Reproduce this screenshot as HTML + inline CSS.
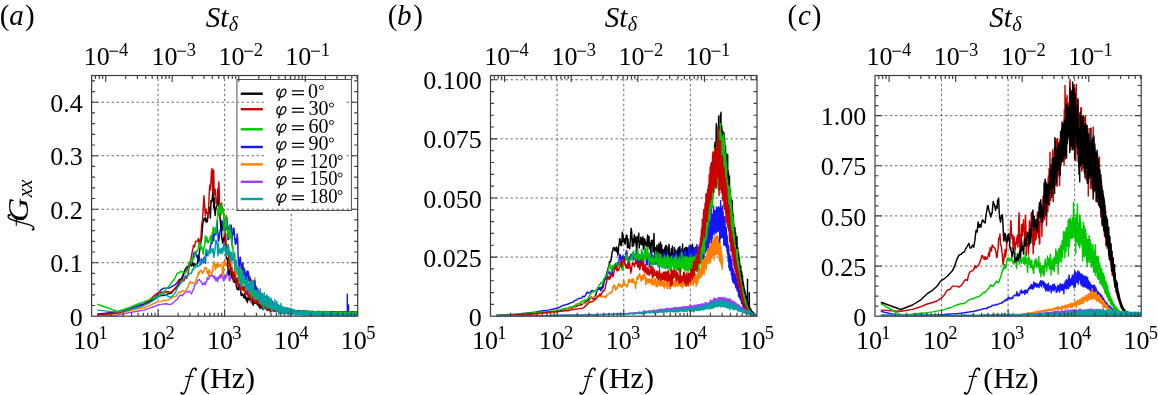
<!DOCTYPE html><html><head><meta charset="utf-8"><style>html,body{margin:0;padding:0;background:#fff;width:1158px;height:395px;overflow:hidden}text{fill:#000}</style></head><body><svg width="1158" height="395" viewBox="0 0 1158 395" style="position:absolute;left:0;top:0;will-change:transform;font-family:'Liberation Serif',serif">
<rect width="1158" height="395" fill="#fff"/>
<path d="M158.12 316.20V75.50M224.65 316.20V75.50M291.18 316.20V75.50M91.60 262.71H357.70M91.60 209.22H357.70M91.60 155.73H357.70M91.60 102.24H357.70" stroke="#5a5a5a" stroke-width="0.9" stroke-dasharray="2.45 2.55" fill="none"/>
<path d="M557.12 316.20V75.50M623.75 316.20V75.50M690.38 316.20V75.50M490.50 257.09H757.00M490.50 197.98H757.00M490.50 138.87H757.00M490.50 79.76H757.00" stroke="#5a5a5a" stroke-width="0.9" stroke-dasharray="2.45 2.55" fill="none"/>
<path d="M941.55 316.20V75.50M1008.10 316.20V75.50M1074.65 316.20V75.50M875.00 266.05H1141.20M875.00 215.91H1141.20M875.00 165.76H1141.20M875.00 115.62H1141.20" stroke="#5a5a5a" stroke-width="0.9" stroke-dasharray="2.45 2.55" fill="none"/>
<clipPath id="cpa"><rect x="91.6" y="75.5" width="266.1" height="240.7"/></clipPath><g clip-path="url(#cpa)" fill="none" stroke-width="1.45" stroke-linejoin="round"><path d="M97.4 315.6 117.4 315.0 129.1 312.6 137.4 311.3 143.9 310.1 149.1 308.4 153.6 306.8 157.4 305.3 160.8 304.4 163.9 304.0 166.6 303.8 169.2 304.5 171.5 304.1 173.6 302.5 175.6 300.5 177.5 299.2 179.2 296.2 180.9 294.9 182.4 295.8 183.9 293.8 185.3 292.7 186.7 291.5 188.0 291.9 189.2 291.0 190.4 292.6 191.5 293.9 192.6 290.5 193.6 289.4 194.6 285.2 195.6 284.1 196.6 283.7 197.5 280.5 198.4 280.1 199.2 279.4 200.1 280.9 200.9 281.6 201.7 282.4 202.5 284.7 203.2 284.6 203.9 282.9 204.7 283.0 205.3 284.9 206.0 281.4 206.7 281.5 207.3 277.6 208.0 279.3 208.6 278.5 209.2 278.3 209.8 275.2 210.4 276.0 211.0 275.9 211.5 275.2 212.1 274.8 212.6 276.2 213.1 276.9 213.7 276.8 214.2 278.5 214.7 276.0 215.2 277.9 215.7 280.6 216.1 280.1 216.6 279.7 217.1 277.3 217.5 281.7 218.0 279.0 218.4 277.5 218.8 278.6 219.3 277.6 219.7 275.1 220.1 274.9 220.5 278.0 220.9 275.5 221.3 276.2 221.7 274.0 222.1 276.8 222.5 275.8 222.9 276.9 223.2 280.7 223.6 279.0 224.0 277.7 224.3 276.6 224.7 279.0 225.0 275.5 225.4 277.7 225.7 278.2 226.1 276.6 226.4 276.8 226.7 274.7 227.0 273.7 227.4 271.8 227.7 272.3 228.0 274.6 228.3 275.4 228.6 275.1 228.9 276.4 229.2 280.8 229.5 280.3 229.8 278.3 230.1 280.0 230.4 278.2 230.7 278.3 231.0 274.3 231.3 275.3 231.5 275.0 231.8 274.4 232.1 277.3 232.4 278.7 232.6 277.8 232.9 278.8 233.2 278.6 233.4 277.2 233.7 279.5 233.9 279.1 234.2 277.4 234.4 280.7 234.7 278.6 234.9 281.1 235.2 281.9 235.4 281.2 235.7 281.3 235.9 280.6 236.2 284.3 236.4 286.4 236.6 282.7 236.9 279.9 237.1 282.1 237.3 284.2 237.5 285.6 237.8 283.1 238.0 285.1 238.2 283.2 238.4 285.8 238.7 283.7 238.9 284.9 239.1 285.2 239.3 285.7 239.5 287.1 239.7 286.5 239.9 285.9 240.1 286.8 240.3 287.1 240.5 283.3 240.7 284.6 240.9 284.1 241.1 283.5 241.3 285.1 241.5 285.6 241.7 285.8 241.9 287.3 242.1 287.0 242.3 288.6 242.5 287.8 242.7 289.5 242.9 288.7 243.1 286.6 243.3 286.4 243.4 287.8 243.6 288.5 243.8 289.0 244.0 288.9 244.2 287.3 244.3 286.3 244.5 287.9 244.7 286.6 244.9 287.2 245.1 285.5 245.2 284.9 245.4 286.9 245.6 287.9 245.7 289.4 245.9 289.4 246.1 289.4 246.2 290.4 246.4 289.8 246.6 291.7 246.7 291.1 246.9 289.8 247.1 290.2 247.2 289.6 247.4 288.6 247.6 287.5 247.7 287.7 247.9 288.7 248.0 288.3 248.2 287.0 248.3 291.9 248.5 291.3 248.7 293.3 248.8 293.9 249.0 292.7 249.1 291.8 249.3 291.5 249.4 292.0 249.6 295.7 249.7 293.7 249.9 293.4 250.0 293.1 250.1 293.0 250.3 289.6 250.4 292.0 250.6 289.5 250.7 289.5 250.9 292.6 251.0 291.9 251.2 295.3 251.3 295.7 251.4 294.9 251.6 294.2 251.7 292.3 251.8 295.0 252.0 292.6 252.1 294.6 252.3 294.3 252.4 295.2 252.5 296.8 252.7 296.6 252.8 295.8 252.9 295.4 253.1 293.5 253.2 295.7 253.3 295.8 253.5 295.7 253.6 296.3 253.7 296.1 253.8 296.5 254.0 295.6 254.1 297.3 254.2 297.9 254.3 297.0 254.5 295.0 254.6 296.7 254.7 297.2 254.9 296.8 255.0 297.1 255.1 296.9 255.2 296.6 255.3 296.3 255.5 295.8 255.6 296.2 255.7 297.0 255.8 297.3 255.9 298.0 256.1 297.8 256.2 298.2 256.3 297.6 256.4 297.4 256.5 297.2 256.7 298.7 256.8 296.3 256.9 297.4 257.0 298.9 257.1 297.2 257.2 298.3 257.3 298.4 257.5 298.0 257.6 299.2 257.7 298.4 257.8 298.1 257.9 297.2 258.0 299.2 258.1 300.1 258.2 297.8 258.3 301.1 258.5 299.8 258.6 300.7 258.7 300.4 258.8 297.6 258.9 298.1 259.0 299.1 259.1 299.5 259.2 299.3 259.3 299.9 259.4 298.7 259.5 298.6 259.6 298.5 259.7 298.6 259.8 299.4 260.0 300.8 260.1 299.8 260.2 300.2 260.3 299.4 260.4 299.5 260.5 300.3 260.6 298.3 260.7 301.0 260.8 299.1 260.9 301.4 261.0 301.7 261.1 301.1 261.2 301.5 261.3 300.4 261.4 298.1 261.5 298.4 261.6 298.0 261.7 299.1 261.8 299.6 261.9 299.5 262.0 297.9 262.1 301.3 262.2 299.6 262.2 300.5 262.3 302.8 262.4 301.6 262.5 301.8 262.6 301.7 262.7 300.1 262.8 300.4 262.9 298.4 263.0 300.4 263.1 300.5 263.2 300.2 263.3 300.5 263.4 301.0 263.5 302.2 263.6 302.8 263.7 305.0 263.7 303.7 263.8 303.3 263.9 302.0 264.0 302.8 264.1 301.9 264.2 303.1 264.3 303.9 264.4 303.6 264.5 303.9 264.6 303.8 264.6 303.8 264.7 302.5 264.8 301.5 264.9 301.9 265.0 299.9 265.1 300.4 265.2 301.5 265.3 302.4 265.3 301.0 265.4 302.1 265.5 301.6 265.6 303.0 265.7 303.3 265.8 303.2 265.9 304.3 265.9 303.5 266.0 304.6 266.2 302.1 266.4 303.2 266.4 302.8 266.5 302.9 266.6 303.5 266.7 303.5 266.8 303.6 266.9 302.5 266.9 302.1 267.0 302.2 267.1 303.2 267.2 304.1 267.3 304.7 267.3 303.3 267.4 301.4 267.5 302.6 267.6 302.5 267.7 303.4 267.7 303.2 267.9 302.8 268.0 303.8 268.1 303.0 268.1 303.9 268.2 302.2 268.3 303.1 268.4 303.5 268.4 304.3 268.5 305.7 268.6 305.9 268.7 304.4 268.8 304.2 269.1 302.3 269.1 303.1 269.2 303.7 269.3 303.8 269.4 304.5 269.4 304.5 269.7 303.2 269.7 304.3 269.8 304.5 269.9 304.0 270.0 304.3 270.0 305.3 270.1 305.9 270.2 305.2 270.3 306.3 270.4 306.0 270.5 305.1 270.6 306.8 270.8 304.9 270.8 305.1 270.9 304.4 271.1 305.2 271.2 306.1 271.3 307.3 271.5 306.5 271.5 305.8 271.6 305.9 271.7 305.5 271.7 305.1 271.8 305.9 271.9 304.5 272.1 305.9 272.1 305.8 272.3 306.2 272.4 305.3 272.5 305.0 272.6 304.7 272.6 305.9 272.8 305.4 272.8 305.5 273.2 307.8 273.2 307.8 273.5 304.2 273.5 305.4 273.6 306.4 273.8 304.7 273.9 305.6 273.9 304.4 274.1 308.7 274.2 306.9 274.2 307.3 274.4 304.6 274.5 305.0 274.6 304.5 274.8 306.7 274.9 307.2 275.0 308.2 275.2 307.4 275.2 308.8 275.3 307.5 275.5 307.9 275.6 307.3 275.7 308.3 275.9 306.2 275.9 306.5 276.0 305.0 276.2 307.2 276.3 307.6 276.4 308.2 276.5 307.0 276.6 307.7 276.6 307.7 276.9 309.4 276.9 309.1 277.0 308.1 277.1 310.2 277.2 309.7 277.3 309.5 277.4 307.5 277.5 309.2 277.6 309.7 277.9 308.1 277.9 308.1 278.2 308.6 278.2 308.1 278.3 307.2 278.6 310.4 278.6 310.5 278.9 308.6 279.0 307.8 279.0 306.8 279.2 308.3 279.3 308.3 279.3 309.7 279.6 309.5 279.7 309.2 279.8 309.7 279.9 309.0 280.0 308.6 280.0 307.8 280.2 309.2 280.3 308.7 280.3 308.4 280.4 308.3 280.5 309.5 280.6 309.2 280.6 309.5 280.8 307.8 280.9 310.1 281.0 310.8 281.1 310.9 281.2 308.1 281.3 309.6 281.3 309.5 281.6 311.7 281.6 311.6 281.7 311.6 281.9 312.6 282.0 310.7 282.0 310.2 282.1 310.7 282.3 309.2 282.4 308.5 282.6 310.5 282.7 309.6 282.7 309.9 282.8 311.2 283.0 309.8 283.0 308.6 283.3 310.7 283.4 309.9 283.4 309.8 283.5 308.8 283.7 310.3 283.7 310.8 284.0 310.1 284.0 309.8 284.4 312.7 284.4 311.8 284.4 310.4 284.7 311.5 284.8 311.4 284.9 311.1 285.0 312.3 285.0 311.8 285.1 312.0 285.3 309.3 285.4 310.5 285.4 311.5 285.5 311.7 285.6 310.1 285.7 310.5 285.8 310.9 285.8 311.4 286.0 310.1 286.0 310.7 286.1 310.5 286.2 311.3 286.4 310.8 286.4 309.9 286.8 312.9 286.8 312.8 287.1 310.6 287.1 310.2 287.2 310.0 287.3 311.4 287.4 310.5 287.4 310.5 287.5 310.2 287.6 312.1 287.8 311.5 287.8 310.4 288.0 311.3 288.1 311.3 288.1 311.2 288.2 312.0 288.4 311.2 288.5 310.4 288.7 311.9 288.8 311.0 288.8 311.8 289.0 311.3 289.1 312.0 289.2 311.9 289.3 310.8 289.3 312.2 289.5 311.8 289.5 312.6 289.5 312.0 289.7 313.1 289.8 312.1 289.8 311.4 290.0 312.1 290.0 311.1 290.1 311.3 290.2 311.5 290.2 310.9 290.4 312.1 290.5 312.0 290.5 312.0 290.6 312.8 290.7 311.5 290.8 311.6 290.8 311.5 290.9 311.5 291.1 312.2 291.2 311.8 291.2 311.9 291.2 312.4 291.5 311.2 291.5 311.4 291.6 311.8 291.7 311.2 291.8 312.3 291.9 312.0 291.9 312.3 292.0 310.8 292.2 312.1 292.2 312.8 292.5 310.6 292.5 310.6 292.8 311.8 292.8 311.6 292.9 310.8 293.0 312.9 293.2 312.2 293.2 311.8 293.3 312.1 293.5 310.7 293.5 311.0 293.6 311.6 293.9 312.6 293.9 312.7 294.0 311.8 294.2 312.3 294.2 311.8 294.4 313.0 294.6 311.9 294.6 311.9 294.8 311.5 294.9 312.4 294.9 312.5 295.2 312.1 295.2 312.7 295.3 312.0 295.4 311.2 295.5 313.0 295.6 312.2 295.6 312.0 295.7 311.6 295.8 312.6 295.9 312.4 296.0 312.5 296.0 313.1 296.2 311.4 296.3 311.5 296.3 311.6 296.5 311.5 296.5 312.7 296.6 312.2 296.6 311.5 296.7 311.5 296.8 313.2 296.9 312.1 297.0 312.2 297.1 313.1 297.3 313.0 297.3 313.3 297.4 313.5 297.5 312.0 297.6 312.2 297.7 312.6 297.8 311.6 298.0 312.1 298.0 311.8 298.1 313.7 298.3 312.9 298.3 313.0 298.4 313.4 298.6 312.2 298.6 312.8 298.7 312.6 298.8 311.5 298.9 313.0 299.0 312.5 299.0 312.5 299.2 313.0 299.3 312.0 299.3 312.3 299.4 312.0 299.6 313.2 299.7 312.5 299.7 312.4 299.9 312.5 300.0 311.4 300.0 311.8 300.1 312.6 300.3 312.2 300.4 312.3 300.5 312.9 300.6 311.8 300.7 312.6 300.7 312.6 300.8 311.8 301.0 312.8 301.0 312.7 301.0 312.8 301.2 313.4 301.4 311.9 301.4 311.6 301.5 313.2 301.7 311.7 301.7 312.1 301.8 313.4 302.1 312.1 302.1 311.9 302.2 313.3 302.4 312.8 302.4 312.6 302.5 312.9 302.7 312.1 302.7 312.3 302.8 311.9 302.9 311.5 303.0 313.1 303.1 312.7 303.1 312.7 303.1 312.2 303.4 313.3 303.4 312.9 303.4 312.7 303.6 311.3 303.7 313.0 303.8 312.7 303.8 312.0 303.8 313.1 304.1 312.4 304.1 312.7 304.2 313.4 304.4 312.1 304.4 312.7 304.5 312.1 304.5 311.8 304.6 312.8 304.8 311.8 304.8 311.8 305.0 313.3 305.1 312.3 305.1 312.9 305.3 313.9 305.4 311.9 305.5 312.5 305.5 312.4 305.6 313.1 305.8 312.0 305.8 312.0 305.8 311.9 305.9 311.8 306.0 313.0 306.1 312.8 306.2 312.5 306.2 313.5 306.4 312.3 306.5 313.2 306.5 313.7 306.6 313.9 306.7 312.2 306.8 312.8 306.8 312.5 307.1 312.2 307.1 313.4 307.1 312.8 307.2 312.5 307.2 311.9 307.4 313.8 307.5 313.4 307.5 313.0 307.7 313.3 307.8 312.1 307.9 311.8 308.2 313.4 308.2 313.7 308.4 312.1 308.5 313.1 308.5 313.0 308.6 313.8 308.7 311.2 308.8 312.2 308.9 312.3 309.1 311.9 309.2 313.5 309.2 313.4 309.4 312.2 309.5 313.0 309.5 312.9 309.7 311.9 309.8 313.2 309.9 312.4 309.9 312.8 310.0 313.5 310.2 312.5 310.2 312.4 310.4 313.2 310.5 312.2 310.6 312.7 310.6 312.8 310.8 313.8 310.8 312.3 310.9 312.7 310.9 312.9 311.1 312.3 311.2 313.6 311.2 313.6 311.2 313.4 311.4 311.5 311.5 313.8 311.6 312.4 311.6 312.7 311.7 313.6 311.8 312.0 311.9 313.0 311.9 312.8 312.0 311.7 312.2 313.8 312.3 313.6 312.3 313.7 312.3 313.7 312.4 311.6 312.6 312.6 312.6 312.5 312.6 312.1 312.9 313.2 312.9 312.7 313.0 312.8 313.1 313.5 313.2 312.6 313.3 313.0 313.3 313.2 313.6 311.8 313.6 311.9 313.8 313.4 314.0 312.7 314.0 312.9 314.2 313.2 314.3 311.8 314.3 312.3 314.3 312.3 314.6 313.4 314.6 313.1 314.6 313.3 314.9 312.1 315.0 312.8 315.0 313.1 315.2 311.6 315.3 313.4 315.3 313.0 315.3 313.2 315.4 313.4 315.4 312.1 315.6 312.8 315.7 313.2 315.7 313.7 315.8 312.6 316.0 312.6 316.0 312.7 316.1 313.4 316.3 312.1 316.3 312.4 316.6 313.1 316.7 312.3 316.7 312.6 316.7 313.3 316.8 312.5 317.0 312.7 317.0 312.9 317.1 313.5 317.2 311.7 317.4 312.9 317.4 312.8 317.5 313.4 317.7 312.2 317.7 312.3 317.7 312.6 317.7 312.5 318.0 313.6 318.0 312.9 318.0 313.1 318.2 313.3 318.3 312.1 318.4 312.2 318.4 312.1 318.6 313.7 318.7 313.2 318.7 313.7 318.9 313.8 319.0 312.7 319.1 313.0 319.1 312.9 319.2 312.2 319.3 313.6 319.4 313.4 319.4 313.0 319.6 313.7 319.7 312.1 319.7 312.7 319.7 313.1 319.9 314.1 320.0 312.1 320.1 312.3 320.1 312.4 320.1 313.6 320.4 313.3 320.4 313.4 320.6 312.1 320.7 313.7 320.7 313.0 320.8 313.0 321.0 312.1 321.1 313.7 321.1 313.0 321.1 313.0 321.2 313.3 321.3 312.4 321.4 312.6 321.4 312.8 321.6 313.7 321.6 312.5 321.8 313.3 321.8 313.6 321.8 313.8 321.8 312.5 322.1 312.8 322.1 312.5 322.2 313.7 322.5 313.1 322.5 312.9 322.5 313.8 322.6 312.2 322.8 313.5 322.8 313.3 323.0 314.2 323.0 312.5 323.1 312.6 323.1 312.9 323.2 313.5 323.4 312.2 323.5 313.1 323.5 313.4 323.5 313.5 323.7 312.1 323.8 313.0 323.8 312.4 324.1 313.4 324.1 312.2 324.2 312.3 324.2 312.5 324.5 313.8 324.5 313.5 324.6 312.2 324.8 312.8 324.8 312.6 324.9 312.3 325.0 313.8 325.2 313.0 325.2 313.2 325.3 312.4 325.4 313.6 325.5 313.0 325.5 312.8 325.7 312.7 325.8 313.7 325.9 313.6 325.9 313.1 325.9 313.7 326.0 312.5 326.2 312.9 326.2 312.9 326.3 313.7 326.5 312.7 326.5 313.3 326.5 313.0 326.6 313.8 326.7 312.6 326.9 313.0 326.9 313.2 327.0 312.2 327.1 313.7 327.2 313.0 327.2 313.5 327.2 313.8 327.4 312.8 327.6 313.0 327.6 313.4 327.6 313.7 327.9 312.2 327.9 312.9 327.9 313.1 327.9 312.4 328.1 313.7 328.2 312.9 328.2 313.1 328.3 313.8 328.4 311.9 328.6 312.8 328.6 312.7 328.7 312.3 328.9 313.8 328.9 313.5 328.9 313.8 329.0 312.5 329.3 313.1 329.3 312.9 329.4 312.2 329.5 313.9 329.6 313.0 329.6 312.9 329.7 313.7 329.8 312.3 329.9 312.9 329.9 313.1 330.0 312.5 330.2 313.4 330.3 313.2 330.3 313.7 330.3 314.3 330.5 312.7 330.6 313.1 330.6 312.6 330.6 312.4 330.8 313.6 331.0 313.0 331.0 313.2 331.1 313.8 331.3 312.1 331.3 312.2 331.3 312.8 331.4 313.7 331.6 312.4 331.6 312.8 331.6 312.7 331.7 313.7 331.9 311.8 332.0 312.1 332.0 312.4 332.1 313.9 332.3 313.2 332.3 313.3 332.4 314.2 332.5 312.5 332.7 313.6 332.7 313.3 332.9 314.1 333.0 312.6 333.0 313.1 333.0 313.2 333.1 312.7 333.3 313.8 333.3 313.3 333.3 313.5 333.6 312.5 333.7 314.1 333.7 313.6 333.8 314.2 333.9 312.5 334.0 313.1 334.0 313.1 334.2 313.8 334.3 312.5 334.4 313.0 334.4 313.2 334.4 312.3 334.6 313.6 334.7 313.2 334.7 313.3 335.0 313.9 335.0 312.7 335.0 313.1 335.0 313.2 335.3 313.7 335.3 312.4 335.4 313.4 335.4 313.9 335.7 314.1 335.7 312.7 335.7 312.7 335.7 312.8 335.8 312.4 336.0 314.0 336.1 313.2 336.1 313.1 336.1 312.3 336.2 313.9 336.4 313.4 336.4 313.3 336.5 314.3 336.5 312.6 336.7 313.0 336.7 312.9 336.8 314.2 337.0 312.4 337.1 312.5 337.1 313.1 337.2 312.6 337.3 314.0 337.4 312.7 337.4 313.1 337.6 312.6 337.6 313.8 337.8 312.9 337.8 313.0 338.0 314.0 338.1 312.8 338.1 312.6 338.2 313.8 338.3 312.3 338.4 313.3 338.4 313.3 338.5 312.4 338.7 313.7 338.8 312.6 338.8 312.8 339.1 314.0 339.1 313.7 339.1 313.5 339.3 312.2 339.4 313.8 339.5 313.4 339.5 314.0 339.5 314.2 339.6 312.6 339.8 312.9 339.8 312.9 339.9 314.0 340.1 312.6 340.1 313.6 340.1 313.7 340.1 313.7 340.3 312.4 340.5 313.4 340.5 313.2 340.6 314.4 340.7 312.4 340.8 312.6 340.8 312.5 341.0 312.3 341.0 314.2 341.2 313.0 341.2 313.1 341.3 312.5 341.3 314.1 341.5 313.4 341.5 313.4 341.5 314.0 341.6 312.5 341.8 312.9 341.8 313.1 342.0 314.1 342.0 312.5 342.2 313.8 342.2 313.5 342.3 312.7 342.5 314.2 342.5 313.4 342.5 313.3 342.6 314.4 342.8 312.6 342.9 313.8 342.9 313.9 343.0 312.6 343.0 314.0 343.2 313.8 343.2 313.6 343.4 314.2 343.4 312.6 343.5 313.4 343.5 313.1 343.6 314.0 343.6 312.8 343.9 313.2 343.9 313.2 344.0 314.4 344.1 312.6 344.2 313.6 344.2 313.8 344.5 314.0 344.5 312.3 344.6 312.8 344.6 312.5 344.7 313.9 344.9 312.3 344.9 313.3 344.9 312.9 344.9 312.5 345.0 313.9 345.2 313.0 345.2 313.2 345.3 314.0 345.5 312.6 345.6 312.9 345.6 313.2 345.7 312.5 345.8 314.3 345.9 313.2 345.9 313.1 346.0 312.7 346.1 314.0 346.3 313.0 346.3 313.2 346.3 312.6 346.4 314.1 346.6 313.2 346.6 312.9 346.8 312.5 346.8 313.9 346.9 312.9 346.9 313.2 347.0 312.6 347.2 314.1 347.3 313.3 347.3 313.7 347.4 314.5 347.5 312.5 347.6 312.8 347.6 312.8 347.6 312.2 347.7 313.7 348.0 312.8 348.0 312.6 348.0 314.4 348.3 312.8 348.3 312.7 348.4 314.4 348.5 312.2 348.6 312.5 348.6 312.8 348.7 312.3 348.9 313.9 349.0 313.0 349.0 312.9 349.1 314.2 349.3 312.1 349.3 313.8 349.3 313.7 349.4 314.1 349.6 312.4 349.7 313.1 349.7 312.8 349.8 312.5 349.9 314.3 350.0 313.8 350.0 313.6 350.0 312.6 350.3 314.2 350.3 313.3 350.3 313.4 350.5 312.4 350.6 313.9 350.7 313.4 350.7 313.1 350.8 314.1 350.8 312.6 351.0 313.2 351.0 313.1 351.1 313.9 351.2 312.3 351.4 313.5 351.4 313.7 351.5 312.6 351.7 313.9 351.7 312.9 351.7 312.7 351.8 314.0 352.0 312.5 352.0 313.2 352.0 313.0 352.2 312.6 352.3 314.1 352.4 313.2 352.4 313.4 352.5 312.7 352.6 313.9 352.7 313.9 352.7 313.6 352.8 312.7 352.9 314.1 353.1 313.5 353.1 313.3 353.3 314.0 353.4 312.6 353.4 313.0 353.4 313.3 353.4 313.9 353.5 312.7 353.7 313.6 353.7 314.0 353.7 314.3 354.0 312.4 354.1 312.9 354.1 313.2 354.1 312.4 354.3 314.0 354.4 313.5 354.4 313.4 354.4 312.6 354.7 314.0 354.8 313.2 354.8 313.5 354.8 312.7 354.9 314.1 355.1 313.3 355.1 313.7 355.1 314.2 355.3 312.6 355.4 313.2 355.4 313.1 355.6 312.8 355.8 314.1 355.8 313.7 355.8 313.6 355.8 312.5 355.9 314.1 356.1 312.9 356.1 313.4 356.1 314.3 356.4 312.6 356.5 313.3 356.5 313.1 356.6 312.7 356.8 313.8 356.8 313.3 356.8 313.3 356.8 312.5 357.0 314.3 357.1 313.1 357.1 313.0 357.2 312.6 357.3 314.1 357.5 312.7 357.5 312.9 357.7 312.6 357.7 313.8" stroke="#9940ff"/><path d="M97.4 315.1 117.4 313.9 129.1 310.8 137.4 308.9 143.9 307.7 149.1 305.9 153.6 303.6 157.4 301.9 160.8 301.6 163.9 300.2 166.6 300.6 169.2 299.3 171.5 298.2 173.6 296.6 175.6 296.6 177.5 294.0 179.2 292.0 180.9 292.2 182.4 290.5 183.9 291.1 185.3 292.0 186.7 288.9 188.0 287.1 189.2 283.3 190.4 281.4 191.5 283.5 192.6 282.7 193.6 283.5 194.6 282.7 195.6 281.4 196.6 277.6 197.5 277.2 198.4 272.3 199.2 273.9 200.1 270.4 200.9 270.3 201.7 271.5 202.5 273.6 203.2 271.5 203.9 271.7 204.7 268.1 205.3 268.6 206.0 267.4 206.7 269.3 207.3 273.3 208.0 271.2 208.6 276.1 209.2 269.4 209.8 272.1 210.4 272.1 211.0 272.3 211.5 274.3 212.1 272.0 212.6 271.6 213.1 265.8 213.7 264.8 214.2 261.7 214.7 262.7 215.2 269.7 215.7 269.3 216.1 265.6 216.6 264.0 217.1 265.0 217.5 267.4 218.0 263.6 218.4 266.2 218.8 266.1 219.3 266.6 219.7 265.2 220.1 264.9 220.5 265.1 220.9 263.8 221.3 265.8 221.7 265.3 222.1 268.4 222.5 274.2 222.9 276.1 223.2 274.0 223.6 265.8 224.0 261.6 224.3 265.3 224.7 263.2 225.0 260.7 225.4 261.5 225.7 264.8 226.1 265.5 226.4 265.3 226.7 264.8 227.0 266.1 227.4 263.3 227.7 264.7 228.0 261.0 228.3 256.7 228.6 255.2 228.9 260.7 229.2 255.7 229.5 257.8 229.8 266.7 230.1 263.9 230.4 265.7 230.7 266.3 231.0 269.7 231.3 265.4 231.5 261.6 231.8 269.2 232.1 272.4 232.4 274.0 232.6 276.2 232.9 278.1 233.2 280.7 233.4 277.2 233.7 275.7 233.9 272.8 234.2 271.4 234.4 270.9 234.7 269.1 234.9 273.1 235.2 275.6 235.4 272.7 235.7 275.5 235.9 272.9 236.2 271.0 236.4 273.5 236.6 275.0 236.9 273.9 237.1 270.7 237.3 272.0 237.5 268.2 237.8 272.4 238.0 270.4 238.2 272.7 238.4 271.2 238.7 268.1 238.9 268.1 239.1 267.5 239.3 263.9 239.5 267.2 239.7 264.2 239.9 266.6 240.1 268.4 240.3 273.4 240.5 269.7 240.7 268.9 240.9 271.0 241.1 270.6 241.3 272.5 241.5 273.3 241.7 273.3 241.9 274.0 242.1 275.7 242.3 275.4 242.5 276.3 242.7 274.4 242.9 275.5 243.1 274.7 243.3 272.8 243.4 272.6 243.6 278.7 243.8 274.2 244.0 273.7 244.2 276.4 244.3 277.4 244.5 277.5 244.7 276.5 244.9 277.8 245.1 275.6 245.2 272.5 245.4 278.7 245.6 279.3 245.7 277.9 245.9 284.1 246.1 280.7 246.2 280.7 246.4 280.5 246.6 280.2 246.7 279.7 246.9 274.2 247.1 275.1 247.2 273.8 247.4 277.4 247.6 281.8 247.7 282.4 247.9 280.9 248.0 278.0 248.2 277.2 248.3 276.9 248.5 276.4 248.7 277.5 248.8 275.8 249.0 278.8 249.1 279.0 249.3 277.4 249.4 281.2 249.6 278.2 249.7 280.1 249.9 276.7 250.0 280.0 250.1 282.4 250.3 280.3 250.4 281.7 250.6 280.2 250.7 279.2 250.9 280.2 251.0 280.7 251.2 280.3 251.3 282.3 251.4 285.2 251.6 285.5 251.7 284.1 251.8 280.9 252.0 283.2 252.1 280.5 252.3 280.1 252.4 280.4 252.5 281.5 252.7 283.1 252.8 283.5 252.9 283.4 253.1 285.8 253.2 286.6 253.3 286.4 253.5 287.4 253.6 286.0 253.7 290.3 253.8 291.3 254.0 294.5 254.1 292.7 254.2 289.3 254.3 289.5 254.5 288.6 254.6 287.4 254.7 280.4 254.9 277.8 255.0 281.0 255.1 280.0 255.2 282.5 255.3 284.5 255.5 288.3 255.6 291.4 255.7 292.0 255.8 293.1 255.9 289.4 256.1 291.2 256.2 291.1 256.3 288.2 256.4 292.9 256.5 295.5 256.7 294.9 256.8 295.8 256.9 292.6 257.0 290.4 257.1 291.7 257.2 290.4 257.3 290.8 257.5 291.2 257.6 291.7 257.7 290.4 257.8 293.5 257.9 293.0 258.0 293.4 258.1 296.0 258.2 291.9 258.3 291.4 258.5 292.7 258.6 291.7 258.7 290.3 258.8 290.5 258.9 291.6 259.0 291.7 259.1 291.2 259.2 293.6 259.3 293.9 259.4 294.7 259.5 295.4 259.6 294.0 259.7 296.7 259.8 296.5 260.0 299.3 260.1 296.8 260.2 297.1 260.3 296.7 260.4 296.1 260.5 295.6 260.6 297.5 260.7 296.7 260.8 297.6 260.9 300.0 261.0 298.7 261.1 298.8 261.2 297.3 261.3 296.5 261.4 298.2 261.5 298.0 261.6 298.3 261.7 298.4 261.8 296.5 261.9 297.5 262.0 295.4 262.1 296.0 262.2 296.5 262.2 298.7 262.3 299.6 262.4 297.8 262.5 297.0 262.6 297.1 262.7 298.2 262.8 300.1 262.9 299.0 263.0 296.0 263.1 297.2 263.2 295.4 263.3 299.5 263.4 297.2 263.5 297.5 263.6 296.6 263.7 298.5 263.7 297.8 263.8 299.5 263.9 299.7 264.0 300.1 264.1 301.2 264.2 301.9 264.3 301.5 264.4 300.8 264.5 298.9 264.6 299.0 264.6 299.2 264.7 298.3 264.8 299.5 264.9 300.0 265.0 300.7 265.1 301.3 265.2 300.1 265.3 301.8 265.3 300.3 265.4 300.5 265.5 301.0 265.6 298.6 265.7 298.6 265.8 299.8 265.9 300.5 265.9 300.4 266.0 302.6 266.2 300.4 266.4 301.0 266.4 300.9 266.5 301.1 266.6 301.4 266.7 301.2 266.8 302.1 266.9 301.5 266.9 302.7 267.0 303.4 267.1 301.5 267.2 299.0 267.3 297.7 267.3 301.4 267.4 302.4 267.5 302.4 267.6 302.5 267.7 303.6 267.7 303.0 267.8 304.6 268.1 302.7 268.1 302.2 268.2 303.0 268.3 304.8 268.4 306.8 268.4 306.4 268.5 306.0 268.6 304.6 268.7 303.3 268.8 302.0 269.0 301.4 269.1 301.6 269.1 299.8 269.2 299.9 269.3 299.2 269.4 298.9 269.4 301.1 269.7 305.7 269.8 304.8 269.9 303.5 270.0 302.2 270.0 303.3 270.1 304.3 270.3 302.2 270.4 302.8 270.5 301.2 270.7 305.2 270.8 304.5 270.8 303.5 271.0 304.5 271.1 304.3 271.2 304.5 271.3 304.0 271.5 304.7 271.5 304.1 271.6 303.4 271.7 305.0 271.7 305.3 271.8 305.4 271.9 305.0 272.0 305.5 272.1 305.2 272.1 304.7 272.3 306.2 272.4 305.7 272.5 305.3 272.6 305.8 272.8 304.3 272.8 305.2 272.9 306.1 273.2 304.6 273.2 303.7 273.5 306.0 273.5 305.6 273.8 307.3 273.9 306.9 274.1 304.4 274.1 304.6 274.2 305.8 274.4 307.0 274.5 306.0 274.6 307.6 274.7 306.8 274.8 308.5 274.8 307.1 274.9 307.8 275.0 306.1 275.2 306.7 275.2 307.6 275.4 308.0 275.4 306.7 275.5 307.6 275.6 306.3 275.6 307.3 275.8 305.5 275.9 306.4 275.9 306.5 276.2 307.7 276.3 309.3 276.3 308.2 276.5 308.9 276.6 309.8 276.7 306.1 276.9 307.4 276.9 308.1 277.0 308.3 277.1 307.2 277.2 307.4 277.3 307.4 277.3 308.2 277.5 308.2 277.6 308.1 277.8 307.6 277.9 308.3 277.9 308.3 278.2 309.9 278.2 309.0 278.3 308.8 278.3 309.1 278.4 307.2 278.6 307.3 278.6 308.6 278.8 308.8 278.9 307.4 279.0 307.6 279.1 308.0 279.2 307.1 279.2 307.2 279.3 307.9 279.5 309.4 279.6 308.4 279.7 308.3 279.8 308.0 279.9 309.7 280.0 309.8 280.2 307.4 280.3 307.5 280.3 308.0 280.5 307.8 280.6 309.6 280.6 309.0 280.7 310.1 280.9 307.2 281.0 306.7 281.3 309.1 281.3 309.4 281.4 309.0 281.6 311.4 281.7 311.1 282.0 308.6 282.0 309.1 282.3 307.9 282.3 309.0 282.4 308.9 282.6 308.8 282.7 310.2 282.7 310.7 282.9 309.5 283.0 309.8 283.0 309.7 283.3 308.4 283.4 309.9 283.4 310.6 283.5 310.7 283.6 309.6 283.7 310.1 283.7 310.1 283.8 309.4 284.0 310.9 284.0 311.2 284.2 309.3 284.4 309.9 284.4 310.4 284.5 309.3 284.7 311.2 284.8 310.7 284.9 309.5 285.0 309.6 285.1 310.3 285.2 311.0 285.4 310.4 285.4 310.3 285.5 311.0 285.7 309.3 285.8 309.3 286.0 311.3 286.0 311.2 286.1 310.9 286.2 311.4 286.3 310.5 286.4 310.7 286.4 310.9 286.7 309.1 286.8 309.9 286.8 309.9 287.0 311.3 287.1 311.2 287.1 310.5 287.4 311.3 287.4 311.3 287.5 311.5 287.6 309.5 287.8 310.3 287.8 310.6 288.0 310.3 288.1 311.6 288.1 311.2 288.4 311.8 288.4 311.4 288.5 312.0 288.5 312.5 288.7 310.6 288.8 311.9 288.8 312.3 288.9 311.4 289.1 311.8 289.2 311.4 289.3 311.6 289.4 310.1 289.5 311.2 289.5 311.0 289.5 311.9 289.8 310.6 289.8 310.3 289.9 309.8 290.1 312.2 290.1 311.4 290.2 311.3 290.3 310.7 290.4 312.0 290.5 311.6 290.5 311.1 290.7 310.5 290.8 312.0 290.8 312.3 291.0 310.7 291.2 311.4 291.2 311.2 291.2 311.7 291.4 311.1 291.5 311.1 291.6 311.2 291.7 312.5 291.8 311.1 291.9 311.5 292.0 311.3 292.1 312.6 292.2 311.8 292.2 311.7 292.3 312.5 292.5 311.7 292.5 312.0 292.6 311.7 292.8 312.9 292.9 313.0 293.2 310.9 293.2 311.5 293.3 312.5 293.5 312.2 293.6 312.0 293.8 312.4 293.9 311.4 293.9 311.6 294.0 311.4 294.1 312.8 294.2 312.3 294.2 312.1 294.4 310.6 294.6 311.7 294.6 311.8 294.6 311.3 294.7 312.2 294.9 311.7 294.9 310.8 295.2 312.5 295.3 312.6 295.4 312.7 295.6 311.4 295.6 312.2 295.6 312.4 295.7 311.3 295.9 312.0 296.0 311.6 296.2 312.3 296.3 311.5 296.3 311.8 296.5 313.2 296.6 312.4 296.6 312.4 296.8 313.3 296.9 311.7 297.0 312.0 297.3 313.0 297.3 312.7 297.3 312.6 297.4 311.6 297.5 312.9 297.6 312.7 297.7 312.5 297.7 313.0 297.9 311.5 298.0 312.1 298.0 311.5 298.2 312.8 298.3 312.7 298.3 313.0 298.6 312.1 298.7 312.2 298.7 311.4 299.0 313.0 299.0 312.8 299.2 311.8 299.3 313.6 299.3 312.9 299.5 311.9 299.6 313.0 299.7 312.3 299.7 312.4 299.9 311.1 300.0 311.5 300.0 311.9 300.1 311.8 300.2 312.9 300.3 312.0 300.4 311.9 300.4 311.7 300.5 312.6 300.7 312.5 300.7 312.5 300.8 313.4 301.0 311.9 301.0 312.4 301.1 312.9 301.3 311.9 301.4 312.8 301.4 312.7 301.4 311.9 301.7 313.3 301.7 313.4 302.0 312.2 302.1 313.4 302.1 313.4 302.2 312.1 302.4 312.6 302.4 312.7 302.5 311.8 302.7 313.1 302.7 313.1 302.8 313.0 302.9 312.2 302.9 313.0 303.1 312.3 303.1 312.3 303.2 312.0 303.4 313.4 303.4 312.9 303.4 312.8 303.6 311.7 303.8 313.5 303.8 313.2 304.0 311.3 304.1 312.8 304.1 312.7 304.3 313.3 304.3 312.1 304.4 312.9 304.5 312.5 304.6 313.1 304.6 312.0 304.8 312.1 304.8 312.4 304.8 313.0 305.1 311.6 305.1 312.0 305.2 311.7 305.5 312.8 305.5 313.0 305.6 311.9 305.8 312.9 305.8 313.2 305.9 313.8 306.1 311.8 306.2 312.4 306.2 313.5 306.3 311.6 306.5 312.5 306.5 312.2 306.6 312.6 306.7 311.8 306.8 312.6 306.8 312.4 307.0 313.0 307.1 312.3 307.1 312.4 307.2 312.1 307.3 311.7 307.4 312.7 307.5 311.9 307.5 311.4 307.7 313.3 307.8 312.2 307.9 312.2 308.0 311.8 308.1 313.6 308.2 313.5 308.2 312.7 308.3 313.5 308.4 312.0 308.5 312.7 308.5 312.5 308.6 313.4 308.8 311.9 308.8 312.6 308.9 312.4 309.1 312.0 309.1 313.4 309.2 312.3 309.2 311.8 309.3 311.8 309.4 313.3 309.5 312.3 309.5 312.1 309.7 312.8 309.8 311.8 309.9 312.1 309.9 312.5 310.0 311.9 310.2 313.4 310.2 313.3 310.4 311.8 310.6 313.6 310.6 313.4 310.7 313.8 310.9 312.0 310.9 312.6 310.9 312.4 310.9 312.9 311.2 311.5 311.2 311.6 311.2 311.6 311.6 313.6 311.6 313.5 311.9 312.0 311.9 312.2 311.9 312.3 312.0 313.2 312.1 311.7 312.3 312.5 312.3 312.7 312.3 313.2 312.5 312.2 312.6 312.8 312.6 313.0 312.7 312.4 312.9 313.7 312.9 313.0 313.0 312.8 313.0 311.6 313.3 313.6 313.3 313.2 313.4 313.3 313.6 312.2 313.6 312.4 313.6 311.7 313.8 313.3 314.0 312.6 314.0 313.1 314.1 311.8 314.3 313.2 314.3 313.0 314.3 312.7 314.4 311.6 314.6 313.0 314.6 312.3 314.6 312.3 314.7 313.4 315.0 312.9 315.0 313.3 315.0 313.6 315.1 312.3 315.3 313.3 315.3 313.2 315.4 313.3 315.4 312.1 315.6 312.7 315.7 312.4 315.8 313.4 315.9 312.1 316.0 312.5 316.0 313.0 316.1 312.3 316.3 313.3 316.3 313.4 316.6 313.5 316.6 312.4 316.7 312.6 316.7 313.5 317.0 312.1 317.0 313.4 317.0 313.6 317.1 312.0 317.4 312.7 317.4 313.0 317.4 313.4 317.5 312.3 317.7 312.6 317.7 312.6 317.8 312.0 317.9 313.4 318.0 312.9 318.0 312.3 318.2 312.1 318.3 313.3 318.4 313.1 318.4 312.9 318.4 312.4 318.7 313.5 318.7 313.0 318.7 313.0 318.8 312.5 319.0 313.5 319.1 312.6 319.1 313.1 319.1 312.4 319.2 314.2 319.4 313.6 319.4 313.2 319.4 313.8 319.7 312.3 319.7 312.9 319.7 313.1 319.9 313.6 320.0 312.2 320.1 312.8 320.1 312.8 320.3 312.4 320.4 313.7 320.4 312.7 320.4 313.0 320.5 313.6 320.6 312.4 320.7 313.1 320.8 313.3 321.0 312.3 321.1 313.5 321.1 313.8 321.4 312.5 321.4 312.6 321.6 312.2 321.7 313.6 321.8 312.2 321.8 312.1 322.0 313.6 322.1 312.5 322.1 312.7 322.3 312.0 322.4 313.8 322.5 312.8 322.5 312.9 322.6 313.5 322.7 312.2 322.8 312.9 322.8 312.9 322.9 312.1 322.9 313.7 323.1 313.0 323.1 312.7 323.3 313.3 323.5 312.3 323.5 312.7 323.6 313.8 323.7 312.5 323.8 312.8 323.8 313.0 324.0 311.6 324.2 314.2 324.2 313.9 324.4 314.0 324.5 312.2 324.5 312.9 324.7 312.1 324.8 313.6 324.8 313.8 324.9 312.5 325.2 313.3 325.2 313.6 325.4 313.7 325.5 312.6 325.5 312.6 325.5 312.6 325.6 313.7 325.9 312.7 325.9 313.0 325.9 312.3 326.2 313.9 326.2 313.9 326.4 312.7 326.5 312.7 326.5 313.1 326.6 312.1 326.7 313.5 326.9 312.8 326.9 313.0 327.0 313.4 327.2 312.0 327.2 313.0 327.2 313.4 327.2 313.8 327.5 312.1 327.6 313.6 327.6 313.4 327.6 312.7 327.7 314.0 327.9 313.5 327.9 313.1 328.0 312.4 328.1 313.6 328.2 313.0 328.2 312.5 328.3 313.6 328.4 312.0 328.6 313.5 328.6 313.7 328.8 312.3 328.9 313.2 328.9 313.2 329.1 313.5 329.2 312.4 329.3 312.8 329.3 312.9 329.3 313.6 329.4 312.4 329.6 313.3 329.6 313.2 329.8 311.8 329.9 313.9 329.9 313.0 329.9 313.1 330.1 312.4 330.2 313.8 330.3 312.6 330.3 312.7 330.5 313.4 330.6 311.8 330.6 313.2 330.6 313.1 330.7 313.8 330.8 312.3 331.0 312.5 331.0 312.7 331.2 312.4 331.3 313.7 331.3 313.0 331.4 312.6 331.6 313.8 331.6 313.3 331.7 314.0 331.8 312.1 332.0 313.3 332.0 313.5 332.0 313.8 332.2 312.1 332.3 313.3 332.3 313.3 332.5 312.5 332.6 313.8 332.7 313.3 332.7 313.3 332.8 312.0 332.9 313.7 333.0 312.7 333.0 312.4 333.0 312.1 333.3 313.6 333.3 312.4 333.3 312.6 333.5 312.6 333.6 314.1 333.7 313.2 333.7 312.9 334.0 313.6 334.0 312.4 334.0 313.4 334.0 313.4 334.1 312.1 334.1 313.8 334.4 313.3 334.4 313.1 334.5 312.1 334.6 313.6 334.7 312.9 334.7 312.8 334.7 312.3 335.0 313.9 335.0 313.1 335.0 313.1 335.1 314.0 335.2 312.4 335.4 313.3 335.4 313.0 335.5 312.4 335.7 313.8 335.7 313.3 335.7 313.6 335.8 312.1 336.0 313.8 336.1 313.3 336.1 313.5 336.1 313.5 336.3 312.6 336.4 313.0 336.4 313.2 336.5 312.7 336.6 314.1 336.7 313.0 336.7 313.3 336.8 312.4 336.9 313.9 337.1 313.0 337.1 312.4 337.2 313.7 337.3 312.2 337.4 312.8 337.4 313.0 337.5 312.1 337.6 313.7 337.8 312.7 337.8 313.0 337.8 314.0 338.0 312.4 338.1 313.6 338.1 313.2 338.1 312.5 338.4 313.9 338.4 312.9 338.4 312.6 338.5 313.9 338.7 312.4 338.8 313.0 338.8 313.1 339.0 314.0 339.1 312.3 339.1 312.8 339.1 313.1 339.2 312.2 339.3 314.0 339.5 313.5 339.5 313.5 339.5 314.0 339.6 311.9 339.8 312.9 339.8 312.9 340.1 312.4 340.1 314.2 340.1 314.1 340.1 313.8 340.2 312.6 340.4 314.0 340.5 313.3 340.5 313.6 340.6 312.5 340.8 314.1 340.8 313.1 340.8 312.6 340.9 312.1 341.0 313.9 341.2 312.3 341.2 312.5 341.2 312.3 341.5 313.7 341.5 313.2 341.7 313.8 341.8 312.4 341.8 313.3 341.8 312.9 342.0 314.1 342.0 312.6 342.2 313.1 342.2 312.7 342.3 312.2 342.4 313.8 342.5 312.7 342.5 312.8 342.6 312.4 342.8 313.8 342.9 313.4 342.9 313.7 343.1 314.0 343.1 312.2 343.2 313.5 343.2 313.4 343.5 314.2 343.5 312.2 343.5 312.4 343.5 313.1 343.7 312.4 343.7 314.1 343.9 313.5 343.9 313.4 344.0 311.7 344.2 313.9 344.2 313.3 344.2 313.5 344.4 312.2 344.6 313.9 344.6 313.9 344.6 313.8 344.8 312.3 344.9 313.9 344.9 313.3 344.9 313.2 344.9 313.9 345.2 312.6 345.2 313.7 345.2 313.8 345.4 312.5 345.5 314.1 345.6 312.9 345.6 313.3 345.7 312.2 345.8 314.3 345.9 313.4 345.9 313.3 346.1 312.6 346.2 313.9 346.3 313.6 346.3 313.5 346.3 312.3 346.5 313.9 346.6 313.1 346.6 312.9 346.6 312.4 346.8 313.7 346.9 313.3 346.9 313.4 347.2 313.9 347.3 312.6 347.3 313.1 347.3 313.0 347.5 314.0 347.5 312.4 347.6 312.8 347.6 313.0 347.6 313.8 347.9 312.4 348.0 312.9 348.0 312.6 348.0 312.0 348.1 314.2 348.3 312.6 348.3 312.7 348.5 312.5 348.6 313.9 348.6 313.3 348.6 313.6 348.7 313.8 348.8 312.3 349.0 313.3 349.0 313.4 349.0 312.8 349.2 314.3 349.3 313.2 349.3 312.9 349.5 313.9 349.6 312.0 349.7 312.4 349.7 312.3 349.7 312.3 349.7 314.1 350.0 313.4 350.0 313.6 350.0 312.4 350.2 313.9 350.3 312.8 350.3 312.8 350.6 313.8 350.6 312.3 350.7 313.0 350.7 312.9 350.9 312.5 351.0 313.9 351.0 313.2 351.0 313.8 351.0 313.9 351.3 312.1 351.4 313.4 351.4 313.6 351.4 314.3 351.5 312.6 351.7 313.2 351.7 313.1 351.7 312.4 351.9 313.9 352.0 312.9 352.0 312.8 352.1 314.0 352.2 312.5 352.4 313.0 352.4 312.8 352.4 312.4 352.5 313.9 352.7 313.5 352.7 313.0 352.8 314.1 352.9 312.4 353.1 313.2 353.1 313.6 353.1 314.4 353.3 312.4 353.4 313.4 353.4 313.8 353.6 312.3 353.7 314.1 353.7 313.3 353.7 313.1 353.9 314.0 354.0 312.5 354.1 313.0 354.1 312.9 354.2 312.3 354.3 313.9 354.4 313.2 354.4 313.1 354.6 312.5 354.7 313.8 354.8 313.1 354.8 312.9 354.9 311.9 355.0 313.9 355.1 313.0 355.1 313.2 355.3 314.0 355.4 312.4 355.4 312.6 355.5 312.5 355.6 314.1 355.8 313.1 355.8 313.2 356.0 312.0 356.1 313.9 356.1 313.1 356.1 313.5 356.3 314.0 356.4 312.4 356.5 313.6 356.5 314.0 356.6 312.4 356.8 313.5 356.8 313.6 357.0 312.4 357.1 313.9 357.1 312.9 357.1 312.7 357.4 312.7 357.5 313.8 357.5 313.9 357.5 312.4 357.6 314.2 357.7 312.9" stroke="#ff8000"/><path d="M97.4 314.2 117.4 311.8 129.1 308.6 137.4 306.0 143.9 303.6 149.1 301.0 153.6 298.5 157.4 294.7 160.8 290.1 163.9 288.1 166.6 288.1 169.2 288.0 171.5 286.9 173.6 285.7 175.6 284.4 177.5 282.1 179.2 279.4 180.9 279.3 182.4 277.0 183.9 273.6 185.3 272.7 186.7 270.0 188.0 266.3 189.2 265.9 190.4 263.3 191.5 261.9 192.6 260.6 193.6 254.6 194.6 252.1 195.6 252.0 196.6 257.0 197.5 255.4 198.4 260.7 199.2 256.0 200.1 262.0 200.9 264.7 201.7 259.0 202.5 262.4 203.2 262.7 203.9 257.7 204.7 257.1 205.3 263.3 206.0 252.9 206.7 253.2 207.3 255.5 208.0 252.3 208.6 252.0 209.2 252.9 209.8 251.6 210.4 245.7 211.0 245.1 211.5 236.5 212.1 243.3 212.6 237.0 213.1 234.9 213.7 240.9 214.2 230.6 214.7 230.3 215.2 235.1 215.7 233.7 216.1 234.6 216.6 226.3 217.1 220.9 217.5 230.5 218.0 233.4 218.4 241.6 218.8 240.3 219.3 237.0 219.7 234.5 220.1 230.4 220.5 230.3 220.9 219.8 221.3 222.7 221.7 228.0 222.1 221.1 222.5 225.0 222.9 230.5 223.2 222.0 223.6 227.1 224.0 227.1 224.3 224.9 224.7 226.2 225.0 230.5 225.4 225.9 225.7 230.2 226.1 228.3 226.4 225.0 226.7 217.8 227.0 217.7 227.4 228.1 227.7 228.6 228.0 239.5 228.3 236.4 228.6 239.4 228.9 228.4 229.2 225.8 229.5 225.9 229.8 230.6 230.1 225.6 230.4 230.5 230.7 229.8 231.0 227.1 231.3 225.2 231.5 239.2 231.8 244.3 232.1 238.9 232.4 233.9 232.6 232.6 232.9 233.0 233.2 228.2 233.4 234.4 233.7 230.2 233.9 228.1 234.2 230.8 234.4 234.0 234.7 240.0 234.9 239.2 235.2 242.9 235.4 244.3 235.7 239.0 235.9 238.8 236.2 242.6 236.4 243.1 236.6 239.7 236.9 239.9 237.1 234.0 237.3 238.9 237.5 237.3 237.8 243.0 238.0 252.1 238.2 258.5 238.4 261.0 238.7 261.4 238.9 265.4 239.1 264.7 239.3 266.5 239.5 263.1 239.7 260.4 239.9 258.5 240.1 257.3 240.3 257.3 240.5 258.0 240.7 263.2 240.9 264.9 241.1 264.9 241.3 268.3 241.5 268.6 241.7 268.6 241.9 271.7 242.1 272.6 242.3 272.4 242.5 264.4 242.7 263.1 242.9 262.7 243.1 268.6 243.3 268.6 243.4 267.5 243.6 269.6 243.8 268.1 244.0 272.8 244.2 276.3 244.3 270.3 244.5 269.3 244.7 270.0 244.9 273.5 245.1 276.2 245.2 274.9 245.4 273.6 245.6 274.2 245.7 275.8 245.9 278.4 246.1 280.3 246.2 277.8 246.4 277.3 246.6 274.8 246.7 273.8 246.9 271.2 247.1 274.0 247.2 278.6 247.4 277.5 247.6 280.4 247.7 278.2 247.9 277.0 248.0 271.1 248.2 271.9 248.3 274.8 248.5 273.7 248.7 274.0 248.8 277.6 249.0 280.0 249.1 280.0 249.3 280.1 249.4 279.6 249.6 279.3 249.7 278.5 249.9 279.9 250.0 277.2 250.1 278.2 250.3 281.9 250.4 281.8 250.6 279.4 250.7 283.5 250.9 281.1 251.0 283.1 251.2 284.4 251.3 284.1 251.4 286.9 251.6 287.6 251.7 287.3 251.8 287.4 252.0 287.9 252.1 290.7 252.3 285.0 252.4 282.9 252.5 284.9 252.7 286.1 252.8 283.6 252.9 284.9 253.1 284.8 253.2 281.1 253.3 283.2 253.5 283.5 253.6 286.0 253.7 285.1 253.8 285.8 254.0 289.5 254.1 289.2 254.2 291.6 254.3 288.0 254.5 284.5 254.6 280.7 254.7 281.1 254.9 281.9 255.0 284.7 255.1 286.7 255.2 289.2 255.3 289.1 255.5 287.5 255.6 288.5 255.7 286.0 255.8 287.6 255.9 286.8 256.1 288.3 256.2 288.9 256.3 287.0 256.4 288.7 256.5 288.5 256.7 287.7 256.8 287.9 256.9 288.0 257.0 290.6 257.1 292.3 257.2 290.5 257.3 290.7 257.5 290.8 257.6 292.2 257.7 293.2 257.8 290.7 257.9 289.1 258.0 290.6 258.1 292.2 258.2 295.2 258.3 295.0 258.5 295.4 258.6 295.5 258.7 293.8 258.8 295.5 258.9 295.8 259.0 295.5 259.1 295.8 259.2 293.3 259.3 294.2 259.4 292.5 259.5 294.9 259.6 296.9 259.7 296.7 259.8 295.8 260.0 296.2 260.1 299.6 260.2 295.2 260.3 295.6 260.4 296.1 260.5 296.3 260.6 295.7 260.7 294.5 260.8 295.7 260.9 294.4 261.0 294.2 261.1 295.7 261.2 296.1 261.3 295.2 261.4 295.5 261.5 295.9 261.6 296.1 261.7 295.8 261.8 294.7 261.9 293.5 262.0 294.3 262.1 296.2 262.2 297.7 262.2 299.5 262.3 300.2 262.4 298.9 262.5 296.5 262.6 297.5 262.7 295.6 262.8 294.9 262.9 294.7 263.0 296.1 263.1 295.2 263.2 296.0 263.3 295.5 263.4 295.7 263.5 294.9 263.6 295.0 263.7 297.6 263.7 297.8 263.8 300.7 263.9 300.9 264.0 302.4 264.1 300.0 264.2 299.5 264.3 300.1 264.4 299.8 264.5 295.7 264.6 296.8 264.6 296.0 264.7 297.8 264.8 297.9 264.9 297.6 265.0 300.3 265.1 301.2 265.2 301.1 265.3 300.0 265.3 297.3 265.4 298.7 265.5 297.1 265.6 299.6 265.7 301.8 265.8 301.7 265.9 302.2 265.9 301.9 266.0 302.1 266.2 302.3 266.4 300.1 266.4 300.3 266.5 299.4 266.6 299.7 266.7 299.8 266.8 302.0 266.9 300.2 266.9 300.6 267.0 300.3 267.1 300.8 267.2 303.8 267.3 303.6 267.3 305.0 267.4 302.8 267.5 301.8 267.6 299.8 267.7 298.6 267.7 298.9 268.1 302.8 268.1 301.9 268.2 301.4 268.3 300.8 268.4 299.3 268.4 299.6 268.5 301.4 268.6 300.9 268.7 299.6 268.8 300.3 268.8 299.9 269.1 301.4 269.1 300.7 269.2 300.8 269.3 300.7 269.4 300.3 269.4 300.3 269.6 302.9 269.7 301.8 269.8 301.9 269.9 299.9 270.0 300.9 270.0 299.9 270.1 301.7 270.2 302.7 270.4 301.7 270.5 302.1 270.5 302.7 270.8 302.0 270.8 303.1 271.1 307.6 271.2 306.9 271.5 302.2 271.5 302.2 271.6 303.5 271.7 303.5 271.7 303.3 271.8 304.9 271.9 303.7 272.0 305.4 272.1 304.1 272.1 303.5 272.2 304.2 272.4 301.3 272.4 301.5 272.5 302.0 272.7 303.3 272.8 302.3 272.8 303.4 273.0 304.8 273.2 303.0 273.2 303.2 273.4 304.7 273.5 303.6 273.5 303.3 273.8 304.7 273.9 304.6 273.9 303.4 274.1 305.4 274.2 305.5 274.2 306.0 274.4 305.0 274.5 305.9 274.6 306.3 274.8 307.3 274.8 305.7 274.9 305.1 275.1 305.3 275.2 303.1 275.2 305.5 275.4 306.8 275.5 305.8 275.6 305.3 275.6 304.3 275.9 307.4 275.9 307.5 276.0 305.7 276.2 306.7 276.3 305.8 276.4 305.6 276.5 307.0 276.6 307.0 276.7 307.0 276.9 305.6 276.9 306.9 277.0 306.3 277.1 308.4 277.2 308.0 277.3 307.5 277.5 305.5 277.6 306.9 277.8 307.9 277.9 307.0 277.9 308.0 278.0 308.0 278.2 304.7 278.3 305.5 278.4 307.5 278.5 305.2 278.6 305.3 278.6 305.5 278.8 309.4 278.9 308.4 279.0 307.9 279.1 308.8 279.2 307.5 279.3 307.3 279.4 307.2 279.6 308.1 279.7 307.7 279.8 309.3 279.9 308.5 280.0 308.4 280.0 307.5 280.3 309.2 280.3 309.0 280.5 309.7 280.6 308.9 280.6 307.5 280.8 310.8 280.9 309.1 281.0 308.5 281.1 307.0 281.3 309.2 281.3 309.4 281.5 307.7 281.6 308.0 281.7 307.6 281.9 308.5 281.9 307.3 282.0 307.4 282.0 308.4 282.1 308.3 282.3 310.1 282.4 309.5 282.4 310.2 282.6 309.2 282.7 309.6 282.7 310.8 282.9 309.2 283.0 309.3 283.0 309.7 283.1 310.0 283.4 307.7 283.4 309.0 283.5 310.1 283.7 309.5 283.7 309.0 283.8 308.9 284.0 310.2 284.0 309.1 284.1 309.7 284.2 308.2 284.4 309.4 284.4 309.1 284.5 308.8 284.6 311.2 284.7 310.0 284.8 309.1 284.9 310.2 285.0 310.0 285.1 309.5 285.3 310.8 285.4 310.5 285.4 311.3 285.5 311.7 285.7 309.3 285.8 309.5 285.8 309.2 285.9 310.3 286.0 309.2 286.1 309.7 286.1 309.5 286.4 311.4 286.4 310.8 286.5 311.0 286.8 308.9 286.8 310.2 286.9 310.7 287.0 309.4 287.1 310.5 287.1 310.3 287.2 309.2 287.3 310.8 287.4 310.4 287.4 310.2 287.6 309.4 287.7 311.3 287.8 310.9 287.8 310.6 287.9 311.1 288.0 309.4 288.1 310.3 288.1 310.8 288.2 311.3 288.4 309.7 288.5 309.8 288.5 309.7 288.7 312.2 288.8 311.2 288.8 310.9 288.9 311.9 289.1 308.8 289.2 308.5 289.4 311.3 289.5 310.9 289.5 311.4 289.6 311.7 289.8 310.7 289.8 311.0 289.8 311.0 290.1 310.3 290.1 311.2 290.2 311.3 290.4 311.8 290.5 310.4 290.5 310.6 290.6 309.9 290.7 312.1 290.8 311.7 290.8 311.8 291.0 310.7 291.1 312.6 291.2 311.5 291.2 311.9 291.3 309.7 291.5 310.9 291.6 311.5 291.7 312.3 291.8 310.3 291.9 309.7 292.1 312.0 292.2 311.7 292.2 312.1 292.4 311.2 292.5 312.0 292.5 311.8 292.6 311.4 292.7 312.2 292.8 312.0 292.9 312.0 293.1 312.4 293.1 311.7 293.2 312.2 293.2 311.5 293.3 312.0 293.4 310.0 293.5 311.0 293.6 310.8 293.7 312.3 293.9 310.8 293.9 311.8 294.2 311.0 294.2 311.5 294.5 310.6 294.5 311.9 294.6 311.7 294.6 311.3 294.7 310.7 294.8 312.5 294.9 311.7 294.9 311.7 295.0 310.9 295.2 312.4 295.2 312.0 295.3 311.7 295.5 312.1 295.5 311.5 295.6 311.6 295.6 312.1 295.7 312.8 295.9 310.6 295.9 310.6 296.0 311.0 296.2 312.8 296.3 312.7 296.3 312.5 296.4 312.6 296.5 311.2 296.6 312.3 296.6 312.0 296.8 310.5 296.9 312.3 297.0 311.7 297.0 312.5 297.1 311.1 297.3 311.8 297.3 311.9 297.5 313.1 297.6 311.8 297.6 312.2 297.7 312.1 297.7 312.8 297.8 311.1 298.0 311.9 298.0 312.0 298.0 311.1 298.1 312.8 298.3 311.6 298.3 311.1 298.4 310.7 298.5 313.1 298.6 311.7 298.7 311.9 298.7 310.8 299.0 312.5 299.0 311.8 299.0 312.2 299.1 311.8 299.2 312.9 299.3 312.1 299.3 311.9 299.5 311.4 299.6 312.6 299.7 312.3 299.7 312.3 299.8 311.1 299.9 312.6 300.0 311.2 300.0 311.5 300.1 312.1 300.3 311.2 300.3 312.0 300.4 312.3 300.6 312.7 300.7 311.7 300.7 311.8 300.9 312.7 301.0 311.6 301.0 312.0 301.0 312.6 301.2 311.2 301.4 311.6 301.4 312.2 301.5 311.7 301.7 313.3 301.7 312.9 301.8 311.1 302.1 312.3 302.1 312.0 302.2 311.4 302.4 312.2 302.4 312.1 302.4 312.1 302.6 312.6 302.6 311.4 302.7 311.6 302.8 311.5 302.9 312.6 303.1 311.8 303.1 312.1 303.2 312.4 303.3 311.0 303.4 311.6 303.4 311.5 303.5 311.3 303.7 312.7 303.8 312.6 303.8 312.9 304.0 311.6 304.1 312.0 304.1 312.5 304.2 312.0 304.4 313.0 304.5 312.8 304.5 313.0 304.7 312.0 304.8 312.1 304.8 311.8 304.8 311.6 305.1 313.1 305.1 312.0 305.1 311.5 305.3 312.9 305.5 312.2 305.5 312.6 305.6 310.7 305.8 312.9 305.8 312.5 305.8 312.1 305.9 311.6 306.0 312.9 306.1 312.1 306.2 312.5 306.2 313.1 306.3 311.5 306.5 312.2 306.5 312.5 306.7 311.6 306.8 313.5 306.8 313.6 307.0 311.7 307.1 313.7 307.1 313.0 307.2 313.5 307.4 311.6 307.5 312.5 307.5 312.1 307.5 311.7 307.7 312.8 307.8 312.2 307.9 311.9 308.0 312.9 308.1 310.9 308.2 311.2 308.2 312.1 308.4 311.5 308.4 313.4 308.5 312.5 308.5 312.7 308.7 312.1 308.7 312.7 308.8 312.3 308.9 312.6 308.9 313.1 309.2 311.7 309.2 311.8 309.3 311.6 309.5 312.8 309.5 312.6 309.5 312.4 309.8 311.4 309.9 313.5 309.9 312.7 310.0 313.3 310.0 312.1 310.2 313.2 310.2 312.6 310.3 311.9 310.4 312.8 310.6 312.5 310.6 312.6 310.7 313.0 310.8 311.8 310.9 312.7 310.9 312.3 311.0 313.2 311.1 311.5 311.2 312.6 311.2 312.9 311.3 313.5 311.6 312.1 311.6 312.3 311.6 312.4 311.7 313.5 311.9 311.8 311.9 312.4 311.9 312.6 312.1 313.4 312.2 312.0 312.3 312.4 312.3 312.5 312.3 312.8 312.5 311.6 312.6 312.2 312.6 312.4 312.8 311.3 312.9 314.2 312.9 313.9 313.0 313.3 313.0 311.7 313.3 312.5 313.3 312.2 313.4 311.8 313.5 313.3 313.6 312.3 313.6 312.9 313.8 313.5 314.0 311.6 314.0 312.1 314.0 311.8 314.2 313.4 314.3 311.9 314.3 311.9 314.4 313.4 314.6 313.2 314.6 313.0 314.8 312.0 315.0 312.5 315.0 312.1 315.3 313.3 315.3 313.1 315.3 312.9 315.5 313.5 315.6 312.3 315.6 312.5 315.7 312.6 315.7 313.4 316.0 312.1 316.0 312.2 316.1 313.3 316.3 312.0 316.3 312.1 316.3 312.7 316.4 311.6 316.5 313.1 316.7 312.7 316.7 312.1 316.9 313.4 317.0 311.7 317.0 312.1 317.0 312.4 317.1 311.9 317.3 313.3 317.4 313.1 317.4 313.1 317.5 313.5 317.5 312.1 317.7 313.0 317.7 312.9 317.9 313.8 318.0 312.2 318.0 312.9 318.0 312.8 318.2 313.0 318.3 312.1 318.4 312.4 318.4 312.8 318.4 313.1 318.7 311.5 318.7 312.4 318.7 312.0 319.0 313.4 319.1 312.9 319.1 312.8 319.2 311.8 319.4 313.3 319.4 313.0 319.4 312.9 319.6 313.5 319.7 312.3 319.7 312.4 319.7 312.6 319.9 311.5 319.9 313.1 320.1 312.7 320.1 312.2 320.1 312.2 320.3 313.3 320.4 313.3 320.4 312.9 320.5 311.6 320.6 313.8 320.7 312.9 320.8 312.9 320.8 313.3 321.0 312.4 321.1 312.8 321.1 313.0 321.3 313.5 321.4 312.3 321.4 312.4 321.4 312.2 321.6 311.9 321.7 313.3 321.8 313.0 321.8 312.7 321.8 312.1 321.9 313.1 322.1 312.5 322.1 313.0 322.3 312.3 322.4 313.7 322.5 312.7 322.5 312.2 322.5 312.0 322.7 313.7 322.8 313.3 322.8 313.0 322.9 313.4 323.1 311.8 323.1 312.3 323.1 311.8 323.3 311.8 323.3 313.1 323.5 312.7 323.5 312.5 323.6 312.3 323.7 313.9 323.8 312.7 323.8 313.3 323.9 311.7 324.0 313.6 324.2 312.5 324.2 312.5 324.2 311.7 324.5 313.5 324.5 313.5 324.5 313.2 324.6 312.6 324.7 313.7 324.8 313.4 324.8 313.5 325.1 312.0 325.2 313.1 325.2 313.2 325.4 311.9 325.5 313.5 325.5 313.2 325.5 313.4 325.7 311.9 325.9 312.5 325.9 312.8 326.1 312.2 326.2 313.7 326.2 313.4 326.2 313.3 326.2 313.8 326.5 312.5 326.5 312.6 326.5 312.4 326.8 313.7 326.8 312.3 326.9 312.4 326.9 312.6 327.1 314.0 327.2 312.6 327.2 313.5 327.4 312.1 327.6 313.0 327.6 312.8 327.8 311.7 327.8 313.8 327.9 312.3 327.9 312.7 328.0 312.0 328.2 314.1 328.2 313.2 328.2 313.4 328.3 312.1 328.4 314.0 328.6 312.6 328.6 312.7 328.7 311.7 328.8 313.7 328.9 313.2 328.9 313.3 329.1 312.1 329.2 313.7 329.3 313.2 329.3 313.2 329.5 312.1 329.6 313.0 329.6 313.0 329.8 312.1 329.9 313.6 329.9 313.0 329.9 313.2 330.0 313.7 330.2 312.0 330.3 313.2 330.3 313.4 330.3 313.8 330.5 312.3 330.6 312.9 330.6 313.2 330.7 312.3 330.8 313.8 331.0 312.7 331.0 313.1 331.1 313.8 331.2 312.6 331.3 313.1 331.3 312.9 331.4 313.6 331.6 311.9 331.6 312.6 331.6 312.8 331.7 311.9 331.9 313.7 332.0 313.4 332.0 313.3 332.1 312.3 332.1 313.5 332.3 312.8 332.3 312.0 332.6 313.7 332.7 313.2 332.7 312.8 332.8 314.0 332.9 312.1 333.0 313.2 333.0 312.4 333.1 313.6 333.3 313.5 333.3 313.2 333.4 313.5 333.4 312.4 333.7 312.6 333.7 313.0 333.9 313.6 334.0 312.3 334.0 312.6 334.2 313.8 334.2 312.0 334.4 312.7 334.4 312.9 334.4 313.3 334.6 311.9 334.7 313.0 334.7 313.1 334.8 312.3 335.0 313.6 335.0 313.3 335.0 313.7 335.1 313.8 335.3 312.1 335.4 312.9 335.4 312.4 335.5 313.9 335.7 312.7 335.7 312.7 335.7 313.7 336.0 312.2 336.1 313.4 336.1 313.3 336.1 313.5 336.2 311.8 336.4 313.0 336.4 313.1 336.5 312.4 336.7 313.7 336.7 313.3 336.7 313.0 336.9 312.6 337.0 313.9 337.1 312.9 337.1 312.8 337.1 312.4 337.4 314.3 337.4 313.3 337.4 313.0 337.4 313.6 337.7 312.3 337.8 313.1 337.8 313.1 337.9 312.2 338.0 314.2 338.1 313.2 338.1 313.5 338.2 313.8 338.4 312.8 338.4 313.3 338.4 313.1 338.6 313.8 338.7 312.6 338.8 313.3 338.8 313.1 338.8 312.5 339.1 314.2 339.1 312.9 339.1 312.7 339.2 313.5 339.4 312.5 339.5 313.0 339.5 312.5 339.5 313.7 339.7 312.4 339.8 313.0 339.8 313.0 339.9 313.8 340.1 312.3 340.1 312.9 340.1 312.7 340.2 312.5 340.3 313.7 340.5 312.8 340.5 313.0 340.6 313.8 340.7 312.2 340.8 312.7 340.8 313.1 341.0 312.3 341.1 314.0 341.2 313.9 341.2 313.5 341.2 314.0 341.3 312.1 341.5 313.4 341.5 313.8 341.7 312.5 341.8 314.1 341.8 313.7 341.8 313.3 342.0 314.1 342.1 312.2 342.2 313.2 342.2 312.8 342.4 313.8 342.4 312.1 342.5 313.0 342.5 313.1 342.6 314.2 342.7 312.3 342.9 313.3 342.9 313.4 343.1 313.8 343.1 312.4 343.2 313.1 343.2 312.8 343.2 313.7 343.5 312.0 343.5 312.2 343.5 312.9 343.6 312.2 343.8 313.8 343.9 313.5 343.9 312.8 344.0 312.5 344.2 313.8 344.2 313.0 344.2 312.6 344.5 312.4 344.5 313.9 344.6 313.0 344.6 312.8 344.6 313.9 344.8 312.2 344.9 313.2 344.9 313.3 345.0 314.0 345.1 312.3 345.2 313.2 345.2 313.5 345.4 312.1 345.5 313.6 345.6 312.8 345.6 312.7 345.6 312.1 345.7 313.9 345.9 313.1 345.9 313.5 346.0 314.2 346.2 312.7 346.3 312.8 346.3 313.2 346.4 313.7 346.5 312.5 346.6 313.2 346.6 313.0 346.7 312.2 346.9 313.9 346.9 313.2 346.9 313.0 347.1 312.4 347.1 314.0 347.3 313.2 347.3 313.2 347.3 294.3 347.4 314.0 347.6 313.6 347.6 313.9 347.8 309.8 347.9 314.2 348.0 313.0 348.0 312.9 348.0 312.4 348.2 313.9 348.3 313.4 348.3 312.7 348.5 305.0 348.5 314.0 348.6 313.5 348.6 313.3 348.7 312.1 348.9 314.2 349.0 313.6 349.0 313.3 349.2 313.9 349.2 312.1 349.3 313.3 349.3 313.2 349.4 313.7 349.6 312.4 349.7 312.9 349.7 313.2 349.7 312.3 349.7 314.1 350.0 312.9 350.0 313.2 350.1 312.2 350.2 314.0 350.3 312.6 350.3 312.9 350.5 312.2 350.6 313.8 350.7 313.1 350.7 313.1 350.7 313.8 350.8 312.2 351.0 313.2 351.0 313.1 351.1 314.0 351.2 311.8 351.4 313.2 351.4 313.4 351.4 312.3 351.6 314.0 351.7 312.7 351.7 312.7 352.0 313.6 352.0 312.1 352.0 312.4 352.0 312.7 352.1 313.9 352.1 312.4 352.4 313.1 352.4 313.0 352.5 311.8 352.5 314.2 352.7 313.1 352.7 312.7 352.9 312.6 353.0 314.2 353.1 313.6 353.1 313.4 353.2 314.0 353.3 312.3 353.4 312.8 353.4 313.0 353.5 312.3 353.7 314.0 353.7 313.3 353.7 313.1 353.9 314.0 354.0 312.3 354.1 313.1 354.1 312.9 354.1 312.5 354.3 314.1 354.4 313.8 354.4 313.6 354.4 314.1 354.8 312.4 354.8 312.6 355.0 312.3 355.1 313.7 355.1 313.4 355.1 313.4 355.2 314.1 355.3 312.1 355.4 312.8 355.4 312.6 355.5 312.5 355.7 314.0 355.8 313.6 355.8 313.7 355.9 312.3 355.9 314.2 356.1 313.5 356.1 313.2 356.2 312.2 356.3 314.3 356.5 313.3 356.5 313.7 356.7 311.8 356.7 313.8 356.8 313.2 356.8 313.4 356.9 312.4 357.1 314.1 357.1 312.8 357.1 312.9 357.3 312.4 357.4 314.2 357.5 312.5 357.5 312.7 357.7 312.3 357.7 313.7" stroke="#1414ff"/><path d="M97.4 314.5 117.4 312.8 129.1 309.6 137.4 307.1 143.9 304.8 149.1 302.1 153.6 299.3 157.4 297.1 160.8 295.6 163.9 295.5 166.6 294.4 169.2 293.5 171.5 293.0 173.6 289.8 175.6 288.7 177.5 286.7 179.2 283.3 180.9 279.0 182.4 277.6 183.9 272.1 185.3 269.4 186.7 267.2 188.0 266.4 189.2 264.0 190.4 265.4 191.5 265.9 192.6 262.6 193.6 266.3 194.6 263.4 195.6 264.9 196.6 264.8 197.5 263.7 198.4 256.4 199.2 254.1 200.1 247.8 200.9 242.2 201.7 238.0 202.5 226.9 203.2 221.1 203.9 218.7 204.7 220.3 205.3 217.2 206.0 222.1 206.7 219.0 207.3 221.8 208.0 214.9 208.6 212.6 209.2 207.4 209.8 208.5 210.4 218.1 211.0 200.5 211.5 202.0 212.1 199.7 212.6 194.3 213.1 190.2 213.7 207.7 214.2 197.7 214.7 210.9 215.2 215.5 215.7 210.0 216.1 208.2 216.6 206.2 217.1 205.8 217.5 198.5 218.0 189.0 218.4 194.5 218.8 202.7 219.3 211.9 219.7 212.1 220.1 218.1 220.5 224.1 220.9 226.0 221.3 223.9 221.7 237.3 222.1 239.1 222.5 242.9 222.9 243.1 223.2 239.6 223.6 237.9 224.0 240.6 224.3 235.1 224.7 238.6 225.0 237.5 225.4 247.4 225.7 249.4 226.1 253.6 226.4 258.7 226.7 258.1 227.0 258.8 227.4 258.6 227.7 265.3 228.0 267.9 228.3 273.0 228.6 272.5 228.9 272.4 229.2 275.0 229.5 271.8 229.8 271.3 230.1 268.4 230.4 268.5 230.7 269.5 231.0 271.7 231.3 275.2 231.5 274.4 231.8 277.2 232.1 273.9 232.4 272.8 232.6 272.1 232.9 279.2 233.2 277.6 233.4 279.9 233.7 281.0 233.9 281.1 234.2 282.2 234.4 280.8 234.7 282.3 234.9 281.5 235.2 280.0 235.4 279.8 235.7 280.2 235.9 282.1 236.2 282.7 236.4 285.4 236.6 287.1 236.9 288.0 237.1 289.3 237.3 288.5 237.5 288.7 237.8 288.1 238.0 287.9 238.2 288.9 238.4 289.9 238.7 288.6 238.9 286.1 239.1 287.4 239.3 284.6 239.5 284.3 239.7 287.4 239.9 287.6 240.1 288.7 240.3 289.6 240.5 290.1 240.7 290.5 240.9 293.8 241.1 294.6 241.3 295.6 241.5 293.5 241.7 294.5 241.9 294.6 242.1 293.7 242.3 294.1 242.5 295.3 242.7 294.7 242.9 295.1 243.1 295.2 243.3 295.1 243.4 296.1 243.6 296.4 243.8 297.7 244.0 297.1 244.2 296.9 244.3 294.9 244.5 293.8 244.7 293.3 244.9 294.3 245.1 297.6 245.2 298.2 245.4 298.1 245.6 297.5 245.7 296.5 245.9 298.5 246.1 299.9 246.2 300.2 246.4 298.3 246.6 298.0 246.7 298.1 246.9 299.5 247.1 301.1 247.2 301.6 247.4 302.6 247.6 300.4 247.7 301.1 247.9 299.7 248.0 298.2 248.2 297.3 248.3 297.5 248.5 296.8 248.7 297.9 248.8 298.7 249.0 297.1 249.1 299.2 249.3 298.4 249.4 298.1 249.6 297.9 249.7 298.0 249.9 298.5 250.0 300.1 250.1 300.0 250.3 299.6 250.4 300.1 250.6 300.1 250.7 299.6 250.9 300.3 251.0 300.2 251.2 299.4 251.3 300.3 251.4 299.5 251.6 298.9 251.7 297.9 251.8 298.5 252.0 299.5 252.1 300.7 252.3 301.1 252.4 304.1 252.5 303.9 252.7 303.4 252.8 302.3 252.9 301.2 253.1 300.9 253.2 302.7 253.3 305.2 253.5 304.2 253.6 303.4 253.7 301.7 253.8 301.8 254.0 302.6 254.1 301.5 254.2 301.6 254.3 300.2 254.5 300.8 254.6 302.3 254.7 302.1 254.9 302.2 255.0 303.0 255.1 302.1 255.2 302.9 255.3 302.6 255.5 302.4 255.6 301.9 255.7 302.5 255.8 302.6 255.9 303.3 256.1 303.2 256.2 302.9 256.3 302.4 256.4 302.8 256.5 303.0 256.7 303.3 256.8 303.8 256.9 303.0 257.0 302.8 257.1 303.3 257.2 302.9 257.3 303.7 257.5 302.7 257.6 304.5 257.7 304.0 257.8 304.3 257.9 305.2 258.0 305.3 258.1 305.4 258.2 304.6 258.3 305.3 258.5 305.9 258.6 306.0 258.7 305.6 258.8 305.3 258.9 304.8 259.0 304.0 259.1 305.9 259.2 303.8 259.3 303.3 259.4 304.7 259.5 305.8 259.6 306.4 259.7 307.2 259.8 308.1 260.0 308.4 260.1 308.0 260.2 306.6 260.3 305.5 260.4 306.4 260.5 306.2 260.6 304.9 260.7 305.5 260.8 305.9 260.9 305.9 261.0 305.4 261.1 304.7 261.2 305.2 261.3 305.9 261.4 306.0 261.5 306.2 261.6 305.3 261.7 305.6 261.8 306.4 261.9 307.6 262.0 308.1 262.1 306.1 262.2 307.4 262.2 305.7 262.3 307.1 262.4 307.0 262.5 308.5 262.6 309.2 262.7 308.9 262.8 309.1 262.9 307.9 263.0 307.2 263.1 307.2 263.2 306.6 263.3 305.1 263.4 305.3 263.5 305.6 263.6 306.8 263.7 307.6 263.7 308.6 263.8 307.6 263.9 307.6 264.0 307.6 264.1 307.4 264.2 307.4 264.3 307.3 264.4 308.1 264.5 308.0 264.6 308.1 264.6 307.7 264.7 307.3 264.8 307.2 264.9 307.6 265.0 306.5 265.1 307.3 265.2 307.1 265.3 307.6 265.3 306.8 265.4 307.1 265.5 306.6 265.6 307.8 265.7 307.2 265.8 306.9 265.9 307.8 265.9 307.1 266.0 307.2 266.4 309.6 266.4 308.6 266.5 309.8 266.6 308.6 266.7 308.6 266.8 308.1 266.9 307.9 266.9 307.4 267.0 308.0 267.1 308.0 267.2 307.7 267.3 308.3 267.3 308.7 267.4 309.4 267.5 309.3 267.6 309.0 267.7 310.0 267.7 309.1 267.9 310.6 268.1 309.8 268.1 309.2 268.2 308.7 268.3 308.3 268.4 308.6 268.4 308.5 268.5 308.7 268.6 309.3 268.7 309.0 268.8 308.5 268.9 307.9 269.1 309.0 269.1 308.6 269.2 307.9 269.3 308.4 269.4 307.9 269.4 308.9 269.6 309.8 269.7 309.1 269.8 307.9 269.9 308.1 270.0 308.4 270.0 308.0 270.1 308.7 270.4 312.1 270.5 311.8 270.7 310.4 270.8 311.3 270.8 310.5 271.1 309.6 271.2 309.9 271.2 309.7 271.5 310.5 271.5 310.5 271.6 310.2 271.7 309.5 271.7 308.9 271.8 308.9 272.1 309.7 272.1 309.9 272.2 309.2 272.4 309.5 272.5 309.7 272.6 310.6 272.7 309.6 272.8 309.9 272.8 309.5 273.2 310.6 273.2 310.8 273.4 309.6 273.5 309.8 273.5 309.5 273.8 311.6 273.9 311.1 273.9 311.2 274.1 310.6 274.2 310.2 274.3 310.8 274.4 310.0 274.5 310.1 274.6 309.4 274.6 308.9 274.8 310.3 274.9 310.3 275.2 309.5 275.2 310.2 275.5 309.3 275.6 309.1 275.7 309.0 275.9 311.3 275.9 310.5 276.0 311.1 276.0 310.4 276.2 310.4 276.3 311.0 276.5 311.6 276.6 311.6 276.8 309.9 276.9 310.6 276.9 310.1 277.0 310.9 277.2 310.7 277.3 310.4 277.5 311.1 277.6 310.6 277.8 310.6 277.9 311.3 277.9 311.2 278.1 310.6 278.2 311.0 278.3 310.2 278.3 310.2 278.6 311.7 278.6 312.1 278.8 310.9 278.9 311.0 279.0 311.5 279.1 312.7 279.2 311.6 279.3 311.1 279.4 311.1 279.6 311.5 279.7 311.5 279.8 312.4 279.9 312.3 280.0 311.6 280.2 311.8 280.3 310.6 280.3 310.0 280.4 310.3 280.4 309.9 280.6 310.0 280.6 310.6 280.9 311.4 280.9 311.3 281.0 311.7 281.1 312.0 281.2 309.9 281.3 310.7 281.3 310.8 281.5 310.7 281.6 311.7 281.7 311.8 281.8 310.3 282.0 311.3 282.0 311.8 282.3 310.4 282.3 310.5 282.4 310.6 282.5 312.3 282.7 311.1 282.7 311.1 282.8 310.0 283.0 311.2 283.0 311.6 283.3 310.7 283.4 311.5 283.4 311.1 283.4 310.9 283.7 312.5 283.7 312.9 284.0 311.2 284.0 311.4 284.0 311.7 284.3 312.2 284.4 311.4 284.4 311.8 284.4 311.0 284.6 312.4 284.7 312.0 284.8 311.8 284.9 310.7 285.0 311.4 285.1 311.1 285.2 310.8 285.4 311.5 285.4 311.4 285.5 310.9 285.7 312.3 285.8 312.7 286.0 311.1 286.0 311.4 286.1 310.8 286.3 312.4 286.4 311.9 286.4 311.9 286.5 310.7 286.8 310.9 286.8 310.7 287.0 312.2 287.1 311.7 287.1 311.3 287.2 311.9 287.3 310.9 287.4 311.3 287.4 310.9 287.5 310.3 287.7 312.6 287.8 312.4 287.8 311.9 287.9 312.6 288.1 311.7 288.1 311.8 288.2 312.4 288.4 311.3 288.4 311.6 288.5 312.3 288.6 311.1 288.8 311.6 288.8 311.6 289.0 313.0 289.1 312.1 289.2 311.7 289.3 313.0 289.5 312.0 289.5 312.2 289.5 312.3 289.7 310.8 289.8 311.6 289.8 312.0 290.0 311.0 290.1 312.1 290.1 312.0 290.2 311.7 290.3 312.5 290.5 311.5 290.5 311.5 290.5 311.7 290.7 312.8 290.8 312.6 290.8 312.5 291.1 311.5 291.2 311.7 291.2 312.3 291.2 311.7 291.4 312.6 291.5 311.9 291.6 311.7 291.6 311.3 291.8 312.6 291.8 312.4 291.9 312.2 291.9 311.8 292.1 313.1 292.2 312.4 292.2 311.9 292.3 312.1 292.5 311.4 292.5 311.8 292.5 311.7 292.6 311.3 292.8 312.6 292.9 312.5 292.9 312.0 293.2 313.1 293.2 312.3 293.3 311.8 293.4 313.3 293.5 311.9 293.6 311.6 293.6 311.4 293.9 312.6 293.9 313.2 294.0 313.6 294.1 311.5 294.2 311.8 294.2 312.1 294.3 311.9 294.4 312.8 294.6 312.2 294.6 312.2 294.8 311.1 294.9 312.2 294.9 312.5 295.0 312.7 295.2 312.0 295.3 311.1 295.5 313.1 295.6 312.8 295.6 312.8 295.8 311.9 295.9 313.2 295.9 313.2 296.0 313.0 296.1 311.3 296.3 312.0 296.3 311.4 296.5 312.5 296.6 312.0 296.6 312.0 296.8 313.0 296.9 312.5 297.0 312.3 297.1 311.6 297.3 312.9 297.3 312.8 297.3 312.9 297.4 312.9 297.6 311.5 297.7 311.8 297.9 312.6 298.0 311.3 298.0 311.9 298.1 311.3 298.3 313.8 298.3 313.6 298.6 311.5 298.6 312.0 298.7 311.7 298.7 311.0 299.0 312.2 299.0 312.6 299.1 312.7 299.2 311.7 299.3 312.6 299.3 313.1 299.4 313.2 299.6 312.1 299.7 312.5 299.7 312.3 299.8 313.3 300.0 312.0 300.0 312.1 300.0 312.0 300.1 311.1 300.3 312.9 300.3 312.6 300.4 312.6 300.4 311.6 300.7 313.4 300.7 312.6 300.9 311.8 301.0 313.0 301.0 312.9 301.0 313.1 301.1 313.1 301.3 311.6 301.4 312.4 301.4 312.9 301.6 311.8 301.7 313.1 301.7 312.6 301.7 312.2 301.8 312.6 301.9 312.0 302.1 312.3 302.1 312.9 302.2 313.3 302.4 311.9 302.4 312.6 302.6 313.6 302.7 312.4 302.8 312.0 302.8 313.1 303.1 312.7 303.1 312.8 303.2 313.4 303.3 312.1 303.4 312.7 303.4 312.9 303.5 313.6 303.7 311.6 303.8 312.9 303.8 313.0 303.9 313.0 304.0 311.9 304.1 312.6 304.1 312.2 304.2 312.4 304.2 311.1 304.4 311.6 304.5 311.8 304.6 311.8 304.7 312.6 304.8 312.3 304.8 312.3 305.0 313.6 305.1 313.1 305.1 312.9 305.2 313.3 305.3 311.8 305.5 312.5 305.5 312.6 305.5 313.0 305.8 312.2 305.8 311.8 306.0 312.7 306.1 311.6 306.1 312.0 306.2 312.1 306.4 313.9 306.5 313.2 306.5 313.6 306.6 311.9 306.8 312.4 306.8 312.0 306.9 311.5 307.1 313.1 307.1 312.7 307.2 312.8 307.2 311.6 307.5 312.3 307.5 312.3 307.6 312.0 307.8 313.2 307.8 312.3 307.9 313.1 307.9 313.6 308.0 311.6 308.2 312.6 308.2 312.5 308.4 313.2 308.4 311.9 308.5 312.9 308.5 312.8 308.6 313.1 308.8 312.0 308.9 311.8 309.0 313.0 309.1 311.7 309.2 312.0 309.2 311.8 309.4 313.4 309.5 312.7 309.5 312.0 309.7 311.8 309.8 313.4 309.9 312.2 309.9 312.3 310.1 311.6 310.2 312.9 310.2 312.8 310.2 313.1 310.4 313.9 310.6 311.8 310.6 312.1 310.6 312.0 310.7 313.3 310.9 313.1 310.9 312.5 311.0 313.4 311.1 312.2 311.2 313.0 311.2 312.7 311.5 313.3 311.6 311.9 311.6 311.7 311.8 312.9 311.9 311.6 311.9 311.7 311.9 311.5 312.1 313.9 312.3 312.0 312.3 312.2 312.5 313.1 312.6 311.8 312.6 312.3 312.6 312.1 312.7 313.3 312.8 312.0 312.9 312.4 313.0 312.3 313.0 313.2 313.3 311.9 313.3 312.2 313.3 311.9 313.4 313.3 313.6 312.6 313.6 312.9 313.8 312.9 313.9 311.7 314.0 311.9 314.0 312.1 314.0 311.9 314.3 313.3 314.3 312.8 314.3 312.9 314.4 312.0 314.6 312.6 314.6 312.2 314.7 312.2 314.8 313.4 315.0 312.6 315.0 312.4 315.2 312.3 315.3 313.3 315.3 313.1 315.3 312.9 315.4 312.0 315.6 313.5 315.6 313.5 315.7 313.0 315.7 313.3 315.9 311.9 316.0 312.8 316.0 312.6 316.2 312.0 316.3 314.0 316.3 312.9 316.3 313.2 316.4 313.7 316.7 312.2 316.7 312.5 316.7 311.9 316.7 311.9 316.8 313.7 317.0 313.2 317.0 312.9 317.1 312.1 317.1 313.8 317.4 313.0 317.4 312.2 317.4 313.4 317.6 312.0 317.7 312.3 317.7 312.3 317.9 313.6 318.0 312.4 318.0 312.5 318.1 313.6 318.2 312.0 318.4 312.8 318.4 312.8 318.6 313.8 318.7 311.9 318.7 311.9 318.7 311.5 318.9 313.3 319.1 312.9 319.1 313.2 319.1 313.3 319.3 311.7 319.4 312.6 319.4 312.9 319.6 311.6 319.6 313.3 319.7 312.3 319.7 312.2 319.8 311.8 319.9 313.2 320.1 312.6 320.1 312.4 320.1 312.9 320.3 311.9 320.4 312.4 320.4 312.2 320.7 313.4 320.8 313.1 320.8 313.5 320.9 312.1 321.1 313.4 321.1 313.5 321.1 313.8 321.2 312.4 321.4 313.0 321.4 312.9 321.6 313.5 321.7 311.6 321.8 313.2 321.8 313.0 321.8 313.2 321.9 312.2 322.1 312.4 322.1 312.1 322.4 313.5 322.5 313.1 322.5 313.0 322.6 313.8 322.7 312.3 322.8 313.2 322.8 313.1 322.9 311.6 323.0 313.2 323.1 312.1 323.1 311.9 323.5 313.8 323.5 313.6 323.5 313.0 323.7 313.3 323.8 311.8 323.8 312.7 323.8 312.7 324.0 311.5 324.0 313.2 324.2 312.4 324.2 312.7 324.2 313.6 324.4 311.6 324.5 312.9 324.5 312.9 324.6 313.7 324.7 312.1 324.8 313.2 324.8 312.5 324.9 312.2 324.9 313.5 325.2 313.2 325.2 312.6 325.3 312.3 325.5 313.4 325.5 313.2 325.5 313.1 325.6 313.9 325.7 311.9 325.9 312.4 325.9 312.2 326.0 312.2 326.2 313.5 326.2 312.3 326.2 312.9 326.3 311.8 326.4 313.4 326.5 312.9 326.5 313.2 326.6 312.3 326.9 313.7 326.9 313.5 326.9 313.2 327.0 312.0 327.2 313.7 327.2 313.2 327.2 313.2 327.4 313.6 327.5 311.5 327.6 311.8 327.6 312.1 327.6 311.6 327.7 314.0 327.9 312.5 327.9 312.8 328.1 312.0 328.2 313.3 328.2 312.9 328.2 313.2 328.4 313.8 328.5 312.4 328.6 312.5 328.6 312.5 328.8 313.5 328.9 312.1 328.9 312.4 328.9 312.2 329.1 313.6 329.2 311.9 329.3 312.7 329.3 312.6 329.5 313.4 329.6 312.2 329.6 312.6 329.6 312.8 329.7 313.8 329.7 311.4 329.9 313.3 329.9 313.5 330.2 312.0 330.3 312.7 330.3 312.6 330.4 313.6 330.6 311.9 330.6 313.1 330.6 312.9 330.7 313.2 330.9 312.2 331.0 313.1 331.0 312.9 331.1 312.0 331.1 314.0 331.3 312.8 331.3 313.1 331.4 313.7 331.5 312.4 331.6 313.2 331.6 313.1 331.7 312.0 332.0 313.8 332.0 313.6 332.0 313.7 332.2 312.2 332.3 312.5 332.3 312.7 332.4 311.8 332.5 313.8 332.7 312.6 332.7 312.6 332.7 313.6 333.0 312.0 333.0 312.6 333.0 312.9 333.1 313.6 333.2 312.0 333.3 313.0 333.3 312.9 333.6 313.8 333.6 312.1 333.7 313.0 333.7 313.1 333.7 312.3 333.8 313.8 334.0 313.1 334.0 313.2 334.3 312.5 334.3 313.9 334.4 313.5 334.4 313.4 334.5 313.9 334.6 312.2 334.7 312.7 334.7 312.6 334.7 312.4 335.0 313.7 335.0 313.2 335.0 312.6 335.2 313.7 335.3 312.1 335.4 312.4 335.4 312.3 335.5 313.4 335.6 312.0 335.7 312.7 335.7 313.1 335.9 313.5 336.0 312.4 336.1 312.6 336.1 312.6 336.1 312.2 336.2 313.7 336.4 312.8 336.4 312.5 336.6 312.0 336.7 313.5 336.7 313.0 336.7 313.5 336.8 311.9 337.1 312.9 337.1 312.9 337.3 312.4 337.4 313.8 337.4 312.8 337.4 312.9 337.6 313.7 337.8 312.2 337.8 312.4 337.8 312.2 337.9 312.2 338.1 314.1 338.1 313.3 338.1 312.9 338.3 312.0 338.4 313.8 338.4 312.6 338.4 312.6 338.6 313.6 338.6 312.1 338.8 313.0 338.8 312.7 338.9 313.8 339.0 312.0 339.1 313.2 339.1 313.1 339.2 313.6 339.3 312.2 339.5 312.4 339.5 312.8 339.6 313.8 339.7 312.5 339.8 313.3 339.8 313.4 339.9 312.0 340.0 313.8 340.1 313.0 340.1 313.2 340.3 314.1 340.4 312.1 340.5 313.5 340.5 313.3 340.5 312.4 340.7 313.6 340.8 312.9 340.8 313.2 341.0 312.3 341.1 313.8 341.2 312.7 341.2 312.7 341.2 312.6 341.5 314.2 341.5 313.0 341.5 312.9 341.6 312.0 341.7 313.7 341.8 313.4 341.8 313.5 342.0 312.4 342.2 313.0 342.2 313.0 342.2 312.1 342.5 313.8 342.5 313.1 342.5 312.7 342.6 312.0 342.8 313.8 342.9 313.1 342.9 312.8 342.9 312.2 343.1 313.7 343.2 313.1 343.2 312.8 343.3 314.1 343.4 312.1 343.5 313.3 343.5 313.5 343.7 314.0 343.8 312.3 343.9 313.2 343.9 313.2 344.0 312.2 344.1 313.7 344.2 313.2 344.2 313.2 344.4 312.3 344.6 313.7 344.6 313.5 344.6 313.1 344.7 313.9 344.8 312.4 344.9 313.4 344.9 313.1 345.0 314.3 345.2 311.9 345.2 312.9 345.2 313.1 345.5 314.3 345.5 312.1 345.6 313.2 345.6 312.9 345.7 313.6 345.8 312.3 345.9 313.4 345.9 312.9 346.0 312.3 346.2 313.9 346.3 312.8 346.3 313.3 346.4 313.6 346.4 312.0 346.6 313.4 346.6 313.3 346.8 313.8 346.8 312.4 346.9 313.1 346.9 312.4 347.1 312.3 347.2 314.0 347.3 312.8 347.3 313.2 347.3 312.0 347.4 313.9 347.6 313.4 347.6 313.2 347.7 312.3 347.9 313.9 348.0 312.8 348.0 312.6 348.0 312.1 348.2 314.0 348.3 313.4 348.3 313.5 348.4 312.4 348.4 313.8 348.6 313.5 348.6 313.6 348.7 312.5 348.9 314.1 349.0 313.6 349.0 313.3 349.1 313.9 349.2 312.5 349.3 313.7 349.3 313.5 349.4 314.0 349.6 312.6 349.7 313.3 349.7 313.2 349.8 314.3 349.8 312.3 350.0 312.6 350.0 312.6 350.2 314.1 350.3 312.5 350.3 313.0 350.3 313.4 350.4 312.5 350.4 313.9 350.7 313.0 350.7 313.1 350.9 312.4 350.9 314.0 351.0 312.6 351.0 313.0 351.0 314.0 351.4 312.3 351.4 312.4 351.4 312.8 351.5 312.4 351.6 314.1 351.7 312.9 351.7 313.3 351.7 314.0 352.0 312.4 352.0 313.0 352.0 312.9 352.0 312.4 352.2 313.9 352.4 313.5 352.4 313.1 352.5 312.4 352.6 314.1 352.7 313.5 352.7 313.8 352.7 314.3 352.8 312.5 353.1 313.1 353.1 312.9 353.1 312.5 353.2 313.9 353.4 313.5 353.4 313.1 353.5 312.5 353.5 314.0 353.7 312.9 353.7 313.2 353.9 312.5 354.0 313.9 354.1 313.4 354.1 313.5 354.1 312.6 354.2 314.0 354.4 313.7 354.4 314.0 354.4 314.1 354.6 312.2 354.8 312.9 354.8 313.2 355.0 312.4 355.0 313.9 355.1 312.6 355.1 312.9 355.2 313.9 355.2 312.4 355.4 313.0 355.4 313.2 355.5 312.2 355.5 314.2 355.8 313.0 355.8 312.7 355.8 312.3 355.8 314.1 356.1 313.8 356.1 314.1 356.1 314.1 356.2 312.4 356.5 313.5 356.5 313.4 356.5 314.4 356.8 312.4 356.8 313.5 356.8 313.3 356.9 312.7 357.1 313.9 357.1 313.5 357.1 313.2 357.3 312.8 357.4 314.1 357.5 312.8 357.5 313.0 357.5 312.3 357.6 313.8 357.7 313.2" stroke="#000000"/><path d="M97.4 314.6 117.4 312.8 129.1 309.4 137.4 307.3 143.9 305.3 149.1 301.1 153.6 296.0 157.4 293.2 160.8 292.2 163.9 292.0 166.6 291.7 169.2 292.0 171.5 291.7 173.6 289.9 175.6 287.6 177.5 285.1 179.2 281.1 180.9 280.6 182.4 279.1 183.9 281.0 185.3 277.0 186.7 278.3 188.0 274.2 189.2 267.0 190.4 261.6 191.5 256.1 192.6 249.8 193.6 245.2 194.6 247.0 195.6 241.2 196.6 241.5 197.5 240.9 198.4 238.4 199.2 244.3 200.1 239.7 200.9 238.3 201.7 224.3 202.5 220.1 203.2 209.4 203.9 195.7 204.7 205.3 205.3 215.4 206.0 209.1 206.7 212.7 207.3 212.5 208.0 217.5 208.6 210.4 209.2 194.1 209.8 185.1 210.4 189.8 211.0 180.6 211.5 171.1 212.1 168.6 212.6 191.5 213.1 176.7 213.7 170.1 214.2 195.3 214.7 188.8 215.2 189.4 215.7 192.8 216.1 203.3 216.6 199.7 217.1 198.8 217.5 199.8 218.0 192.3 218.4 191.1 218.8 182.0 219.3 191.8 219.7 216.8 220.1 206.2 220.5 205.5 220.9 203.7 221.3 214.3 221.7 205.4 222.1 206.6 222.5 209.4 222.9 211.1 223.2 209.1 223.6 212.9 224.0 220.5 224.3 227.4 224.7 224.5 225.0 235.1 225.4 242.1 225.7 233.6 226.1 242.9 226.4 247.6 226.7 249.1 227.0 245.3 227.4 250.2 227.7 249.7 228.0 247.9 228.3 254.1 228.6 256.4 228.9 259.3 229.2 265.9 229.5 261.8 229.8 265.2 230.1 263.9 230.4 268.4 230.7 270.9 231.0 271.9 231.3 269.8 231.5 272.0 231.8 267.6 232.1 270.4 232.4 271.9 232.6 271.8 232.9 273.8 233.2 277.9 233.4 281.5 233.7 275.7 233.9 274.0 234.2 272.2 234.4 271.6 234.7 277.9 234.9 276.7 235.2 275.6 235.4 276.4 235.7 278.4 235.9 278.8 236.2 280.5 236.4 285.1 236.6 284.5 236.9 279.5 237.1 278.8 237.3 278.0 237.5 277.9 237.8 280.9 238.0 280.0 238.2 282.7 238.4 281.1 238.7 286.0 238.9 285.2 239.1 284.6 239.3 284.2 239.5 285.1 239.7 285.3 239.9 287.6 240.1 286.7 240.3 288.9 240.5 290.6 240.7 289.9 240.9 289.4 241.1 289.6 241.3 287.7 241.5 288.6 241.7 287.4 241.9 288.4 242.1 288.6 242.3 288.3 242.5 287.5 242.7 287.6 242.9 288.1 243.1 290.7 243.3 289.5 243.4 288.4 243.6 288.8 243.8 287.7 244.0 286.6 244.2 288.3 244.3 288.2 244.5 290.3 244.7 290.8 244.9 290.1 245.1 290.3 245.2 292.3 245.4 295.1 245.6 295.5 245.7 294.9 245.9 294.1 246.1 293.5 246.2 292.0 246.4 292.7 246.6 293.8 246.7 293.0 246.9 293.8 247.1 292.0 247.2 293.0 247.4 291.5 247.6 292.6 247.7 294.1 247.9 295.5 248.0 294.3 248.2 296.1 248.3 296.0 248.5 297.3 248.7 296.1 248.8 297.0 249.0 296.1 249.1 296.7 249.3 297.0 249.4 295.7 249.6 295.2 249.7 295.2 249.9 294.8 250.0 295.9 250.1 297.0 250.3 297.8 250.4 298.3 250.6 299.1 250.7 299.9 250.9 302.1 251.0 301.3 251.2 300.3 251.3 299.4 251.4 297.5 251.6 298.9 251.7 298.1 251.8 296.0 252.0 297.4 252.1 296.4 252.3 296.9 252.4 297.5 252.5 299.3 252.7 299.5 252.8 300.0 252.9 298.8 253.1 300.4 253.2 299.4 253.3 299.2 253.5 299.1 253.6 299.0 253.7 298.7 253.8 298.8 254.0 300.6 254.1 301.0 254.2 301.7 254.3 303.3 254.5 302.3 254.6 302.3 254.7 301.4 254.9 302.3 255.0 300.9 255.1 302.9 255.2 301.4 255.3 301.1 255.5 300.4 255.6 301.3 255.7 301.1 255.8 300.0 255.9 299.7 256.1 299.8 256.2 301.0 256.3 302.0 256.4 303.6 256.5 302.5 256.7 302.0 256.8 300.7 256.9 300.9 257.0 301.2 257.1 301.5 257.2 300.5 257.3 301.1 257.5 301.3 257.6 301.7 257.7 300.0 257.8 300.9 257.9 301.8 258.0 301.2 258.1 302.6 258.2 302.5 258.3 303.0 258.5 301.7 258.6 301.5 258.7 301.6 258.8 301.7 258.9 303.4 259.0 304.0 259.1 304.5 259.2 303.8 259.3 303.3 259.4 302.3 259.5 302.3 259.6 302.8 259.7 302.1 259.8 303.0 260.0 302.9 260.1 303.1 260.2 304.0 260.3 302.6 260.4 303.1 260.5 303.0 260.6 303.2 260.7 303.1 260.8 304.5 260.9 303.9 261.0 304.4 261.1 305.6 261.2 303.7 261.3 303.5 261.4 305.2 261.5 305.8 261.6 306.5 261.7 307.8 261.8 306.1 261.9 305.7 262.0 305.1 262.1 304.9 262.2 305.5 262.2 304.4 262.3 304.6 262.4 305.5 262.5 305.9 262.6 306.0 262.7 307.2 262.8 305.5 262.9 305.6 263.0 305.6 263.1 305.1 263.2 305.2 263.3 305.4 263.4 305.1 263.5 303.9 263.6 303.7 263.7 304.6 263.7 305.0 263.8 305.7 263.9 306.4 264.0 306.8 264.1 306.9 264.2 306.2 264.3 305.8 264.4 306.7 264.5 305.9 264.6 306.4 264.6 306.7 264.7 307.3 264.8 306.9 264.9 305.9 265.0 304.8 265.1 305.7 265.2 305.5 265.3 304.6 265.3 305.6 265.4 306.2 265.5 308.3 265.6 307.1 265.7 307.0 265.8 306.9 265.9 307.3 265.9 306.1 266.0 305.3 266.2 304.3 266.4 306.2 266.4 305.4 266.5 307.6 266.6 307.8 266.7 309.1 266.8 309.0 266.9 309.9 266.9 308.8 267.0 308.9 267.1 308.1 267.2 307.5 267.3 308.2 267.3 307.7 267.4 308.5 267.5 307.8 267.6 307.6 267.7 307.5 267.7 308.5 267.9 308.6 268.1 307.8 268.1 307.5 268.2 307.3 268.3 306.7 268.4 308.1 268.4 306.7 268.5 307.3 268.6 307.1 268.7 307.9 268.8 308.6 268.8 310.2 269.1 309.9 269.1 309.1 269.2 308.9 269.3 309.1 269.4 307.8 269.4 308.3 269.5 308.2 269.6 309.4 269.7 308.5 269.8 308.9 269.9 308.4 270.0 310.3 270.0 309.8 270.1 310.4 270.4 308.9 270.5 308.3 270.6 309.3 270.8 307.3 270.8 307.0 271.1 309.7 271.2 310.4 271.5 309.0 271.5 308.6 271.6 308.7 271.7 308.8 271.7 308.9 271.8 308.5 271.9 308.7 272.0 307.5 272.1 307.6 272.1 309.2 272.2 309.0 272.4 310.1 272.4 309.4 272.5 308.6 272.6 308.5 272.8 310.2 272.8 309.7 273.0 309.9 273.2 308.5 273.2 309.0 273.3 308.2 273.5 308.9 273.5 309.5 273.7 311.3 273.8 311.1 273.9 309.6 274.1 308.9 274.2 308.8 274.5 310.2 274.6 311.1 274.6 309.8 274.8 310.7 274.9 310.8 275.2 309.0 275.2 309.5 275.3 309.4 275.5 310.2 275.6 309.6 275.7 309.1 275.7 309.7 275.9 309.2 275.9 308.5 276.1 309.9 276.2 309.6 276.3 310.1 276.3 310.4 276.5 309.1 276.6 309.9 276.7 310.4 276.9 310.2 276.9 310.3 277.1 311.2 277.2 310.7 277.3 310.6 277.4 310.8 277.5 310.1 277.6 309.6 277.8 309.3 277.9 310.7 277.9 310.8 278.0 311.7 278.2 311.3 278.3 311.2 278.4 310.6 278.5 311.3 278.6 310.7 278.6 310.5 278.8 310.4 278.9 311.5 279.0 311.8 279.0 312.1 279.2 309.7 279.3 309.4 279.3 308.9 279.5 311.0 279.6 310.9 279.7 310.3 279.9 310.3 279.9 310.9 280.0 310.6 280.2 311.5 280.3 310.7 280.3 310.9 280.4 309.9 280.6 311.0 280.6 312.0 280.8 313.3 280.9 310.7 281.0 310.4 281.1 310.9 281.3 309.8 281.3 310.0 281.6 311.4 281.7 311.0 281.7 310.8 281.8 311.7 282.0 311.5 282.0 312.5 282.2 311.9 282.3 312.0 282.4 311.5 282.5 310.4 282.6 311.5 282.7 311.1 282.7 310.8 282.8 310.5 283.0 312.1 283.0 312.5 283.4 311.0 283.4 310.2 283.7 311.8 283.7 312.5 283.9 311.2 284.0 312.2 284.0 311.7 284.1 310.6 284.3 312.0 284.4 312.0 284.4 312.3 284.4 312.4 284.7 310.6 284.7 310.7 284.8 311.3 284.8 312.1 285.0 312.0 285.1 312.3 285.2 311.3 285.4 311.7 285.4 311.5 285.6 312.0 285.7 311.2 285.7 311.5 285.8 311.2 285.9 312.3 286.0 310.8 286.0 311.1 286.1 312.0 286.3 310.8 286.4 311.0 286.4 310.9 286.5 311.6 286.8 311.4 286.8 311.0 287.0 312.4 287.1 311.9 287.1 311.5 287.2 312.4 287.4 312.2 287.4 312.2 287.5 312.8 287.8 311.2 287.8 311.6 287.8 311.5 287.9 312.5 288.1 311.8 288.1 311.8 288.2 312.9 288.4 311.1 288.5 311.4 288.5 310.6 288.6 312.1 288.8 312.0 288.8 311.6 289.0 312.4 289.1 311.7 289.2 311.6 289.4 310.6 289.5 311.1 289.5 311.2 289.6 311.2 289.8 312.5 289.8 312.1 290.0 311.4 290.1 311.9 290.2 311.8 290.4 310.8 290.5 312.5 290.5 312.4 290.8 313.4 290.8 313.4 291.0 311.7 291.2 312.1 291.2 312.0 291.4 311.2 291.5 312.6 291.6 312.7 291.8 311.5 291.8 311.9 291.9 312.2 292.0 312.8 292.2 311.3 292.2 310.8 292.4 312.4 292.5 311.5 292.5 311.9 292.6 312.8 292.8 311.7 292.8 311.9 292.9 312.4 293.0 311.8 293.2 313.0 293.2 312.6 293.4 312.6 293.5 311.9 293.5 312.2 293.6 311.8 293.7 311.0 293.9 312.1 293.9 312.6 294.0 311.4 294.2 311.8 294.2 311.7 294.3 311.5 294.4 312.4 294.6 311.9 294.6 312.0 294.7 311.6 294.9 312.6 294.9 312.1 295.0 311.4 295.1 313.1 295.2 312.6 295.3 312.6 295.4 312.8 295.6 311.7 295.6 311.9 295.8 312.6 295.9 312.3 296.0 312.1 296.1 312.6 296.2 311.7 296.3 311.9 296.3 311.5 296.5 313.0 296.6 312.8 296.6 312.7 296.7 311.6 296.9 312.1 297.0 312.3 297.2 311.4 297.3 313.4 297.3 313.1 297.5 311.6 297.6 313.5 297.7 312.7 297.8 311.5 298.0 312.4 298.0 312.4 298.1 311.6 298.3 313.3 298.3 312.8 298.3 312.6 298.6 313.2 298.6 312.2 298.7 311.9 298.7 312.3 298.8 311.3 299.0 311.9 299.0 312.3 299.1 312.9 299.2 311.7 299.3 312.5 299.3 313.2 299.4 313.2 299.6 311.7 299.7 312.5 299.7 312.5 299.8 313.0 299.9 312.4 300.0 312.9 300.0 312.6 300.1 312.0 300.2 313.1 300.3 312.6 300.4 313.0 300.5 312.0 300.7 313.1 300.7 312.8 300.7 312.7 300.8 311.7 301.0 312.8 301.0 311.9 301.0 311.9 301.2 313.3 301.4 312.2 301.4 312.7 301.6 313.4 301.7 312.1 301.7 311.7 301.8 311.5 301.9 312.8 302.1 312.4 302.1 312.3 302.2 311.9 302.4 313.0 302.4 312.5 302.4 312.8 302.5 312.1 302.7 313.6 302.7 313.0 302.8 312.5 302.9 312.6 303.0 311.5 303.1 312.5 303.1 312.5 303.1 312.2 303.2 313.5 303.4 312.7 303.4 312.6 303.6 311.8 303.7 313.0 303.8 312.9 303.8 312.6 303.8 313.3 303.9 311.8 304.1 312.6 304.1 312.6 304.2 311.8 304.3 312.7 304.4 312.5 304.5 312.5 304.6 313.1 304.7 312.4 304.8 313.0 304.8 313.2 304.8 313.8 305.1 311.8 305.1 312.7 305.1 313.2 305.4 311.8 305.5 312.1 305.5 312.3 305.5 312.9 305.6 311.8 305.8 312.7 305.8 312.7 306.0 312.1 306.1 313.5 306.1 313.4 306.2 313.5 306.4 312.1 306.5 312.7 306.5 312.7 306.5 313.3 306.8 312.1 306.8 312.0 306.9 311.3 307.1 313.3 307.1 312.8 307.2 312.8 307.3 311.4 307.5 312.2 307.5 312.3 307.6 311.9 307.7 313.1 307.8 312.3 307.9 311.9 307.9 311.8 308.1 313.0 308.2 312.4 308.2 312.5 308.3 312.1 308.4 313.3 308.5 312.9 308.5 313.2 308.6 313.2 308.8 312.0 308.8 312.4 308.9 312.6 308.9 312.2 309.1 313.1 309.2 312.4 309.2 312.3 309.5 311.9 309.5 313.5 309.5 312.9 309.5 312.5 309.7 312.2 309.9 313.3 309.9 313.0 310.1 312.2 310.1 313.1 310.2 312.3 310.2 312.3 310.3 311.5 310.6 312.8 310.6 312.8 310.7 313.4 310.8 312.0 310.9 312.4 310.9 312.5 310.9 313.3 311.0 312.2 311.2 313.1 311.2 312.8 311.4 312.4 311.5 313.4 311.6 313.3 311.6 312.7 311.6 312.0 311.7 313.3 311.9 312.7 311.9 312.8 312.1 313.3 312.2 311.9 312.3 312.7 312.3 312.7 312.4 312.2 312.6 313.2 312.6 312.8 312.6 311.9 312.8 311.8 312.9 313.3 312.9 313.0 313.0 312.8 313.0 314.0 313.1 312.3 313.3 312.5 313.3 312.9 313.4 312.0 313.5 313.7 313.6 312.1 313.6 312.2 313.7 313.9 313.9 312.2 314.0 313.0 314.0 313.0 314.2 312.1 314.3 313.2 314.3 312.9 314.3 312.8 314.4 312.2 314.6 313.7 314.6 313.5 314.6 313.8 314.8 311.7 315.0 312.6 315.0 313.3 315.0 314.1 315.2 311.8 315.3 312.7 315.3 312.3 315.5 312.1 315.6 313.5 315.7 312.9 315.8 312.1 315.9 313.4 316.0 312.7 316.0 312.7 316.1 313.5 316.2 312.2 316.3 312.9 316.3 312.4 316.4 313.1 316.5 312.2 316.7 312.5 316.7 312.6 316.7 312.2 317.0 313.1 317.0 313.1 317.1 312.3 317.3 313.3 317.4 312.5 317.4 312.7 317.4 313.6 317.7 313.2 317.7 313.1 317.9 313.6 318.0 312.3 318.0 312.6 318.0 312.3 318.1 312.2 318.2 313.4 318.4 313.0 318.4 312.5 318.5 311.5 318.6 313.2 318.7 312.8 318.7 312.7 318.8 313.6 318.9 312.4 319.1 312.6 319.1 312.4 319.3 313.3 319.4 312.1 319.4 312.5 319.4 312.4 319.6 313.6 319.7 312.4 319.7 313.2 319.7 312.9 319.8 313.3 320.0 312.2 320.1 312.6 320.1 313.0 320.1 313.3 320.3 312.1 320.4 313.2 320.4 312.7 320.5 313.4 320.7 312.0 320.7 312.9 320.8 312.6 320.8 313.2 321.0 312.0 321.1 312.7 321.1 312.9 321.2 311.7 321.3 313.7 321.4 312.9 321.4 313.3 321.5 313.7 321.6 312.2 321.8 313.4 321.8 313.1 321.9 313.4 322.0 312.0 322.1 312.7 322.1 312.5 322.2 311.7 322.3 313.6 322.5 312.2 322.5 312.3 322.5 311.9 322.8 313.6 322.8 313.2 322.8 313.7 323.0 311.9 323.1 312.7 323.1 312.4 323.2 312.4 323.4 313.5 323.5 312.4 323.5 312.1 323.5 313.5 323.8 312.7 323.8 313.0 323.9 312.0 324.0 313.8 324.2 312.5 324.2 312.4 324.2 312.0 324.4 313.4 324.5 312.4 324.5 312.7 324.6 313.3 324.8 312.4 324.8 312.3 324.9 311.9 324.9 313.5 325.2 313.2 325.2 313.1 325.2 312.4 325.3 313.5 325.5 312.9 325.5 312.7 325.7 312.0 325.9 314.0 325.9 313.7 326.1 311.5 326.2 313.8 326.2 313.6 326.2 312.2 326.5 313.9 326.5 313.7 326.5 313.5 326.7 314.0 326.7 312.4 326.9 312.9 326.9 312.4 327.2 313.6 327.2 312.8 327.2 312.7 327.5 313.4 327.6 312.1 327.6 312.5 327.6 311.9 327.8 313.5 327.9 312.9 327.9 312.8 328.1 313.6 328.2 312.0 328.2 312.4 328.3 313.5 328.4 312.3 328.6 313.2 328.6 313.5 328.8 313.6 328.8 312.4 328.9 312.8 328.9 313.0 329.0 312.6 329.2 314.0 329.3 312.6 329.3 312.9 329.4 313.6 329.6 312.1 329.6 312.3 329.6 312.8 329.7 312.1 329.8 313.8 329.9 313.4 329.9 313.0 330.0 312.3 330.0 313.6 330.3 313.0 330.3 313.0 330.3 313.9 330.4 312.1 330.6 312.7 330.6 312.8 330.9 313.7 331.0 312.2 331.0 312.7 331.1 314.0 331.2 312.5 331.3 312.9 331.3 313.4 331.3 312.3 331.4 313.7 331.6 313.1 331.6 313.0 331.8 312.5 332.0 314.1 332.0 313.3 332.0 313.3 332.0 313.6 332.3 312.5 332.3 313.1 332.3 313.5 332.4 313.7 332.5 312.2 332.7 312.4 332.7 312.9 332.7 312.3 333.0 313.9 333.0 313.2 333.0 313.6 333.1 312.4 333.2 314.0 333.3 313.4 333.3 312.9 333.5 313.6 333.6 312.3 333.7 312.5 333.7 312.5 333.7 312.3 333.8 313.8 334.0 313.0 334.0 313.2 334.1 313.6 334.2 311.6 334.4 312.8 334.4 312.7 334.4 314.0 334.5 312.7 334.7 313.2 334.7 312.5 334.7 312.1 334.8 314.4 335.0 313.6 335.0 313.1 335.1 312.3 335.2 313.6 335.4 312.7 335.4 313.3 335.5 312.0 335.5 313.7 335.7 312.3 335.7 312.4 335.8 312.0 336.0 313.8 336.1 313.0 336.1 313.1 336.2 312.5 336.4 313.8 336.4 312.8 336.4 313.5 336.4 313.7 336.6 312.0 336.7 313.3 336.7 313.1 336.9 313.8 337.0 312.5 337.1 313.4 337.1 313.0 337.1 312.0 337.3 313.5 337.4 313.0 337.4 312.3 337.7 313.8 337.8 313.4 337.8 313.4 338.0 312.3 338.1 314.3 338.1 312.6 338.1 312.7 338.2 312.3 338.3 314.3 338.4 313.9 338.4 313.5 338.5 313.7 338.7 312.4 338.8 313.0 338.8 313.0 338.8 313.9 339.0 312.4 339.1 313.1 339.1 313.0 339.2 312.0 339.3 313.7 339.5 313.3 339.5 312.9 339.7 313.5 339.7 312.4 339.8 312.9 339.8 312.7 340.1 312.7 340.1 313.7 340.1 312.7 340.1 312.6 340.1 312.3 340.3 313.7 340.5 313.1 340.5 312.9 340.6 312.4 340.6 313.7 340.8 313.1 340.8 312.8 340.8 312.3 340.9 313.8 341.2 313.3 341.2 313.1 341.2 313.7 341.2 312.6 341.5 313.5 341.5 312.9 341.6 314.1 341.8 312.4 341.8 313.4 341.8 313.8 342.0 314.2 342.1 312.5 342.2 313.1 342.2 313.0 342.2 313.7 342.5 312.1 342.5 313.0 342.5 313.2 342.6 314.1 342.7 312.4 342.9 313.3 342.9 313.3 342.9 314.1 343.1 311.8 343.2 312.7 343.2 312.9 343.2 312.5 343.4 313.8 343.5 313.4 343.5 313.1 343.6 312.7 343.9 314.2 343.9 313.6 343.9 313.8 344.1 312.3 344.2 313.0 344.2 312.9 344.3 312.4 344.5 314.1 344.6 313.3 344.6 313.2 344.6 312.5 344.8 313.8 344.9 312.8 344.9 313.1 344.9 314.0 345.2 312.5 345.2 313.3 345.2 312.8 345.3 312.6 345.6 313.9 345.6 313.2 345.6 312.2 345.9 313.8 345.9 313.2 345.9 313.4 346.2 312.3 346.2 314.0 346.3 312.8 346.3 312.4 346.3 313.6 346.4 312.3 346.6 312.9 346.6 313.0 346.7 313.7 346.7 312.6 346.9 313.0 346.9 313.5 347.0 314.1 347.1 312.4 347.3 313.4 347.3 313.5 347.4 313.8 347.6 312.7 347.6 313.2 347.6 313.3 347.7 312.0 347.9 313.8 348.0 313.0 348.0 312.6 348.2 313.6 348.2 311.8 348.3 313.0 348.3 313.3 348.4 314.1 348.5 312.5 348.6 313.8 348.6 313.6 348.8 314.0 348.9 312.8 349.0 313.6 349.0 313.3 349.1 312.4 349.3 314.0 349.3 313.5 349.3 313.5 349.4 312.4 349.5 314.0 349.7 313.2 349.7 313.6 349.8 313.8 349.9 312.5 350.0 313.2 350.0 313.8 350.1 312.3 350.3 313.9 350.3 312.9 350.3 312.8 350.4 312.2 350.7 314.0 350.7 313.2 350.7 313.3 350.9 313.7 351.0 312.3 351.0 312.6 351.0 312.9 351.1 312.3 351.2 314.0 351.4 313.4 351.4 313.8 351.4 313.9 351.6 312.3 351.7 312.7 351.7 313.0 351.8 312.4 351.8 314.6 352.0 313.4 352.0 313.1 352.2 312.4 352.4 314.2 352.4 313.6 352.5 312.4 352.5 314.1 352.7 313.4 352.7 313.1 352.8 313.8 353.1 312.5 353.1 312.6 353.1 313.4 353.1 313.8 353.3 312.4 353.4 313.4 353.4 313.4 353.4 312.6 353.6 314.2 353.7 312.9 353.7 312.9 353.8 314.3 354.0 312.3 354.1 313.9 354.1 313.5 354.3 312.5 354.4 313.9 354.4 313.0 354.4 313.8 354.4 314.2 354.5 312.5 354.8 313.5 354.8 312.9 354.8 312.4 355.1 313.9 355.1 313.1 355.1 312.6 355.2 312.4 355.3 314.1 355.4 312.9 355.4 313.1 355.6 312.2 355.7 314.0 355.8 313.9 355.8 313.8 356.0 312.5 356.1 313.9 356.1 313.3 356.1 313.3 356.2 313.9 356.3 312.4 356.5 313.1 356.5 313.2 356.7 312.3 356.7 314.2 356.8 313.7 356.8 313.2 356.8 312.5 357.1 314.0 357.1 313.1 357.1 313.6 357.3 312.3 357.4 313.9 357.5 312.7 357.5 313.2 357.7 312.8 357.7 314.1 357.7 313.0" stroke="#cc0000"/><path d="M97.4 304.2 117.4 311.4 129.1 307.7 137.4 304.2 143.9 301.9 149.1 299.8 153.6 298.0 157.4 296.7 160.8 293.9 163.9 291.9 166.6 288.4 169.2 286.1 171.5 282.6 173.6 280.3 175.6 276.8 177.5 272.9 179.2 273.0 180.9 271.1 182.4 272.1 183.9 272.6 185.3 272.9 186.7 270.2 188.0 270.4 189.2 262.5 190.4 260.9 191.5 262.2 192.6 257.4 193.6 259.1 194.6 255.7 195.6 252.8 196.6 250.9 197.5 251.2 198.4 247.2 199.2 243.1 200.1 242.7 200.9 248.4 201.7 246.7 202.5 249.5 203.2 254.2 203.9 247.9 204.7 246.0 205.3 236.0 206.0 242.0 206.7 236.8 207.3 239.8 208.0 242.9 208.6 242.5 209.2 240.3 209.8 239.7 210.4 236.2 211.0 235.7 211.5 242.3 212.1 232.6 212.6 233.7 213.1 227.3 213.7 227.3 214.2 230.9 214.7 232.4 215.2 231.1 215.7 228.1 216.1 234.5 216.6 223.1 217.1 220.4 217.5 219.0 218.0 208.9 218.4 210.1 218.8 215.3 219.3 205.3 219.7 205.4 220.1 210.6 220.5 212.5 220.9 213.0 221.3 214.4 221.7 202.5 222.1 206.0 222.5 212.3 222.9 209.2 223.2 211.2 223.6 215.3 224.0 229.5 224.3 234.0 224.7 226.4 225.0 224.5 225.4 227.2 225.7 216.4 226.1 220.8 226.4 215.2 226.7 220.3 227.0 228.9 227.4 230.0 227.7 233.0 228.0 230.9 228.3 229.7 228.6 236.9 228.9 232.1 229.2 232.0 229.5 238.4 229.8 224.5 230.1 232.9 230.4 237.7 230.7 230.7 231.0 236.8 231.3 236.7 231.5 233.8 231.8 243.0 232.1 246.9 232.4 245.5 232.6 248.8 232.9 246.5 233.2 253.9 233.4 253.2 233.7 255.6 233.9 255.7 234.2 256.5 234.4 253.3 234.7 253.1 234.9 256.8 235.2 260.0 235.4 264.1 235.7 265.6 235.9 266.9 236.2 266.2 236.4 269.6 236.6 268.7 236.9 270.4 237.1 272.1 237.3 271.2 237.5 273.9 237.8 270.9 238.0 269.6 238.2 267.6 238.4 275.8 238.7 277.8 238.9 280.3 239.1 280.9 239.3 281.3 239.5 277.8 239.7 278.1 239.9 273.2 240.1 272.4 240.3 272.1 240.5 271.9 240.7 274.3 240.9 274.4 241.1 275.3 241.3 270.7 241.5 269.5 241.7 271.1 241.9 275.7 242.1 277.0 242.3 282.8 242.5 285.4 242.7 280.5 242.9 279.9 243.1 279.5 243.3 281.6 243.4 283.1 243.6 280.4 243.8 282.0 244.0 281.0 244.2 279.8 244.3 283.6 244.5 281.8 244.7 282.5 244.9 283.0 245.1 283.3 245.2 282.5 245.4 284.7 245.6 281.8 245.7 282.6 245.9 281.2 246.1 286.3 246.2 288.5 246.4 290.6 246.6 289.6 246.7 287.2 246.9 285.0 247.1 282.9 247.2 285.4 247.4 283.5 247.6 284.7 247.7 286.4 247.9 286.5 248.0 285.2 248.2 287.5 248.3 286.4 248.5 286.7 248.7 287.1 248.8 287.2 249.0 288.4 249.1 289.1 249.3 291.2 249.4 290.0 249.6 288.9 249.7 285.2 249.9 287.0 250.0 287.2 250.1 290.1 250.3 287.6 250.4 287.0 250.6 289.7 250.7 287.3 250.9 289.2 251.0 288.1 251.2 292.8 251.3 293.8 251.4 295.5 251.6 297.2 251.7 294.4 251.8 293.1 252.0 295.1 252.1 293.1 252.3 291.6 252.4 290.1 252.5 292.5 252.7 292.3 252.8 294.6 252.9 293.8 253.1 291.5 253.2 291.0 253.3 293.9 253.5 295.2 253.6 294.9 253.7 295.5 253.8 295.8 254.0 295.5 254.1 294.7 254.2 292.3 254.3 292.0 254.5 292.6 254.6 292.7 254.7 292.2 254.9 295.3 255.0 294.0 255.1 295.5 255.2 295.6 255.3 297.3 255.5 298.5 255.6 295.8 255.7 296.9 255.8 296.2 255.9 297.7 256.1 297.5 256.2 297.6 256.3 298.9 256.4 298.5 256.5 297.5 256.7 299.2 256.8 299.3 256.9 297.1 257.0 295.7 257.1 295.9 257.2 295.4 257.3 298.8 257.5 298.6 257.6 298.5 257.7 296.4 257.8 295.9 257.9 296.8 258.0 296.2 258.1 296.1 258.2 296.6 258.3 296.7 258.5 297.2 258.6 299.5 258.7 298.6 258.8 299.8 258.9 300.6 259.0 300.7 259.1 300.1 259.2 300.4 259.3 300.8 259.4 301.1 259.5 299.2 259.6 297.8 259.7 295.8 259.8 295.9 260.0 296.5 260.1 298.5 260.2 300.7 260.3 300.4 260.4 300.4 260.5 298.1 260.6 298.3 260.7 298.7 260.8 300.0 260.9 299.0 261.0 299.4 261.1 302.2 261.2 301.8 261.3 302.4 261.4 303.1 261.5 302.0 261.6 302.5 261.7 302.1 261.8 303.0 261.9 303.5 262.0 304.9 262.1 304.0 262.2 302.4 262.2 302.2 262.3 301.4 262.4 302.2 262.5 303.0 262.6 302.0 262.7 300.0 262.8 298.2 262.9 298.5 263.0 300.3 263.1 300.6 263.2 303.6 263.3 304.3 263.4 303.9 263.5 303.9 263.6 301.9 263.7 300.9 263.7 300.4 263.8 302.0 263.9 302.6 264.0 302.7 264.1 303.0 264.2 302.0 264.3 301.5 264.4 301.9 264.5 302.6 264.6 302.0 264.6 301.9 264.7 303.3 264.8 303.4 264.9 302.7 265.0 302.9 265.1 303.0 265.2 305.1 265.3 304.2 265.3 305.6 265.4 304.1 265.5 305.3 265.6 304.4 265.7 303.4 265.8 303.6 265.9 303.2 265.9 302.7 266.0 303.0 266.2 304.8 266.4 303.5 266.4 302.9 266.5 303.6 266.6 303.8 266.7 303.8 266.8 303.8 266.9 304.8 266.9 304.5 267.0 304.2 267.1 304.0 267.2 305.0 267.3 305.9 267.3 304.9 267.4 305.1 267.5 305.5 267.6 304.9 267.7 304.8 267.7 304.2 267.8 303.2 268.1 304.6 268.1 305.5 268.2 307.6 268.3 307.5 268.4 306.1 268.4 304.8 268.5 304.3 268.6 303.7 268.7 302.8 268.8 303.9 269.1 305.0 269.1 306.2 269.2 304.9 269.3 305.4 269.4 305.8 269.4 304.7 269.5 305.4 269.7 303.4 269.8 303.3 269.9 304.0 270.0 303.3 270.0 302.9 270.1 303.7 270.3 307.2 270.4 306.8 270.5 306.4 270.5 306.2 270.8 307.3 270.8 306.6 271.0 305.5 271.1 307.7 271.2 308.4 271.2 308.9 271.5 306.4 271.5 305.6 271.6 305.9 271.7 307.0 271.7 307.2 271.8 307.2 271.9 307.2 272.1 305.2 272.1 305.2 272.4 307.1 272.4 306.5 272.5 307.4 272.8 305.7 272.8 306.5 273.0 309.1 273.2 307.6 273.2 307.8 273.3 307.6 273.5 308.7 273.5 308.9 273.6 308.0 273.8 308.5 273.9 309.5 274.1 306.6 274.2 307.1 274.2 306.7 274.5 308.8 274.6 308.5 274.8 308.9 274.8 307.6 274.9 307.2 275.1 306.5 275.2 308.1 275.2 308.0 275.3 307.6 275.4 308.8 275.5 308.0 275.6 306.6 275.7 309.2 275.9 308.5 275.9 308.9 276.0 308.2 276.2 309.8 276.3 309.8 276.4 309.9 276.5 308.3 276.6 309.1 276.6 309.0 276.7 309.6 276.9 309.6 276.9 309.9 277.1 308.5 277.2 308.6 277.3 308.6 277.4 308.4 277.5 309.4 277.6 308.7 277.7 307.8 277.9 308.5 277.9 308.6 278.2 310.6 278.2 310.0 278.3 310.4 278.4 311.2 278.6 308.4 278.6 308.9 278.7 308.6 278.8 309.8 278.9 309.5 279.0 309.1 279.1 309.9 279.2 309.0 279.2 309.7 279.3 309.4 279.3 309.6 279.6 308.6 279.6 309.0 279.7 309.4 279.7 309.1 279.9 310.8 280.0 310.4 280.1 310.3 280.2 311.2 280.3 310.9 280.3 310.5 280.4 309.9 280.6 311.1 280.6 309.8 280.7 309.2 280.8 310.9 280.9 310.4 281.0 310.7 281.1 311.0 281.3 309.9 281.3 310.5 281.5 310.7 281.6 309.7 281.7 309.7 281.7 309.5 281.8 310.1 282.0 310.1 282.0 310.3 282.1 309.6 282.3 310.6 282.4 310.4 282.5 311.3 282.7 310.1 282.7 310.0 282.8 309.9 283.0 311.5 283.0 311.4 283.3 311.9 283.4 310.5 283.4 310.0 283.6 311.2 283.7 310.9 283.7 311.5 284.0 309.9 284.0 310.3 284.0 310.9 284.2 311.9 284.4 311.3 284.4 310.4 284.4 310.4 284.7 311.9 284.8 311.0 284.9 310.3 285.0 310.8 285.1 310.8 285.1 310.8 285.2 311.8 285.4 311.3 285.4 311.1 285.5 312.1 285.7 310.9 285.8 310.4 286.0 312.1 286.0 311.8 286.1 311.8 286.3 310.6 286.4 310.9 286.4 310.0 286.6 311.6 286.8 310.8 286.8 310.4 286.8 310.1 287.0 311.9 287.1 311.5 287.1 311.1 287.2 310.6 287.4 311.7 287.4 311.3 287.5 310.9 287.7 311.9 287.8 311.2 287.8 311.3 287.9 312.1 288.1 310.4 288.1 311.1 288.4 312.3 288.4 312.2 288.5 311.8 288.5 312.0 288.6 311.2 288.8 312.0 288.8 311.8 289.0 312.2 289.1 311.3 289.2 311.4 289.3 311.0 289.5 311.7 289.5 311.7 289.6 311.6 289.7 312.7 289.8 311.8 289.8 311.5 289.9 310.7 290.1 312.0 290.2 311.9 290.2 311.4 290.3 312.4 290.5 312.4 290.5 311.9 290.8 311.1 290.8 311.5 290.8 311.4 291.2 310.3 291.2 310.6 291.5 312.3 291.5 312.0 291.6 312.8 291.6 311.9 291.8 311.9 291.9 311.9 292.0 311.3 292.1 312.4 292.2 312.0 292.2 311.9 292.2 312.4 292.3 311.2 292.5 311.4 292.5 311.0 292.6 310.4 292.8 311.5 292.8 311.0 292.9 310.8 293.2 312.0 293.2 312.1 293.3 312.2 293.5 311.1 293.5 311.5 293.6 311.3 293.7 310.8 293.9 311.9 293.9 311.1 293.9 311.2 294.2 311.9 294.2 311.6 294.4 312.5 294.6 311.1 294.6 311.7 294.8 311.2 294.9 312.3 294.9 312.2 295.1 313.0 295.2 311.9 295.2 311.9 295.3 312.2 295.3 312.9 295.5 310.9 295.6 311.7 295.6 312.0 295.8 311.7 295.8 312.5 295.9 312.3 296.0 311.9 296.1 311.1 296.3 312.2 296.3 312.1 296.3 312.3 296.6 311.2 296.6 311.3 296.7 312.7 296.9 312.7 297.0 312.7 297.0 313.0 297.2 311.3 297.3 312.5 297.3 312.2 297.4 312.0 297.5 313.1 297.6 312.4 297.7 312.3 297.8 311.0 298.0 312.6 298.0 312.6 298.2 312.1 298.3 313.1 298.3 312.3 298.3 312.6 298.5 311.6 298.6 312.9 298.6 312.5 298.7 312.7 298.8 313.7 298.9 311.7 299.0 312.2 299.0 312.6 299.1 312.8 299.3 311.6 299.3 312.1 299.3 312.4 299.5 311.8 299.6 313.2 299.7 312.2 299.7 312.5 299.7 312.7 299.9 311.5 300.0 312.0 300.0 312.0 300.2 313.1 300.3 311.3 300.3 312.3 300.4 312.4 300.5 311.4 300.7 312.9 300.7 312.5 300.7 312.2 300.9 311.8 301.0 312.7 301.0 312.8 301.1 313.0 301.4 311.4 301.4 311.6 301.5 311.4 301.7 313.1 301.7 312.5 301.9 311.0 302.0 313.0 302.1 311.8 302.1 311.8 302.2 313.2 302.3 311.6 302.4 312.1 302.4 312.4 302.5 312.0 302.7 312.9 302.8 312.9 302.8 312.1 302.9 313.3 303.1 312.4 303.1 312.6 303.2 312.2 303.4 313.2 303.4 313.0 303.5 313.3 303.5 311.6 303.8 312.2 303.8 312.7 303.8 313.0 304.0 311.2 304.1 311.8 304.1 312.0 304.2 313.3 304.4 312.6 304.5 312.5 304.5 312.2 304.7 313.0 304.8 312.4 304.8 313.1 304.8 313.3 305.0 311.8 305.1 312.5 305.1 312.6 305.2 311.6 305.4 313.4 305.5 311.9 305.5 312.6 305.5 311.5 305.7 312.8 305.8 312.5 305.8 312.5 306.0 311.8 306.1 313.1 306.1 312.9 306.2 312.7 306.2 313.4 306.4 311.6 306.5 312.8 306.5 312.1 306.5 311.8 306.6 313.5 306.8 313.2 306.8 313.1 307.0 311.5 307.1 312.4 307.2 312.2 307.4 313.3 307.4 311.8 307.5 312.3 307.5 312.7 307.6 311.1 307.7 312.7 307.8 312.5 307.9 312.9 308.0 313.1 308.1 311.5 308.2 312.5 308.2 312.7 308.3 312.0 308.4 313.7 308.5 312.3 308.5 312.6 308.6 312.7 308.8 311.6 308.8 312.1 308.9 312.4 309.0 313.7 309.2 311.9 309.2 312.4 309.2 312.5 309.3 313.2 309.4 311.9 309.5 312.6 309.5 311.8 309.8 312.8 309.8 311.4 309.9 312.1 309.9 312.0 309.9 311.6 310.0 312.8 310.2 312.0 310.2 312.1 310.4 313.8 310.5 312.0 310.6 312.5 310.6 312.5 310.8 313.4 310.9 311.9 310.9 312.5 310.9 312.7 311.0 313.5 311.1 312.2 311.2 312.4 311.2 312.4 311.3 312.1 311.4 313.4 311.6 313.0 311.6 313.3 311.6 311.9 311.9 312.1 311.9 312.0 311.9 311.8 312.2 313.2 312.3 312.8 312.3 312.1 312.5 313.2 312.6 312.5 312.6 312.5 312.8 313.3 312.9 312.1 312.9 313.2 313.0 313.2 313.0 312.2 313.3 312.4 313.3 312.6 313.5 313.1 313.6 312.1 313.6 312.8 313.6 312.7 313.7 313.7 313.9 312.3 314.0 312.4 314.0 313.0 314.0 312.5 314.1 313.5 314.3 312.6 314.3 312.5 314.4 311.5 314.5 313.9 314.6 312.6 314.6 312.6 314.8 313.9 314.9 311.5 315.0 312.3 315.0 312.4 315.0 311.8 315.1 313.1 315.3 312.8 315.3 312.9 315.4 313.3 315.6 311.7 315.7 312.0 315.8 313.3 316.0 312.7 316.0 313.0 316.1 313.3 316.3 312.0 316.3 312.1 316.4 311.9 316.5 313.0 316.7 312.7 316.7 312.9 316.8 313.2 317.0 312.1 317.0 312.9 317.0 313.0 317.3 313.3 317.3 312.1 317.4 312.2 317.4 312.2 317.4 312.1 317.5 313.7 317.7 313.1 317.7 313.0 317.8 312.3 318.0 313.3 318.0 313.1 318.0 313.5 318.1 313.8 318.3 312.6 318.4 313.3 318.4 313.0 318.4 311.8 318.7 313.2 318.7 312.9 318.7 312.7 318.8 313.1 318.9 311.7 319.1 313.0 319.1 312.8 319.2 311.9 319.4 313.3 319.4 312.9 319.4 312.9 319.5 311.5 319.6 313.9 319.7 312.6 319.7 312.5 320.0 313.5 320.1 312.5 320.1 312.5 320.1 312.5 320.2 311.7 320.3 313.9 320.4 312.3 320.4 312.6 320.6 311.9 320.7 313.1 320.8 313.5 321.0 313.5 321.1 312.1 321.1 311.8 321.3 313.9 321.4 313.1 321.4 312.7 321.5 313.6 321.8 311.9 321.8 312.1 321.8 311.8 321.9 313.7 322.1 312.3 322.1 312.2 322.2 311.6 322.4 313.4 322.5 312.7 322.5 312.7 322.6 313.3 322.7 312.4 322.8 312.5 322.8 312.8 322.9 312.1 323.0 313.6 323.1 313.5 323.1 313.3 323.2 313.9 323.2 312.2 323.5 312.4 323.5 312.3 323.6 312.1 323.8 313.6 323.8 312.8 323.8 312.9 323.9 313.3 324.0 312.0 324.2 312.8 324.2 313.0 324.3 313.7 324.4 312.7 324.5 313.1 324.5 312.7 324.7 313.5 324.7 312.0 324.8 312.3 324.8 312.3 324.9 311.9 325.1 313.6 325.2 312.9 325.2 313.0 325.3 313.7 325.4 312.0 325.5 313.0 325.5 312.8 325.7 311.7 325.7 313.3 325.9 312.9 325.9 313.2 326.0 313.6 326.1 312.3 326.2 312.3 326.2 312.6 326.3 313.5 326.5 311.9 326.5 312.8 326.5 312.4 326.7 313.0 326.9 312.1 326.9 312.6 327.0 312.3 327.1 313.8 327.2 312.9 327.2 312.9 327.4 312.3 327.5 313.3 327.6 313.0 327.6 312.9 327.7 313.3 327.7 312.4 327.9 312.9 327.9 312.8 328.0 313.7 328.1 311.6 328.2 313.2 328.2 312.9 328.3 312.2 328.4 313.5 328.6 312.8 328.6 312.7 328.6 312.2 328.9 313.6 328.9 313.2 328.9 313.1 329.0 314.0 329.2 312.2 329.3 313.2 329.3 313.9 329.4 311.9 329.6 312.7 329.6 312.6 329.8 313.5 329.9 311.9 329.9 312.8 329.9 312.8 330.0 313.4 330.2 312.6 330.3 313.0 330.3 313.2 330.4 313.6 330.5 312.4 330.6 312.9 330.6 312.4 330.7 313.8 330.9 312.3 331.0 312.4 331.0 312.6 331.0 313.4 331.1 312.3 331.3 313.3 331.3 313.2 331.5 312.0 331.5 313.4 331.6 312.9 331.6 312.6 331.8 313.9 331.8 312.2 332.0 313.1 332.0 312.9 332.0 312.1 332.0 313.7 332.3 313.5 332.3 313.4 332.4 312.4 332.4 314.0 332.7 313.0 332.7 313.3 332.7 313.6 332.9 312.5 333.0 313.0 333.0 312.9 333.2 312.5 333.3 313.6 333.3 313.3 333.3 312.8 333.4 312.3 333.7 313.4 333.7 313.5 333.7 314.0 334.0 312.4 334.0 313.0 334.0 312.6 334.1 312.3 334.1 313.7 334.4 313.0 334.4 313.1 334.4 313.7 334.6 312.4 334.7 313.4 334.7 313.4 334.8 313.7 334.9 312.6 335.0 313.1 335.0 313.1 335.2 312.5 335.3 314.0 335.4 312.5 335.4 312.5 335.5 313.5 335.7 312.3 335.7 313.4 335.7 313.3 335.7 313.7 335.9 312.2 336.1 313.0 336.1 313.2 336.2 313.7 336.3 312.2 336.4 312.7 336.4 313.0 336.5 313.8 336.5 312.0 336.7 312.7 336.7 313.1 336.8 311.9 337.1 314.0 337.1 313.8 337.4 312.3 337.4 313.0 337.4 313.2 337.7 313.7 337.7 312.3 337.8 312.7 337.8 312.9 338.0 314.0 338.1 312.6 338.1 313.1 338.1 313.2 338.1 313.7 338.2 312.6 338.4 313.2 338.4 313.3 338.5 313.8 338.8 312.0 338.8 312.6 338.8 312.8 338.8 312.0 338.8 313.9 339.1 312.7 339.1 312.5 339.2 312.0 339.4 313.8 339.5 313.7 339.5 313.4 339.5 313.8 339.6 312.2 339.8 313.4 339.8 313.4 339.9 312.4 340.1 313.8 340.1 312.7 340.1 312.9 340.2 313.9 340.4 312.5 340.5 313.4 340.5 313.3 340.7 313.7 340.8 312.2 340.8 312.3 340.9 313.6 341.0 312.1 341.2 313.1 341.2 313.2 341.2 312.3 341.4 314.0 341.5 313.0 341.5 313.2 341.6 312.4 341.8 314.2 341.8 313.2 341.8 313.8 341.9 313.9 342.0 312.4 342.2 313.1 342.2 312.8 342.3 312.4 342.4 313.8 342.5 313.5 342.5 313.1 342.6 314.0 342.9 311.9 342.9 312.4 342.9 313.6 343.1 312.4 343.2 313.2 343.2 313.1 343.2 312.4 343.4 314.0 343.5 313.0 343.5 312.5 343.6 313.9 343.9 312.4 343.9 312.5 343.9 312.5 344.0 314.0 344.2 312.3 344.2 312.7 344.2 312.6 344.3 314.1 344.4 312.5 344.6 313.1 344.6 313.2 344.8 312.3 344.9 314.1 344.9 312.7 344.9 313.0 345.0 312.2 345.1 313.8 345.2 313.0 345.2 313.3 345.4 312.5 345.4 313.9 345.6 313.0 345.6 313.0 345.7 312.3 345.7 313.7 345.9 312.9 345.9 313.0 346.1 312.1 346.2 313.7 346.3 313.1 346.3 313.0 346.3 312.5 346.4 313.9 346.6 312.8 346.6 312.9 346.7 312.4 346.9 313.7 346.9 313.1 346.9 313.3 347.0 313.8 347.1 312.2 347.3 313.2 347.3 313.1 347.4 313.9 347.5 312.4 347.6 312.9 347.6 312.7 347.6 313.9 347.7 312.4 348.0 312.9 348.0 313.0 348.0 313.8 348.3 312.4 348.3 312.8 348.3 312.6 348.5 314.2 348.6 312.2 348.6 313.7 348.6 313.5 348.8 313.7 348.9 312.2 349.0 312.7 349.0 313.1 349.1 313.6 349.1 312.5 349.3 312.7 349.3 312.5 349.4 311.9 349.5 314.0 349.7 312.9 349.7 312.5 349.7 312.2 349.9 313.7 350.0 313.2 350.0 313.3 350.2 313.9 350.3 312.4 350.3 313.0 350.3 312.9 350.4 314.1 350.5 311.8 350.7 313.1 350.7 313.1 350.7 312.5 350.9 313.9 351.0 313.1 351.0 312.8 351.3 314.1 351.3 312.4 351.4 313.0 351.4 313.1 351.5 314.4 351.7 312.1 351.7 312.3 351.7 312.2 351.9 313.8 352.0 313.3 352.0 313.1 352.1 312.5 352.3 314.0 352.4 314.0 352.4 313.8 352.5 314.4 352.7 312.4 352.7 312.6 352.7 312.5 352.9 312.4 353.0 314.0 353.1 313.6 353.1 313.4 353.1 314.0 353.3 312.5 353.4 313.3 353.4 312.9 353.5 312.0 353.7 314.1 353.7 313.7 353.9 312.7 354.0 313.8 354.1 313.5 354.1 313.4 354.1 312.5 354.2 313.9 354.4 313.0 354.4 312.7 354.7 312.1 354.8 314.0 354.8 313.8 354.8 313.5 355.0 312.5 355.0 314.0 355.1 312.6 355.1 313.0 355.2 314.0 355.4 312.5 355.4 312.9 355.4 313.1 355.5 313.8 355.7 311.8 355.8 313.3 355.8 313.0 355.9 313.8 356.1 312.3 356.1 312.9 356.1 313.3 356.1 313.9 356.3 312.3 356.5 313.6 356.5 313.3 356.6 314.0 356.7 311.9 356.8 313.4 356.8 313.3 356.9 314.0 357.1 312.6 357.1 313.7 357.1 313.8 357.4 314.0 357.5 312.0 357.5 312.7 357.5 313.2 357.6 314.1 357.7 312.4 357.7 312.7" stroke="#00c800"/><path d="M97.4 310.1 117.4 312.1 129.1 309.6 137.4 307.5 143.9 305.4 149.1 303.2 153.6 300.2 157.4 297.6 160.8 294.7 163.9 293.6 166.6 295.3 169.2 296.9 171.5 296.9 173.6 294.8 175.6 292.3 177.5 287.4 179.2 285.5 180.9 282.9 182.4 281.6 183.9 278.2 185.3 275.3 186.7 276.4 188.0 275.7 189.2 274.3 190.4 273.3 191.5 273.3 192.6 269.0 193.6 269.9 194.6 266.1 195.6 267.4 196.6 263.4 197.5 266.6 198.4 266.5 199.2 265.7 200.1 264.1 200.9 260.4 201.7 262.7 202.5 262.7 203.2 259.9 203.9 259.0 204.7 261.4 205.3 256.2 206.0 248.9 206.7 250.7 207.3 250.5 208.0 255.7 208.6 251.0 209.2 250.8 209.8 252.7 210.4 253.3 211.0 248.8 211.5 249.1 212.1 250.2 212.6 252.8 213.1 248.4 213.7 257.4 214.2 255.8 214.7 252.3 215.2 247.9 215.7 241.0 216.1 240.1 216.6 243.3 217.1 242.8 217.5 249.9 218.0 256.0 218.4 243.8 218.8 250.9 219.3 252.8 219.7 251.6 220.1 249.0 220.5 253.5 220.9 252.2 221.3 248.9 221.7 250.7 222.1 248.0 222.5 253.7 222.9 248.5 223.2 250.4 223.6 243.4 224.0 250.7 224.3 249.7 224.7 247.2 225.0 250.2 225.4 245.6 225.7 248.0 226.1 254.8 226.4 256.0 226.7 256.1 227.0 252.3 227.4 248.8 227.7 248.4 228.0 252.1 228.3 244.4 228.6 251.9 228.9 247.6 229.2 255.7 229.5 251.0 229.8 251.0 230.1 252.7 230.4 257.2 230.7 261.3 231.0 253.4 231.3 253.4 231.5 252.6 231.8 253.3 232.1 260.5 232.4 259.1 232.6 258.9 232.9 259.5 233.2 260.1 233.4 256.2 233.7 252.7 233.9 255.0 234.2 262.4 234.4 260.3 234.7 271.6 234.9 268.4 235.2 263.1 235.4 263.4 235.7 263.1 235.9 263.0 236.2 260.3 236.4 260.6 236.6 261.9 236.9 266.0 237.1 267.1 237.3 270.5 237.5 269.3 237.8 271.2 238.0 270.6 238.2 268.4 238.4 272.7 238.7 276.3 238.9 277.0 239.1 269.8 239.3 268.9 239.5 268.0 239.7 269.6 239.9 274.9 240.1 276.6 240.3 281.7 240.5 280.6 240.7 282.3 240.9 286.2 241.1 284.2 241.3 282.0 241.5 280.4 241.7 278.0 241.9 276.6 242.1 272.0 242.3 275.5 242.5 275.2 242.7 278.2 242.9 275.8 243.1 280.0 243.3 279.5 243.4 280.7 243.6 278.0 243.8 283.2 244.0 281.5 244.2 280.0 244.3 276.0 244.5 275.6 244.7 281.5 244.9 280.7 245.1 283.4 245.2 283.2 245.4 283.6 245.6 285.7 245.7 286.3 245.9 280.6 246.1 283.6 246.2 288.8 246.4 288.5 246.6 287.3 246.7 285.9 246.9 282.4 247.1 282.1 247.2 280.9 247.4 277.0 247.6 280.2 247.7 280.9 247.9 287.0 248.0 286.9 248.2 287.4 248.3 288.6 248.5 283.9 248.7 285.4 248.8 283.2 249.0 285.8 249.1 284.6 249.3 289.0 249.4 288.6 249.6 289.6 249.7 291.2 249.9 290.1 250.0 288.9 250.1 291.1 250.3 282.1 250.4 281.9 250.6 281.8 250.7 283.2 250.9 287.2 251.0 289.6 251.2 289.8 251.3 286.1 251.4 286.8 251.6 281.5 251.7 281.0 251.8 281.5 252.0 289.9 252.1 289.4 252.3 288.9 252.4 291.1 252.5 286.6 252.7 290.7 252.8 292.0 252.9 285.9 253.1 290.1 253.2 281.0 253.3 290.1 253.5 287.1 253.6 283.8 253.7 285.5 253.8 291.8 254.0 289.5 254.1 292.9 254.2 293.2 254.3 295.9 254.5 297.4 254.6 296.3 254.7 297.1 254.9 299.8 255.0 298.1 255.1 295.0 255.2 291.9 255.3 294.3 255.5 291.5 255.6 293.2 255.7 294.6 255.8 296.1 255.9 294.7 256.1 296.2 256.2 292.3 256.3 293.9 256.4 293.8 256.5 292.0 256.7 293.3 256.8 293.4 256.9 293.2 257.0 295.9 257.1 290.6 257.2 294.2 257.3 297.2 257.5 296.5 257.6 294.9 257.7 295.8 257.8 293.3 257.9 289.7 258.0 295.5 258.1 295.6 258.2 293.2 258.3 295.6 258.5 294.3 258.6 294.5 258.7 292.9 258.8 294.1 258.9 298.9 259.0 299.6 259.1 298.8 259.2 297.3 259.3 295.1 259.4 298.7 259.5 303.2 259.6 303.6 259.7 300.9 259.8 302.3 260.0 293.5 260.1 292.5 260.2 288.7 260.3 293.3 260.4 294.3 260.5 293.8 260.6 298.4 260.7 296.3 260.8 297.0 260.9 298.6 261.0 298.2 261.1 301.0 261.2 301.6 261.3 301.5 261.4 301.1 261.5 303.4 261.6 302.5 261.7 300.6 261.8 300.9 261.9 299.0 262.0 299.0 262.1 296.0 262.2 295.3 262.2 293.1 262.3 293.9 262.4 294.6 262.5 296.7 262.6 297.2 262.7 297.7 262.8 300.5 262.9 296.5 263.0 295.1 263.1 299.4 263.2 300.9 263.3 305.2 263.4 306.0 263.5 309.9 263.6 304.1 263.7 299.3 263.7 296.1 263.8 297.3 263.9 299.8 264.0 298.2 264.1 296.5 264.2 297.9 264.3 292.7 264.4 297.5 264.5 298.3 264.6 300.4 264.6 301.1 264.7 302.5 264.8 301.7 264.9 300.3 265.0 299.9 265.1 297.1 265.2 300.7 265.3 300.7 265.3 302.3 265.4 303.4 265.5 307.4 265.6 301.5 265.7 303.5 265.8 301.5 265.9 299.6 265.9 298.3 266.0 298.9 266.4 295.1 266.4 295.7 266.5 299.3 266.6 297.3 266.7 298.8 266.8 297.2 266.9 295.0 266.9 297.9 267.0 300.1 267.1 300.1 267.2 302.5 267.3 303.3 267.3 303.4 267.4 308.6 267.5 305.3 267.6 306.7 267.7 305.9 267.7 303.2 267.8 298.8 268.1 301.2 268.1 297.5 268.2 296.4 268.3 298.5 268.4 301.9 268.4 305.1 268.5 302.8 268.6 303.0 268.7 301.8 268.8 297.1 269.1 302.8 269.1 300.1 269.2 300.4 269.3 305.3 269.4 302.1 269.4 301.2 269.5 302.7 269.6 300.1 269.7 300.1 269.8 305.7 269.9 302.9 270.0 305.5 270.0 305.6 270.1 308.0 270.4 298.2 270.5 303.8 270.5 300.8 270.7 308.0 270.8 306.7 270.8 309.1 271.1 303.2 271.2 300.4 271.2 298.7 271.4 307.0 271.5 306.8 271.5 310.6 271.6 309.8 271.7 309.4 271.7 304.5 271.8 305.7 271.9 302.9 272.1 303.2 272.1 303.1 272.3 302.8 272.4 306.9 272.5 306.6 272.6 306.1 272.6 308.9 272.8 306.2 272.8 309.5 273.1 305.8 273.2 306.3 273.2 305.8 273.3 309.7 273.3 304.9 273.5 305.8 273.5 308.5 273.6 305.3 273.8 306.2 273.9 308.9 273.9 302.5 274.1 303.6 274.2 306.8 274.3 305.5 274.4 308.8 274.5 306.9 274.6 306.9 274.8 301.8 274.9 299.7 275.1 306.3 275.2 305.9 275.2 306.0 275.4 307.6 275.5 306.6 275.6 306.4 275.7 303.8 275.9 308.9 275.9 311.8 276.1 304.6 276.2 307.1 276.3 306.5 276.5 303.1 276.6 304.3 276.6 307.3 276.8 301.2 276.9 303.4 276.9 304.7 277.1 309.0 277.2 308.3 277.3 308.5 277.4 311.1 277.5 306.1 277.6 306.2 277.7 305.8 277.8 310.8 277.9 308.3 277.9 310.4 278.2 304.3 278.2 305.9 278.3 304.9 278.3 304.7 278.6 308.0 278.6 309.8 278.8 310.1 278.8 307.4 278.9 310.0 279.0 312.6 279.0 314.5 279.2 310.0 279.3 309.9 279.5 311.0 279.6 306.1 279.7 305.8 279.8 311.4 279.9 311.0 280.0 313.0 280.3 306.7 280.3 307.8 280.4 308.7 280.5 307.6 280.6 307.7 280.6 310.6 280.9 306.8 281.0 305.7 281.0 303.5 281.2 312.2 281.3 308.8 281.3 308.6 281.6 307.1 281.6 310.0 281.7 307.7 281.9 312.9 282.0 309.1 282.0 310.9 282.1 312.1 282.3 309.0 282.3 309.7 282.4 310.3 282.6 307.5 282.7 308.1 282.7 307.6 282.9 314.1 283.0 310.7 283.0 307.8 283.1 306.8 283.3 313.1 283.4 312.8 283.4 311.5 283.7 308.5 283.7 308.7 283.8 310.7 284.0 307.6 284.0 307.8 284.0 307.8 284.1 312.9 284.4 311.2 284.4 313.3 284.7 307.7 284.7 308.7 284.8 311.0 285.0 309.6 285.0 311.7 285.1 311.5 285.1 312.2 285.4 308.0 285.4 309.1 285.5 307.8 285.7 310.3 285.8 310.3 285.8 308.8 286.0 313.0 286.0 309.7 286.1 310.2 286.1 309.5 286.2 311.6 286.4 311.1 286.4 310.7 286.5 312.7 286.7 309.3 286.8 309.5 286.8 308.8 286.8 307.4 286.9 309.7 287.1 308.9 287.1 308.6 287.2 308.4 287.4 311.2 287.4 310.6 287.4 312.2 287.5 313.8 287.6 310.6 287.8 313.3 287.8 312.2 287.8 313.2 288.0 308.5 288.1 309.1 288.1 309.0 288.3 312.6 288.4 309.5 288.5 310.5 288.7 309.6 288.8 312.1 288.8 310.1 289.0 310.6 289.1 308.1 289.2 310.1 289.2 308.9 289.4 313.4 289.5 312.2 289.5 310.2 289.6 310.6 289.8 308.9 289.8 311.7 289.9 310.8 290.1 314.9 290.2 313.3 290.3 315.4 290.4 312.4 290.5 313.3 290.5 313.8 290.8 310.4 290.8 310.9 290.8 311.2 291.0 308.5 291.2 309.6 291.2 309.9 291.3 308.9 291.4 311.6 291.5 310.5 291.6 311.0 291.6 314.2 291.8 313.3 291.9 314.4 292.1 309.2 292.2 310.5 292.2 312.2 292.2 310.5 292.3 313.1 292.5 312.4 292.5 312.8 292.6 313.5 292.8 311.3 292.8 311.3 292.9 313.0 293.0 312.1 293.1 313.7 293.2 313.7 293.2 314.4 293.5 311.6 293.5 313.1 293.6 312.4 293.8 313.0 293.9 310.6 293.9 312.1 294.0 313.2 294.1 311.6 294.2 312.0 294.2 310.3 294.3 309.8 294.5 313.8 294.6 312.3 294.6 311.3 294.6 310.6 294.8 312.1 294.9 311.5 294.9 310.5 295.1 312.8 295.2 311.2 295.3 312.4 295.3 311.9 295.5 315.9 295.6 314.9 295.6 314.5 295.8 312.1 295.9 313.8 296.0 314.3 296.0 315.5 296.2 311.9 296.3 312.6 296.3 313.2 296.5 314.0 296.6 311.0 296.6 311.0 296.8 314.4 296.9 312.2 297.0 312.3 297.2 313.5 297.3 313.5 297.3 314.6 297.6 313.1 297.6 313.2 297.7 312.0 297.8 314.1 298.0 313.3 298.0 314.1 298.0 314.3 298.3 312.6 298.3 314.2 298.3 314.6 298.4 314.7 298.6 312.2 298.6 312.4 298.7 312.4 298.9 313.2 299.0 311.3 299.0 312.5 299.0 313.2 299.1 314.1 299.2 312.0 299.3 313.3 299.3 313.7 299.5 312.7 299.6 314.6 299.7 314.3 299.7 314.4 299.7 314.5 299.9 312.4 300.0 313.0 300.0 312.4 300.1 311.8 300.3 314.4 300.4 314.1 300.5 313.5 300.6 315.7 300.7 313.9 300.7 313.6 300.7 312.7 300.9 314.4 301.0 313.7 301.0 312.7 301.1 312.6 301.2 314.1 301.4 313.1 301.4 313.7 301.6 312.3 301.7 314.4 301.7 312.8 301.7 312.9 301.9 314.4 302.0 312.3 302.1 313.2 302.1 313.7 302.1 314.3 302.3 311.7 302.4 313.0 302.4 313.7 302.6 314.6 302.7 312.0 302.8 311.8 302.8 311.0 303.0 315.4 303.1 315.2 303.1 314.5 303.1 315.0 303.2 312.6 303.4 313.8 303.4 314.9 303.6 312.0 303.8 315.1 303.8 315.0 304.0 312.9 304.1 313.0 304.1 313.2 304.2 312.9 304.4 314.5 304.4 313.7 304.5 313.8 304.5 313.3 304.6 315.4 304.8 313.3 304.8 313.8 304.9 315.1 305.1 312.7 305.1 311.9 305.3 314.2 305.5 313.7 305.5 314.8 305.5 314.9 305.7 313.3 305.8 314.0 305.8 313.9 305.9 315.3 306.1 313.0 306.1 313.2 306.2 313.7 306.2 313.2 306.3 314.7 306.5 314.5 306.5 314.4 306.6 314.8 306.8 313.6 306.8 314.3 306.8 314.3 306.9 314.6 307.0 313.2 307.1 313.9 307.2 314.1 307.2 313.2 307.5 315.0 307.5 313.9 307.5 313.8 307.6 312.9 307.7 314.6 307.8 314.6 307.9 314.0 307.9 313.6 308.1 315.4 308.2 314.9 308.2 315.0 308.5 312.7 308.5 313.3 308.5 313.0 308.6 312.4 308.8 314.6 308.8 313.9 308.9 313.7 309.0 313.4 309.0 315.0 309.2 314.3 309.2 313.7 309.3 311.8 309.5 315.7 309.5 314.7 309.5 314.2 309.6 314.8 309.6 313.1 309.9 313.4 309.9 313.6 310.0 315.8 310.2 314.2 310.2 313.7 310.5 314.8 310.5 312.3 310.6 313.1 310.6 314.1 310.6 315.9 310.8 313.3 310.9 314.5 310.9 314.8 311.2 313.2 311.2 312.9 311.3 312.3 311.6 315.2 311.6 314.4 311.6 315.1 311.9 313.8 311.9 313.9 311.9 314.6 312.0 314.7 312.3 313.3 312.3 313.8 312.5 313.7 312.6 314.9 312.6 313.9 312.6 315.0 312.8 313.3 312.9 314.0 313.0 313.5 313.0 313.5 313.1 315.8 313.3 314.0 313.3 314.1 313.4 314.8 313.4 312.9 313.6 314.1 313.6 314.6 313.7 316.0 313.9 312.9 314.0 314.0 314.0 314.0 314.0 314.5 314.1 312.7 314.3 314.0 314.3 314.1 314.6 313.1 314.6 314.7 314.6 314.2 314.6 314.3 314.7 314.5 314.9 313.0 315.0 314.2 315.0 314.4 315.2 312.7 315.3 315.4 315.3 313.6 315.3 313.6 315.5 312.8 315.5 315.2 315.6 313.8 315.7 313.2 316.0 316.3 316.0 315.4 316.0 315.5 316.0 315.6 316.1 313.3 316.3 313.5 316.3 314.0 316.5 315.2 316.7 313.3 316.7 313.6 316.7 313.8 316.9 314.6 316.9 313.3 317.0 313.6 317.0 313.5 317.0 314.6 317.3 312.9 317.4 314.1 317.4 313.7 317.4 313.1 317.6 315.6 317.7 313.7 317.7 313.4 317.8 314.8 318.0 313.0 318.0 313.1 318.0 313.4 318.1 313.2 318.2 315.0 318.4 314.7 318.4 314.9 318.4 312.5 318.7 315.0 318.7 314.3 318.7 314.6 318.8 314.7 319.0 313.4 319.1 314.3 319.1 314.6 319.1 313.6 319.3 315.6 319.4 314.2 319.4 314.2 319.5 312.7 319.7 315.5 319.7 315.1 319.7 314.9 319.8 315.1 319.9 313.1 320.1 314.3 320.1 313.9 320.2 313.3 320.4 315.8 320.4 313.8 320.4 314.7 320.5 315.1 320.7 313.3 320.7 314.0 320.8 314.2 320.8 313.4 321.0 315.6 321.1 314.3 321.1 314.8 321.3 315.9 321.4 313.2 321.4 313.6 321.4 314.0 321.5 313.5 321.6 315.5 321.8 314.2 321.8 313.8 321.9 315.6 322.0 312.7 322.1 314.5 322.1 314.5 322.2 315.1 322.4 313.2 322.5 314.2 322.5 314.2 322.5 313.6 322.7 315.0 322.8 314.6 322.8 314.4 323.0 313.4 323.1 315.3 323.1 314.0 323.1 313.7 323.2 315.6 323.5 314.4 323.5 314.4 323.5 313.4 323.8 315.9 323.8 314.4 323.8 314.1 323.9 313.5 324.1 315.2 324.2 314.4 324.2 314.1 324.4 313.2 324.4 315.1 324.5 315.1 324.5 314.5 324.7 315.4 324.7 312.4 324.8 314.4 324.8 314.3 324.9 315.5 325.0 313.8 325.2 314.6 325.2 314.8 325.3 316.1 325.5 313.7 325.5 314.6 325.5 314.0 325.7 315.4 325.8 313.6 325.9 314.5 325.9 314.2 326.0 315.6 326.0 312.8 326.2 314.4 326.2 314.0 326.3 313.1 326.5 315.5 326.5 314.7 326.5 314.1 326.8 313.2 326.9 315.3 326.9 314.6 326.9 314.8 327.1 315.2 327.2 313.7 327.2 314.0 327.2 312.6 327.2 312.3 327.3 315.9 327.6 314.7 327.6 314.3 327.7 315.4 327.8 313.6 327.9 313.6 327.9 314.0 328.0 315.2 328.0 313.8 328.2 314.9 328.2 313.9 328.3 313.4 328.4 315.3 328.6 314.4 328.6 314.6 328.6 316.3 328.8 313.0 328.9 315.2 328.9 314.7 329.1 313.4 329.2 315.6 329.3 314.3 329.3 314.4 329.3 315.3 329.4 313.5 329.6 314.8 329.6 314.3 329.7 315.6 329.8 313.3 329.9 313.8 329.9 314.2 330.1 315.2 330.3 313.3 330.3 314.0 330.4 315.4 330.4 313.4 330.6 314.5 330.6 314.7 330.8 313.4 330.9 315.4 331.0 313.8 331.0 313.6 331.0 313.5 331.3 315.1 331.3 314.6 331.3 315.3 331.4 315.5 331.5 313.6 331.6 315.1 331.6 314.7 331.8 314.0 332.0 315.3 332.0 315.2 332.0 315.3 332.2 315.5 332.3 313.8 332.3 313.2 332.4 315.8 332.7 314.3 332.7 313.5 332.8 314.9 333.0 314.3 333.0 315.0 333.1 316.1 333.2 313.3 333.3 314.9 333.3 314.4 333.5 315.4 333.6 313.6 333.7 314.4 333.7 314.0 333.9 313.8 333.9 315.1 334.0 313.9 334.0 314.2 334.1 316.1 334.2 313.8 334.4 314.3 334.4 314.3 334.4 313.8 334.5 315.9 334.7 314.9 334.7 314.8 334.8 313.2 334.9 315.2 335.0 314.2 335.0 314.5 335.3 315.5 335.4 313.6 335.4 314.0 335.4 313.7 335.6 316.0 335.7 313.7 335.7 314.3 335.7 313.8 335.9 313.6 336.0 315.3 336.1 313.8 336.1 313.6 336.3 315.4 336.4 314.3 336.4 315.0 336.5 316.0 336.7 313.5 336.7 315.1 336.7 314.8 336.8 315.8 336.9 313.7 337.1 314.6 337.1 314.8 337.1 315.7 337.3 313.9 337.4 315.0 337.4 314.3 337.5 315.5 337.5 314.0 337.8 314.8 337.8 314.8 337.8 315.5 338.1 313.9 338.1 313.5 338.1 313.4 338.3 315.6 338.4 314.4 338.4 315.1 338.5 313.6 338.8 315.4 338.8 314.3 338.8 314.3 338.8 313.5 339.0 315.9 339.1 313.7 339.1 314.5 339.2 315.6 339.2 313.8 339.5 314.7 339.5 314.8 339.7 313.9 339.7 315.6 339.8 314.8 339.8 314.9 339.9 315.8 340.0 313.9 340.1 314.8 340.1 314.5 340.2 313.2 340.3 315.9 340.5 314.9 340.5 314.6 340.6 315.8 340.8 313.7 340.8 314.6 340.8 314.5 340.8 313.5 341.1 315.5 341.2 314.3 341.2 314.4 341.3 313.6 341.4 316.1 341.5 314.9 341.5 315.0 341.6 315.5 341.6 313.8 341.8 314.4 341.8 314.7 342.0 315.8 342.1 313.7 342.2 313.8 342.2 313.9 342.3 313.6 342.5 315.7 342.5 314.2 342.5 314.2 342.6 314.0 342.8 315.6 342.9 315.3 342.9 315.0 343.0 313.8 343.2 315.6 343.2 315.0 343.2 314.6 343.2 315.6 343.5 313.9 343.5 314.5 343.5 314.7 343.7 313.6 343.9 315.6 343.9 315.6 344.1 313.8 344.2 315.6 344.2 314.8 344.2 314.5 344.3 313.8 344.6 315.6 344.6 315.3 344.7 312.9 344.9 315.7 344.9 315.0 344.9 315.0 344.9 315.7 345.0 313.5 345.2 314.7 345.2 314.1 345.3 315.8 345.5 313.6 345.6 314.3 345.6 314.1 345.6 313.8 345.8 316.0 345.9 314.8 345.9 315.1 346.0 315.7 346.1 313.5 346.3 314.3 346.3 314.3 346.3 313.8 346.4 315.7 346.6 314.2 346.6 313.9 346.8 313.7 346.9 315.5 346.9 314.8 346.9 315.0 347.1 313.4 347.2 315.7 347.3 314.9 347.3 314.9 347.3 313.6 347.4 315.5 347.6 315.2 347.6 315.1 347.7 315.9 347.9 314.1 348.0 314.6 348.0 314.4 348.1 315.7 348.3 313.9 348.3 314.2 348.4 313.8 348.5 316.0 348.6 314.6 348.6 314.2 348.7 313.5 348.8 315.5 349.0 314.9 349.0 314.6 349.2 315.7 349.3 313.5 349.3 314.3 349.3 315.0 349.5 315.5 349.6 313.7 349.7 314.4 349.7 314.5 349.9 313.8 350.0 315.4 350.0 315.0 350.0 314.4 350.0 315.5 350.3 313.4 350.3 314.8 350.3 314.9 350.5 315.6 350.7 313.7 350.7 314.5 350.7 314.5 350.9 313.6 351.0 315.4 351.0 314.7 351.0 314.4 351.2 313.5 351.3 315.7 351.4 315.0 351.4 315.1 351.4 313.6 351.5 316.0 351.7 314.8 351.7 314.8 351.9 315.8 352.0 313.4 352.0 314.4 352.0 314.1 352.1 313.8 352.2 315.6 352.4 314.1 352.4 314.3 352.4 315.6 352.6 314.1 352.7 314.9 352.7 315.2 352.8 316.1 352.8 313.6 353.1 314.4 353.1 314.3 353.1 315.7 353.3 314.1 353.4 314.8 353.4 315.1 353.5 315.7 353.6 313.5 353.7 314.7 353.7 314.3 353.8 315.5 353.8 313.3 354.1 314.3 354.1 314.6 354.3 313.5 354.4 315.6 354.4 315.3 354.4 314.8 354.5 313.8 354.6 315.6 354.8 314.8 354.8 314.8 355.0 315.5 355.1 313.6 355.1 314.1 355.1 314.5 355.2 313.5 355.3 316.0 355.4 315.0 355.4 314.6 355.7 313.9 355.8 315.5 355.8 314.8 355.8 314.9 355.9 315.7 356.0 313.8 356.1 314.7 356.1 314.3 356.2 313.9 356.3 316.0 356.5 314.8 356.5 314.9 356.5 314.0 356.6 315.8 356.8 314.5 356.8 314.3 356.9 313.9 356.9 315.6 357.1 314.5 357.1 314.7 357.2 313.5 357.3 315.6 357.5 314.8 357.5 314.6 357.5 316.1 357.7 313.9 357.7 314.2" stroke="#00a0a0"/></g>
<clipPath id="cpb"><rect x="490.5" y="75.5" width="266.5" height="240.7"/></clipPath><g clip-path="url(#cpb)" fill="none" stroke-width="1.45" stroke-linejoin="round"><path d="M496.3 315.5 516.3 314.6 528.1 314.0 536.4 313.4 542.8 312.8 548.1 312.2 552.6 311.7 556.4 311.6 559.8 310.8 562.9 310.3 565.7 309.9 568.2 308.9 570.5 308.2 572.6 308.0 574.6 306.8 576.5 306.2 578.2 305.5 579.9 304.8 581.5 304.8 583.0 303.3 584.4 302.6 585.7 301.6 587.0 300.8 588.2 300.4 589.4 298.5 590.5 298.2 591.6 297.0 592.7 298.8 593.7 298.5 594.7 297.6 595.6 295.3 596.6 292.3 597.4 290.2 598.3 288.1 599.1 289.4 600.0 288.1 600.8 287.9 601.5 287.8 602.3 286.8 603.0 285.0 603.7 279.9 604.4 279.6 605.1 278.2 605.8 278.6 606.4 274.9 607.1 272.2 607.7 269.9 608.3 267.5 608.9 266.8 609.5 261.4 610.0 262.4 610.6 261.3 611.2 259.3 611.7 255.7 612.2 251.8 612.7 251.0 613.3 248.0 613.8 247.4 614.3 248.1 614.7 250.4 615.2 249.9 615.7 247.9 616.2 251.5 616.6 246.9 617.1 248.9 617.5 252.7 617.9 255.1 618.4 251.1 618.8 244.9 619.2 244.8 619.6 238.7 620.0 239.0 620.4 240.5 620.8 245.3 621.2 245.3 621.6 245.6 622.0 239.7 622.3 232.1 622.7 234.8 623.1 235.5 623.4 242.0 623.8 241.2 624.1 238.7 624.5 241.4 624.8 243.5 625.2 244.0 625.5 242.1 625.8 238.0 626.1 236.7 626.5 234.9 626.8 237.8 627.1 235.7 627.4 247.8 627.7 243.2 628.0 239.0 628.3 243.9 628.6 246.5 628.9 247.6 629.2 247.0 629.5 246.4 629.8 248.8 630.1 242.1 630.4 240.4 630.7 233.1 630.9 231.0 631.2 228.3 631.5 231.0 631.7 231.6 632.0 237.9 632.3 246.6 632.5 238.6 632.8 241.4 633.1 244.3 633.3 245.7 633.6 245.6 633.8 241.3 634.1 237.6 634.3 234.7 634.6 238.0 634.8 242.0 635.0 239.6 635.3 238.4 635.5 239.1 635.7 243.1 636.0 236.8 636.2 246.2 636.4 243.9 636.7 253.3 636.9 250.3 637.1 244.8 637.3 242.7 637.6 238.2 637.8 236.6 638.0 236.0 638.2 236.6 638.4 240.8 638.6 237.5 638.8 233.1 639.0 241.6 639.3 247.9 639.5 242.9 639.7 244.8 639.9 244.4 640.1 241.4 640.3 241.9 640.5 242.8 640.7 237.3 640.9 238.6 641.1 238.5 641.3 238.6 641.4 243.8 641.6 244.5 641.8 244.2 642.0 244.7 642.2 244.8 642.4 237.4 642.6 239.7 642.8 236.7 642.9 241.5 643.1 243.0 643.3 249.1 643.5 245.8 643.7 249.5 643.8 248.0 644.0 238.7 644.2 246.1 644.4 240.5 644.5 239.2 644.7 239.1 644.9 240.4 645.0 245.0 645.2 244.8 645.4 241.2 645.5 243.3 645.7 241.8 645.9 244.2 646.0 244.3 646.2 244.7 646.4 242.7 646.5 246.4 646.7 242.1 646.8 245.1 647.0 243.6 647.2 243.5 647.3 238.1 647.5 241.6 647.6 235.0 647.8 241.6 647.9 244.3 648.1 246.8 648.2 246.6 648.4 241.7 648.5 243.5 648.7 239.2 648.8 236.8 649.0 236.4 649.1 239.2 649.3 243.5 649.4 246.6 649.6 248.8 649.7 246.6 649.9 242.9 650.0 246.5 650.1 243.0 650.3 244.9 650.4 249.8 650.6 252.2 650.7 252.9 650.9 252.4 651.0 249.4 651.1 248.2 651.3 240.8 651.4 242.1 651.5 244.9 651.7 241.5 651.8 243.5 651.9 244.5 652.1 240.1 652.2 243.8 652.3 244.3 652.5 242.9 652.6 244.8 652.7 244.4 652.9 246.5 653.0 251.7 653.1 248.9 653.2 246.9 653.4 247.2 653.5 251.0 653.6 242.8 653.7 239.8 653.9 235.9 654.0 233.6 654.1 241.1 654.2 243.9 654.4 250.6 654.5 252.3 654.6 255.2 654.7 254.3 654.9 252.4 655.0 253.8 655.1 251.3 655.2 248.9 655.3 247.7 655.4 249.7 655.6 250.9 655.7 256.3 655.8 258.5 655.9 252.4 656.0 249.0 656.1 247.4 656.3 249.2 656.4 253.4 656.5 253.5 656.6 251.1 656.7 248.1 656.8 249.8 656.9 245.3 657.1 251.6 657.2 252.9 657.3 252.1 657.4 252.9 657.5 253.9 657.6 254.4 657.7 254.5 657.8 258.2 657.9 257.8 658.0 258.7 658.2 258.7 658.3 258.9 658.4 250.1 658.5 250.3 658.6 245.0 658.7 245.0 658.8 243.8 658.9 245.9 659.0 247.1 659.1 246.6 659.2 248.0 659.3 246.8 659.4 247.0 659.5 252.9 659.6 255.5 659.7 260.0 659.8 258.0 659.9 257.7 660.0 258.8 660.1 260.2 660.2 254.8 660.3 248.7 660.4 243.8 660.5 242.0 660.6 246.9 660.7 250.0 660.8 250.3 660.9 256.4 661.0 252.8 661.1 259.1 661.2 251.3 661.3 247.8 661.4 246.5 661.5 246.3 661.6 245.6 661.7 245.0 661.8 248.4 661.9 248.2 662.0 252.4 662.1 250.4 662.2 252.7 662.3 249.7 662.4 250.0 662.4 251.3 662.5 250.2 662.6 252.6 662.7 252.5 662.8 258.5 662.9 263.0 663.0 255.0 663.1 253.6 663.2 250.3 663.3 249.7 663.4 256.4 663.4 256.4 663.5 257.3 663.6 253.4 663.7 254.4 663.8 251.0 663.9 250.4 664.0 253.4 664.1 253.8 664.2 253.6 664.2 253.5 664.3 252.5 664.4 253.3 664.5 251.2 664.6 251.3 664.7 251.3 664.8 252.3 664.8 248.0 664.9 248.9 665.0 250.9 665.1 247.3 665.2 257.4 665.3 256.7 665.4 252.8 665.4 250.4 665.5 246.0 665.6 246.1 665.8 245.7 665.9 250.0 666.0 251.5 666.1 251.7 666.2 245.6 666.3 245.5 666.3 248.5 666.4 250.6 666.5 255.9 666.6 257.3 666.7 255.8 666.7 253.6 666.8 255.7 666.9 254.1 667.0 255.2 667.1 252.3 667.3 263.8 667.4 261.5 667.5 255.9 667.5 255.0 667.6 258.7 667.7 252.8 667.8 255.5 667.8 251.3 667.9 250.1 668.0 246.7 668.3 256.3 668.4 254.5 668.5 257.6 668.5 249.9 668.6 249.2 668.7 251.5 668.8 248.3 668.8 251.7 669.0 249.0 669.0 244.2 669.1 245.2 669.2 253.5 669.3 255.5 669.3 260.3 669.6 248.5 669.7 251.6 669.8 250.4 669.8 256.3 670.0 255.3 670.1 256.3 670.2 255.1 670.3 261.3 670.3 259.9 670.4 259.1 670.6 253.3 670.7 257.3 670.8 254.0 670.8 255.4 670.9 256.8 671.0 259.9 671.0 253.6 671.2 260.7 671.3 257.1 671.4 263.4 671.7 251.8 671.7 250.3 671.8 248.2 671.9 253.7 672.1 253.1 672.1 249.6 672.3 254.7 672.4 250.0 672.5 246.1 672.7 261.9 672.8 263.9 672.8 264.4 673.0 259.1 673.1 255.5 673.2 253.9 673.4 263.5 673.4 264.0 673.7 253.5 673.7 255.5 673.8 256.3 674.0 257.5 674.1 253.2 674.1 253.6 674.2 256.0 674.4 249.3 674.5 247.6 674.7 252.7 674.8 254.4 675.0 257.1 675.1 250.0 675.1 251.2 675.2 251.1 675.4 258.5 675.4 257.5 675.5 255.7 675.7 258.5 675.8 256.9 675.9 257.8 676.1 262.7 676.1 261.0 676.2 261.1 676.4 251.7 676.5 254.1 676.5 250.9 676.7 257.6 676.8 256.1 676.8 262.0 677.1 251.3 677.2 254.1 677.4 261.0 677.4 256.4 677.5 255.2 677.6 252.6 677.8 258.5 677.9 257.7 678.0 248.7 678.2 249.7 678.2 253.0 678.4 247.8 678.5 257.3 678.5 255.1 678.7 264.1 678.8 261.0 678.9 256.9 679.0 250.2 679.1 258.4 679.2 257.0 679.2 257.1 679.3 256.6 679.5 261.8 679.6 257.2 679.8 251.3 679.9 246.4 680.2 255.1 680.2 256.2 680.3 260.7 680.5 257.1 680.6 253.5 680.7 256.9 680.9 251.0 680.9 250.7 681.0 263.3 681.2 256.2 681.3 256.3 681.4 257.6 681.5 252.8 681.6 253.4 681.6 254.9 681.8 263.0 681.9 253.7 681.9 253.9 682.2 259.5 682.3 255.7 682.3 256.3 682.6 244.1 682.6 248.0 682.8 258.2 682.9 255.2 683.0 256.0 683.1 262.6 683.2 255.2 683.3 256.3 683.3 252.5 683.5 251.4 683.6 254.7 683.6 254.4 683.9 253.8 683.9 260.1 684.0 256.3 684.2 258.2 684.3 249.3 684.3 251.4 684.3 254.1 684.5 248.8 684.6 256.1 684.6 256.3 684.7 259.3 684.9 249.6 684.9 251.2 685.0 251.8 685.1 256.2 685.2 251.5 685.3 253.6 685.3 250.9 685.4 247.7 685.7 260.9 685.7 257.2 685.9 253.7 686.0 258.7 686.0 263.1 686.2 263.3 686.3 253.9 686.4 252.6 686.4 247.2 686.6 259.3 686.6 257.0 686.7 251.3 686.7 248.9 687.0 261.7 687.0 262.7 687.1 256.3 687.3 263.7 687.4 257.9 687.4 257.0 687.5 262.3 687.7 255.3 687.7 250.2 687.9 256.6 687.9 248.0 688.0 252.7 688.1 256.5 688.1 257.8 688.3 248.3 688.4 256.3 688.4 261.1 688.4 263.7 688.7 250.6 688.7 257.7 688.8 258.0 689.0 249.4 689.1 253.7 689.2 264.5 689.4 257.3 689.4 259.1 689.5 266.4 689.7 259.0 689.7 261.0 689.8 258.2 689.8 248.1 690.0 255.5 690.1 259.3 690.1 261.0 690.2 252.4 690.4 255.2 690.4 257.2 690.6 262.4 690.8 245.4 690.8 246.1 691.0 259.0 691.1 256.2 691.1 258.3 691.1 259.6 691.2 250.6 691.4 258.3 691.4 257.0 691.6 258.4 691.7 252.5 691.7 253.7 691.8 256.0 691.9 251.7 692.1 261.1 692.1 261.4 692.2 263.0 692.4 246.0 692.5 244.3 692.7 264.8 692.8 259.2 692.8 258.7 692.9 252.1 693.1 263.6 693.1 260.1 693.2 262.1 693.4 250.1 693.4 253.0 693.5 250.1 693.5 247.6 693.7 260.8 693.8 253.0 693.8 257.8 694.0 263.0 694.1 253.2 694.2 255.8 694.2 249.6 694.3 263.2 694.5 256.8 694.5 255.4 694.7 253.0 694.8 260.0 694.8 258.1 695.0 253.2 695.1 259.6 695.2 258.6 695.2 264.2 695.4 247.2 695.5 255.2 695.5 253.3 695.7 264.0 695.9 256.6 695.9 254.7 696.0 251.9 696.1 265.6 696.2 262.3 696.2 263.2 696.4 252.7 696.5 258.4 696.5 258.8 696.7 268.3 696.8 255.0 696.9 255.4 696.9 257.0 696.9 266.1 697.1 250.6 697.2 260.7 697.2 262.4 697.4 250.1 697.6 256.6 697.6 257.2 697.7 251.4 697.8 268.8 697.9 261.8 697.9 259.8 697.9 264.9 698.1 251.8 698.2 254.7 698.3 254.4 698.4 261.5 698.5 248.6 698.6 252.3 698.6 256.8 698.8 250.0 698.9 257.6 698.9 257.5 698.9 254.5 699.1 261.4 699.2 249.6 699.3 253.7 699.5 253.1 699.5 261.2 699.6 253.7 699.6 259.7 699.7 251.2 699.8 260.2 699.9 254.9 700.0 253.6 700.0 257.4 700.1 244.5 700.3 253.1 700.3 251.6 700.3 259.4 700.5 250.1 700.6 250.7 700.6 246.8 700.9 263.5 701.0 255.9 701.0 258.6 701.1 248.2 701.3 248.7 701.3 255.5 701.5 256.4 701.6 240.7 701.6 243.8 701.7 242.2 701.7 239.7 701.9 253.5 702.0 250.7 702.0 251.0 702.2 242.6 702.3 254.5 702.3 251.9 702.3 253.3 702.5 255.8 702.6 243.7 702.6 245.7 702.7 246.3 702.7 247.7 703.0 236.4 703.0 236.4 703.0 231.4 703.2 250.5 703.3 247.8 703.4 244.5 703.6 251.4 703.6 229.7 703.7 231.0 703.7 236.0 703.8 245.5 704.0 234.3 704.0 235.5 704.1 247.7 704.2 234.2 704.4 236.9 704.4 224.5 704.5 240.2 704.7 239.4 704.7 238.9 704.9 239.2 705.0 228.0 705.0 230.1 705.0 230.4 705.1 234.4 705.3 222.6 705.4 233.3 705.4 240.1 705.7 223.6 705.7 237.1 705.7 228.3 705.9 234.9 705.9 223.7 706.0 223.8 706.1 233.4 706.1 239.9 706.3 217.7 706.4 226.3 706.4 227.3 706.5 214.7 706.7 231.1 706.8 222.5 706.8 206.4 707.0 227.6 707.1 218.0 707.1 215.3 707.2 210.6 707.4 226.5 707.4 220.6 707.4 221.0 707.6 214.6 707.6 225.5 707.7 219.5 707.8 221.9 707.8 226.7 708.0 204.5 708.1 209.9 708.1 213.2 708.3 218.2 708.4 192.8 708.4 210.5 708.5 209.3 708.6 194.4 708.8 210.3 708.8 208.5 709.0 220.7 709.1 197.1 709.1 201.4 709.3 184.7 709.4 213.2 709.5 203.3 709.5 199.0 709.7 214.6 709.7 195.0 709.8 206.0 709.8 204.8 709.8 207.3 710.1 192.6 710.1 202.0 710.1 185.5 710.2 203.0 710.3 175.2 710.5 190.9 710.5 199.5 710.6 185.8 710.8 191.3 710.8 194.4 710.9 180.3 711.0 211.1 711.2 195.6 711.2 191.8 711.2 207.2 711.4 162.6 711.5 182.1 711.5 175.2 711.7 199.0 711.7 169.2 711.8 175.5 711.9 177.9 712.1 167.4 712.2 201.1 712.2 193.7 712.3 196.6 712.4 167.5 712.5 193.5 712.5 193.9 712.6 163.9 712.8 178.7 712.9 172.3 713.0 154.1 713.1 198.3 713.2 171.9 713.2 180.3 713.3 157.4 713.4 181.4 713.5 158.1 713.6 155.1 713.8 192.3 713.9 161.3 713.9 162.6 714.0 154.3 714.2 173.9 714.2 165.8 714.2 174.5 714.3 154.4 714.4 178.3 714.5 169.1 714.6 158.7 714.6 172.7 714.6 145.5 714.9 166.6 714.9 180.4 715.0 142.3 715.2 162.0 715.2 162.5 715.3 181.6 715.5 150.0 715.6 165.7 715.6 157.4 715.8 148.3 715.9 171.2 715.9 159.3 715.9 145.1 716.0 168.2 716.2 127.7 716.3 141.5 716.3 143.0 716.3 123.8 716.4 163.2 716.6 145.9 716.6 138.8 716.7 157.9 716.7 135.8 716.9 145.2 716.9 137.1 717.1 163.7 717.3 130.8 717.3 128.8 717.6 166.8 717.6 162.7 717.6 165.1 717.8 133.1 718.0 153.4 718.0 151.2 718.0 137.9 718.2 172.3 718.3 146.6 718.3 156.1 718.4 165.5 718.6 116.1 718.6 134.7 718.6 141.4 718.9 189.7 719.0 134.4 719.0 139.9 719.1 160.9 719.2 126.4 719.3 149.3 719.3 152.6 719.6 129.6 719.6 161.9 719.7 154.7 719.8 174.7 719.9 137.6 720.0 152.0 720.0 140.6 720.2 160.9 720.3 120.9 720.3 148.4 720.3 130.3 720.4 114.4 720.5 164.2 720.7 150.3 720.7 138.3 720.9 148.4 721.0 112.2 721.0 129.7 721.0 146.8 721.1 167.7 721.2 137.3 721.4 155.2 721.4 140.1 721.6 125.8 721.7 163.7 721.7 159.5 721.7 160.3 721.8 169.2 721.9 126.9 722.0 143.8 722.0 141.8 722.2 132.7 722.2 154.0 722.4 151.3 722.4 142.2 722.4 130.6 722.7 172.6 722.7 145.5 722.7 145.9 723.0 131.8 723.0 170.4 723.0 147.6 723.1 147.3 723.1 137.2 723.3 177.1 723.4 160.1 723.4 158.2 723.4 138.7 723.7 173.9 723.7 176.8 723.8 179.4 724.0 132.6 724.1 158.0 724.1 161.2 724.1 147.1 724.4 172.8 724.4 167.2 724.4 174.6 724.6 138.2 724.8 157.0 724.8 162.1 724.9 148.8 725.1 175.5 725.1 163.3 725.1 154.3 725.3 147.2 725.4 184.6 725.4 161.4 725.4 158.4 725.5 145.9 725.7 179.9 725.8 171.0 725.8 170.9 725.9 186.5 726.0 159.1 726.1 164.0 726.1 153.4 726.3 190.5 726.5 168.0 726.5 166.4 726.8 192.0 726.8 188.4 727.1 161.7 727.1 192.0 727.1 195.5 727.3 198.4 727.5 169.6 727.5 175.1 727.7 154.6 727.7 194.8 727.8 189.3 727.8 193.4 727.9 208.2 728.0 169.7 728.2 188.2 728.2 189.9 728.3 173.3 728.5 205.3 728.5 174.0 728.5 173.8 728.5 173.0 728.7 207.4 728.8 188.5 728.8 193.3 729.0 188.8 729.1 210.1 729.2 204.1 729.2 210.3 729.2 215.3 729.5 176.0 729.5 197.7 729.5 203.2 729.7 210.2 729.8 188.4 729.9 202.1 729.9 199.7 730.1 219.1 730.1 192.6 730.2 201.6 730.2 204.8 730.2 209.9 730.5 189.9 730.5 200.9 730.5 198.8 730.6 197.0 730.9 217.4 730.9 201.5 730.9 225.1 731.0 199.5 731.2 204.0 731.2 206.7 731.2 205.0 731.4 244.9 731.6 210.0 731.6 220.0 731.8 228.6 731.8 200.2 731.9 223.7 731.9 221.6 732.1 210.6 732.2 227.6 732.2 224.9 732.2 220.7 732.3 201.3 732.6 230.0 732.6 223.7 732.6 219.9 732.6 211.0 732.8 238.0 732.9 225.6 732.9 216.4 733.1 214.1 733.2 234.9 733.3 224.3 733.3 220.7 733.4 216.4 733.5 236.0 733.6 232.2 733.6 231.9 733.8 223.2 733.9 240.0 733.9 236.6 733.9 231.1 734.1 226.7 734.1 249.7 734.3 235.4 734.3 234.8 734.4 229.3 734.5 244.9 734.6 239.5 734.6 242.0 734.7 228.1 734.9 249.0 735.0 232.8 735.0 232.5 735.0 227.7 735.3 248.2 735.3 237.4 735.5 254.1 735.6 233.9 735.6 239.2 735.6 240.9 735.7 233.3 735.8 254.9 736.0 247.2 736.0 248.7 736.2 255.1 736.3 238.3 736.3 245.3 736.3 242.6 736.6 240.5 736.7 255.1 736.7 256.2 736.9 256.7 737.0 240.8 737.0 248.2 737.0 249.5 737.0 236.8 737.2 261.0 737.3 253.2 737.3 253.6 737.6 249.1 737.6 260.1 737.7 254.1 737.7 254.0 737.8 247.6 737.9 261.0 738.0 255.5 738.0 255.3 738.1 254.2 738.2 267.9 738.4 261.4 738.4 263.7 738.4 252.1 738.4 266.7 738.7 261.2 738.7 256.7 738.7 254.6 738.9 268.9 739.0 266.5 739.0 265.8 739.1 273.5 739.2 257.8 739.4 263.8 739.4 267.8 739.5 259.3 739.5 272.9 739.7 271.0 739.7 269.4 739.8 263.8 740.0 274.1 740.1 267.8 740.1 265.1 740.3 275.2 740.4 272.6 740.4 271.5 740.5 276.4 740.5 268.2 740.7 273.1 740.7 272.0 740.8 265.9 740.9 281.8 741.1 274.8 741.1 275.2 741.2 270.9 741.3 282.8 741.4 273.7 741.4 279.4 741.6 272.4 741.7 284.1 741.8 276.8 741.8 277.2 741.8 271.9 742.1 284.2 742.1 282.5 742.1 283.3 742.2 278.1 742.3 287.9 742.4 281.3 742.4 280.5 742.5 275.5 742.7 285.9 742.8 284.5 742.8 283.8 742.8 289.4 743.0 281.3 743.1 283.3 743.1 284.5 743.1 281.4 743.3 291.3 743.5 286.3 743.5 285.9 743.5 292.6 743.6 284.3 743.8 286.7 743.8 287.9 743.8 286.2 744.0 293.9 744.1 287.9 744.1 290.1 744.2 288.0 744.5 296.2 744.5 294.5 744.5 295.0 744.7 289.8 744.8 296.6 744.8 293.9 744.8 293.9 744.9 290.8 745.0 298.4 745.2 297.7 745.2 297.9 745.3 292.7 745.5 298.3 745.5 296.1 745.5 293.2 745.5 293.2 745.7 298.8 745.8 298.3 745.8 299.9 745.9 300.8 746.1 295.9 746.2 299.3 746.2 299.4 746.2 296.8 746.4 302.6 746.5 300.4 746.5 299.2 746.6 297.8 746.7 302.9 746.9 300.6 746.9 300.9 747.0 299.3 747.1 303.2 747.2 301.9 747.2 302.6 747.5 304.9 747.5 279.1 747.5 302.3 747.5 302.0 747.6 301.7 747.7 305.3 747.9 303.2 747.9 303.4 748.0 311.5 748.0 303.2 748.2 306.9 748.2 305.7 748.3 303.5 748.4 307.8 748.6 304.9 748.6 304.6 748.6 304.4 748.9 307.8 748.9 306.6 748.9 306.7 749.0 305.3 749.1 308.6 749.2 307.2 749.2 307.9 749.3 292.6 749.4 309.0 749.6 307.8 749.6 308.1 749.6 307.1 749.7 309.7 749.9 309.1 749.9 309.6 750.0 308.0 750.0 310.0 750.3 309.2 750.3 309.6 750.4 308.9 750.4 310.7 750.6 310.0 750.6 309.9 750.8 309.2 750.9 311.0 750.9 310.4 750.9 310.5 751.0 309.6 751.1 311.9 751.3 311.1 751.3 311.0 751.3 310.3 751.5 311.9 751.6 311.7 751.6 312.0 751.7 312.6 751.9 311.0 752.0 312.3 752.0 312.2 752.0 311.5 752.1 312.9 752.3 311.8 752.3 312.0 752.4 312.9 752.5 311.8 752.6 312.7 752.6 312.7 752.7 312.1 753.0 313.1 753.0 313.1 753.0 312.8 753.0 313.5 753.1 312.5 753.3 313.2 753.3 313.3 753.3 312.9 753.6 314.1 753.7 313.8 753.7 313.6 753.8 313.2 753.9 314.0 754.0 313.6 754.0 313.7 754.1 313.4 754.3 314.2 754.3 314.0 754.3 314.1 754.4 313.8 754.6 314.5 754.7 314.2 754.7 314.3 754.7 314.1 755.0 314.7 755.0 314.4 755.0 314.4 755.1 314.2 755.3 314.8 755.4 314.6 755.4 314.7 755.4 314.9 755.5 314.5 755.7 314.8 755.7 314.9 756.0 314.7 756.0 315.1 756.0 314.9 756.0 314.8 756.1 314.7 756.4 315.1 756.4 315.0 756.4 315.0 756.4 315.2 756.7 314.8 756.7 315.0 756.7 315.0 756.8 315.2 756.8 314.9 757.0 314.9" stroke="#000000"/><path d="M496.3 315.7 516.3 315.0 528.1 314.6 536.4 314.1 542.8 313.6 548.1 313.1 552.6 312.6 556.4 312.4 559.8 311.6 562.9 310.6 565.7 310.2 568.2 308.9 570.5 308.0 572.6 307.2 574.6 306.6 576.5 304.6 578.2 304.9 579.9 303.8 581.5 303.6 583.0 303.6 584.4 303.2 585.7 303.6 587.0 302.8 588.2 302.5 589.4 301.4 590.5 298.5 591.6 297.6 592.7 297.3 593.7 297.6 594.7 297.8 595.6 296.6 596.6 297.0 597.4 296.0 598.3 295.2 599.1 296.8 600.0 294.4 600.8 296.8 601.5 297.1 602.3 296.2 603.0 296.7 603.7 296.4 604.4 296.3 605.1 297.7 605.8 295.9 606.4 296.8 607.1 294.7 607.7 294.3 608.3 294.4 608.9 294.0 609.5 293.0 610.0 292.9 610.6 292.1 611.2 293.2 611.7 292.4 612.2 291.4 612.7 287.7 613.3 287.3 613.8 285.1 614.3 285.2 614.7 285.2 615.2 288.2 615.7 290.3 616.2 288.0 616.6 287.8 617.1 288.8 617.5 287.4 617.9 285.4 618.4 284.6 618.8 283.6 619.2 284.6 619.6 286.5 620.0 285.6 620.4 284.7 620.8 284.7 621.2 285.3 621.6 287.4 622.0 286.8 622.3 286.8 622.7 286.5 623.1 284.1 623.4 283.2 623.8 280.4 624.1 281.7 624.5 282.8 624.8 284.3 625.2 285.2 625.5 285.3 625.8 284.5 626.1 285.7 626.5 286.4 626.8 285.4 627.1 287.1 627.4 286.1 627.7 284.9 628.0 285.0 628.3 281.6 628.6 279.5 628.9 280.1 629.2 279.5 629.5 282.2 629.8 280.0 630.1 280.8 630.4 280.3 630.7 281.0 630.9 281.5 631.2 282.1 631.5 282.1 631.7 279.4 632.0 279.2 632.3 282.4 632.5 282.4 632.8 281.7 633.1 282.3 633.3 278.7 633.6 279.9 633.8 280.7 634.1 281.6 634.3 282.8 634.6 281.7 634.8 282.1 635.0 283.6 635.3 285.4 635.5 288.3 635.7 286.6 636.0 284.8 636.2 283.0 636.4 283.2 636.7 280.4 636.9 277.9 637.1 279.0 637.3 276.6 637.6 277.3 637.8 279.2 638.0 276.6 638.2 276.7 638.4 278.2 638.6 276.2 638.8 275.5 639.0 275.9 639.3 274.6 639.5 273.6 639.7 273.5 639.9 275.8 640.1 276.4 640.3 275.7 640.5 277.8 640.7 277.8 640.9 280.9 641.1 281.1 641.3 279.4 641.4 278.4 641.6 276.7 641.8 277.5 642.0 278.7 642.2 278.4 642.4 279.8 642.6 274.9 642.8 275.9 642.9 277.3 643.1 276.9 643.3 274.9 643.5 279.0 643.7 278.5 643.8 277.9 644.0 277.5 644.2 275.5 644.4 275.3 644.5 273.9 644.7 276.3 644.9 277.2 645.0 275.9 645.2 276.4 645.4 278.4 645.5 281.3 645.7 282.7 645.9 284.9 646.0 280.5 646.2 278.7 646.4 279.4 646.5 277.9 646.7 280.0 646.8 280.7 647.0 279.8 647.2 279.5 647.3 280.5 647.5 280.7 647.6 279.3 647.8 283.1 647.9 282.5 648.1 280.6 648.2 283.2 648.4 281.6 648.5 281.9 648.7 280.7 648.8 279.5 649.0 279.2 649.1 280.9 649.3 282.1 649.4 280.4 649.6 280.0 649.7 282.0 649.9 279.3 650.0 280.1 650.1 280.9 650.3 280.4 650.4 279.6 650.6 282.8 650.7 279.8 650.9 281.9 651.0 281.8 651.1 283.2 651.3 283.4 651.4 284.3 651.5 279.1 651.7 281.3 651.8 279.6 651.9 282.0 652.1 283.5 652.2 284.2 652.3 281.0 652.5 280.1 652.6 283.3 652.7 283.8 652.9 283.4 653.0 282.6 653.1 280.3 653.2 281.6 653.4 280.1 653.5 282.1 653.6 285.4 653.7 285.1 653.9 284.7 654.0 284.1 654.1 285.0 654.2 280.2 654.4 281.4 654.5 281.6 654.6 278.6 654.7 283.2 654.9 282.4 655.0 280.8 655.1 281.0 655.2 280.0 655.3 280.4 655.4 279.0 655.6 280.4 655.7 282.5 655.8 283.2 655.9 284.0 656.0 285.5 656.1 286.4 656.3 286.1 656.4 285.4 656.5 283.7 656.6 284.3 656.7 285.5 656.8 281.9 656.9 282.3 657.1 282.9 657.2 286.0 657.3 286.7 657.4 286.1 657.5 285.7 657.6 280.1 657.7 279.7 657.8 277.8 657.9 279.8 658.0 280.9 658.2 284.5 658.3 284.9 658.4 284.4 658.5 284.7 658.6 281.8 658.7 282.2 658.8 283.0 658.9 284.4 659.0 284.4 659.1 282.4 659.2 281.2 659.3 285.6 659.4 282.8 659.5 284.8 659.6 284.3 659.7 285.2 659.8 281.9 659.9 283.1 660.0 282.3 660.1 282.1 660.2 283.3 660.3 282.8 660.4 284.0 660.5 285.8 660.6 284.5 660.7 285.9 660.8 282.0 660.9 283.0 661.0 282.9 661.1 282.4 661.2 282.2 661.3 281.7 661.4 282.8 661.5 281.5 661.6 282.6 661.7 284.7 661.8 282.3 661.9 285.2 662.0 284.6 662.1 285.7 662.2 283.0 662.3 282.0 662.4 283.6 662.4 283.5 662.5 281.9 662.6 284.1 662.7 282.3 662.8 283.1 662.9 284.1 663.0 281.9 663.1 283.0 663.2 282.0 663.3 283.2 663.4 284.0 663.4 284.5 663.5 286.4 663.6 284.7 663.7 282.0 663.8 282.8 663.9 281.6 664.0 283.1 664.1 283.2 664.2 286.4 664.2 287.3 664.3 288.3 664.4 285.6 664.5 287.4 664.6 286.9 664.7 284.9 664.8 286.8 664.8 284.4 664.9 284.7 665.0 281.6 665.1 281.4 665.2 281.4 665.3 283.0 665.4 280.4 665.4 281.4 665.5 283.4 665.6 283.6 665.8 284.4 665.9 283.5 666.0 284.2 666.1 283.5 666.2 284.2 666.3 285.1 666.3 285.5 666.4 286.0 666.5 286.1 666.6 283.1 666.7 280.0 666.7 283.5 666.8 282.9 666.9 284.0 667.0 286.9 667.2 288.5 667.3 287.4 667.4 286.9 667.5 288.2 667.5 285.2 667.6 282.2 667.7 282.6 667.8 280.9 667.8 281.3 667.9 284.3 668.0 282.4 668.1 283.9 668.3 281.5 668.4 283.9 668.5 282.3 668.5 279.8 668.6 280.6 668.7 283.8 668.8 286.1 669.0 281.1 669.0 281.9 669.1 281.8 669.2 283.5 669.3 287.2 669.3 287.0 669.6 288.8 669.6 286.7 669.7 284.2 669.8 284.0 669.9 285.9 670.0 284.8 670.1 285.0 670.1 284.1 670.3 286.6 670.3 286.1 670.4 288.5 670.6 284.5 670.7 286.6 670.8 286.7 670.8 286.9 670.9 284.9 671.0 281.0 671.0 283.2 671.1 283.3 671.3 279.8 671.3 280.6 671.4 282.3 671.5 284.1 671.6 278.5 671.7 279.3 671.7 280.4 671.9 285.7 672.1 281.1 672.1 282.4 672.3 283.5 672.3 282.2 672.4 282.5 672.5 282.2 672.7 283.6 672.7 281.2 672.8 284.1 672.8 284.6 672.9 283.7 673.0 283.8 673.1 284.3 673.2 282.5 673.4 285.1 673.4 285.4 673.5 286.5 673.7 281.4 673.8 283.7 673.9 284.8 674.1 281.0 674.1 281.9 674.2 281.5 674.4 283.8 674.5 283.3 674.7 280.6 674.7 281.1 674.8 283.4 674.9 283.2 675.1 285.2 675.1 285.4 675.2 285.6 675.4 282.8 675.4 284.8 675.5 282.6 675.6 286.9 675.8 283.2 675.9 283.6 676.1 276.6 676.1 277.4 676.4 285.1 676.4 283.9 676.5 282.0 676.6 282.8 676.7 280.4 676.8 281.0 676.8 281.0 676.9 282.7 677.0 279.6 677.1 281.7 677.2 281.2 677.3 279.5 677.3 282.8 677.4 282.7 677.5 284.4 677.6 282.4 677.8 286.5 677.8 283.8 677.9 282.2 678.2 278.8 678.2 278.3 678.4 282.6 678.5 281.7 678.5 283.3 678.6 279.8 678.8 281.7 678.9 284.2 679.1 284.9 679.1 281.9 679.2 283.0 679.2 281.6 679.5 279.6 679.5 282.1 679.6 281.0 679.7 280.2 679.8 283.9 679.9 283.1 680.1 285.1 680.2 280.8 680.2 281.2 680.3 283.5 680.5 281.0 680.5 281.6 680.6 282.1 680.8 286.6 680.9 284.7 680.9 285.1 681.0 285.4 681.2 277.6 681.3 277.0 681.5 283.3 681.6 280.1 681.6 281.6 681.8 282.4 681.8 279.3 681.9 280.5 681.9 282.7 682.0 280.3 682.2 285.5 682.2 282.5 682.3 282.0 682.5 288.1 682.6 287.5 682.6 284.3 682.9 279.1 683.0 280.1 683.2 274.1 683.3 278.0 683.3 281.1 683.5 284.3 683.6 283.0 683.6 283.7 683.7 285.6 683.9 280.0 684.0 279.0 684.2 284.7 684.3 279.7 684.3 280.3 684.5 279.6 684.6 282.9 684.6 282.3 684.6 282.0 684.7 283.9 684.9 279.4 685.0 280.4 685.0 279.2 685.2 285.3 685.3 283.9 685.3 283.7 685.5 285.9 685.5 281.1 685.7 282.0 685.7 281.8 685.8 282.2 685.9 278.4 686.0 281.2 686.0 280.8 686.2 279.5 686.2 283.3 686.3 282.9 686.4 280.8 686.4 278.4 686.6 285.6 686.7 286.4 686.8 278.4 687.0 279.4 687.0 280.7 687.1 279.2 687.3 283.0 687.4 279.2 687.4 278.0 687.5 277.2 687.6 285.1 687.7 282.8 687.7 279.9 688.0 283.8 688.1 283.7 688.1 279.2 688.2 285.3 688.4 280.7 688.4 280.5 688.4 279.6 688.6 286.5 688.7 282.6 688.7 283.4 688.9 276.1 689.0 283.6 689.1 283.1 689.4 278.4 689.4 280.0 689.5 281.0 689.6 277.8 689.7 280.2 689.8 278.7 689.8 281.4 690.0 277.5 690.1 275.0 690.1 274.8 690.3 283.0 690.4 278.9 690.4 280.7 690.5 282.0 690.8 276.3 690.8 276.0 691.0 284.3 691.1 280.6 691.1 278.5 691.1 275.8 691.3 282.5 691.4 278.6 691.4 277.4 691.5 276.2 691.7 283.0 691.8 280.5 692.0 283.9 692.1 278.9 692.1 280.8 692.2 276.8 692.3 282.7 692.4 279.7 692.5 279.0 692.6 281.1 692.8 278.3 692.8 277.2 692.8 276.1 693.1 282.8 693.2 285.6 693.4 278.4 693.4 281.2 693.5 281.8 693.6 282.7 693.8 277.1 693.8 279.0 694.0 276.8 694.1 280.4 694.2 278.2 694.4 282.0 694.5 279.9 694.5 278.4 694.5 277.9 694.7 282.3 694.8 280.0 694.8 275.7 695.0 281.4 695.1 275.6 695.2 279.8 695.2 278.6 695.3 274.5 695.5 278.5 695.5 281.3 695.7 277.7 695.8 283.1 695.9 281.6 695.9 279.8 696.0 279.2 696.1 286.6 696.2 286.3 696.2 283.0 696.2 283.3 696.3 277.6 696.5 280.5 696.5 280.1 696.7 281.0 696.8 278.3 696.9 280.8 696.9 282.9 696.9 283.6 697.1 275.8 697.2 280.0 697.2 281.3 697.3 283.5 697.4 274.2 697.6 278.6 697.6 280.0 697.7 283.3 697.9 277.3 697.9 276.9 698.0 280.1 698.2 272.6 698.3 271.5 698.6 279.8 698.6 278.8 698.7 271.1 698.9 275.1 698.9 273.9 699.0 278.5 699.2 271.8 699.2 277.7 699.3 276.9 699.3 269.6 699.6 273.6 699.6 275.3 699.6 277.6 699.9 269.6 700.0 272.3 700.1 269.1 700.3 275.9 700.3 274.5 700.5 269.5 700.6 270.9 700.6 272.3 700.8 268.0 700.9 277.5 701.0 273.3 701.0 272.7 701.1 268.1 701.3 275.6 701.3 271.2 701.3 272.0 701.4 262.7 701.6 267.7 701.7 274.5 701.9 264.0 702.0 265.0 702.0 261.8 702.2 274.7 702.3 268.0 702.3 271.6 702.5 264.1 702.6 268.1 702.7 268.2 702.9 273.2 703.0 265.5 703.0 264.4 703.2 258.4 703.3 267.7 703.3 266.0 703.4 268.9 703.5 258.7 703.7 267.8 703.7 265.2 703.8 262.4 703.9 268.4 704.0 264.3 704.0 266.8 704.2 274.8 704.3 262.1 704.4 265.5 704.4 265.6 704.5 271.4 704.6 262.2 704.7 264.5 704.7 263.4 704.9 265.4 705.0 256.5 705.0 262.0 705.0 267.1 705.2 259.7 705.4 263.4 705.4 266.3 705.5 266.5 705.7 258.1 705.7 260.5 705.9 258.5 705.9 267.0 706.0 261.2 706.1 259.6 706.1 259.1 706.3 269.4 706.4 261.6 706.4 260.1 706.5 255.7 706.7 262.3 706.7 259.1 706.8 257.5 706.8 253.5 707.0 264.1 707.1 262.2 707.1 259.7 707.3 250.2 707.4 260.1 707.4 252.8 707.5 258.6 707.7 256.4 707.8 255.1 707.9 250.5 708.0 261.8 708.1 251.6 708.1 254.0 708.1 263.8 708.3 249.9 708.4 258.6 708.5 255.8 708.6 258.5 708.8 250.1 708.8 250.1 708.8 247.7 709.1 260.8 709.1 259.2 709.4 248.4 709.5 256.8 709.5 256.7 709.7 246.1 709.8 258.0 709.8 257.6 709.8 256.0 709.9 263.2 710.1 243.8 710.1 246.2 710.1 249.1 710.2 258.8 710.3 244.4 710.5 251.2 710.5 252.4 710.6 246.8 710.8 261.7 710.8 252.6 710.8 248.8 710.8 243.0 711.0 256.9 711.2 251.2 711.2 242.5 711.2 254.2 711.4 241.7 711.5 249.8 711.5 252.0 711.7 258.3 711.8 248.0 711.8 254.5 711.9 252.8 711.9 255.1 712.1 243.4 712.2 252.1 712.2 252.4 712.2 252.6 712.4 243.8 712.5 246.4 712.5 244.6 712.6 253.0 712.8 241.0 712.9 238.4 713.0 255.7 713.2 243.5 713.2 245.5 713.5 254.9 713.5 242.4 713.5 244.0 713.6 246.2 713.6 252.8 713.8 243.5 713.9 244.7 713.9 245.7 714.0 240.2 714.1 260.1 714.2 250.2 714.2 251.3 714.3 251.8 714.4 240.3 714.5 246.2 714.6 247.6 714.7 237.0 714.8 248.7 714.9 247.1 714.9 247.8 715.1 254.8 715.2 240.1 715.2 245.3 715.4 248.6 715.5 237.9 715.6 239.3 715.6 244.8 715.6 240.6 715.7 254.8 715.9 250.7 715.9 247.7 716.0 236.1 716.1 254.8 716.3 245.1 716.3 245.2 716.5 237.9 716.6 251.4 716.6 251.3 716.6 251.5 716.7 241.5 716.7 252.4 716.9 249.5 716.9 251.1 717.1 252.9 717.3 239.6 717.3 240.0 717.3 235.4 717.4 253.9 717.6 237.9 717.6 240.0 717.8 239.9 717.9 252.4 718.0 242.0 718.0 244.7 718.2 239.9 718.2 250.5 718.3 249.5 718.3 246.7 718.4 254.4 718.4 237.7 718.6 238.1 718.6 236.9 718.7 252.8 718.8 236.9 719.0 248.5 719.0 248.8 719.1 258.8 719.3 243.7 719.3 243.9 719.3 244.3 719.4 241.4 719.4 261.1 719.6 253.3 719.7 253.3 719.8 256.0 719.9 246.2 720.0 251.2 720.0 255.4 720.1 241.9 720.2 260.3 720.3 253.4 720.3 251.0 720.4 247.5 720.7 263.3 720.7 262.0 720.7 260.0 720.7 250.9 721.0 253.4 721.0 251.2 721.1 247.1 721.3 264.3 721.4 258.6 721.4 252.8 721.4 251.4 721.5 265.9 721.7 262.3 721.7 262.1 721.8 266.1 722.0 254.4 722.0 256.6 722.0 260.3 722.2 269.6 722.3 257.6 722.4 258.7 722.4 258.4 722.5 264.2 722.5 259.0" stroke="#ff8000"/><path d="M496.3 315.5 516.3 314.1 528.1 312.9 536.4 311.9 542.8 310.8 548.1 310.1 552.6 309.2 556.4 308.2 559.8 307.2 562.9 305.4 565.7 304.7 568.2 304.0 570.5 302.8 572.6 302.4 574.6 300.6 576.5 299.8 578.2 298.5 579.9 298.4 581.5 298.2 583.0 296.1 584.4 296.9 585.7 295.0 587.0 292.1 588.2 293.1 589.4 292.6 590.5 291.9 591.6 290.9 592.7 290.5 593.7 291.2 594.7 291.1 595.6 290.7 596.6 290.7 597.4 289.3 598.3 287.8 599.1 287.8 600.0 287.8 600.8 290.7 601.5 288.7 602.3 288.7 603.0 287.7 603.7 284.3 604.4 281.0 605.1 279.6 605.8 279.6 606.4 277.2 607.1 276.7 607.7 274.1 608.3 272.8 608.9 272.7 609.5 271.6 610.0 273.9 610.6 274.9 611.2 272.9 611.7 273.6 612.2 274.3 612.7 269.2 613.3 268.4 613.8 265.9 614.3 266.2 614.7 264.4 615.2 267.1 615.7 263.5 616.2 265.2 616.6 265.0 617.1 264.5 617.5 262.6 617.9 266.8 618.4 264.2 618.8 263.8 619.2 257.3 619.6 255.7 620.0 254.3 620.4 256.2 620.8 260.5 621.2 260.2 621.6 257.8 622.0 257.9 622.3 256.6 622.7 255.7 623.1 261.5 623.4 258.0 623.8 259.4 624.1 256.7 624.5 259.3 624.8 260.3 625.2 256.5 625.5 260.1 625.8 252.7 626.1 254.2 626.5 250.6 626.8 250.9 627.1 255.8 627.4 259.1 627.7 261.5 628.0 263.7 628.3 261.1 628.6 259.9 628.9 258.1 629.2 256.9 629.5 257.1 629.8 259.0 630.1 258.2 630.4 256.3 630.7 255.1 630.9 254.4 631.2 258.4 631.5 259.2 631.7 254.6 632.0 256.2 632.3 255.6 632.5 253.3 632.8 256.7 633.1 254.9 633.3 260.1 633.6 258.2 633.8 258.2 634.1 255.8 634.3 257.2 634.6 256.8 634.8 258.9 635.0 257.4 635.3 256.3 635.5 256.7 635.7 257.9 636.0 253.8 636.2 249.9 636.4 251.7 636.7 256.8 636.9 255.7 637.1 258.9 637.3 260.5 637.6 264.2 637.8 267.0 638.0 264.2 638.2 265.2 638.4 264.2 638.6 258.7 638.8 255.7 639.0 257.6 639.3 254.8 639.5 257.7 639.7 260.6 639.9 262.3 640.1 263.8 640.3 265.8 640.5 264.1 640.7 259.8 640.9 262.1 641.1 260.2 641.3 260.3 641.4 256.1 641.6 253.7 641.8 254.5 642.0 252.5 642.2 253.8 642.4 252.2 642.6 254.6 642.8 257.2 642.9 259.7 643.1 257.6 643.3 262.7 643.5 261.4 643.7 259.4 643.8 258.5 644.0 258.9 644.2 258.1 644.4 255.4 644.5 253.7 644.7 253.2 644.9 252.9 645.0 252.9 645.2 248.0 645.4 252.2 645.5 249.9 645.7 251.8 645.9 251.8 646.0 254.9 646.2 258.6 646.4 264.6 646.5 261.6 646.7 260.5 646.8 262.9 647.0 262.9 647.2 265.0 647.3 259.4 647.5 252.7 647.6 253.7 647.8 253.3 647.9 256.0 648.1 254.0 648.2 255.4 648.4 256.9 648.5 256.9 648.7 260.1 648.8 259.5 649.0 259.9 649.1 261.4 649.3 266.7 649.4 264.7 649.6 262.1 649.7 257.1 649.9 257.8 650.0 258.0 650.1 256.2 650.3 261.6 650.4 263.9 650.6 260.1 650.7 259.4 650.9 257.3 651.0 257.0 651.1 256.0 651.3 254.5 651.4 255.8 651.5 254.1 651.7 250.3 651.8 255.5 651.9 254.7 652.1 258.8 652.2 264.3 652.3 263.0 652.5 261.4 652.6 255.6 652.7 257.1 652.9 255.8 653.0 256.2 653.1 256.4 653.2 256.4 653.4 262.0 653.5 259.9 653.6 264.1 653.7 257.6 653.9 258.8 654.0 262.9 654.1 259.1 654.2 259.8 654.4 259.2 654.5 256.1 654.6 254.4 654.7 258.1 654.9 256.4 655.0 259.1 655.1 261.2 655.2 264.2 655.3 260.4 655.4 256.1 655.6 254.6 655.7 255.7 655.8 258.2 655.9 256.7 656.0 259.2 656.1 259.2 656.3 256.5 656.4 257.2 656.5 257.0 656.6 258.5 656.7 264.0 656.8 262.4 656.9 260.8 657.1 259.4 657.2 259.6 657.3 262.6 657.4 262.7 657.5 263.0 657.6 263.5 657.7 263.4 657.8 262.2 657.9 260.7 658.0 261.9 658.2 266.0 658.3 262.8 658.4 260.0 658.5 261.8 658.6 263.3 658.7 260.6 658.8 262.7 658.9 261.7 659.0 259.3 659.1 260.6 659.2 266.3 659.3 263.0 659.4 264.3 659.5 268.1 659.6 266.6 659.7 267.1 659.8 259.9 659.9 257.8 660.0 259.2 660.1 252.6 660.2 255.5 660.3 254.2 660.4 258.6 660.5 256.1 660.6 258.2 660.7 262.8 660.8 263.9 660.9 261.4 661.0 264.8 661.1 261.0 661.2 261.4 661.3 260.2 661.4 260.5 661.5 256.4 661.6 256.8 661.7 263.4 661.8 265.3 661.9 262.6 662.0 263.9 662.1 265.8 662.2 261.2 662.3 260.4 662.4 259.2 662.4 257.0 662.5 258.1 662.6 264.4 662.7 263.2 662.8 261.0 662.9 257.5 663.0 258.4 663.1 258.6 663.2 259.1 663.3 258.3 663.4 261.1 663.4 263.6 663.5 262.4 663.6 264.5 663.7 262.6 663.8 254.6 663.9 253.2 664.0 255.6 664.1 253.2 664.2 258.1 664.2 261.2 664.3 261.6 664.4 265.7 664.5 266.7 664.6 265.0 664.7 265.3 664.8 267.6 664.8 263.9 664.9 263.4 665.0 260.8 665.1 263.6 665.2 265.1 665.3 259.1 665.4 258.2 665.4 259.1 665.5 258.4 665.6 264.6 665.7 263.1 665.9 266.3 665.9 264.8 666.0 262.3 666.1 254.9 666.2 257.1 666.3 262.9 666.3 262.6 666.4 264.1 666.5 262.6 666.6 260.7 666.7 259.9 666.7 259.2 666.8 258.1 666.9 257.9 667.0 258.1 667.3 251.1 667.4 254.9 667.5 258.0 667.5 260.6 667.6 265.7 667.7 259.6 667.8 260.2 667.8 268.0 667.9 266.0 668.0 264.5 668.2 264.2 668.3 266.4 668.4 262.5 668.5 259.2 668.5 259.8 668.6 259.9 668.7 263.7 668.8 264.1 668.9 260.7 669.0 261.6 669.0 263.4 669.1 263.3 669.2 258.5 669.3 261.6 669.3 258.4 669.4 262.6 669.6 259.6 669.7 262.6 669.8 260.1 669.9 264.2 670.0 261.9 670.1 261.9 670.1 259.1 670.3 262.2 670.4 261.5 670.5 262.7 670.6 258.0 670.7 262.1 670.8 261.5 670.8 264.3 670.9 266.6 671.0 267.5 671.0 266.9 671.1 269.1 671.3 259.2 671.3 260.3 671.4 261.0 671.6 260.2 671.7 262.7 671.7 260.4 671.8 262.8 671.9 256.2 672.1 257.4 672.1 259.1 672.3 255.7 672.4 258.5 672.5 259.6 672.7 262.2 672.8 261.5 673.0 264.1 673.0 260.5 673.1 258.1 673.2 254.2 673.4 258.4 673.4 264.4 673.5 264.9 673.7 260.0 673.7 263.6 673.8 261.7 674.1 255.2 674.1 257.6 674.2 256.8 674.4 265.2 674.5 268.0 674.7 260.2 674.8 259.1 674.9 259.9 675.0 257.5 675.1 258.3 675.1 261.4 675.3 266.3 675.4 262.5 675.5 258.6 675.8 252.8 675.9 250.5 675.9 255.9 676.1 253.4 676.1 257.4 676.4 260.5 676.4 260.0 676.5 257.9 676.5 254.3 676.7 261.5 676.8 258.3 676.8 258.7 676.9 258.7 677.1 266.4 677.1 260.0 677.2 258.9 677.3 262.0 677.4 256.2 677.5 261.9 677.7 269.5 677.8 259.1 677.9 260.6 678.1 267.8 678.2 266.6 678.2 265.9 678.3 259.2 678.5 264.1 678.5 263.2 678.6 263.3 678.8 258.6 678.9 258.3 679.1 265.0 679.2 262.2 679.2 262.2 679.3 263.7 679.5 254.9 679.5 262.2 679.6 264.2 679.6 266.8 679.8 257.4 679.8 262.1 679.9 262.3 679.9 262.8 680.2 253.3 680.2 252.5 680.5 263.3 680.6 265.8 680.8 260.3 680.9 261.8 680.9 261.0 681.0 252.2 681.2 254.2 681.3 255.3 681.5 261.3 681.6 259.6 681.6 254.7 681.7 248.7 681.9 257.3 681.9 261.2 682.1 257.1 682.2 261.1 682.3 261.4 682.6 253.0 682.6 255.2 682.7 255.0 682.8 263.0 682.9 257.5 683.0 255.2 683.1 263.8 683.3 253.9 683.3 258.8 683.4 265.3 683.6 263.0 683.6 258.7 683.8 258.4 683.9 265.1 683.9 264.9 684.0 258.7 684.2 261.2 684.3 255.4 684.3 257.1 684.3 259.9 684.4 264.5 684.6 258.1 684.6 254.7 684.7 252.7 684.8 263.2 684.9 259.0 685.0 257.8 685.1 261.3 685.2 250.6 685.3 253.3 685.3 255.0 685.6 263.6 685.7 259.5 685.7 259.5 685.9 253.8 686.0 259.1 686.0 260.8 686.1 251.0 686.3 262.8 686.3 259.5 686.4 260.0 686.5 256.2 686.6 260.8 686.6 258.2 686.7 259.0 686.9 261.8 687.0 256.5 687.0 259.9 687.2 268.0 687.4 263.2 687.4 263.8 687.4 265.1 687.6 256.9 687.7 260.7 687.7 261.8 687.8 264.1 688.0 257.3 688.0 259.1 688.1 257.5 688.1 254.9 688.2 261.8 688.4 255.8 688.4 252.2 688.4 248.0 688.7 257.6 688.7 256.0 688.7 255.3 688.8 259.5 688.9 252.4 689.0 255.5 689.1 256.1 689.2 245.5 689.4 260.9 689.4 255.6 689.4 254.8 689.5 254.2 689.7 260.3 689.7 258.1 689.8 259.9 690.0 252.7 690.0 258.3 690.1 256.2 690.2 262.4 690.4 255.7 690.4 261.0 690.5 261.4 690.6 257.5 690.8 261.1 690.8 259.2 691.1 246.9 691.1 250.2 691.1 248.5 691.3 263.5 691.4 260.7 691.4 261.2 691.5 265.8 691.6 257.0 691.7 260.0 691.8 254.9 692.1 261.0 692.1 260.8 692.2 262.7 692.4 252.6 692.5 252.7 692.5 252.0 692.6 263.4 692.8 256.1 692.8 259.1 692.9 267.4 693.1 249.9 693.1 258.8 693.2 259.2 693.3 266.6 693.4 253.7 693.4 258.7 693.5 258.2 693.5 260.6 693.8 249.3 693.8 250.6 693.8 253.2 693.9 252.0 694.0 264.3 694.1 260.1 694.2 258.3 694.2 248.9 694.5 257.6 694.5 257.5 694.6 263.6 694.8 250.5 694.8 253.1 694.8 255.0 695.0 249.6 695.1 261.5 695.2 260.6 695.2 263.1 695.3 265.1 695.4 255.6 695.5 259.7 695.5 257.7 695.7 250.7 695.8 261.4 695.9 256.7 695.9 252.8 696.1 246.8 696.2 259.2 696.2 261.9 696.3 252.0 696.5 258.4 696.5 254.1 696.6 255.8 696.7 244.8 696.9 245.6 696.9 244.9 697.0 257.8 697.2 251.1 697.2 250.4 697.4 246.7 697.5 257.3 697.6 255.4 697.6 255.2 697.8 262.4 697.9 254.3 697.9 256.5 697.9 252.1 697.9 256.0 698.0 250.1 698.2 255.1 698.3 251.1 698.4 247.8 698.5 255.4 698.6 251.6 698.6 249.3 698.6 248.2 698.7 261.3 698.9 250.8 698.9 248.4 699.2 258.9 699.2 250.8 699.3 251.2 699.5 257.7 699.6 250.4 699.6 250.9 699.6 247.2 699.9 257.9 700.0 258.2 700.0 258.2 700.2 249.5 700.3 251.9 700.3 251.2 700.5 254.7 700.6 243.9 700.6 244.8 700.9 253.8 701.0 249.9 701.0 250.4 701.1 244.5 701.2 253.7 701.3 248.8 701.3 248.8 701.5 255.0 701.6 251.9 701.7 252.2 701.8 242.4 702.0 256.5 702.0 257.0 702.1 258.4 702.1 244.9 702.3 253.6 702.3 250.6 702.5 255.3 702.6 238.7 702.7 244.2 702.8 253.7 703.0 240.2 703.0 242.5 703.0 250.1 703.0 258.9 703.1 243.1 703.3 251.5 703.4 246.9 703.4 253.4 703.7 241.9 703.7 246.1 703.8 234.3 704.0 250.0 704.0 252.5 704.1 256.9 704.3 240.4 704.4 241.6 704.4 240.4 704.7 238.0 704.7 247.7 704.7 243.5 704.8 234.6 705.0 247.1 705.0 245.7 705.0 251.3 705.1 252.9 705.3 235.8 705.4 241.1 705.4 242.3 705.6 245.3 705.7 233.7 705.7 239.0 705.7 248.0 705.8 250.3 705.8 237.1 706.0 243.6 706.1 244.8 706.1 237.5 706.2 249.5 706.4 244.4 706.4 237.8 706.7 250.6 706.7 247.0 706.8 243.5 706.9 229.7 707.1 236.0 707.1 236.4 707.1 228.9 707.3 245.8 707.4 240.2 707.4 240.6 707.5 234.2 707.6 245.1 707.7 234.9 707.8 233.8 707.8 226.5 707.9 241.8 708.1 231.5 708.1 236.5 708.3 247.9 708.4 233.4 708.4 237.5 708.5 228.2 708.5 222.6 708.6 239.7 708.8 236.9 708.8 234.1 708.9 225.0 709.1 241.5 709.1 236.0 709.1 239.9 709.4 242.9 709.4 228.5 709.5 231.2 709.5 230.1 709.6 226.8 709.7 239.4 709.8 227.2 709.8 224.3 709.8 220.7 709.9 234.9 710.1 222.3 710.1 223.5 710.2 219.7 710.3 235.2 710.5 230.9 710.5 230.5 710.6 225.5 710.7 238.1 710.8 229.6 710.8 232.5 711.1 212.0 711.2 234.9 711.2 241.7 711.2 242.3 711.4 223.2 711.5 232.9 711.5 228.0 711.6 236.3 711.8 213.8 711.9 218.4 711.9 235.3 712.2 224.8 712.2 227.6 712.2 238.2 712.5 214.8 712.5 226.7 712.5 224.0 712.6 232.2 712.7 223.2 712.8 227.4 712.9 220.1 712.9 217.8 713.2 232.8 713.2 230.8 713.2 226.2 713.3 230.8 713.5 206.3 713.6 212.0 713.6 230.7 713.9 228.2 713.9 220.2 713.9 216.7 714.0 235.0 714.2 217.8 714.2 220.3 714.3 210.9 714.4 231.5 714.5 222.5 714.6 220.2 714.6 214.3 714.9 230.8 714.9 226.7 714.9 220.6 715.0 210.7 715.1 231.8 715.2 218.0 715.2 223.8 715.4 228.4 715.5 215.8 715.6 219.9 715.6 229.0 715.7 215.7 715.8 232.4 715.9 222.8 715.9 226.2 716.0 233.5 716.2 216.4 716.3 225.3 716.3 219.6 716.4 206.9 716.5 230.3 716.6 214.7 716.6 218.8 716.7 231.3 716.9 208.7 716.9 214.2 716.9 215.3 717.0 210.6 717.3 231.8 717.3 231.3 717.5 210.7 717.6 218.0 717.6 210.1 717.7 208.2 717.8 227.6 718.0 220.5 718.0 222.2 718.1 207.8 718.3 229.9 718.3 226.6 718.3 224.3 718.4 206.8 718.6 224.6 718.6 213.8 718.6 216.6 718.7 208.3 718.8 231.0 719.0 216.9 719.0 216.5 719.2 227.1 719.3 212.2 719.3 212.2 719.3 212.8 719.5 208.0 719.6 232.0 719.6 227.2 719.7 234.7 719.7 242.2 719.8 213.5 720.0 219.7 720.0 219.6 720.2 213.1 720.3 238.3 720.3 234.7 720.3 237.4 720.5 238.5 720.6 200.6 720.7 215.4 720.7 225.7 720.8 208.1 720.9 233.4 721.0 225.6 721.0 228.7 721.1 237.5 721.1 214.2 721.4 215.7 721.4 220.7 721.5 230.4 721.5 212.4 721.7 220.3 721.7 213.3 721.9 208.0 722.0 228.3 722.0 225.4 722.0 223.9 722.1 219.1 722.3 237.1 722.4 227.2 722.4 226.1 722.4 237.5 722.5 206.0 722.7 224.1 722.7 219.8 722.8 219.3 722.9 237.1 723.0 219.6 723.1 216.5 723.1 211.4 723.3 233.2 723.4 222.3 723.4 221.8 723.5 217.2 723.7 238.9 723.7 244.1 723.9 221.9 724.1 223.6 724.1 227.5 724.1 245.2 724.3 219.0 724.4 221.4 724.4 222.6 724.5 216.8 724.5 242.1 724.8 232.5 724.8 233.2 724.8 236.0 725.0 221.2 725.1 226.9 725.1 228.5 725.2 225.7 725.4 245.7 725.4 233.1 725.4 237.5 725.6 242.6 725.8 227.4 725.8 231.1 725.9 245.1 726.1 227.7 726.1 239.4 726.1 236.7 726.3 228.3 726.4 247.6 726.5 242.0 726.5 243.9 726.5 233.0 726.7 247.5 726.8 241.3 726.8 243.4 726.9 235.2 727.0 251.2 727.1 247.3 727.1 243.1 727.2 251.7 727.3 237.1 727.5 247.0 727.5 249.7 727.5 242.4 727.7 254.6 727.8 245.3 727.8 249.4 727.9 254.6 728.0 244.1 728.2 251.2 728.2 261.6 728.2 245.3 728.5 259.8 728.5 257.4 728.7 246.4 728.8 260.1 728.8 256.1 728.8 250.3 728.9 267.5 729.2 260.5 729.2 259.5 729.3 264.4 729.5 253.7 729.5 260.3 729.5 256.3 729.5 255.7 729.7 270.2 729.9 257.9 729.9 255.8 729.9 255.2 730.0 267.7 730.2 267.0 730.2 266.0 730.3 256.7 730.5 268.4 730.5 266.0 730.6 257.1 730.8 270.4 730.9 265.2 730.9 264.4 730.9 258.6 731.2 272.0 731.2 268.6 731.2 270.6 731.4 274.7 731.4 263.4 731.6 269.4 731.6 271.3 731.9 259.2 731.9 276.3 731.9 275.1 732.0 267.4 732.2 279.6 732.2 275.8 732.2 274.0 732.4 268.4 732.5 280.7 732.6 271.0 732.6 276.2 732.8 279.9 732.9 268.3 732.9 274.3 732.9 273.9 733.0 268.6 733.2 282.6 733.3 274.1 733.3 271.6 733.3 270.6 733.4 278.9 733.6 274.9 733.6 277.2 733.7 270.8 733.9 280.6 733.9 277.8 733.9 275.1 734.0 272.6 734.2 282.1 734.3 281.8 734.3 280.6 734.4 283.4 734.5 273.9 734.6 281.2 734.6 279.5 734.7 275.4 735.0 283.3 735.0 280.5 735.1 284.4 735.2 277.6 735.3 279.0 735.3 279.8 735.3 274.4 735.6 286.3 735.6 278.9 735.6 278.1 735.8 287.8 736.0 277.2 736.0 279.4 736.1 286.8 736.3 278.7 736.3 284.4 736.3 282.1 736.5 280.1 736.6 287.6 736.7 284.7 736.7 282.3 736.8 288.7 736.9 279.6 737.0 284.6 737.0 286.3 737.1 283.3 737.1 290.8 737.3 288.5 737.3 287.9 737.4 283.1 737.5 290.2 737.7 287.1 737.7 286.7 737.7 285.2 737.9 291.6 738.0 287.8 738.0 290.3 738.2 285.2 738.4 292.1 738.4 290.7 738.5 287.2 738.5 295.7 738.7 293.9 738.7 294.3 738.8 289.5 738.8 296.8 739.0 295.5 739.0 292.6 739.1 290.5 739.3 296.6 739.4 296.2 739.4 294.8 739.4 290.9 739.7 297.5 739.7 297.2 739.7 295.6 739.8 292.9 740.0 299.1 740.1 296.6 740.1 297.9 740.2 293.9 740.3 299.0 740.4 297.6 740.4 296.6 740.4 296.0 740.7 299.1 740.7 299.0 740.7 298.6 740.8 296.7 741.0 300.7 741.1 299.2 741.1 299.4 741.2 296.9 741.4 302.2 741.4 300.8 741.4 299.9 741.7 298.9 741.7 303.6 741.8 301.8 741.8 302.6 742.0 299.6 742.0 303.8 742.1 302.2 742.1 302.5 742.1 300.9 742.4 304.1 742.4 302.7 742.4 303.3 742.5 302.2 742.8 305.3 742.8 304.4 742.9 303.0 743.1 306.6 743.1 304.7 743.1 304.6 743.3 307.2 743.4 303.2 743.5 306.1 743.5 305.6 743.6 304.7 743.6 308.1 743.8 306.7 743.8 306.8 743.8 305.0 744.0 308.1 744.1 307.4 744.1 307.2 744.2 308.2 744.4 305.9 744.5 307.2 744.5 307.5 744.5 307.0 744.6 309.3 744.8 308.7 744.8 308.1 744.9 307.7 745.1 309.4 745.2 308.6 745.2 308.7 745.2 308.2 745.4 310.3 745.5 309.6 745.5 310.1 745.5 311.3 745.7 308.8 745.8 310.0 745.8 310.1 745.9 309.2 746.1 311.1 746.2 310.5 746.2 310.7 746.2 311.1 746.4 309.9 746.5 310.9 746.5 311.1 746.6 310.2 746.9 311.9 746.9 311.4 747.0 310.9 747.2 312.1 747.2 311.2 747.2 311.1 747.3 311.1 747.5 312.2 747.5 311.9 747.5 311.7 747.6 311.6 747.8 313.0 747.9 312.3 747.9 311.9 747.9 312.9 748.0 311.8 748.2 312.1 748.2 312.3 748.2 312.2 748.4 313.3 748.6 313.0 748.6 312.8 748.6 312.4 748.9 313.6 748.9 313.3 748.9 313.4 748.9 312.7 749.0 313.6 749.2 313.6 749.2 313.5 749.3 313.4 749.5 313.9 749.6 313.6 749.6 313.4 749.7 313.3 749.9 314.1 749.9 314.2 750.1 313.6 750.2 314.3 750.3 314.0 750.3 314.1 750.4 314.3 750.4 313.7 750.6 314.1 750.6 314.0 750.6 313.7 750.9 314.5 750.9 314.5 751.0 313.9 751.1 314.7 751.3 313.9 751.3 313.9 751.3 313.9 751.6 314.7 751.6 314.5 751.6 314.6 751.6 314.3 751.8 314.8 752.0 314.5 752.0 314.5 752.0 314.4 752.1 314.9 752.3 314.7 752.3 314.7 752.4 314.5 752.6 315.1 752.6 314.8 752.6 314.8 752.7 314.6 753.0 315.2 753.0 315.0 753.0 314.9 753.0 314.7 753.3 315.3 753.3 315.0 753.3 315.0 753.4 314.9 753.5 315.2 753.7 315.1 753.7 315.0 753.7 315.0 753.8 315.3 754.0 315.1 754.0 315.1 754.0 315.0 754.3 315.3 754.3 315.2 754.3 315.2 754.5 315.4 754.5 315.1 754.7 315.3 754.7 315.2 754.8 315.4 755.0 315.3 755.0 315.4 755.1 315.2 755.4 315.5 755.4 315.5 755.4 315.4 755.4 315.6 755.4 315.3 755.7 315.4 755.7 315.4 755.9 315.3 756.0 315.5 756.0 315.4 756.0 315.4 756.1 315.4 756.2 315.6 756.4 315.5 756.4 315.5 756.6 315.6 756.6 315.4 756.7 315.5 756.7 315.5 756.8 315.6 757.0 315.4 757.0 315.4" stroke="#1414ff"/><path d="M496.3 315.4 516.3 314.1 528.1 313.1 536.4 312.4 542.8 312.0 548.1 311.6 552.6 311.2 556.4 310.7 559.8 309.9 562.9 308.9 565.7 308.3 568.2 308.0 570.5 306.8 572.6 306.6 574.6 305.7 576.5 304.2 578.2 303.6 579.9 303.2 581.5 301.5 583.0 300.9 584.4 299.8 585.7 300.9 587.0 299.3 588.2 297.9 589.4 296.0 590.5 293.2 591.6 293.0 592.7 292.3 593.7 291.4 594.7 290.6 595.6 290.2 596.6 291.4 597.4 287.8 598.3 287.2 599.1 285.0 600.0 284.5 600.8 282.8 601.5 283.3 602.3 282.1 603.0 282.9 603.7 278.7 604.4 278.8 605.1 277.2 605.8 276.4 606.4 274.8 607.1 274.8 607.7 272.1 608.3 269.6 608.9 266.8 609.5 266.0 610.0 263.7 610.6 268.6 611.2 267.2 611.7 271.5 612.2 266.0 612.7 265.5 613.3 267.4 613.8 265.2 614.3 264.8 614.7 266.3 615.2 269.0 615.7 266.6 616.2 265.1 616.6 263.2 617.1 266.7 617.5 267.0 617.9 267.3 618.4 265.0 618.8 265.0 619.2 262.7 619.6 264.4 620.0 264.8 620.4 264.8 620.8 261.5 621.2 263.4 621.6 267.5 622.0 269.4 622.3 269.4 622.7 270.3 623.1 269.2 623.4 265.2 623.8 263.7 624.1 263.2 624.5 260.6 624.8 261.0 625.2 258.4 625.5 256.4 625.8 255.2 626.1 255.9 626.5 256.8 626.8 254.8 627.1 258.7 627.4 259.4 627.7 258.1 628.0 261.9 628.3 263.7 628.6 263.5 628.9 265.1 629.2 265.8 629.5 262.4 629.8 261.2 630.1 259.8 630.4 258.1 630.7 257.7 630.9 260.0 631.2 259.8 631.5 255.9 631.7 258.7 632.0 258.1 632.3 257.4 632.5 255.2 632.8 252.5 633.1 254.9 633.3 252.8 633.6 251.0 633.8 254.7 634.1 254.4 634.3 253.6 634.6 256.6 634.8 255.0 635.0 259.3 635.3 259.5 635.5 261.7 635.7 261.6 636.0 256.7 636.2 255.0 636.4 257.9 636.7 256.7 636.9 256.6 637.1 255.5 637.3 251.3 637.6 250.7 637.8 249.2 638.0 253.1 638.2 256.9 638.4 259.9 638.6 260.3 638.8 259.4 639.0 258.8 639.3 255.4 639.5 259.4 639.7 259.3 639.9 258.6 640.1 258.5 640.3 255.1 640.5 256.5 640.7 257.4 640.9 258.4 641.1 259.9 641.3 258.0 641.4 249.7 641.6 254.3 641.8 253.7 642.0 250.7 642.2 254.5 642.4 259.0 642.6 255.9 642.8 258.5 642.9 261.3 643.1 259.1 643.3 258.2 643.5 259.0 643.7 258.9 643.8 259.4 644.0 259.6 644.2 258.5 644.4 259.7 644.5 253.6 644.7 250.3 644.9 252.2 645.0 248.5 645.2 253.0 645.4 256.5 645.5 258.5 645.7 257.4 645.9 253.4 646.0 253.3 646.2 251.8 646.4 255.8 646.5 258.8 646.7 259.1 646.8 255.1 647.0 251.7 647.2 247.5 647.3 248.0 647.5 249.8 647.6 247.4 647.8 250.9 647.9 255.1 648.1 253.0 648.2 255.4 648.4 256.9 648.5 256.6 648.7 258.3 648.8 262.2 649.0 261.9 649.1 257.9 649.3 258.3 649.4 255.6 649.6 256.8 649.7 253.4 649.9 255.4 650.0 256.3 650.1 257.9 650.3 261.6 650.4 262.7 650.6 260.2 650.7 262.4 650.9 258.9 651.0 259.7 651.1 260.7 651.3 262.2 651.4 264.9 651.5 266.5 651.7 266.8 651.8 265.4 651.9 262.4 652.1 257.3 652.2 256.0 652.3 256.6 652.5 259.0 652.6 257.4 652.7 257.1 652.9 260.8 653.0 262.2 653.1 258.6 653.2 259.0 653.4 260.4 653.5 259.3 653.6 263.4 653.7 263.8 653.9 262.1 654.0 264.5 654.1 261.8 654.2 258.9 654.4 261.5 654.5 259.9 654.6 261.4 654.7 261.6 654.9 258.5 655.0 259.6 655.1 260.2 655.2 261.6 655.3 256.0 655.4 255.7 655.6 255.4 655.7 254.3 655.8 251.3 655.9 255.8 656.0 257.0 656.1 260.1 656.3 259.7 656.4 261.3 656.5 262.7 656.6 261.9 656.7 261.3 656.8 261.1 656.9 260.4 657.1 262.9 657.2 261.0 657.3 261.4 657.4 259.2 657.5 259.2 657.6 254.3 657.7 253.7 657.8 252.8 657.9 260.1 658.0 266.6 658.2 264.5 658.3 265.0 658.4 261.0 658.5 264.8 658.6 262.7 658.7 261.2 658.8 264.6 658.9 265.7 659.0 265.2 659.1 262.7 659.2 263.3 659.3 264.9 659.4 265.7 659.5 259.0 659.6 257.7 659.7 254.2 659.8 257.1 659.9 258.6 660.0 258.4 660.1 265.0 660.2 260.8 660.3 260.5 660.4 261.3 660.5 257.0 660.6 257.7 660.7 261.1 660.8 254.7 660.9 261.3 661.0 260.7 661.1 263.7 661.2 262.6 661.3 262.0 661.4 258.8 661.5 263.0 661.6 266.3 661.7 263.6 661.8 264.8 661.9 267.7 662.0 264.6 662.1 267.3 662.2 264.5 662.3 263.9 662.4 262.0 662.4 259.2 662.5 260.9 662.6 263.4 662.7 261.1 662.8 262.6 662.9 258.7 663.0 257.9 663.1 258.6 663.2 258.2 663.3 260.8 663.4 265.3 663.4 266.6 663.5 265.7 663.6 264.7 663.7 266.0 663.8 265.1 663.9 268.3 664.0 265.1 664.1 262.2 664.2 265.3 664.2 268.0 664.3 267.3 664.4 259.8 664.5 256.0 664.6 255.6 664.7 259.7 664.8 262.5 664.8 260.1 664.9 261.7 665.0 263.6 665.1 265.4 665.2 265.1 665.3 266.2 665.4 263.2 665.4 258.6 665.5 259.0 665.6 259.6 665.7 258.6 665.9 269.0 666.0 268.7 666.1 267.5 666.2 265.7 666.3 265.5 666.3 266.7 666.4 262.5 666.5 260.6 666.6 260.5 666.7 260.1 666.7 256.9 666.8 259.5 666.9 258.2 667.0 262.5 667.1 261.1 667.1 264.9 667.3 261.9 667.4 261.9 667.5 260.8 667.5 262.0 667.6 259.5 667.7 259.8 667.8 257.6 667.8 258.0 667.9 256.5 668.0 257.8 668.1 255.1 668.2 262.2 668.3 258.5 668.4 261.1 668.5 264.4 668.5 263.1 668.6 266.7 668.7 264.4 668.9 265.6 669.0 261.8 669.0 264.0 669.1 262.0 669.2 264.4 669.3 269.2 669.3 268.8 669.6 258.9 669.7 260.2 669.8 257.6 670.0 269.3 670.1 271.5 670.2 271.6 670.3 267.5 670.4 263.4 670.5 267.0 670.7 263.9 670.8 265.7 670.8 263.5 670.9 263.9 671.0 262.9 671.0 268.8 671.2 269.9 671.3 264.8 671.4 262.2 671.5 263.0 671.6 256.2 671.7 257.8 671.7 257.2 671.9 265.0 672.1 260.1 672.1 260.2 672.2 263.5 672.4 262.5 672.5 263.3 672.5 261.4 672.6 265.3 672.7 264.0 672.8 265.3 672.9 266.1 673.0 264.6 673.1 262.8 673.2 261.6 673.4 265.6 673.4 267.9 673.7 258.5 673.7 262.1 673.8 261.8 673.9 260.2 674.1 270.6 674.1 269.3 674.4 264.8 674.4 267.4 674.5 266.9 674.5 267.9 674.7 260.5 674.8 262.4 674.8 257.3 675.1 261.6 675.1 262.0 675.2 259.6 675.4 265.1 675.4 264.2 675.5 263.8 675.6 266.1 675.8 259.0 675.9 257.1 676.1 267.2 676.1 269.8 676.4 255.5 676.4 255.9 676.5 256.3 676.7 263.7 676.8 262.0 676.8 259.5 677.1 268.6 677.1 262.7 677.2 261.8 677.2 261.7 677.4 267.6 677.4 265.5 677.5 263.7 677.7 268.0 677.8 261.2 677.9 261.4 677.9 263.6 678.0 260.4 678.2 261.3 678.2 267.4 678.4 268.0 678.4 263.1 678.5 263.1 678.5 261.8 678.7 271.0 678.8 265.1 678.9 261.2 679.0 262.1 679.1 257.7 679.2 261.6 679.2 258.6 679.4 257.1 679.5 261.2 679.6 262.3 679.8 269.6 679.9 269.4 680.0 261.6 680.2 265.7 680.2 271.6 680.3 272.5 680.5 261.9 680.6 264.0 680.8 271.3 680.9 268.9 680.9 265.0 681.0 271.2 681.2 261.0 681.3 257.8 681.4 255.0 681.5 266.0 681.6 261.8 681.6 260.6 681.8 252.3 681.9 259.6 681.9 263.7 682.0 264.1 682.2 259.0 682.2 261.8 682.3 264.6 682.4 259.9 682.6 267.5 682.6 267.7 682.9 263.3 683.0 261.9 683.1 260.8 683.2 266.1 683.3 264.9 683.3 268.1 683.5 259.3 683.6 262.0 683.6 261.1 683.9 267.8 683.9 263.8 684.0 256.2 684.2 270.0 684.3 267.7 684.3 265.3 684.6 257.5 684.6 260.2 684.6 260.7 684.7 259.2 684.9 269.1 684.9 265.4 685.0 266.9 685.3 259.5 685.3 257.6 685.5 256.6 685.7 268.0 685.7 268.3 685.7 270.8 685.9 263.5 686.0 268.7 686.0 267.9 686.2 257.1 686.3 261.9 686.4 269.1 686.5 266.3 686.6 270.5 686.6 270.1 686.7 264.5 686.8 260.3 686.9 265.4 687.0 261.7 687.0 258.7 687.1 258.0 687.4 269.4 687.4 266.9 687.6 261.7 687.7 265.7 687.7 263.8 687.9 257.6 688.0 274.0 688.1 273.2 688.3 259.2 688.4 260.5 688.4 260.4 688.7 268.6 688.7 266.4 688.9 269.6 689.0 266.2 689.1 267.1 689.2 257.6 689.4 262.3 689.4 259.2 689.6 267.2 689.7 267.1 689.8 266.9 689.9 264.0 689.9 269.7 690.0 266.8 690.1 264.3 690.1 258.3 690.3 264.7 690.4 261.7 690.4 266.0 690.7 254.9 690.8 260.7 690.8 258.9 690.9 266.3 691.1 263.9 691.1 264.3 691.3 258.5 691.4 267.7 691.4 269.8 691.5 271.1 691.6 264.1 691.7 265.5 691.8 268.2 691.9 259.0 692.1 269.2 692.1 271.2 692.3 258.0 692.4 260.6 692.5 260.5 692.6 257.8 692.8 268.4 692.8 269.7 693.0 258.3 693.1 261.8 693.2 260.2 693.2 260.0 693.3 267.2 693.4 264.6 693.5 263.7 693.6 256.3 693.8 267.4 693.8 268.0 693.9 271.6 694.1 262.6 694.1 264.8 694.2 258.5 694.3 257.8 694.4 261.5 694.5 260.2 694.5 259.5 694.8 257.1 694.8 263.0 694.8 262.7 694.8 263.3 694.9 267.5 695.0 258.2 695.2 263.5 695.2 262.5 695.5 270.4 695.5 268.7 695.5 266.9 695.7 262.4 695.9 268.8 695.9 268.5 695.9 269.2 696.2 254.7 696.2 255.3 696.5 270.4 696.5 265.4 696.7 258.0 696.9 260.0 696.9 258.8 697.1 269.1 697.2 265.8 697.2 264.0 697.3 259.7 697.4 271.5 697.6 265.1 697.6 264.2 697.8 267.3 697.9 259.5 697.9 264.9 698.2 257.8 698.3 255.8 698.5 269.6 698.6 254.2 698.6 257.4 698.6 256.4 698.9 268.8 698.9 269.5 699.2 256.1 699.2 258.8 699.3 261.3 699.3 265.0 699.5 248.7 699.6 256.0 699.6 258.6 699.6 263.7 699.9 248.8 699.9 249.8 700.0 254.4 700.0 252.2 700.2 263.4 700.3 259.7 700.3 259.9 700.4 252.6 700.6 254.5 700.6 258.4 700.9 249.2 701.0 258.1 701.0 257.5 701.1 260.5 701.1 253.7 701.3 253.7 701.3 256.6 701.5 255.2 701.6 262.3 701.6 258.0 701.7 259.9 701.7 260.9 701.8 242.1 702.0 248.7 702.0 254.0 702.0 257.1 702.1 243.8 702.3 246.0 702.3 243.7 702.5 252.3 702.6 243.0 702.6 243.9 702.7 243.2 702.9 250.7 703.0 229.5 703.0 234.0 703.2 253.1 703.3 236.9 703.4 242.7 703.4 250.6 703.7 245.9 703.7 246.2 703.8 235.3 704.0 251.6 704.0 248.4 704.0 252.3 704.2 254.0 704.4 239.2 704.4 237.9 704.7 249.8 704.7 240.7 704.7 237.4 704.8 242.7 705.0 228.9 705.0 230.1 705.0 230.7 705.1 226.7 705.2 240.6 705.4 234.2 705.4 232.2 705.5 229.8 705.5 240.6 705.7 235.3 705.7 239.2 706.0 216.7 706.0 217.0 706.1 220.2 706.2 237.9 706.4 225.1 706.4 229.1 706.5 238.6 706.7 218.4 706.7 226.6 706.8 226.3 707.0 214.2 707.1 234.4 707.1 219.8 707.1 223.8 707.3 212.9 707.4 223.1 707.4 216.1 707.5 227.1 707.6 212.5 707.7 213.4 707.8 211.7 707.8 210.7 707.9 227.7 708.1 218.0 708.1 213.7 708.2 225.4 708.4 199.8 708.5 197.9 708.5 197.1 708.5 216.6 708.8 202.5 708.8 212.5 708.8 212.6 709.0 185.0 709.1 207.2 709.1 204.6 709.4 221.0 709.4 200.9 709.5 203.7 709.5 211.6 709.6 220.9 709.7 193.6 709.8 201.6 709.8 197.6 709.9 215.9 710.1 189.9 710.1 199.4 710.1 208.4 710.3 183.9 710.5 195.3 710.5 190.5 710.6 200.1 710.7 182.4 710.8 198.9 710.8 207.2 710.8 208.1 711.1 184.9 711.2 198.4 711.2 198.9 711.2 208.5 711.3 176.6 711.5 196.8 711.5 198.9 711.8 201.2 711.8 182.4 711.9 184.7 712.0 198.1 712.1 171.4 712.2 192.5 712.2 184.1 712.4 191.5 712.5 171.8 712.5 181.0 712.5 180.1 712.7 207.6 712.8 168.2 712.8 170.2 712.9 180.4 712.9 185.6 712.9 165.5 713.2 179.1 713.2 180.3 713.3 165.5 713.3 198.5 713.5 187.0 713.6 188.6 713.6 189.8 713.6 173.2 713.9 175.5 713.9 186.1 714.0 188.6 714.2 152.9 714.2 161.9 714.2 176.2 714.3 157.5 714.5 183.4 714.5 179.6 714.6 164.7 714.7 183.8 714.8 148.1 714.9 168.9 714.9 163.4 715.1 155.0 715.2 180.6 715.2 155.7 715.2 158.1 715.3 150.4 715.5 173.9 715.6 160.5 715.6 155.7 715.6 154.5 715.7 184.1 715.9 163.4 715.9 163.6 716.1 148.9 716.2 188.5 716.3 169.4 716.3 165.6 716.3 161.5 716.5 184.5 716.6 168.8 716.6 176.5 716.9 145.0 716.9 174.4 716.9 167.3 717.1 141.8 717.2 175.7 717.3 164.9 717.3 162.7 717.4 141.3 717.5 178.9 717.6 158.6 717.6 167.4 717.7 126.2 717.9 178.0 718.0 145.6 718.0 147.1 718.1 188.4 718.3 155.8 718.3 158.3 718.4 188.4 718.5 155.4 718.6 169.6 718.6 161.7 718.7 171.5 718.8 136.5 719.0 149.4 719.0 144.6 719.1 162.9 719.2 133.2 719.3 150.8 719.3 145.6 719.4 184.6 719.6 139.8 719.6 150.2 719.7 147.9 719.7 130.5 719.9 167.9 720.0 155.1 720.0 155.8 720.3 168.4 720.3 126.9 720.3 131.0 720.4 123.4 720.6 172.5 720.7 166.7 720.7 160.2 720.8 173.9 721.0 132.5 721.0 133.9 721.0 154.7 721.1 143.0 721.3 180.4 721.4 153.1 721.4 154.3 721.4 164.2 721.6 139.3 721.7 155.7 721.7 152.8 721.8 136.8 722.0 177.1 722.0 168.2 722.0 157.6 722.1 178.1 722.2 139.6 722.4 153.0 722.4 150.5 722.4 187.4 722.6 141.6 722.7 153.3 722.7 153.5 722.7 140.8 723.0 174.2 723.0 165.3 723.1 160.3 723.1 181.8 723.3 133.9 723.4 172.3 723.4 170.7 723.5 146.7 723.7 175.5 723.7 174.2 723.7 165.9 723.8 187.1 724.1 147.4 724.1 142.1 724.2 138.7 724.4 183.6 724.4 166.5 724.4 160.3 724.5 145.1 724.6 177.7 724.8 152.3 724.8 161.5 724.9 155.2 724.9 181.6 725.1 173.9 725.1 162.7 725.4 154.5 725.4 187.5 725.4 181.5 725.4 181.7 725.6 191.7 725.8 158.2 725.8 166.7 725.8 182.5 725.9 164.5 726.1 203.8 726.1 194.7 726.3 163.3 726.4 199.7 726.5 192.9 726.5 190.7 726.7 196.8 726.7 167.5 726.8 188.4 726.8 193.0 726.9 180.9 727.0 207.1 727.1 194.6 727.1 198.7 727.3 181.7 727.4 201.7 727.5 185.5 727.5 182.7 727.6 179.9 727.8 201.7 727.8 199.8 727.8 202.5 727.8 202.9 727.9 184.1 728.2 198.3 728.2 211.8 728.2 213.1 728.2 186.0 728.5 204.0 728.5 200.6 728.6 209.7 728.8 187.6 728.8 200.5 728.8 203.7 728.9 207.8 729.2 194.7 729.2 199.7 729.2 195.6 729.2 186.6 729.3 209.4 729.5 199.3 729.5 200.8 729.6 188.4 729.8 220.7 729.9 215.6 729.9 212.0 729.9 216.1 730.0 187.1 730.2 209.4 730.2 211.6 730.3 192.5 730.5 221.5 730.5 213.6 730.5 211.2 730.6 231.9 730.8 199.4 730.9 219.9 730.9 215.7 731.1 203.3 731.2 226.5 731.2 211.6 731.2 207.7 731.2 202.9 731.3 223.8 731.6 207.1 731.6 214.2 731.8 232.1 731.8 208.7 731.9 224.4 731.9 213.6 732.0 212.3 732.2 235.4 732.2 227.4 732.2 224.4 732.3 219.7 732.3 244.9 732.6 231.6 732.6 230.3 732.7 239.9 732.8 221.3 732.9 233.7 732.9 229.3 733.0 217.0 733.2 244.2 733.3 231.2 733.3 228.4 733.4 221.7 733.6 243.1 733.6 242.6 733.6 241.3 733.6 226.4 733.9 244.8 733.9 240.1 734.0 238.6 734.0 255.8 734.3 242.1 734.3 239.8 734.3 234.2 734.4 256.1 734.6 253.3 734.6 252.4 734.7 240.8 734.8 260.4 735.0 257.1 735.0 254.8 735.0 260.3 735.2 244.7 735.3 253.1 735.3 252.4 735.4 260.1 735.5 247.2 735.6 253.9 735.6 255.2 735.8 264.3 735.8 250.0 736.0 252.3 736.0 256.0 736.1 251.6 736.2 265.1 736.3 255.4 736.3 258.5 736.4 249.8 736.6 265.6 736.7 261.1 736.7 266.3 736.7 250.8 736.9 268.6 737.0 261.7 737.0 259.3 737.1 252.8 737.1 265.4 737.3 262.2 737.3 261.8 737.4 249.4 737.6 269.4 737.7 264.9 737.7 265.4 737.9 257.6 737.9 271.7 738.0 265.1 738.0 266.7 738.1 260.4 738.2 272.8 738.4 263.8 738.4 265.0 738.6 261.4 738.7 272.2 738.7 267.8 738.7 265.7 738.9 265.4 738.9 275.1 739.0 273.6 739.0 274.3 739.2 270.1 739.3 280.0 739.4 275.6 739.4 274.7 739.5 268.4 739.6 281.0 739.7 278.0 739.7 277.1 739.8 272.5 740.0 282.4 740.1 277.9 740.1 279.6 740.1 274.6 740.3 285.7 740.4 279.8 740.4 281.6 740.6 278.3 740.7 287.8 740.7 279.3 740.7 278.6 740.9 278.1 741.0 288.9 741.1 284.9 741.1 284.5 741.1 281.6 741.3 288.2 741.4 285.7 741.4 285.5 741.4 282.9 741.7 291.6 741.8 287.6 741.8 288.6 741.8 285.5 742.1 292.4 742.1 290.3 742.1 289.4 742.2 294.8 742.3 288.0 742.4 291.1 742.4 292.6 742.6 286.9 742.7 294.8 742.8 292.8 742.8 291.2 742.9 290.0 743.0 296.6 743.1 293.1 743.1 293.6 743.3 297.7 743.3 292.0 743.5 294.5 743.5 296.4 743.6 294.4 743.7 299.1 743.8 297.6 743.8 296.3 744.1 300.7 744.1 294.7 744.1 297.7 744.1 299.8 744.2 294.3 744.3 301.6 744.5 301.3 744.5 300.6 744.5 297.4 744.5 302.0 744.8 300.6 744.8 302.1 744.9 298.4 745.1 303.8 745.2 299.7 745.2 298.9 745.3 303.4 745.5 301.4 745.5 302.8 745.8 300.6 745.8 304.9 745.8 302.4 745.8 302.1 746.2 305.9 746.2 306.0 746.4 303.1 746.5 304.9 746.5 305.4 746.6 307.1 746.7 304.5 746.9 305.1 746.9 306.6 746.9 305.3 747.0 308.5 747.2 307.7 747.2 308.1 747.2 306.1 747.3 308.2 747.5 307.8 747.5 307.4 747.6 306.9 747.7 309.2 747.9 308.6 747.9 309.1 748.0 308.1 748.1 310.0 748.2 308.4 748.2 308.6 748.5 310.9 748.6 310.0 748.6 309.9 748.6 308.6 748.8 311.1 748.9 310.6 748.9 310.6 749.0 310.2 749.1 311.5 749.2 311.3 749.2 311.8 749.3 312.0 749.4 310.7 749.6 311.4 749.6 311.3 749.8 310.5 749.8 312.4 749.9 312.2 749.9 312.4 750.1 311.5 750.1 312.8 750.3 312.3 750.3 311.8 750.4 311.5 750.5 312.8 750.6 312.5 750.6 312.6 750.6 313.1 750.9 312.1 750.9 312.4 750.9 312.4 751.0 312.2 751.2 313.7 751.3 312.5 751.3 312.6 751.4 312.6 751.5 313.6 751.6 313.2 751.6 313.2 751.8 312.8 751.9 313.8 752.0 313.4 752.0 313.6 752.0 313.8 752.1 313.3 752.3 313.7 752.3 313.8 752.3 313.4 752.6 314.2 752.6 313.8 752.6 313.8 752.7 313.6 752.9 314.3 753.0 314.2 753.0 314.2 753.1 314.4 753.1 314.0 753.3 314.3 753.3 314.2 753.4 314.1 753.6 314.6 753.7 314.4 753.7 314.4 753.7 314.2 753.9 314.9 754.0 314.8 754.0 314.8 754.1 314.5 754.3 314.9 754.3 314.7 754.3 314.7 754.4 314.6 754.5 315.0 754.7 315.0 754.7 314.8 754.8 314.7 754.9 315.2 755.0 315.1 755.0 315.1 755.2 315.3 755.2 314.8 755.4 314.9 755.4 314.9 755.5 315.3 755.7 315.2 755.7 315.2 755.8 315.3 755.9 315.1 756.0 315.1 756.0 315.1 756.3 315.4 756.4 315.2 756.4 315.3 756.4 315.1 756.6 315.4 756.7 315.3 756.7 315.3 756.7 315.3 756.8 315.1 757.0 315.3" stroke="#00c800"/><path d="M496.3 315.7 516.3 314.9 528.1 314.2 536.4 313.6 542.8 312.9 548.1 312.2 552.6 311.8 556.4 311.6 559.8 311.4 562.9 311.0 565.7 310.6 568.2 310.7 570.5 309.9 572.6 309.8 574.6 309.4 576.5 309.0 578.2 308.9 579.9 308.4 581.5 308.5 583.0 307.9 584.4 307.1 585.7 305.9 587.0 304.7 588.2 303.6 589.4 302.0 590.5 302.3 591.6 301.8 592.7 301.5 593.7 300.8 594.7 299.0 595.6 299.5 596.6 298.1 597.4 296.9 598.3 296.1 599.1 295.2 600.0 293.8 600.8 295.5 601.5 293.5 602.3 292.5 603.0 290.8 603.7 291.0 604.4 290.0 605.1 288.7 605.8 284.4 606.4 282.8 607.1 279.6 607.7 277.7 608.3 276.9 608.9 279.4 609.5 276.3 610.0 278.9 610.6 277.1 611.2 273.9 611.7 275.6 612.2 273.7 612.7 276.8 613.3 275.5 613.8 273.0 614.3 270.4 614.7 268.9 615.2 266.1 615.7 267.9 616.2 265.7 616.6 269.7 617.1 271.0 617.5 268.8 617.9 270.5 618.4 270.2 618.8 270.2 619.2 268.6 619.6 267.7 620.0 266.3 620.4 265.8 620.8 262.1 621.2 264.5 621.6 261.4 622.0 266.7 622.3 264.5 622.7 262.4 623.1 262.4 623.4 260.7 623.8 260.6 624.1 257.1 624.5 259.7 624.8 264.4 625.2 263.4 625.5 266.0 625.8 267.2 626.1 264.7 626.5 265.5 626.8 268.3 627.1 267.3 627.4 266.7 627.7 264.0 628.0 267.0 628.3 268.2 628.6 266.8 628.9 264.8 629.2 262.6 629.5 263.2 629.8 264.3 630.1 268.7 630.4 268.8 630.7 273.3 630.9 267.7 631.2 267.7 631.5 271.0 631.7 267.5 632.0 265.9 632.3 264.6 632.5 262.1 632.8 264.3 633.1 263.2 633.3 264.1 633.6 265.1 633.8 263.4 634.1 264.0 634.3 263.9 634.6 266.8 634.8 263.9 635.0 262.8 635.3 262.4 635.5 263.0 635.7 260.7 636.0 260.3 636.2 261.9 636.4 263.8 636.7 261.6 636.9 262.1 637.1 261.6 637.3 263.1 637.6 265.1 637.8 263.5 638.0 266.9 638.2 266.6 638.4 265.9 638.6 266.1 638.8 265.1 639.0 263.8 639.3 264.5 639.5 269.2 639.7 269.5 639.9 267.9 640.1 269.0 640.3 264.6 640.5 264.1 640.7 264.0 640.9 265.7 641.1 264.8 641.3 263.7 641.4 259.7 641.6 264.0 641.8 260.1 642.0 265.6 642.2 265.7 642.4 263.0 642.6 269.3 642.8 267.3 642.9 270.1 643.1 267.6 643.3 263.9 643.5 264.4 643.7 261.9 643.8 265.8 644.0 265.8 644.2 271.7 644.4 269.3 644.5 268.3 644.7 269.8 644.9 272.4 645.0 267.5 645.2 268.0 645.4 264.7 645.5 265.3 645.7 268.9 645.9 271.8 646.0 267.0 646.2 269.7 646.4 267.6 646.5 269.2 646.7 270.2 646.8 273.6 647.0 272.8 647.2 274.3 647.3 273.2 647.5 270.0 647.6 269.6 647.8 270.5 647.9 267.8 648.1 268.7 648.2 268.2 648.4 271.5 648.5 271.2 648.7 273.3 648.8 274.6 649.0 272.8 649.1 272.4 649.3 270.8 649.4 275.5 649.6 271.0 649.7 271.9 649.9 272.3 650.0 272.8 650.1 273.0 650.3 270.2 650.4 266.3 650.6 268.9 650.7 267.3 650.9 269.0 651.0 269.2 651.1 272.7 651.3 273.8 651.4 270.1 651.5 267.9 651.7 267.9 651.8 271.1 651.9 271.0 652.1 270.9 652.2 274.1 652.3 277.3 652.5 278.0 652.6 273.1 652.7 272.4 652.9 267.0 653.0 268.6 653.1 268.4 653.2 270.7 653.4 271.8 653.5 276.6 653.6 275.0 653.7 274.4 653.9 272.2 654.0 274.1 654.1 270.4 654.2 269.7 654.4 275.0 654.5 273.1 654.6 275.3 654.7 270.6 654.9 274.5 655.0 272.5 655.1 273.1 655.2 272.9 655.3 273.3 655.4 274.5 655.6 275.2 655.7 275.0 655.8 274.5 655.9 273.6 656.0 274.3 656.1 274.8 656.3 273.9 656.4 274.3 656.5 277.3 656.6 271.6 656.7 273.0 656.8 274.7 656.9 278.1 657.1 276.4 657.2 275.5 657.3 276.0 657.4 275.8 657.5 274.2 657.6 271.3 657.7 275.4 657.8 275.9 657.9 275.7 658.0 276.4 658.2 274.9 658.3 275.3 658.4 278.5 658.5 275.2 658.6 279.7 658.7 278.0 658.8 274.6 658.9 273.0 659.0 275.3 659.1 277.0 659.2 273.5 659.3 273.5 659.4 272.9 659.5 269.8 659.6 273.0 659.7 272.6 659.8 273.0 659.9 275.3 660.0 275.4 660.1 275.5 660.2 275.3 660.3 277.2 660.4 279.3 660.5 280.8 660.6 277.6 660.7 279.7 660.8 277.3 660.9 280.8 661.0 278.0 661.1 276.5 661.2 273.8 661.3 273.6 661.4 273.9 661.5 276.0 661.6 275.4 661.7 276.8 661.8 279.5 661.9 278.3 662.0 277.8 662.1 274.4 662.2 275.7 662.3 277.9 662.4 278.0 662.4 278.1 662.5 279.7 662.6 279.8 662.7 278.1 662.8 276.9 662.9 275.6 663.0 274.4 663.1 274.2 663.2 272.2 663.3 273.4 663.4 274.2 663.4 275.3 663.5 275.9 663.6 276.9 663.7 275.9 663.8 274.9 663.9 276.9 664.0 278.0 664.1 279.2 664.2 280.2 664.2 278.7 664.3 277.5 664.4 278.5 664.5 273.3 664.6 273.9 664.7 272.3 664.8 272.5 664.8 273.7 664.9 277.3 665.0 278.4 665.1 279.6 665.2 276.2 665.3 272.1 665.4 272.2 665.4 273.8 665.5 275.4 665.6 274.4 665.7 276.1 665.9 271.7 666.0 272.3 666.1 273.6 666.2 274.2 666.3 274.5 666.3 275.4 666.4 274.2 666.5 280.4 666.6 278.1 666.7 277.2 666.7 275.6 666.8 274.8 666.9 274.4 667.0 273.7 667.2 280.6 667.3 278.1 667.4 273.7 667.5 272.3 667.5 275.6 667.6 279.1 667.7 279.4 667.8 279.7 667.8 281.8 667.9 278.8 668.0 277.7 668.1 270.2 668.3 271.4 668.4 273.1 668.5 272.8 668.5 274.8 668.6 274.3 668.7 274.3 668.8 272.9 669.0 277.7 669.0 280.2 669.1 276.4 669.2 278.2 669.3 278.0 669.3 276.7 669.4 274.6 669.6 278.4 669.7 279.9 669.8 276.0 670.0 279.2 670.1 281.4 670.1 281.9 670.3 276.6 670.3 277.9 670.4 276.8 670.6 285.9 670.7 282.5 670.8 281.8 670.8 275.4 670.9 273.5 671.0 275.2 671.0 276.0 671.3 271.3 671.4 271.8 671.6 269.8 671.7 273.3 671.7 273.7 672.1 284.6 672.1 283.4 672.4 278.5 672.5 275.6 672.6 274.8 672.7 276.3 672.7 276.1 672.8 276.0 672.8 276.8 673.0 270.8 673.1 271.3 673.3 278.4 673.4 275.9 673.4 274.3 673.7 270.1 673.7 274.6 673.8 277.0 674.1 275.3 674.1 275.4 674.4 270.3 674.4 275.2 674.5 275.5 674.6 276.9 674.7 273.2 674.8 273.4 675.1 277.0 675.1 274.6 675.3 277.1 675.4 277.1 675.5 274.8 675.6 274.7 675.8 277.5 675.9 273.8 675.9 274.8 676.1 270.6 676.1 273.4 676.3 280.4 676.4 277.8 676.5 277.2 676.7 279.8 676.8 279.6 676.8 280.1 677.1 273.2 677.1 273.9 677.2 273.3 677.3 278.8 677.4 277.9 677.5 276.6 677.6 272.8 677.8 275.7 677.9 276.8 677.9 278.3 678.0 274.1 678.2 275.9 678.2 276.3 678.4 279.6 678.5 278.8 678.5 278.0 678.7 280.7 678.8 277.0 678.9 277.2 679.0 276.8 679.1 277.7 679.2 277.4 679.2 280.0 679.3 283.3 679.5 277.5 679.6 279.2 679.6 278.7 679.7 282.4 679.8 281.5 679.9 281.2 680.1 268.4 680.2 271.4 680.2 273.0 680.5 282.7 680.6 280.1 680.6 281.7 680.8 276.3 680.9 277.6 680.9 278.7 681.1 279.9 681.2 276.6 681.2 277.1 681.3 279.6 681.3 278.9 681.5 282.5 681.6 280.6 681.6 278.7 681.7 277.4 681.8 281.8 681.9 280.7 681.9 278.3 682.1 277.4 682.1 280.2 682.2 278.9 682.3 276.2 682.4 280.0 682.6 279.7 682.6 278.1 682.7 280.4 682.8 276.9 682.9 279.5 683.0 277.5 683.1 280.2 683.3 276.4 683.3 278.6 683.5 280.1 683.6 275.2 683.6 275.0 683.7 272.5 683.9 279.4 683.9 278.9 684.0 276.6 684.1 280.7 684.3 273.4 684.3 273.5 684.4 271.9 684.6 283.1 684.6 280.6 684.8 274.2 684.9 276.7 685.0 277.0 685.0 275.1 685.2 278.6 685.3 277.2 685.3 278.2 685.4 279.4 685.6 276.3 685.7 277.5 685.7 278.9 686.0 282.1 686.0 282.9 686.1 285.5 686.2 276.2 686.3 280.8 686.4 278.5 686.6 273.3 686.6 275.5 686.7 273.2 686.9 281.4 687.0 277.7 687.0 278.2 687.1 281.8 687.4 277.2 687.4 278.7 687.5 279.6 687.6 278.0 687.7 278.9 687.7 278.8 687.7 276.7 687.9 284.8 688.0 281.6 688.1 279.4 688.2 274.9 688.4 281.5 688.4 284.3 688.7 275.2 688.7 274.5 688.8 273.4 689.0 281.0 689.1 277.2 689.3 281.3 689.4 277.3 689.4 279.0 689.7 273.5 689.7 274.0 689.8 276.1 690.0 280.7 690.0 280.5 690.1 280.8 690.3 282.0 690.4 276.3 690.4 278.0 690.8 269.5 690.8 271.2 691.1 278.0 691.1 275.9 691.2 269.5 691.4 278.3 691.4 274.0 691.6 272.0 691.7 275.7 691.7 274.4 691.8 277.7 692.0 269.4 692.1 273.4 692.1 275.4 692.4 269.7 692.4 271.3 692.5 268.8 692.6 279.1 692.7 267.7 692.8 270.9 692.8 267.5 692.9 273.5 693.1 266.3 693.2 266.4 693.4 276.1 693.4 269.2 693.5 266.5 693.5 271.6 693.7 261.8 693.8 264.2 693.8 262.1 694.1 268.3 694.2 269.8 694.4 266.1 694.5 271.4 694.5 271.5 694.5 274.9 694.8 267.3 694.8 266.2 695.0 270.3 695.1 264.8 695.2 267.8 695.2 264.7 695.2 265.9 695.4 259.5 695.5 265.2 695.5 265.3 695.6 265.6 695.7 259.8 695.9 265.4 695.9 262.8 696.0 268.0 696.2 264.5 696.2 262.3 696.3 257.3 696.4 264.5 696.5 259.7 696.5 262.7 696.8 260.0 696.9 268.2 696.9 271.0 697.2 256.3 697.2 260.7 697.3 267.6 697.5 255.5 697.6 256.9 697.6 260.8 697.7 251.7 697.9 259.3 697.9 262.7 698.2 248.7 698.2 249.0 698.3 247.9 698.5 262.5 698.6 262.2 698.6 259.5 698.6 261.5 698.9 247.4 698.9 247.3 699.0 258.4 699.2 245.4 699.2 248.0 699.3 252.9 699.4 247.3 699.6 263.3 699.6 258.0 699.7 245.5 699.9 253.1 700.0 253.9 700.1 243.3 700.3 248.1 700.3 241.7 700.5 245.4 700.6 238.0 700.6 242.8 700.6 241.9 700.9 247.0 700.9 237.3 701.0 241.6 701.0 246.3 701.3 231.9 701.3 231.2 701.3 230.1 701.5 245.5 701.6 235.4 701.7 235.3 701.9 239.2 701.9 227.7 702.0 235.3 702.0 231.8 702.0 236.8 702.2 225.4 702.3 225.9 702.3 219.2 702.6 240.1 702.6 229.2 702.7 225.6 702.7 219.9 703.0 236.3 703.0 230.7 703.2 219.7 703.3 223.3 703.4 224.8 703.4 229.3 703.5 211.7 703.7 220.9 703.7 226.6 703.8 209.5 704.0 228.8 704.0 227.4 704.0 225.2 704.0 228.1 704.3 211.2 704.4 222.0 704.4 224.0 704.5 216.7 704.7 237.3 704.7 231.2 704.8 232.5 705.0 204.5 705.0 207.5 705.0 214.9 705.1 203.2 705.3 229.8 705.4 214.2 705.4 213.0 705.4 208.5 705.6 221.6 705.7 221.4 705.7 215.6 705.9 194.3 706.0 216.8 706.1 221.0 706.1 195.0 706.4 210.8 706.4 216.7 706.5 193.5 706.7 200.7 706.8 200.2 706.9 220.6 707.1 207.5 707.1 207.9 707.2 196.5 707.4 221.5 707.4 219.0 707.4 216.5 707.6 190.1 707.7 205.0 707.8 196.0 707.8 189.0 707.9 213.8 708.1 193.8 708.1 197.1 708.2 210.6 708.4 185.4 708.5 187.9 708.5 185.8 708.6 203.7 708.8 199.7 708.8 199.4 708.8 206.8 709.0 183.8 709.1 184.8 709.1 184.3 709.3 174.4 709.4 196.1 709.5 187.0 709.5 196.6 709.8 176.1 709.8 178.2 709.8 186.4 709.9 183.3 710.1 202.1 710.1 186.8 710.1 188.2 710.2 167.3 710.3 197.5 710.5 173.5 710.5 182.2 710.6 189.8 710.7 166.2 710.8 173.7 710.8 174.5 710.9 193.4 711.1 164.5 711.2 181.8 711.2 182.7 711.2 199.0 711.3 173.7 711.5 183.3 711.5 182.9 711.6 189.8 711.8 167.4 711.8 175.4 711.9 182.4 711.9 187.9 712.1 162.8 712.2 181.9 712.2 184.7 712.3 188.1 712.5 156.2 712.5 169.2 712.5 168.6 712.7 181.4 712.8 161.4 712.8 165.4 712.9 171.6 713.0 151.9 713.2 192.8 713.2 186.0 713.2 190.3 713.5 161.8 713.5 169.4 713.6 167.4 713.6 152.1 713.7 182.8 713.9 169.8 713.9 157.7 714.0 185.6 714.2 165.6 714.2 167.5 714.4 153.3 714.5 180.6 714.5 161.8 714.6 161.1 714.7 153.8 714.9 175.3 714.9 172.4 714.9 165.5 715.0 186.4 715.1 154.9 715.2 168.6 715.2 161.9 715.3 148.3 715.6 183.5 715.6 181.5 715.6 187.8 715.9 149.7 715.9 165.6 715.9 164.6 716.2 149.7 716.3 169.4 716.3 168.6 716.4 154.6 716.5 186.5 716.6 158.6 716.6 166.2 716.8 148.4 716.9 175.2 716.9 163.3 716.9 159.9 717.1 172.0 717.2 142.6 717.3 146.7 717.3 156.6 717.5 174.9 717.6 147.5 717.6 154.6 717.6 165.6 717.9 176.0 717.9 127.0 718.0 145.1 718.0 144.7 718.0 141.3 718.2 177.4 718.3 173.9 718.3 162.7 718.5 129.4 718.6 173.3 718.6 165.1 718.6 161.7 718.7 137.2 718.9 176.3 719.0 156.0 719.0 156.8 719.1 195.6 719.2 154.7 719.3 157.5 719.3 148.3 719.4 145.0 719.5 186.6 719.6 167.6 719.7 163.7 719.7 186.7 719.9 141.1 720.0 175.0 720.0 187.6 720.0 189.2 720.2 141.4 720.3 167.8 720.3 177.4 720.4 185.7 720.6 140.7 720.7 171.3 720.7 177.5 720.8 189.2 720.9 157.9 721.0 168.2 721.0 180.3 721.1 187.1 721.3 155.7 721.4 184.2 721.4 192.4 721.6 159.6 721.7 178.5 721.7 171.2 721.8 157.1 722.0 187.8 722.0 160.1 722.0 166.5 722.1 155.7 722.4 194.3 722.4 184.9 722.4 188.2 722.6 158.0 722.7 200.2 722.7 187.8 722.7 194.0 722.8 195.7 723.0 167.5 723.0 179.9 723.1 178.0 723.2 194.6 723.4 176.7 723.4 179.5 723.4 186.5 723.6 167.0 723.7 200.7 723.7 199.0 723.7 198.2 723.9 172.9 724.0 206.8 724.1 185.9 724.1 183.8 724.3 169.2 724.4 196.7 724.4 195.3 724.5 209.5 724.5 178.5 724.8 190.0 724.8 191.9 724.9 177.2 725.0 204.1 725.1 192.7 725.1 194.3 725.2 204.3 725.3 177.6 725.4 196.9 725.4 196.6 725.5 180.0 725.7 212.9 725.8 191.1 725.8 191.2 725.9 186.0 726.0 222.0 726.1 196.7 726.1 199.7 726.3 183.1 726.4 218.5 726.5 211.5 726.5 214.5 726.5 219.2 726.6 194.2 726.8 197.0 726.8 196.0 726.9 188.6 727.1 220.2 727.1 211.7 727.3 224.8 727.4 197.9 727.5 203.8 727.5 205.6 727.7 204.2 727.8 227.4 727.8 227.0 727.8 220.2 727.8 225.6 728.1 209.6 728.2 221.7 728.2 216.7 728.3 221.0 728.5 204.9 728.5 215.9 728.6 230.8 728.7 205.1 728.8 222.3 728.8 226.2 728.9 209.0 729.0 230.6 729.2 214.4 729.2 219.5 729.2 212.4 729.4 236.5 729.5 213.9 729.5 209.4 729.6 241.7 729.9 227.2 729.9 226.8 729.9 217.4 730.1 242.4 730.2 224.9 730.2 228.0 730.3 224.5 730.5 241.4 730.5 226.8 730.5 228.6 730.8 246.6 730.9 231.5 730.9 237.9 730.9 250.9 731.0 230.6 731.2 242.6 731.2 239.3 731.3 232.2 731.4 248.4 731.6 238.7 731.6 238.6 731.9 232.5 731.9 252.1 731.9 248.2 732.1 251.0 732.2 237.1 732.2 243.2 732.2 244.5 732.3 256.6 732.6 237.8 732.6 240.0 732.6 247.6 732.7 240.4 732.9 255.9 732.9 251.0 732.9 248.8 733.1 244.9 733.2 257.5 733.3 249.7 733.3 252.4 733.4 260.5 733.4 242.1 733.6 251.7 733.6 249.9 733.6 246.9 733.9 265.8 733.9 255.4 733.9 253.7 734.0 247.5 734.2 264.0 734.3 255.6 734.3 258.9 734.4 266.9 734.4 252.0 734.6 263.8 734.6 260.4 734.7 268.8 734.9 249.3 735.0 259.4 735.0 257.1 735.1 252.4 735.2 269.2 735.3 260.8 735.3 260.3 735.4 258.0 735.5 271.4 735.6 264.1 735.6 265.7 735.9 258.8 736.0 275.8 736.0 271.4 736.1 273.9 736.2 261.3 736.3 267.0 736.3 267.0 736.4 261.6 736.5 273.6 736.7 267.8 736.7 267.2 736.7 265.8 737.0 274.4 737.0 276.7 737.1 266.6 737.1 276.9 737.3 269.1 737.3 270.0 737.4 279.2 737.4 268.3 737.7 271.3 737.7 273.8 737.9 282.2 738.0 269.9 738.0 273.0 738.0 272.7 738.2 282.5 738.4 276.6 738.4 275.8 738.5 286.4 738.6 273.4 738.7 275.7 738.7 278.0 738.8 276.5 738.9 283.6 739.0 280.9 739.0 279.2 739.1 278.1 739.3 286.8 739.4 283.2 739.4 281.5 739.5 279.4 739.6 287.3 739.7 284.0 739.7 281.6 740.0 291.1 740.1 287.1 740.1 284.4 740.2 291.6 740.3 282.9 740.4 286.4 740.4 287.3 740.7 283.4 740.7 294.2 740.7 290.3 740.7 291.4 740.8 295.4 741.1 287.8 741.1 287.4 741.4 294.9 741.4 292.6 741.4 292.5 741.5 290.8 741.6 296.7 741.8 294.8 741.8 293.4 741.9 299.8 742.0 293.1 742.1 296.8 742.1 296.0 742.3 299.5 742.4 295.0 742.4 296.7 742.4 295.9 742.4 295.4 742.7 301.1 742.8 299.7 742.8 297.5 743.0 301.9 743.1 299.2 743.1 301.0 743.2 298.9 743.4 302.6 743.5 302.3 743.5 303.2 743.6 300.6 743.8 304.3 743.8 302.0 743.8 302.8 743.8 301.7 744.0 305.3 744.1 303.3 744.1 303.4 744.2 303.2 744.3 305.6 744.5 304.8 744.5 305.0 744.5 307.0 744.6 304.1 744.8 304.7 744.8 305.4 745.0 304.5 745.1 307.8 745.2 306.7 745.2 306.2 745.3 305.8 745.4 308.3 745.5 306.9 745.5 307.0 745.6 309.1 745.6 306.7 745.8 307.0 745.8 306.7 745.9 306.5 746.2 309.5 746.2 309.2 746.3 308.2 746.5 309.8 746.5 309.4 746.5 309.6 746.6 308.2 746.8 310.2 746.9 309.9 746.9 310.7 747.0 309.3 747.1 311.2 747.2 310.0 747.2 310.4 747.4 309.9 747.4 311.6 747.5 310.5 747.5 311.1 747.6 311.9 747.6 310.6 747.9 311.4 747.9 311.2 747.9 310.9 748.1 312.3 748.2 311.5 748.2 311.6 748.2 311.3 748.3 312.4 748.6 312.0 748.6 311.8 748.6 311.8 748.8 312.7 748.9 312.2 748.9 312.3 748.9 312.1 749.2 313.2 749.2 312.7 749.2 312.7 749.3 312.3 749.6 313.6 749.6 313.0 749.6 313.0 749.7 313.0 749.9 313.6 749.9 313.6 749.9 313.5 750.0 312.9 750.1 313.9 750.3 313.5 750.3 313.5 750.3 313.2 750.4 313.8 750.6 313.4 750.6 313.7 750.8 313.5 750.9 314.2 750.9 313.9 750.9 314.0 751.0 313.6 751.1 314.3 751.3 313.9 751.3 313.8 751.3 313.7 751.6 314.4 751.6 314.2 751.6 314.3 751.7 314.0 751.9 314.5 752.0 314.2 752.0 314.4 752.1 314.6 752.1 314.1 752.3 314.4 752.3 314.5 752.3 314.7 752.4 314.4 752.6 314.6 752.6 314.6 752.7 314.4 752.9 315.0 753.0 314.7 753.0 314.7 753.1 314.5 753.3 315.0 753.3 314.9 753.3 314.9 753.3 314.8 753.5 315.0 753.7 315.0 753.7 315.1 753.8 315.2 753.8 314.9 754.0 315.0 754.0 315.0 754.0 314.9 754.2 315.3 754.3 315.1 754.3 315.2 754.4 315.1 754.5 315.3 754.7 315.2 754.7 315.2 754.7 315.2 755.0 315.5 755.0 315.4 755.0 315.3 755.1 315.5 755.2 315.3 755.4 315.4 755.4 315.4 755.4 315.3 755.7 315.5 755.7 315.3 755.7 315.3 756.0 315.6 756.0 315.4 756.0 315.4 756.1 315.5 756.2 315.4 756.4 315.5 756.4 315.5 756.5 315.6 756.6 315.3 756.7 315.5 756.7 315.5 756.8 315.4 756.9 315.6 757.0 315.4" stroke="#cc0000"/><path d="M496.3 316.0 516.3 315.8 528.1 315.7 536.4 315.6 542.8 315.6 548.1 315.6 552.6 315.5 556.4 315.3 559.8 315.2 562.9 315.0 565.7 315.0 568.2 314.9 570.5 314.9 572.6 315.0 574.6 314.9 576.5 314.9 578.2 315.0 579.9 315.1 581.5 315.0 583.0 314.9 584.4 314.7 585.7 314.5 587.0 314.5 588.2 314.6 589.4 314.5 590.5 314.5 591.6 314.7 592.7 314.7 593.7 314.8 594.7 314.9 595.6 315.0 596.6 314.8 597.4 314.7 598.3 314.6 599.1 314.4 600.0 314.4 600.8 314.2 601.5 314.4 602.3 314.4 603.0 314.4 603.7 314.3 604.4 314.2 605.1 314.1 605.8 314.3 606.4 314.2 607.1 314.3 607.7 314.2 608.3 314.2 608.9 314.2 609.5 314.2 610.0 314.1 610.6 314.2 611.2 314.4 611.7 314.5 612.2 314.5 612.7 314.4 613.3 314.2 613.8 313.7 614.3 313.9 614.7 313.8 615.2 313.6 615.7 314.0 616.2 314.2 616.6 313.8 617.1 314.1 617.5 314.0 617.9 314.0 618.4 313.7 618.8 313.8 619.2 313.5 619.6 313.6 620.0 313.4 620.4 313.4 620.8 313.3 621.2 313.4 621.6 313.8 622.0 313.8 622.3 313.8 622.7 313.6 623.1 313.8 623.4 313.9 623.8 314.0 624.1 314.1 624.5 313.9 624.8 313.8 625.2 314.0 625.5 313.8 625.8 313.7 626.1 313.6 626.5 313.8 626.8 313.8 627.1 313.7 627.4 313.4 627.7 313.7 628.0 313.4 628.3 313.4 628.6 313.2 628.9 313.4 629.2 313.7 629.5 313.2 629.8 313.3 630.1 313.3 630.4 313.3 630.7 313.1 630.9 313.5 631.2 313.5 631.5 313.4 631.7 313.4 632.0 313.2 632.3 313.2 632.5 312.9 632.8 313.2 633.1 313.1 633.3 313.0 633.6 313.1 633.8 313.1 634.1 312.9 634.3 313.1 634.6 313.2 634.8 312.8 635.0 313.0 635.3 312.8 635.5 312.8 635.7 312.7 636.0 312.9 636.2 313.0 636.4 312.9 636.7 312.9 636.9 312.8 637.1 312.7 637.3 312.7 637.6 312.8 637.8 312.8 638.0 313.0 638.2 312.8 638.4 312.7 638.6 312.1 638.8 312.5 639.0 312.9 639.3 312.8 639.5 312.6 639.7 312.5 639.9 312.1 640.1 312.3 640.3 312.4 640.5 312.4 640.7 312.7 640.9 312.5 641.1 312.9 641.3 313.1 641.4 313.1 641.6 313.4 641.8 313.4 642.0 313.2 642.2 313.4 642.4 313.1 642.6 312.2 642.8 312.1 642.9 311.9 643.1 312.2 643.3 312.1 643.5 312.1 643.7 311.6 643.8 311.2 644.0 311.0 644.2 310.8 644.4 311.4 644.5 311.9 644.7 312.0 644.9 311.8 645.0 312.1 645.2 311.9 645.4 312.7 645.5 312.5 645.7 312.4 645.9 311.5 646.0 311.2 646.2 311.4 646.4 311.4 646.5 312.3 646.7 311.4 646.8 311.7 647.0 312.0 647.2 311.9 647.3 311.8 647.5 312.0 647.6 311.9 647.8 311.7 647.9 311.7 648.1 311.8 648.2 312.0 648.4 311.3 648.5 311.3 648.7 311.4 648.8 311.4 649.0 311.4 649.1 311.0 649.3 310.8 649.4 310.7 649.6 311.2 649.7 311.6 649.9 311.8 650.0 311.9 650.1 312.0 650.3 312.0 650.4 311.8 650.6 311.5 650.7 311.1 650.9 311.8 651.0 311.4 651.1 311.5 651.3 311.8 651.4 311.6 651.5 311.7 651.7 311.3 651.8 311.4 651.9 310.7 652.1 310.9 652.2 311.3 652.3 311.4 652.5 310.9 652.6 311.7 652.7 311.0 652.9 310.9 653.0 310.4 653.1 310.7 653.2 310.8 653.4 310.6 653.5 310.0 653.6 310.6 653.7 311.2 653.9 311.6 654.0 311.9 654.1 311.6 654.2 311.5 654.4 311.2 654.5 311.6 654.6 311.9 654.7 311.9 654.9 311.7 655.0 311.2 655.1 311.7 655.2 311.2 655.3 310.9 655.4 310.9 655.6 310.5 655.7 310.9 655.8 311.2 655.9 311.2 656.0 310.5 656.1 310.5 656.3 310.9 656.4 311.3 656.5 310.8 656.6 311.5 656.7 311.5 656.8 311.8 656.9 311.1 657.1 310.6 657.2 311.0 657.3 310.4 657.4 309.9 657.5 309.7 657.6 309.9 657.7 310.2 657.8 310.2 657.9 310.6 658.0 311.0 658.2 311.1 658.3 311.0 658.4 310.8 658.5 311.1 658.6 310.6 658.7 310.3 658.8 310.6 658.9 309.8 659.0 310.8 659.1 309.9 659.2 310.2 659.3 309.5 659.4 309.7 659.5 309.3 659.6 310.2 659.7 310.4 659.8 310.9 659.9 310.4 660.0 310.2 660.1 310.2 660.2 310.3 660.3 310.1 660.4 310.9 660.5 311.3 660.6 311.3 660.7 311.4 660.8 311.2 660.9 310.5 661.0 310.3 661.1 310.0 661.2 309.3 661.3 309.6 661.4 309.6 661.5 309.1 661.6 310.0 661.7 310.5 661.8 309.9 661.9 309.5 662.0 309.3 662.1 310.4 662.2 310.7 662.3 310.1 662.4 310.2 662.4 309.9 662.5 310.1 662.6 310.3 662.7 310.4 662.8 310.8 662.9 310.5 663.0 310.4 663.1 310.0 663.2 309.2 663.3 309.9 663.4 311.0 663.4 311.3 663.5 311.3 663.6 310.6 663.7 310.1 663.8 309.8 663.9 310.7 664.0 311.0 664.1 311.2 664.2 311.1 664.2 311.6 664.3 311.4 664.4 310.0 664.5 310.1 664.6 309.4 664.7 310.1 664.8 310.1 664.8 309.7 664.9 309.1 665.0 309.2 665.1 309.2 665.2 309.2 665.3 308.9 665.4 309.3 665.4 309.9 665.5 310.3 665.6 310.9 665.8 311.0 665.9 310.2 666.0 310.2 666.1 310.2 666.2 310.1 666.3 310.3 666.3 309.7 666.4 308.5 666.5 308.5 666.6 308.4 666.7 309.0 666.7 309.5 666.8 309.6 666.9 309.1 667.0 308.6 667.1 308.4 667.3 309.7 667.4 310.0 667.5 309.6 667.5 309.8 667.6 309.3 667.7 309.6 667.8 310.4 667.8 310.5 667.9 310.1 668.0 310.2 668.2 308.5 668.3 310.2 668.4 310.0 668.5 308.8 668.5 308.4 668.6 308.6 668.7 308.8 668.8 308.6 669.0 310.4 669.0 310.0 669.1 310.1 669.2 309.8 669.3 309.2 669.3 309.7 669.5 310.9 669.6 309.4 669.7 310.4 669.8 310.4 669.8 311.0 670.0 310.7 670.1 309.9 670.2 309.2 670.3 309.5 670.4 310.0 670.6 308.6 670.7 309.3 670.8 309.1 670.8 308.9 670.9 308.5 671.0 308.7 671.0 308.5 671.1 308.3 671.3 309.9 671.4 309.9 671.5 310.6 671.7 309.2 671.7 309.3 671.8 308.4 672.1 310.6 672.1 310.4 672.2 310.4 672.4 309.4 672.5 308.6 672.7 309.4 672.7 309.0 672.8 309.0 672.8 308.5 673.0 309.2 673.0 309.0 673.1 309.3 673.2 309.1 673.4 309.6 673.4 309.7 673.6 308.3 673.7 309.1 673.8 309.4 673.9 309.6 674.1 308.7 674.1 308.7 674.2 310.0 674.4 308.8 674.5 307.9 674.6 307.7 674.7 308.7 674.8 308.8 675.0 310.1 675.1 309.6 675.1 308.8 675.3 307.9 675.4 310.1 675.5 309.3 675.6 309.3 675.7 307.5 675.8 308.0 675.9 308.8 676.0 309.4 676.1 308.7 676.1 309.2 676.4 307.7 676.4 308.7 676.5 308.6 676.6 308.6 676.8 310.3 676.8 310.0 676.9 310.7 677.1 309.8 677.2 309.8 677.4 308.4 677.5 308.6 677.7 309.0 677.7 308.1 677.8 308.1 677.9 308.2 678.0 307.9 678.1 308.8 678.2 308.8 678.2 310.4 678.4 307.2 678.5 308.6 678.5 308.8 678.7 308.3 678.8 309.4 678.9 309.0 679.1 307.8 679.1 309.4 679.2 309.3 679.2 309.0 679.3 309.9 679.5 308.4 679.6 308.4 679.7 307.9 679.8 309.1 679.9 308.7 680.0 308.2 680.1 309.8 680.2 309.5 680.2 308.2 680.3 308.8 680.4 307.5 680.5 308.2 680.6 308.2 680.7 308.6 680.8 307.9 680.9 308.1 680.9 308.3 681.0 309.1 681.2 307.5 681.2 307.7 681.3 307.7 681.6 310.2 681.6 309.6 681.9 308.0 681.9 307.6 682.0 307.5 682.2 309.3 682.3 309.0 682.6 306.4 682.6 307.5 682.9 309.4 682.9 308.8 683.0 308.8 683.1 307.3 683.3 308.6 683.3 309.1 683.4 309.2 683.6 308.2 683.6 308.2 683.8 309.0 683.9 308.9 684.0 308.4 684.0 308.7 684.2 307.4 684.3 308.6 684.3 308.8 684.5 310.0 684.6 307.6 684.6 307.5 684.7 306.4 684.9 308.5 685.0 308.8 685.0 309.5 685.2 307.2 685.3 307.7 685.3 307.9 685.5 307.5 685.7 308.8 685.7 308.6 685.8 308.7 686.0 307.4 686.0 307.6 686.1 306.8 686.3 308.4 686.3 307.4 686.4 307.8 686.5 308.8 686.6 308.2 686.7 308.1 686.8 308.5 687.0 307.3 687.0 307.5 687.0 307.5 687.2 308.8 687.4 306.8 687.4 307.6 687.6 308.1 687.7 307.0 687.7 306.8 687.9 308.1 688.0 307.5 688.1 308.0 688.1 307.1 688.3 308.8 688.4 308.8 688.4 309.1 688.5 309.1 688.5 307.3 688.7 307.7 688.7 307.7 689.0 306.9 689.0 307.8 689.1 308.5 689.1 309.1 689.3 305.8 689.4 308.5 689.4 308.8 689.5 309.1 689.7 306.4 689.7 307.3 689.8 307.3 689.8 307.9 690.0 306.6 690.0 307.3 690.1 307.2 690.2 309.6 690.3 306.7 690.4 307.1 690.4 307.8 690.5 305.6 690.8 309.2 690.8 307.7 690.8 308.1 691.1 306.4 691.1 305.9 691.2 309.3 691.4 307.6 691.4 306.8 691.6 309.5 691.7 308.4 691.8 307.6 691.9 306.1 692.0 308.1 692.1 307.6 692.1 307.6 692.2 308.1 692.4 306.0 692.4 306.0 692.5 306.5 692.7 306.3 692.7 308.4 692.8 308.3 692.8 307.8 692.9 308.3 693.0 306.6 693.1 307.7 693.2 307.2 693.4 306.1 693.4 308.0 693.4 306.9 693.5 307.2 693.5 308.3 693.6 306.1 693.8 307.4 693.8 306.8 693.9 306.4 694.0 307.8 694.1 307.0 694.2 306.6 694.2 305.6 694.3 308.5 694.5 306.1 694.5 305.8 694.5 306.4 694.8 305.1 694.8 306.0 694.8 306.3 695.1 308.0 695.2 307.9 695.2 306.5 695.2 307.4 695.4 305.7 695.5 305.9 695.5 306.3 695.7 305.8 695.8 308.0 695.9 307.6 695.9 308.4 695.9 309.0 696.2 305.7 696.2 306.9 696.4 307.4 696.5 306.0 696.5 306.1 696.5 306.2 696.6 305.9 696.7 307.7 696.9 307.0 696.9 307.1 696.9 307.6 697.1 304.9 697.2 306.0 697.2 305.1 697.3 304.7 697.4 306.1 697.6 305.4 697.6 307.1 697.6 308.8 697.8 306.2 697.9 307.1 697.9 306.9 698.1 304.8 698.2 308.0 698.2 306.7 698.3 306.5 698.3 304.9 698.4 307.6 698.6 305.8 698.6 305.5 698.7 304.9 698.7 307.4 698.9 306.8 698.9 305.9 699.0 305.1 699.2 307.9 699.2 306.4 699.3 306.0 699.5 306.5 699.6 305.5 699.6 306.3 699.7 307.9 699.9 304.6 699.9 305.5 700.0 305.4 700.1 304.6 700.2 307.0 700.3 306.3 700.3 306.5 700.4 307.7 700.6 305.8 700.6 306.1 700.6 306.0 700.8 304.4 700.9 308.0 701.0 306.3 701.0 306.7 701.0 305.7 701.2 307.3 701.3 305.8 701.3 305.5 701.4 305.1 701.4 306.8 701.6 306.4 701.7 304.7 701.9 303.7 701.9 306.7 702.0 305.4 702.0 304.6 702.2 307.1 702.3 306.5 702.3 308.1 702.6 305.1 702.6 305.8 702.7 306.0 702.8 307.0 702.9 304.1 703.0 306.1 703.0 306.0 703.1 305.7 703.2 308.9 703.3 306.8 703.4 306.8 703.5 304.3 703.7 305.4 703.7 306.7 703.8 307.2 703.9 304.1 704.0 306.5 704.0 306.9 704.0 307.1 704.3 304.4 704.4 304.9 704.4 304.9 704.6 307.0 704.7 304.3 704.7 305.9 704.7 305.6 704.8 305.4 704.9 306.9 705.0 305.4 705.0 305.8 705.1 302.6 705.2 306.8 705.4 304.9 705.4 305.5 705.5 306.8 705.7 303.1 705.7 304.2 705.7 304.2 706.0 302.7 706.0 305.1 706.1 305.9 706.2 303.2 706.4 306.5 706.4 306.2 706.4 305.3 706.6 307.8 706.7 303.1 706.7 304.8 706.8 303.9 707.0 303.4 707.1 306.5 707.1 305.9 707.1 306.5 707.2 303.7 707.4 304.9 707.4 303.7 707.6 307.8 707.7 303.7 707.8 304.6 707.8 303.3 707.9 306.2 708.1 305.8 708.1 306.3 708.1 306.9 708.4 303.9 708.4 305.9 708.5 306.1 708.5 306.2 708.6 303.0 708.8 304.7 708.8 304.4 708.9 307.0 709.1 302.7 709.1 304.4 709.2 305.3 709.4 302.9 709.5 304.0 709.5 304.2 709.5 306.4 709.7 302.1 709.8 305.4 709.8 305.2 710.0 302.2 710.1 304.6 710.1 304.2 710.2 301.3 710.4 305.1 710.5 302.9 710.5 303.8 710.5 306.4 710.7 300.1 710.8 301.8 710.8 303.3 710.9 304.7 711.2 302.3 711.2 301.9 711.3 304.9 711.5 302.3 711.5 303.5 711.7 301.2 711.8 305.6 711.8 302.8 711.9 302.8 711.9 301.1 712.2 303.7 712.2 303.5 712.4 305.6 712.5 301.4 712.5 302.8 712.5 303.6 712.7 301.0 712.8 306.4 712.9 305.3 712.9 306.6 713.0 300.0 713.2 301.9 713.2 302.6 713.2 301.2 713.5 305.3 713.6 304.8 713.6 301.9 713.8 305.1 713.9 304.0 713.9 305.3 714.0 298.0 714.2 301.5 714.2 300.3 714.4 304.1 714.5 299.1 714.5 299.9 714.6 300.7 714.6 305.4 714.9 302.3 714.9 302.9 714.9 304.6 715.2 298.8 715.2 299.3 715.2 298.8 715.5 304.4 715.6 303.3 715.6 301.1 715.6 304.7 715.7 298.8 715.9 303.1 715.9 303.6 716.0 299.4 716.2 303.9 716.3 303.7 716.3 303.9 716.4 305.4 716.6 299.6 716.6 300.0 716.7 305.0 716.8 299.8 716.9 301.7 716.9 300.9 717.0 304.2 717.1 299.3 717.3 301.4 717.3 300.3 717.3 299.3 717.4 304.9 717.6 302.1 717.6 300.8 717.7 298.9 717.7 302.6 718.0 300.6 718.0 300.4 718.1 303.6 718.2 297.7 718.3 301.0 718.3 300.6 718.4 297.7 718.5 304.2 718.6 300.4 718.6 300.3 718.7 298.5 718.9 305.1 719.0 303.5 719.0 300.0 719.1 302.6 719.1 297.7 719.3 301.5 719.3 298.3 719.4 302.6 719.5 297.7 719.6 299.8 719.7 299.6 719.7 298.5 719.8 303.8 720.0 300.6 720.0 300.7 720.2 298.6 720.3 304.9 720.3 302.5 720.3 302.9 720.5 298.2 720.6 303.6 720.7 301.4 720.7 301.8 720.7 297.7 720.8 302.8 721.0 299.5 721.0 300.2 721.2 297.7 721.4 302.9 721.4 302.5 721.5 297.7 721.7 304.5 721.7 302.8 721.7 302.2 721.7 298.9 721.8 303.8 722.0 299.9 722.0 299.8 722.2 299.8 722.3 303.5 722.4 301.1 722.4 300.8 722.5 299.6 722.6 304.8 722.7 303.7 722.7 302.2 722.9 298.7 723.0 300.3 723.1 298.9 723.2 297.2 723.4 304.9 723.4 304.4 723.6 299.6 723.7 302.4 723.7 303.9 723.9 304.3 724.1 299.6 724.1 299.6 724.1 304.9 724.3 297.8 724.4 298.4 724.4 298.7 724.6 298.5 724.7 304.6 724.8 302.2 724.8 300.8 724.9 298.3 725.0 304.2 725.1 301.5 725.1 301.8 725.2 298.7 725.2 305.2 725.4 300.6 725.4 300.9 725.6 299.8 725.8 304.6 725.8 303.2 726.0 305.0 726.1 299.2 726.1 298.9 726.3 298.5 726.5 305.0 726.5 304.4 726.5 304.9 726.6 300.6 726.8 301.9 726.8 301.3 726.9 300.5 727.1 305.7 727.1 305.3 727.1 304.8 727.3 298.9 727.5 300.9 727.5 301.4 727.7 300.3 727.7 305.8 727.8 302.8 727.8 301.4 727.8 301.2 728.0 305.4 728.2 302.0 728.2 301.7 728.2 299.7 728.5 304.7 728.5 301.9 728.5 300.0 728.5 299.4 728.6 306.0 728.8 303.0 728.8 303.8 728.9 304.4 728.9 298.7 729.2 302.4 729.2 302.7 729.4 299.4 729.5 305.0 729.5 302.9 729.5 301.7 729.6 300.1 729.9 306.0 729.9 305.2 729.9 305.7 730.0 300.2 730.2 303.2 730.2 301.7 730.4 300.8 730.5 305.6 730.5 303.3 730.5 303.2 730.6 299.3 730.8 307.1 730.9 302.5 730.9 302.7 730.9 306.3 731.1 302.1 731.2 304.0 731.2 304.3 731.3 301.3 731.5 306.3 731.6 302.2 731.6 303.2 731.7 307.0 731.8 301.2 731.9 304.1 731.9 305.1 731.9 303.0 732.1 308.3 732.2 304.5 732.2 304.3 732.3 307.6 732.3 302.1 732.6 305.7 732.6 306.2 732.7 301.0 732.9 305.9 732.9 305.6 733.0 301.0 733.1 307.6 733.3 304.3 733.3 303.0 733.3 302.6 733.3 307.8 733.6 305.3 733.6 304.7 733.7 307.1 733.8 302.2 733.9 304.8 733.9 304.2 734.2 302.2 734.3 307.1 734.3 304.1 734.3 305.1 734.3 302.8 734.4 307.9 734.6 302.9 734.6 302.7 734.9 308.0 735.0 303.4 735.0 303.5 735.0 302.6 735.3 307.2 735.3 307.5 735.4 302.6 735.6 307.8 735.6 305.0 735.6 306.7 735.7 303.9 735.9 306.9 736.0 304.3 736.0 303.5 736.0 303.4 736.2 308.2 736.3 304.9 736.3 304.2 736.4 303.6 736.6 307.6 736.7 306.2 736.7 305.7 736.7 304.2 736.9 307.9 737.0 306.5 737.0 306.6 737.0 307.7 737.1 304.4 737.3 304.8 737.3 306.7 737.6 304.5 737.6 307.8 737.7 305.3 737.7 306.6 737.9 309.1 738.0 304.3 738.0 308.4 738.0 307.1 738.1 304.4 738.3 308.8 738.4 306.4 738.4 306.7 738.5 305.3 738.7 308.5 738.7 306.7 738.7 307.5 738.8 305.4 739.0 308.7 739.0 306.2 739.0 306.8 739.3 309.3 739.4 305.5 739.4 306.0 739.4 306.4 739.6 306.1 739.7 309.5 739.7 309.3 739.8 306.6 740.0 309.6 740.1 308.0 740.1 308.3 740.1 306.9 740.3 310.4 740.4 308.1 740.4 308.6 740.6 307.1 740.7 310.0 740.7 308.7 740.7 307.6 741.0 310.4 741.0 306.9 741.1 308.2 741.1 309.3 741.2 310.5 741.4 307.2 741.4 308.5 741.4 309.1 741.5 307.6 741.7 311.2 741.8 309.0 741.8 308.0 742.0 311.2 742.1 308.9 742.1 308.6 742.1 308.1 742.2 311.0 742.4 309.7 742.4 310.6 742.5 311.2 742.6 307.9 742.8 309.2 742.8 308.3 743.0 311.4 743.1 310.5 743.1 309.6 743.2 308.9 743.3 311.0 743.5 310.2 743.5 310.5 743.7 308.6 743.7 311.7 743.8 310.0 743.8 310.1 743.8 309.4 743.8 311.4 744.1 310.5 744.1 310.4 744.2 309.3 744.4 311.6 744.5 310.5 744.5 310.3 744.6 309.3 744.8 312.3 744.8 310.6 744.8 311.3 744.9 309.3 745.0 311.6 745.2 310.4 745.2 310.8 745.3 312.4 745.3 310.2 745.5 311.9 745.5 311.6 745.5 312.2 745.6 310.2 745.8 311.7 745.8 311.7 746.0 310.4 746.1 312.7 746.2 311.2 746.2 311.8 746.2 310.5 746.3 313.0 746.5 312.1 746.5 312.7 746.6 311.0 746.7 312.9 746.9 312.3 746.9 312.3 746.9 310.9 746.9 312.6 747.2 312.3 747.2 312.5 747.4 312.6 747.5 310.7 747.5 311.5 747.5 311.3 747.7 313.1 747.8 310.9 747.9 312.5 747.9 312.3 748.0 311.4 748.0 313.2 748.2 312.6 748.2 312.7 748.4 313.1 748.5 311.9 748.6 312.2 748.6 312.1 748.7 311.5 748.8 313.8 748.9 312.6 748.9 312.4 748.9 312.0 749.1 313.6 749.2 312.5 749.2 312.8 749.4 313.4 749.5 312.1 749.6 312.9 749.6 312.8 749.7 312.3 749.8 313.8 749.9 312.8 749.9 313.0 749.9 312.5 750.2 313.6 750.3 313.1 750.3 313.1 750.3 312.5 750.6 314.0 750.6 313.0 750.6 312.8 750.6 312.4 750.8 313.9 750.9 313.7 750.9 313.7 751.0 312.9 751.0 314.4 751.3 313.4 751.3 313.4 751.5 313.1 751.6 314.0 751.6 313.6 751.6 313.7 751.7 313.2 751.8 314.2 752.0 314.1 752.0 314.1 752.0 313.3 752.2 314.3 752.3 313.8 752.3 313.9 752.4 314.3 752.4 313.4 752.6 313.9 752.6 314.1 752.7 313.6 752.7 314.6 753.0 314.0 753.0 313.9 753.0 314.6 753.0 313.6 753.3 314.6 753.3 314.6 753.6 314.7 753.6 314.0 753.7 314.5 753.7 314.5 753.7 314.0 753.8 314.7 754.0 314.5 754.0 314.5 754.2 314.9 754.3 314.0 754.3 314.3 754.3 314.4 754.6 314.9 754.7 314.5 754.7 314.5 754.7 314.4 754.7 315.1 755.0 314.8 755.0 314.7 755.2 314.4 755.2 315.1 755.4 314.8 755.4 314.8 755.5 314.6 755.7 315.3 755.7 314.9 755.7 315.0 755.9 314.7 755.9 315.3 756.0 315.2 756.0 315.2 756.1 314.8 756.3 315.4 756.4 315.2 756.4 315.2 756.5 314.9 756.5 315.5 756.7 315.2 756.7 315.3 756.8 315.1 757.0 315.5 757.0 315.3" stroke="#9940ff"/><path d="M496.3 316.0 516.3 315.9 528.1 315.8 536.4 315.8 542.8 315.6 548.1 315.5 552.6 315.4 556.4 315.4 559.8 315.5 562.9 315.4 565.7 315.4 568.2 315.4 570.5 315.4 572.6 315.3 574.6 315.3 576.5 315.2 578.2 315.1 579.9 315.0 581.5 315.0 583.0 314.9 584.4 315.0 585.7 314.9 587.0 315.2 588.2 315.1 589.4 315.1 590.5 315.0 591.6 315.0 592.7 315.1 593.7 315.0 594.7 315.0 595.6 314.9 596.6 315.1 597.4 315.0 598.3 315.0 599.1 314.8 600.0 314.7 600.8 314.8 601.5 314.8 602.3 314.7 603.0 314.7 603.7 314.7 604.4 314.6 605.1 314.5 605.8 314.6 606.4 314.7 607.1 314.5 607.7 314.6 608.3 314.5 608.9 314.3 609.5 314.4 610.0 314.4 610.6 314.3 611.2 314.4 611.7 314.4 612.2 314.4 612.7 314.4 613.3 314.2 613.8 313.9 614.3 313.9 614.7 314.1 615.2 314.0 615.7 314.1 616.2 314.1 616.6 314.1 617.1 314.3 617.5 314.2 617.9 314.2 618.4 314.2 618.8 314.3 619.2 314.2 619.6 314.4 620.0 314.1 620.4 314.2 620.8 314.1 621.2 314.3 621.6 314.2 622.0 314.3 622.3 314.2 622.7 314.3 623.1 314.1 623.4 314.2 623.8 314.1 624.1 313.9 624.5 314.1 624.8 313.6 625.2 313.8 625.5 313.9 625.8 314.1 626.1 314.0 626.5 314.1 626.8 314.0 627.1 314.1 627.4 314.3 627.7 314.1 628.0 314.0 628.3 313.7 628.6 313.9 628.9 313.7 629.2 313.9 629.5 313.9 629.8 313.7 630.1 313.5 630.4 313.8 630.7 313.5 630.9 313.4 631.2 313.4 631.5 313.4 631.7 313.3 632.0 313.3 632.3 313.3 632.5 313.4 632.8 313.8 633.1 314.2 633.3 314.2 633.6 313.9 633.8 313.9 634.1 313.9 634.3 314.0 634.6 313.7 634.8 313.8 635.0 313.6 635.3 313.6 635.5 313.7 635.7 313.6 636.0 313.6 636.2 313.3 636.4 313.3 636.7 313.3 636.9 313.6 637.1 313.3 637.3 313.0 637.6 313.5 637.8 313.2 638.0 313.2 638.2 313.1 638.4 313.2 638.6 313.1 638.8 313.1 639.0 313.2 639.3 313.2 639.5 313.2 639.7 312.9 639.9 313.1 640.1 312.6 640.3 313.2 640.5 313.5 640.7 313.4 640.9 313.6 641.1 313.0 641.3 313.2 641.4 313.1 641.6 313.5 641.8 313.7 642.0 313.4 642.2 313.5 642.4 313.1 642.6 313.1 642.8 312.9 642.9 313.0 643.1 313.0 643.3 313.5 643.5 313.2 643.7 313.0 643.8 313.3 644.0 313.2 644.2 313.3 644.4 313.0 644.5 313.0 644.7 313.2 644.9 312.6 645.0 312.8 645.2 313.0 645.4 312.9 645.5 312.9 645.7 312.4 645.9 312.7 646.0 312.6 646.2 312.7 646.4 312.8 646.5 313.0 646.7 312.6 646.8 312.5 647.0 312.2 647.2 312.3 647.3 312.0 647.5 311.9 647.6 311.9 647.8 312.1 647.9 312.4 648.1 312.6 648.2 312.3 648.4 312.6 648.5 312.4 648.7 312.1 648.8 312.5 649.0 312.8 649.1 312.8 649.3 312.6 649.4 312.4 649.6 312.4 649.7 312.5 649.9 312.5 650.0 312.7 650.1 312.7 650.3 312.8 650.4 312.6 650.6 312.9 650.7 312.3 650.9 312.3 651.0 311.7 651.1 312.2 651.3 311.9 651.4 312.1 651.5 312.3 651.7 312.0 651.8 312.3 651.9 311.9 652.1 311.7 652.2 311.9 652.3 312.5 652.5 312.4 652.6 312.1 652.7 311.9 652.9 312.1 653.0 312.4 653.1 312.4 653.2 312.7 653.4 312.8 653.5 313.0 653.6 312.9 653.7 312.5 653.9 312.3 654.0 312.4 654.1 312.7 654.2 312.4 654.4 312.4 654.5 312.4 654.6 312.5 654.7 312.3 654.9 312.4 655.0 312.2 655.1 313.1 655.2 312.7 655.3 312.6 655.4 312.2 655.6 312.1 655.7 312.3 655.8 312.4 655.9 312.3 656.0 312.6 656.1 312.2 656.3 312.0 656.4 311.9 656.5 311.8 656.6 311.7 656.7 311.3 656.8 311.7 656.9 312.0 657.1 312.2 657.2 311.7 657.3 312.0 657.4 311.7 657.5 312.0 657.6 312.3 657.7 312.5 657.8 312.8 657.9 312.2 658.0 312.1 658.2 311.8 658.3 311.9 658.4 311.8 658.5 312.0 658.6 312.2 658.7 312.2 658.8 312.2 658.9 311.7 659.0 311.6 659.1 311.5 659.2 310.8 659.3 311.1 659.4 311.7 659.5 311.6 659.6 311.9 659.7 311.9 659.8 312.1 659.9 311.7 660.0 311.6 660.1 311.8 660.2 311.9 660.3 311.8 660.4 311.3 660.5 311.2 660.6 311.2 660.7 311.0 660.8 310.9 660.9 310.9 661.0 311.1 661.1 310.9 661.2 311.1 661.3 311.2 661.4 311.7 661.5 311.9 661.6 311.8 661.7 311.5 661.8 311.0 661.9 311.2 662.0 311.2 662.1 311.8 662.2 312.4 662.3 312.5 662.4 312.6 662.4 311.8 662.5 311.6 662.6 311.1 662.7 310.7 662.8 310.7 662.9 311.3 663.0 311.2 663.1 311.1 663.2 311.0 663.3 311.7 663.4 311.1 663.4 311.3 663.5 310.7 663.6 310.9 663.7 311.4 663.8 311.5 663.9 311.1 664.0 311.6 664.1 310.9 664.2 310.8 664.2 311.4 664.3 311.4 664.4 311.9 664.5 311.5 664.6 311.7 664.7 312.0 664.8 311.9 664.8 311.5 664.9 310.9 665.0 311.4 665.1 311.0 665.2 311.2 665.3 311.1 665.4 311.3 665.4 310.9 665.5 310.8 665.6 310.9 665.7 310.6 665.9 311.3 666.0 311.2 666.1 311.7 666.2 311.7 666.3 311.9 666.3 312.1 666.4 311.6 666.5 311.6 666.6 311.1 666.7 311.3 666.7 311.1 666.8 311.4 666.9 310.9 667.0 310.7 667.1 310.3 667.3 311.3 667.4 311.7 667.5 311.6 667.5 311.2 667.6 310.3 667.7 310.3 667.8 310.9 667.8 310.4 667.9 311.1 668.0 311.4 668.2 310.6 668.3 310.7 668.4 310.7 668.5 311.0 668.5 311.2 668.6 311.0 668.7 310.7 668.9 310.6 669.0 310.8 669.0 310.9 669.1 310.9 669.2 311.3 669.3 310.7 669.3 310.6 669.6 311.7 669.6 311.4 669.7 310.9 669.8 310.7 669.9 311.3 670.0 310.7 670.1 311.3 670.1 311.6 670.3 310.1 670.3 310.6 670.4 310.9 670.6 311.4 670.6 310.5 670.7 310.8 670.8 311.1 670.8 311.4 670.9 311.3 671.0 311.6 671.0 311.2 671.3 310.6 671.4 310.9 671.6 311.0 671.7 310.4 671.7 310.1 671.9 311.1 672.1 310.9 672.1 311.5 672.4 310.4 672.5 310.3 672.6 311.5 672.7 310.6 672.8 310.9 672.8 311.3 673.0 311.3 673.1 311.2 673.3 310.8 673.4 311.9 673.4 311.6 673.7 309.9 673.7 310.1 673.8 310.7 673.9 310.7 673.9 311.5 674.1 310.9 674.1 311.1 674.2 311.7 674.4 310.6 674.5 309.8 674.7 310.8 674.8 311.2 674.8 311.4 675.1 309.5 675.1 309.5 675.4 310.9 675.5 310.6 675.8 311.6 675.9 311.0 676.0 310.7 676.1 311.0 676.1 311.5 676.4 310.6 676.4 311.1 676.5 310.7 676.5 311.2 676.7 310.7 676.8 310.8 676.8 310.1 676.9 311.1 677.1 310.3 677.2 311.1 677.2 312.1 677.4 311.5 677.5 311.4 677.6 311.8 677.8 310.6 677.8 310.8 677.9 309.7 678.2 310.5 678.2 311.0 678.4 311.6 678.5 310.4 678.5 310.1 678.8 309.6 678.8 310.6 678.9 311.4 679.0 311.4 679.2 310.5 679.2 309.9 679.3 309.8 679.4 310.8 679.5 310.5 679.6 311.1 679.8 310.1 679.9 310.0 680.0 311.0 680.2 310.5 680.2 310.8 680.5 309.6 680.5 310.2 680.6 310.4 680.6 310.9 680.8 308.6 680.9 309.7 680.9 309.4 681.1 308.9 681.2 309.7 681.3 309.9 681.4 310.2 681.6 309.3 681.6 309.8 681.7 309.7 681.8 310.9 681.9 310.3 681.9 310.4 682.0 309.9 682.2 311.1 682.3 310.4 682.4 310.6 682.6 309.7 682.6 309.9 682.7 309.5 682.8 310.2 682.9 309.7 683.0 310.0 683.1 311.4 683.3 310.6 683.3 310.7 683.4 310.3 683.5 311.0 683.6 310.5 683.6 310.4 683.7 309.1 683.9 311.1 684.0 310.6 684.2 310.0 684.3 311.1 684.3 310.4 684.5 310.1 684.6 311.2 684.6 311.0 684.9 309.8 684.9 310.3 685.0 310.2 685.2 310.5 685.3 309.8 685.3 309.2 685.4 309.1 685.6 310.0 685.7 309.9 685.7 309.6 685.8 310.1 685.9 308.9 686.0 309.3 686.0 309.6 686.2 311.5 686.3 311.0 686.4 311.1 686.6 311.5 686.6 310.3 686.7 310.5 687.0 308.5 687.0 309.7 687.2 309.0 687.3 311.1 687.4 311.1 687.4 310.8 687.4 311.1 687.7 309.2 687.7 310.4 687.8 309.2 687.9 310.4 688.0 310.2 688.1 309.9 688.2 310.4 688.4 308.9 688.4 309.9 688.7 308.7 688.7 309.3 688.9 309.0 689.0 310.2 689.0 309.8 689.1 309.7 689.2 308.9 689.4 310.9 689.4 310.1 689.6 310.4 689.7 309.0 689.7 309.2 689.8 310.0 690.0 309.2 690.0 309.9 690.1 309.9 690.1 310.8 690.3 308.8 690.4 309.8 690.4 309.9 690.6 311.5 690.7 308.7 690.8 309.0 690.8 309.3 690.9 308.6 691.1 310.1 691.1 309.9 691.3 310.9 691.3 309.0 691.4 310.3 691.4 310.3 691.5 308.6 691.7 310.3 691.7 310.3 691.8 310.2 691.8 308.9 692.0 310.7 692.1 309.9 692.1 309.5 692.4 310.2 692.4 310.0 692.5 310.2 692.8 307.8 692.8 309.3 692.9 309.6 693.1 307.9 693.1 309.4 693.2 309.1 693.3 311.4 693.4 308.4 693.5 307.8 693.5 307.7 693.6 310.0 693.8 308.8 693.8 309.6 693.9 311.9 694.0 309.3 694.1 309.5 694.2 308.7 694.2 308.5 694.3 309.8 694.5 308.9 694.5 308.6 694.8 310.1 694.8 308.9 694.8 309.5 694.9 309.8 695.1 308.2 695.2 309.2 695.2 309.5 695.3 310.4 695.5 308.7 695.5 309.2 695.6 310.1 695.7 308.3 695.9 308.6 695.9 308.9 695.9 308.1 696.0 309.4 696.2 308.1 696.2 308.8 696.2 307.9 696.3 309.3 696.5 308.3 696.5 308.7 696.7 307.7 696.9 309.3 696.9 309.0 697.0 310.6 697.1 308.8 697.2 309.5 697.2 309.0 697.3 308.3 697.5 310.2 697.6 309.5 697.6 309.7 697.8 307.8 697.9 308.6 697.9 308.2 698.2 307.3 698.2 310.2 698.3 309.4 698.3 310.0 698.5 307.3 698.6 307.6 698.6 308.0 698.6 307.5 698.8 310.5 698.9 309.4 698.9 309.7 699.2 307.7 699.2 308.9 699.3 308.7 699.5 308.0 699.5 310.3 699.6 308.1 699.6 307.6 699.7 307.2 699.7 309.3 699.9 308.2 700.0 308.4 700.0 307.5 700.2 308.7 700.3 308.4 700.3 307.9 700.3 307.7 700.4 310.1 700.6 309.9 700.6 310.1 700.7 308.1 701.0 308.4 701.0 308.0 701.1 307.2 701.2 309.2 701.3 309.0 701.3 308.8 701.4 307.3 701.6 309.3 701.6 308.9 701.7 308.1 701.8 308.8 701.9 307.3 702.0 308.4 702.0 308.9 702.0 309.4 702.2 306.6 702.3 308.6 702.3 308.6 702.5 309.7 702.6 307.1 702.6 308.0 702.7 307.9 702.9 309.4 702.9 307.7 703.0 308.3 703.0 307.8 703.2 309.7 703.3 308.6 703.4 308.7 703.5 307.1 703.7 307.5 703.7 308.0 703.8 309.6 704.0 306.5 704.0 307.5 704.2 306.0 704.3 308.8 704.4 307.6 704.4 308.4 704.5 309.1 704.7 307.8 704.7 309.0 705.0 307.6 705.0 306.7 705.1 306.4 705.1 309.2 705.4 307.2 705.4 307.4 705.4 308.2 705.6 306.5 705.7 307.6 705.7 305.9 705.8 305.1 705.9 308.4 706.0 307.2 706.1 307.7 706.2 308.1 706.3 306.4 706.4 307.4 706.4 306.9 706.5 305.6 706.7 308.2 706.7 307.5 706.8 308.6 707.0 306.3 707.1 307.4 707.1 307.6 707.4 305.4 707.4 308.1 707.4 307.5 707.4 306.9 707.5 304.3 707.7 308.3 707.8 308.0 707.9 305.6 708.0 309.0 708.1 307.0 708.1 306.9 708.1 308.5 708.3 305.1 708.4 307.2 708.5 306.9 708.6 308.5 708.7 304.1 708.8 304.9 708.8 305.6 708.9 307.3 709.1 304.9 709.1 305.6 709.2 308.5 709.4 303.8 709.5 306.2 709.5 306.7 709.5 307.4 709.7 304.5 709.8 306.8 709.8 306.4 710.0 304.7 710.1 308.0 710.1 307.2 710.1 308.6 710.4 304.8 710.5 306.8 710.5 307.3 710.6 305.1 710.7 308.0 710.8 306.8 710.8 307.1 711.0 303.6 711.2 305.6 711.2 306.3 711.3 306.9 711.5 304.2 711.5 304.8 711.5 305.1 711.7 303.8 711.8 308.3 711.8 306.9 711.9 306.1 712.1 302.6 712.1 307.5 712.2 305.4 712.2 306.2 712.3 307.0 712.4 303.0 712.5 305.5 712.5 305.9 712.6 308.0 712.7 303.4 712.8 306.6 712.9 306.3 712.9 304.4 713.0 308.1 713.2 305.9 713.2 306.3 713.2 307.1 713.3 303.4 713.5 304.8 713.6 305.4 713.6 307.3 713.9 303.3 713.9 302.8 713.9 306.1 714.2 305.5 714.2 304.9 714.3 302.5 714.3 306.5 714.5 305.9 714.6 305.8 714.6 307.2 714.7 303.4 714.9 304.2 714.9 303.1 715.0 306.2 715.2 304.9 715.2 305.5 715.4 302.3 715.5 306.1 715.6 305.4 715.6 304.9 715.6 302.5 715.8 306.3 715.9 302.8 715.9 301.2 716.2 304.4 716.3 304.3 716.3 304.6 716.4 302.7 716.5 305.0 716.6 303.2 716.6 302.7 716.8 306.3 716.9 301.5 716.9 304.3 716.9 304.4 717.0 306.3 717.1 301.6 717.3 303.5 717.3 303.0 717.5 306.8 717.6 300.9 717.6 301.4 717.6 301.4 717.8 304.5 718.0 302.2 718.0 304.1 718.1 301.8 718.1 306.6 718.3 303.6 718.3 304.3 718.5 305.5 718.6 302.3 718.6 302.9 718.9 304.4 718.9 300.8 719.0 301.8 719.0 301.0 719.0 305.5 719.3 302.8 719.3 302.3 719.4 302.0 719.6 305.7 719.6 304.9 719.7 304.4 719.7 303.0 719.9 305.8 720.0 304.5 720.0 303.8 720.0 305.8 720.1 302.7 720.3 304.1 720.3 303.8 720.4 307.1 720.6 301.6 720.7 305.4 720.7 306.5 721.0 301.5 721.0 304.4 721.0 303.9 721.2 305.8 721.3 300.5 721.4 304.7 721.4 305.6 721.5 300.6 721.7 303.6 721.7 302.8 721.8 301.8 722.0 305.3 722.0 303.5 722.0 302.3 722.1 302.2 722.3 305.1 722.4 303.3 722.4 303.7 722.4 300.7 722.6 306.7 722.7 303.2 722.7 303.6 722.9 300.9 723.0 305.1 723.0 302.2 723.1 303.3 723.1 300.9 723.2 305.7 723.4 304.2 723.4 303.6 723.5 301.6 723.6 306.0 723.7 304.6 723.7 306.5 723.9 302.8 724.1 304.0 724.1 304.5 724.2 301.7 724.4 306.7 724.4 305.2 724.4 305.5 724.5 302.2 724.8 302.6 724.8 304.7 724.8 302.2 725.1 306.5 725.1 305.3 725.1 305.2 725.1 306.1 725.2 300.6 725.4 305.3 725.4 305.6 725.5 302.7 725.6 307.1 725.8 304.3 725.8 304.7 725.8 305.3 725.9 302.5 726.1 304.0 726.1 303.0 726.2 302.9 726.3 306.1 726.5 303.4 726.5 303.5 726.6 302.0 726.7 306.5 726.8 303.7 726.8 302.6 727.0 307.7 727.1 302.4 727.1 302.8 727.1 302.1 727.3 306.6 727.5 304.4 727.5 304.5 727.7 307.7 727.8 302.3 727.8 303.8 727.8 303.8 728.0 302.0 728.1 306.2 728.2 303.4 728.2 303.6 728.3 307.5 728.5 303.4 728.5 304.3 728.5 302.7 728.6 307.9 728.8 305.2 728.8 305.5 728.9 307.4 729.0 304.2 729.2 305.6 729.2 305.1 729.4 307.9 729.5 303.1 729.5 303.4 729.6 303.2 729.8 308.9 729.9 306.4 729.9 305.3 730.0 309.7 730.0 303.8 730.2 305.9 730.2 305.6 730.4 307.3 730.5 304.3 730.5 305.0 730.6 304.1 730.7 307.4 730.9 305.4 730.9 305.3 730.9 303.2 731.1 306.9 731.2 305.8 731.2 305.8 731.4 304.1 731.5 307.5 731.6 306.1 731.6 306.2 731.6 304.1 731.8 308.0 731.9 305.9 731.9 305.1 731.9 304.2 732.2 308.3 732.2 307.6 732.2 306.8 732.3 305.7 732.4 308.9 732.6 307.9 732.6 308.6 732.6 308.8 732.9 304.7 732.9 306.0 732.9 306.2 732.9 304.6 733.1 309.0 733.3 305.6 733.3 305.6 733.4 309.8 733.5 304.6 733.6 307.5 733.6 307.7 733.8 308.2 733.9 305.7 733.9 308.2 733.9 306.6 734.0 309.0 734.1 304.3 734.3 307.0 734.3 307.5 734.4 305.2 734.6 308.2 734.6 306.7 734.6 307.2 734.7 309.5 734.9 305.8 735.0 306.8 735.0 307.8 735.0 308.8 735.1 306.3 735.3 307.3 735.3 306.3 735.4 308.8 735.4 305.8 735.6 307.2 735.6 308.2 735.8 309.0 735.9 305.5 736.0 308.9 736.0 308.9 736.0 309.1 736.1 305.4 736.3 307.3 736.3 307.7 736.5 309.4 736.6 306.4 736.7 309.0 736.7 308.6 736.8 307.0 736.9 309.3 737.0 308.1 737.0 308.4 737.2 309.7 737.3 307.2 737.3 307.9 737.3 308.5 737.5 306.8 737.5 309.8 737.7 309.1 737.7 309.7 737.8 311.1 737.9 307.5 738.0 309.5 738.0 309.5 738.0 307.4 738.2 310.6 738.4 309.3 738.4 308.6 738.4 310.7 738.5 307.9 738.7 309.3 738.7 309.6 738.7 310.9 738.8 308.6 739.0 309.6 739.0 310.2 739.2 310.6 739.3 308.3 739.4 309.5 739.4 309.9 739.4 310.8 739.5 307.7 739.7 309.7 739.7 309.1 739.9 308.4 739.9 310.6 740.1 309.8 740.1 310.0 740.3 309.0 740.3 311.4 740.4 309.9 740.4 310.1 740.6 308.5 740.6 311.3 740.7 310.3 740.7 310.6 740.8 311.6 741.0 308.6 741.1 310.3 741.1 309.3 741.1 309.1 741.4 311.3 741.4 310.7 741.4 310.7 741.7 311.3 741.7 309.6 741.8 310.1 741.8 310.0 742.0 311.4 742.0 309.6 742.1 309.8 742.1 310.2 742.2 309.5 742.4 311.8 742.4 311.0 742.4 310.5 742.6 311.9 742.6 310.2 742.8 311.0 742.8 310.7 742.8 312.2 743.1 309.9 743.1 309.6 743.3 312.2 743.5 311.7 743.5 311.9 743.5 312.5 743.7 310.5 743.8 311.5 743.8 311.5 743.9 312.3 744.0 310.9 744.1 311.8 744.1 312.0 744.2 312.5 744.4 310.9 744.5 311.0 744.5 310.8 744.8 312.9 744.8 311.4 744.8 311.6 744.9 311.0 745.2 313.2 745.2 312.8 745.2 311.1 745.4 313.4 745.5 312.1 745.5 312.6 745.5 312.9 745.6 311.3 745.8 312.1 745.8 312.1 746.0 313.3 746.1 311.7 746.2 312.2 746.2 312.1 746.3 313.3 746.3 311.5 746.5 312.3 746.5 312.4 746.8 312.0 746.8 313.4 746.9 312.5 746.9 312.3 747.0 313.2 747.1 312.0 747.2 312.5 747.2 312.6 747.5 313.6 747.5 311.9 747.5 312.9 747.5 313.1 747.7 311.9 747.9 313.6 747.9 313.6 747.9 313.5 747.9 312.2 748.1 313.6 748.2 313.3 748.2 313.1 748.3 312.0 748.5 313.5 748.6 312.9 748.6 312.8 748.6 313.9 748.7 312.6 748.9 313.2 748.9 313.2 748.9 314.0 749.1 312.5 749.2 313.6 749.2 313.5 749.4 313.9 749.4 313.0 749.6 313.2 749.6 313.6 749.6 314.3 749.7 312.9 749.9 313.5 749.9 313.6 750.1 314.3 750.2 312.7 750.3 313.5 750.3 313.3 750.3 313.0 750.4 314.2 750.6 313.8 750.6 313.6 750.6 313.3 750.7 314.2 750.9 313.8 750.9 313.9 751.2 314.2 751.2 313.3 751.3 313.8 751.3 314.0 751.4 313.6 751.6 314.6 751.6 313.7 751.6 313.9 751.7 313.5 751.9 314.4 752.0 314.2 752.0 314.0 752.1 314.6 752.2 313.8 752.3 314.5 752.3 314.4 752.4 313.7 752.4 314.7 752.6 314.5 752.6 314.4 752.8 313.9 752.8 314.9 753.0 314.3 753.0 314.3 753.1 314.0 753.3 314.9 753.3 314.5 753.3 314.7 753.5 314.1 753.6 314.9 753.7 314.8 753.7 314.5 753.8 314.9 753.9 314.3 754.0 314.6 754.0 314.5 754.2 315.1 754.2 314.4 754.3 314.6 754.3 314.6 754.5 314.5 754.6 315.2 754.7 315.0 754.7 314.9 754.8 314.5 754.9 315.2 755.0 314.9 755.0 314.9 755.1 314.6 755.3 315.3 755.4 315.3 755.4 315.0 755.5 315.2 755.7 314.8 755.7 315.0 755.7 315.0 755.7 315.3 755.8 314.7 756.0 315.0 756.0 315.2 756.3 314.8 756.3 315.4 756.4 315.1 756.4 315.1 756.4 315.4 756.4 315.0 756.7 315.2 756.7 315.2 756.8 315.0 756.9 315.5 757.0 315.4" stroke="#00a0a0"/></g>
<clipPath id="cpc"><rect x="875.0" y="75.5" width="266.20000000000005" height="240.7"/></clipPath><g clip-path="url(#cpc)" fill="none" stroke-width="1.45" stroke-linejoin="round"><path d="M880.8 311.4 900.8 316.0 912.5 315.6 920.8 315.4 927.3 315.2 932.5 315.0 937.0 314.9 940.9 314.7 944.3 314.5 947.3 314.2 950.1 314.0 952.6 313.9 954.9 313.8 957.0 313.6 959.0 313.4 960.9 313.2 962.7 312.9 964.3 312.7 965.9 312.5 967.3 312.3 968.8 312.1 970.1 311.8 971.4 311.7 972.6 311.4 973.8 311.3 974.9 311.0 976.0 310.7 977.1 310.5 978.1 310.0 979.1 310.1 980.0 310.0 980.9 309.4 981.8 309.3 982.7 309.1 983.5 308.7 984.3 308.6 985.1 308.4 985.9 308.4 986.6 308.4 987.4 308.0 988.1 307.4 988.8 307.0 989.5 307.3 990.1 306.6 990.8 306.6 991.4 306.3 992.0 305.5 992.7 305.3 993.2 305.5 993.8 305.3 994.4 305.1 995.0 304.9 995.5 305.0 996.1 304.3 996.6 304.7 997.1 304.8 997.6 304.4 998.1 304.1 998.6 304.1 999.1 303.8 999.6 303.5 1000.0 303.2 1000.5 303.4 1001.0 303.3 1001.4 303.2 1001.9 303.2 1002.3 302.0 1002.7 302.1 1003.1 301.7 1003.6 302.0 1004.0 300.9 1004.4 300.8 1004.8 300.2 1005.2 300.9 1005.5 300.6 1005.9 300.2 1006.3 299.1 1006.7 299.5 1007.1 299.9 1007.4 300.1 1007.8 298.9 1008.1 297.3 1008.5 297.6 1008.8 297.3 1009.2 298.7 1009.5 298.3 1009.8 298.3 1010.2 298.3 1010.5 298.7 1010.8 298.8 1011.1 298.0 1011.5 298.3 1011.8 298.2 1012.1 297.6 1012.4 298.5 1012.7 298.3 1013.0 297.1 1013.3 296.1 1013.6 296.2 1013.9 295.7 1014.2 295.4 1014.4 295.6 1014.7 295.4 1015.0 295.3 1015.3 295.8 1015.5 295.5 1015.8 295.6 1016.1 294.8 1016.4 293.7 1016.6 293.2 1016.9 291.8 1017.1 293.2 1017.4 295.9 1017.7 295.5 1017.9 295.8 1018.2 295.3 1018.4 294.9 1018.6 294.1 1018.9 295.2 1019.1 295.5 1019.4 295.6 1019.6 294.4 1019.8 293.7 1020.1 292.6 1020.3 292.1 1020.5 291.4 1020.8 291.6 1021.0 290.7 1021.2 290.0 1021.4 290.8 1021.7 292.4 1021.9 293.4 1022.1 293.1 1022.3 292.5 1022.5 291.9 1022.8 291.6 1023.0 292.1 1023.2 291.8 1023.4 292.8 1023.6 292.0 1023.8 292.0 1024.0 291.3 1024.2 290.6 1024.4 291.6 1024.6 292.4 1024.8 294.5 1025.0 292.7 1025.2 291.1 1025.4 290.1 1025.6 291.0 1025.8 291.3 1026.0 290.3 1026.2 292.6 1026.3 292.3 1026.5 292.5 1026.7 291.9 1026.9 291.4 1027.1 291.1 1027.3 292.9 1027.4 291.2 1027.6 291.7 1027.8 290.3 1028.0 290.4 1028.2 288.9 1028.3 288.8 1028.5 288.7 1028.7 289.2 1028.9 289.7 1029.0 288.9 1029.2 287.7 1029.4 287.6 1029.5 286.9 1029.7 287.2 1029.9 287.4 1030.0 286.7 1030.2 286.6 1030.4 287.7 1030.5 288.5 1030.7 287.0 1030.9 285.1 1031.0 284.6 1031.2 285.7 1031.3 286.1 1031.5 287.0 1031.6 288.4 1031.8 288.1 1032.0 286.7 1032.1 287.4 1032.3 286.3 1032.4 284.9 1032.6 285.4 1032.7 286.3 1032.9 288.7 1033.0 289.2 1033.2 288.7 1033.3 287.9 1033.5 285.8 1033.6 284.4 1033.8 283.1 1033.9 282.1 1034.0 283.2 1034.2 284.6 1034.3 284.3 1034.5 286.1 1034.6 286.7 1034.8 287.1 1034.9 286.2 1035.0 283.1 1035.2 285.6 1035.3 283.2 1035.4 284.0 1035.6 284.3 1035.7 285.5 1035.9 285.1 1036.0 285.3 1036.1 285.1 1036.3 285.4 1036.4 284.1 1036.5 285.4 1036.7 286.6 1036.8 287.0 1036.9 287.1 1037.0 286.5 1037.2 283.8 1037.3 284.9 1037.4 285.4 1037.6 286.3 1037.7 286.0 1037.8 286.0 1037.9 284.7 1038.1 285.0 1038.2 286.7 1038.3 285.9 1038.4 285.8 1038.6 285.1 1038.7 285.3 1038.8 284.3 1038.9 286.2 1039.0 287.6 1039.2 284.1 1039.3 285.0 1039.4 284.0 1039.5 283.1 1039.6 284.0 1039.8 284.3 1039.9 285.8 1040.0 284.2 1040.1 281.5 1040.2 282.3 1040.3 283.5 1040.5 284.0 1040.6 280.7 1040.7 281.2 1040.8 282.0 1040.9 284.3 1041.0 284.1 1041.1 284.9 1041.3 285.6 1041.4 284.3 1041.5 284.7 1041.6 283.4 1041.7 287.0 1041.8 284.5 1041.9 283.7 1042.0 282.0 1042.1 281.8 1042.2 281.0 1042.4 282.4 1042.5 281.8 1042.6 282.4 1042.7 284.0 1042.8 283.3 1042.9 281.3 1043.0 281.4 1043.1 284.0 1043.2 283.0 1043.3 281.5 1043.4 282.5 1043.5 284.2 1043.6 284.0 1043.7 284.9 1043.8 286.9 1043.9 285.3 1044.0 285.1 1044.1 284.0 1044.2 282.6 1044.3 282.5 1044.4 283.3 1044.5 284.4 1044.6 287.7 1044.7 288.1 1044.8 286.0 1044.9 285.1 1045.0 283.9 1045.1 284.4 1045.2 283.8 1045.3 284.1 1045.4 287.4 1045.5 288.8 1045.6 289.6 1045.7 290.9 1045.8 289.3 1045.9 289.3 1046.0 288.9 1046.1 289.9 1046.2 288.1 1046.3 287.6 1046.4 285.5 1046.5 288.1 1046.6 285.6 1046.7 284.9 1046.7 286.5 1046.8 288.1 1046.9 288.8 1047.0 286.9 1047.1 287.0 1047.2 286.4 1047.3 284.5 1047.4 287.5 1047.5 287.2 1047.6 288.7 1047.7 289.3 1047.8 290.9 1047.8 290.6 1047.9 290.2 1048.0 290.6 1048.1 289.6 1048.2 287.8 1048.3 286.1 1048.4 283.2 1048.5 283.4 1048.5 287.5 1048.6 287.6 1048.7 287.3 1048.8 287.3 1048.9 290.1 1049.0 290.9 1049.1 290.8 1049.1 289.3 1049.2 289.5 1049.3 287.4 1049.4 289.2 1049.5 287.9 1049.6 288.9 1049.7 288.3 1049.7 286.8 1049.8 286.7 1049.9 286.5 1050.0 287.7 1050.1 288.0 1050.2 286.8 1050.2 286.0 1050.3 286.5 1050.4 285.7 1050.5 286.8 1050.6 285.7 1050.6 288.5 1050.7 288.2 1050.8 287.2 1050.9 290.3 1051.0 288.0 1051.0 289.3 1051.1 289.8 1051.3 292.7 1051.4 287.9 1051.5 290.1 1051.6 290.2 1051.7 288.8 1051.8 289.3 1051.8 290.2 1051.9 288.5 1052.0 288.9 1052.1 286.8 1052.1 288.0 1052.2 285.9 1052.4 290.1 1052.5 286.7 1052.6 288.6 1052.7 288.3 1052.8 286.9 1052.8 286.4 1053.0 284.4 1053.1 289.2 1053.2 289.4 1053.3 287.9 1053.5 288.8 1053.6 290.5 1053.6 289.1 1053.7 289.7 1053.8 287.8 1053.9 288.9 1053.9 290.9 1054.1 285.5 1054.2 285.9 1054.4 284.3 1054.5 285.2 1054.6 286.0 1054.6 285.8 1054.7 288.6 1054.9 287.3 1054.9 286.8 1055.0 287.3 1055.1 288.7 1055.1 288.2 1055.2 288.7 1055.5 286.6 1055.5 289.0 1055.7 289.6 1055.8 287.9 1055.9 287.6 1056.2 290.5 1056.2 292.4 1056.6 288.0 1056.6 290.8 1056.7 290.0 1056.9 292.0 1056.9 290.0 1057.0 290.0 1057.1 290.8 1057.2 290.4 1057.3 290.7 1057.3 287.4 1057.5 288.2 1057.6 288.8 1057.8 285.5 1057.9 286.9 1058.0 287.9 1058.1 287.0 1058.2 288.5 1058.2 288.0 1058.3 288.9 1058.5 285.8 1058.6 287.4 1058.7 288.2 1058.9 290.4 1059.0 290.9 1059.0 291.2 1059.3 286.8 1059.3 288.5 1059.4 292.1 1059.6 291.4 1059.7 290.1 1059.9 285.9 1059.9 286.8 1060.0 284.8 1060.2 283.8 1060.3 287.7 1060.3 287.5 1060.4 287.6 1060.4 286.7 1060.6 286.8 1060.7 286.7 1060.7 285.3 1061.0 290.0 1061.0 288.6 1061.1 284.7 1061.3 288.0 1061.3 288.8 1061.5 289.9 1061.6 287.5 1061.7 288.5 1061.9 285.9 1062.0 286.7 1062.0 286.9 1062.1 290.2 1062.3 288.9 1062.4 287.4 1062.5 284.1 1062.7 285.5 1062.7 287.5 1062.8 287.9 1062.9 285.2 1063.0 287.3 1063.0 286.4 1063.3 290.5 1063.3 288.3 1063.4 286.3 1063.5 286.8 1063.6 285.0 1063.7 285.8 1063.7 285.7 1063.9 293.7 1064.0 287.9 1064.1 287.0 1064.2 285.2 1064.4 286.1 1064.4 285.3 1064.6 283.2 1064.7 288.1 1064.8 288.4 1064.9 283.9 1065.0 287.4 1065.1 285.5 1065.2 286.7 1065.3 281.1 1065.4 282.8 1065.4 283.6 1065.7 285.6 1065.7 287.8 1066.0 283.4 1066.1 285.2 1066.2 288.3 1066.4 281.1 1066.4 281.7 1066.5 279.8 1066.7 288.9 1066.8 286.5 1066.8 287.2 1067.0 282.9 1067.1 284.2 1067.1 284.5 1067.2 284.7 1067.2 280.4 1067.4 282.8 1067.5 284.1 1067.7 287.6 1067.7 282.8 1067.8 282.6 1068.1 288.0 1068.1 285.6 1068.1 285.0 1068.2 286.0 1068.4 278.0 1068.4 283.5 1068.5 285.6 1068.6 288.5 1068.8 278.9 1068.8 281.8 1068.8 282.6 1068.9 282.8 1069.1 275.1 1069.1 276.7 1069.2 278.3 1069.3 275.9 1069.4 286.3 1069.5 285.8 1069.5 282.5 1069.6 283.7 1069.8 280.5 1069.8 282.4 1069.9 281.0 1069.9 279.9 1070.0 284.3 1070.1 284.2 1070.2 281.9 1070.2 279.6 1070.4 284.1 1070.5 282.9 1070.5 284.6 1070.6 285.7 1070.6 281.0 1070.8 281.1 1070.9 279.2 1070.9 278.9 1071.0 283.2 1071.2 281.0 1071.2 283.7 1071.4 278.7 1071.5 280.1 1071.6 282.3 1071.6 282.4 1071.7 277.8 1071.8 280.1 1071.9 283.5 1071.9 278.4 1072.2 284.7 1072.2 282.6 1072.3 275.1 1072.5 284.2 1072.6 282.6 1072.7 275.8 1072.8 283.0 1072.9 282.6 1072.9 282.2 1073.0 277.7 1073.1 284.1 1073.2 281.0 1073.2 278.6 1073.3 275.7 1073.3 280.7 1073.5 279.0 1073.6 278.3 1073.6 276.7 1073.9 287.7 1073.9 284.8 1073.9 284.1 1074.2 276.2 1074.2 277.3 1074.3 273.9 1074.3 273.5 1074.5 282.2 1074.6 280.7 1074.6 281.0 1074.6 281.4 1074.8 271.3 1074.9 275.2 1074.9 276.7 1075.0 283.5 1075.2 280.1 1075.3 282.4 1075.3 286.8 1075.5 273.5 1075.6 275.2 1075.6 272.2 1075.9 280.6 1075.9 279.0 1076.0 277.7 1076.0 281.6 1076.2 275.9 1076.3 278.3 1076.3 280.3 1076.3 282.6 1076.4 276.3 1076.6 277.8 1076.6 281.1 1076.8 281.6 1076.9 276.1 1076.9 278.6 1077.0 281.8 1077.2 273.1 1077.3 273.3 1077.3 273.3 1077.3 272.6 1077.6 280.5 1077.6 279.0 1077.7 275.2 1077.7 278.7 1077.9 270.8 1078.0 276.1 1078.0 276.7 1078.2 284.2 1078.2 276.1 1078.3 281.2 1078.3 281.2 1078.6 273.5 1078.7 274.5 1078.7 275.5 1078.7 273.5 1078.8 277.8 1079.0 274.1 1079.0 277.9 1079.1 279.7 1079.3 272.8 1079.4 272.3 1079.4 271.9 1079.7 275.4 1079.7 278.6 1079.9 278.7 1079.9 274.6 1080.0 275.8 1080.0 276.0 1080.2 280.1 1080.3 274.2 1080.4 276.3 1080.4 281.0 1080.4 283.3 1080.6 279.0 1080.7 280.4 1080.7 279.3 1080.8 274.5 1081.0 281.5 1081.0 277.9 1081.0 278.0 1081.1 275.6 1081.3 285.3 1081.4 280.9 1081.4 279.3 1081.5 274.1 1081.7 280.2 1081.7 284.1 1081.8 285.6 1081.9 275.5 1082.0 276.1 1082.1 277.3 1082.1 274.5 1082.3 283.4 1082.4 275.3 1082.4 278.6 1082.5 276.6 1082.5 283.0 1082.7 278.6 1082.7 275.6 1082.8 275.2 1083.0 282.8 1083.1 277.7 1083.1 277.3 1083.3 286.9 1083.4 281.6 1083.4 281.1 1083.6 277.3 1083.7 283.5 1083.7 280.1 1083.8 276.4 1084.0 286.1 1084.1 283.7 1084.1 282.2 1084.3 283.8 1084.4 276.2 1084.4 283.0 1084.5 282.5 1084.7 286.6 1084.8 278.7 1084.8 280.8 1084.9 284.2 1085.0 279.3 1085.1 281.9 1085.1 282.8 1085.2 280.3 1085.4 283.7 1085.5 285.3 1085.6 287.0 1085.7 276.3 1085.8 279.1 1085.8 281.7 1085.9 279.7 1086.0 285.3 1086.1 280.1 1086.2 282.2 1086.2 280.1 1086.4 285.3 1086.5 283.4 1086.5 287.1 1086.5 287.4 1086.8 277.2 1086.8 279.3 1087.1 286.9 1087.1 284.5 1087.2 283.3 1087.3 288.3 1087.4 281.6 1087.5 287.0 1087.5 283.4 1087.6 277.6 1087.7 288.5 1087.8 285.1 1087.8 284.4 1088.2 280.4 1088.2 286.5 1088.2 284.1 1088.2 285.3 1088.3 281.8 1088.5 282.1 1088.5 282.7 1088.5 281.1 1088.7 287.5 1088.9 282.7 1088.9 282.3 1089.2 288.7 1089.2 288.6 1089.3 289.7 1089.4 285.0 1089.5 288.7 1089.6 288.5 1089.7 289.3 1089.8 282.1 1089.9 285.3 1089.9 286.0 1090.0 283.3 1090.1 289.8 1090.2 288.5 1090.2 288.0 1090.3 290.0 1090.4 285.2 1090.5 285.9 1090.6 286.1 1090.7 289.1 1090.7 284.6 1090.9 287.8 1090.9 289.9 1091.0 293.2 1091.1 284.9 1091.2 288.1 1091.3 289.7 1091.5 290.6 1091.5 286.5 1091.6 289.1 1091.6 290.3 1091.6 292.4 1091.9 285.6 1091.9 286.8 1091.9 288.4 1091.9 285.2 1092.2 289.8 1092.3 290.3 1092.3 290.9 1092.5 286.4 1092.6 286.9 1092.6 287.7 1092.7 291.1 1092.9 285.6 1092.9 288.6 1092.9 289.7 1093.0 292.4 1093.1 285.6 1093.3 290.2 1093.3 291.8 1093.5 285.7 1093.5 292.5 1093.6 289.2 1093.6 290.1 1093.7 294.1 1093.9 287.7 1094.0 288.0 1094.1 294.2 1094.3 293.6 1094.3 292.3 1094.6 285.2 1094.6 287.1 1094.9 293.8 1095.0 292.6 1095.0 292.7 1095.1 294.3 1095.2 288.9 1095.3 294.1 1095.3 295.5 1095.6 287.5 1095.7 288.0 1096.0 297.8 1096.0 297.0 1096.0 296.5 1096.3 291.2 1096.3 292.4 1096.4 292.8 1096.4 289.0 1096.6 294.5 1096.7 293.2 1096.7 294.0 1096.9 291.1 1097.0 298.4 1097.0 294.9 1097.0 294.5 1097.2 291.9 1097.3 296.8 1097.4 296.2 1097.4 295.3 1097.6 298.5 1097.7 292.8 1097.7 292.1 1097.7 291.5 1098.0 298.1 1098.0 291.7 1098.1 292.2 1098.1 292.1 1098.2 297.5 1098.4 296.0 1098.4 295.8 1098.5 292.9 1098.7 299.0 1098.7 298.9 1098.7 297.7 1098.9 294.4 1099.1 295.0 1099.1 295.4 1099.1 293.8 1099.2 299.5 1099.4 297.7 1099.4 298.8 1099.4 300.6 1099.7 293.3 1099.7 293.8 1099.7 295.6 1100.0 294.0 1100.0 298.9 1100.1 297.1 1100.1 298.5 1100.2 296.4 1100.3 299.0 1100.4 298.1 1100.4 299.2 1100.6 295.6 1100.7 300.1 1100.7 299.6 1100.8 299.3 1101.0 295.1 1101.1 296.4 1101.1 295.3 1101.4 299.5 1101.4 298.8 1101.4 298.5 1101.6 301.6 1101.8 295.5 1101.8 297.0 1101.8 298.0 1101.8 302.0 1102.1 300.5 1102.1 297.8 1102.3 300.4 1102.4 297.7 1102.5 298.2 1102.5 298.5 1102.6 302.0 1102.6 297.3 1102.8 300.4 1102.8 301.2 1102.9 298.5 1103.0 302.9 1103.1 300.9 1103.1 300.3 1103.4 303.9 1103.5 299.4 1103.5 299.5 1103.7 302.7 1103.8 298.4 1103.8 300.8 1103.8 300.7 1103.8 300.0 1104.0 304.6 1104.2 300.9 1104.2 301.4 1104.2 300.8 1104.4 304.2 1104.5 303.0 1104.5 304.4 1104.6 301.3 1104.8 303.7 1104.8 304.2 1104.9 305.0 1105.1 301.8 1105.2 303.7 1105.2 303.1 1105.3 301.5 1105.4 305.0 1105.5 303.0 1105.5 303.4 1105.5 302.5 1105.6 305.3 1105.8 304.5 1105.9 305.3 1105.9 303.1 1106.1 306.9 1106.2 303.8 1106.2 303.6 1106.3 302.8 1106.4 305.9 1106.5 304.3 1106.5 305.0 1106.8 306.1 1106.9 302.9 1106.9 303.6 1107.0 306.9 1107.2 305.0 1107.2 305.6 1107.4 306.4 1107.5 304.2 1107.6 304.7 1107.6 305.4 1107.6 304.4 1107.8 307.6 1107.9 306.2 1107.9 306.4 1108.0 307.4 1108.1 305.3 1108.2 306.9 1108.2 307.1 1108.4 305.5 1108.5 307.7 1108.6 307.5 1108.6 307.3 1108.7 306.1 1108.9 308.0 1108.9 307.7 1108.9 308.4 1109.0 305.9 1109.1 309.2 1109.3 308.2 1109.3 307.9 1109.3 308.6 1109.4 306.3 1109.6 307.5 1109.6 307.3 1109.7 309.2 1109.7 306.3 1109.9 307.5 1109.9 307.5 1110.0 307.1 1110.2 309.3 1110.3 309.0 1110.3 309.0 1110.5 308.1 1110.6 309.8 1110.6 309.6 1110.6 309.0 1110.7 309.8 1110.8 307.0 1111.0 309.4 1111.0 309.6 1111.0 307.6 1111.1 310.1 1111.3 309.6 1111.3 309.7 1111.4 308.5 1111.5 310.0 1111.6 309.4 1111.6 310.0 1111.7 308.9 1111.7 310.5 1112.0 309.3 1112.0 309.0 1112.0 308.7 1112.3 311.1 1112.3 309.9 1112.3 309.8 1112.4 311.3 1112.7 310.0 1112.7 310.3 1112.9 309.2 1113.0 311.6 1113.0 310.2 1113.0 310.3 1113.2 309.8 1113.3 311.5 1113.3 310.5 1113.3 311.0 1113.4 310.6 1113.4 312.0 1113.7 311.1 1113.7 311.2 1113.7 312.0 1113.8 310.7 1114.0 311.6 1114.0 311.0 1114.1 312.6 1114.4 312.2 1114.4 312.2 1114.6 312.5 1114.6 311.3 1114.7 311.5 1114.7 311.8 1114.9 311.6 1115.0 312.9 1115.0 312.8 1115.0 313.2 1115.1 313.3 1115.2 312.1 1115.4 312.5 1115.4 312.5 1115.5 312.2 1115.5 313.0 1115.7 312.9 1115.7 313.2 1115.9 312.5 1116.0 313.3 1116.1 313.0 1116.1 313.0 1116.1 312.8 1116.3 313.6 1116.4 313.1 1116.4 313.3 1116.6 313.6 1116.7 312.8 1116.7 313.3 1116.7 313.3 1116.8 313.9 1116.9 313.0 1117.1 313.4 1117.1 313.2 1117.2 314.1 1117.4 313.6 1117.4 313.3 1117.5 313.3 1117.7 314.0 1117.8 313.8 1117.8 313.9 1117.8 313.6 1118.0 314.1 1118.1 313.9 1118.1 313.8 1118.2 313.5 1118.3 314.2 1118.4 313.9 1118.4 313.9 1118.5 313.6 1118.6 314.4 1118.8 314.1 1118.8 314.0 1118.9 313.7 1118.9 314.3 1119.1 314.2 1119.1 314.2 1119.2 313.9 1119.3 314.4 1119.5 314.2 1119.5 314.2 1119.6 313.7 1119.7 314.5 1119.8 314.2 1119.8 314.1 1120.0 314.0 1120.1 314.4 1120.1 314.3 1120.1 314.2 1120.2 313.8 1120.4 314.5 1120.5 314.4 1120.5 314.5 1120.6 314.7 1120.8 314.2 1120.8 314.5 1120.8 314.5 1121.0 314.1 1121.2 314.8 1121.2 314.8 1121.2 314.7 1121.3 314.3 1121.5 314.8 1121.5 314.8 1121.5 314.7 1121.7 314.8 1121.7 314.3 1121.8 314.6 1121.8 314.6 1121.9 314.5 1122.0 314.9 1122.2 314.6 1122.2 314.6 1122.2 315.0 1122.3 314.5 1122.5 314.7 1122.5 314.7 1122.7 315.1 1122.8 314.6 1122.9 314.9 1122.9 314.8 1122.9 315.2 1123.1 314.6 1123.2 314.8 1123.2 314.7 1123.3 315.0 1123.5 314.7 1123.5 314.7 1123.5 314.8 1123.7 314.8 1123.8 315.2 1123.9 315.0 1123.9 315.1 1123.9 315.2 1123.9 314.8 1124.2 315.1 1124.2 315.1 1124.2 314.9 1124.5 315.2 1124.6 315.1 1124.6 315.1 1124.6 315.0 1124.8 315.3 1124.9 315.2 1124.9 315.2 1125.0 314.9 1125.1 315.4 1125.2 315.2 1125.2 315.1 1125.3 315.4 1125.5 315.0 1125.6 315.3 1125.6 315.3 1125.6 315.4 1125.6 315.1 1125.9 315.2 1125.9 315.3 1126.0 315.1 1126.1 315.4 1126.3 315.3 1126.3 315.2 1126.5 315.2 1126.6 315.4 1126.6 315.3 1126.6 315.4 1126.6 315.5 1126.9 315.2 1126.9 315.4 1126.9 315.4 1127.2 315.3 1127.3 315.5 1127.3 315.4 1127.4 315.3 1127.5 315.6 1127.6 315.5 1127.6 315.4 1127.8 315.3 1127.9 315.5 1128.0 315.4 1128.0 315.4 1128.2 315.6 1128.3 315.5 1128.3 315.5 1128.5 315.6 1128.6 315.4 1128.6 315.4 1128.6 315.5 1128.8 315.4 1129.0 315.7 1129.0 315.6 1129.0 315.5 1129.0 315.6 1129.2 315.5 1129.3 315.6 1129.3 315.6 1129.5 315.7 1129.5 315.4 1129.7 315.5 1129.7 315.6 1129.9 315.6 1130.0 315.5 1130.0 315.6 1130.0 315.6 1130.0 315.7 1130.1 315.5 1130.3 315.6 1130.3 315.6 1130.5 315.7 1130.6 315.5 1130.7 315.7 1130.7 315.7 1130.7 315.8 1130.8 315.5 1131.0 315.7 1131.0 315.6 1131.3 315.7 1131.3 315.6 1131.4 315.7 1131.4 315.7 1131.4 315.8 1131.7 315.6 1131.7 315.6 1131.7 315.7 1131.7 315.7 1132.0 315.8 1132.0 315.7 1132.0 315.8 1132.1 315.6 1132.3 315.8 1132.4 315.7 1132.4 315.8 1132.6 315.6 1132.7 315.8 1132.7 315.8 1132.7 315.8 1133.0 315.7 1133.1 315.8 1133.1 315.8 1133.1 315.8 1133.3 315.7 1133.4 315.8 1133.4 315.7 1133.4 315.7 1133.7 315.9 1133.7 315.8 1133.7 315.8 1133.8 315.9 1134.1 315.8 1134.1 315.8 1134.1 315.8 1134.2 315.8 1134.3 315.9 1134.4 315.8 1134.4 315.8 1134.5 315.8 1134.7 315.9 1134.8 315.9 1134.8 315.9 1134.8 315.8 1134.9 315.9 1135.1 315.8 1135.1 315.8 1135.1 316.0 1135.3 315.8 1135.4 315.9 1135.4 315.9 1135.5 315.8 1135.5 315.9 1135.8 315.9 1135.8 315.9 1136.0 315.8 1136.0 315.9 1136.1 315.9 1136.1 315.9 1136.2 315.8 1136.4 316.0 1136.5 315.9 1136.5 315.9 1136.5 315.9 1136.7 316.0 1136.8 315.9 1136.8 315.9 1136.8 315.9 1137.1 316.0 1137.1 315.9 1137.1 315.9 1137.2 315.9 1137.3 316.0 1137.5 316.0 1137.5 316.0 1137.5 315.9 1137.7 316.0 1137.8 316.0 1137.8 316.0 1137.9 316.0 1138.1 315.9 1138.2 316.0 1138.2 316.0 1138.2 316.0 1138.4 315.9 1138.5 316.0 1138.5 316.0 1138.5 316.0 1138.8 315.9 1138.8 316.0 1138.8 316.0 1138.8 316.0 1139.0 315.9 1139.2 316.0 1139.2 316.0 1139.3 316.0 1139.5 316.0 1139.5 316.0 1139.5 316.0 1139.8 315.9 1139.9 316.0 1139.9 316.0 1139.9 316.0 1140.0 316.0 1140.2 316.0 1140.2 316.0 1140.4 316.0 1140.5 316.0 1140.5 316.0 1140.5 316.0 1140.6 316.0 1140.8 316.0 1140.9 316.0 1140.9 316.0 1140.9 316.0 1141.0 316.0 1141.2 316.0" stroke="#1414ff"/><path d="M880.8 310.1 900.8 311.3 912.5 309.4 920.8 306.7 927.3 304.0 932.5 302.5 937.0 301.0 940.9 298.4 944.3 294.9 947.3 290.2 950.1 289.3 952.6 286.1 954.9 286.1 957.0 286.1 959.0 287.0 960.9 285.9 962.7 283.6 964.3 280.7 965.9 279.6 967.3 280.5 968.8 274.1 970.1 271.9 971.4 271.0 972.6 270.8 973.8 269.7 974.9 265.6 976.0 268.0 977.1 266.0 978.1 265.9 979.1 264.0 980.0 261.7 980.9 259.6 981.8 255.5 982.7 255.6 983.5 258.3 984.3 259.3 985.1 256.5 985.9 259.5 986.6 258.0 987.4 258.7 988.1 255.7 988.8 252.4 989.5 256.2 990.1 247.8 990.8 251.3 991.4 250.8 992.0 245.4 992.7 245.1 993.2 247.2 993.8 247.4 994.4 247.5 995.0 248.6 995.5 249.8 996.1 252.7 996.6 257.7 997.1 257.3 997.6 252.0 998.1 248.9 998.6 239.5 999.1 237.5 999.6 237.5 1000.0 233.9 1000.5 245.4 1001.0 245.6 1001.4 246.0 1001.9 251.9 1002.3 253.6 1002.7 260.6 1003.1 264.7 1003.6 261.3 1004.0 259.2 1004.4 253.7 1004.8 254.4 1005.2 249.6 1005.5 257.0 1005.9 253.5 1006.3 251.4 1006.7 243.1 1007.1 243.0 1007.4 238.9 1007.8 236.8 1008.1 238.1 1008.5 239.3 1008.8 237.7 1009.2 239.3 1009.5 239.3 1009.8 242.9 1010.2 235.8 1010.5 227.9 1010.8 220.4 1011.1 222.4 1011.5 236.0 1011.8 236.2 1012.1 238.8 1012.4 234.7 1012.7 234.7 1013.0 249.0 1013.3 242.6 1013.6 239.6 1013.9 236.7 1014.2 238.7 1014.4 240.8 1014.7 245.8 1015.0 250.8 1015.3 248.3 1015.5 244.2 1015.8 242.3 1016.1 244.6 1016.4 243.2 1016.6 240.0 1016.9 237.6 1017.1 237.7 1017.4 235.3 1017.7 236.6 1017.9 247.0 1018.2 242.7 1018.4 238.3 1018.6 223.4 1018.9 216.3 1019.1 212.8 1019.4 224.1 1019.6 228.8 1019.8 245.1 1020.1 252.6 1020.3 234.5 1020.5 248.8 1020.8 239.5 1021.0 236.5 1021.2 243.3 1021.4 236.5 1021.7 224.8 1021.9 231.2 1022.1 228.2 1022.3 232.2 1022.5 235.7 1022.8 230.5 1023.0 223.2 1023.2 225.7 1023.4 223.5 1023.6 219.7 1023.8 231.1 1024.0 229.1 1024.2 229.7 1024.4 227.8 1024.6 241.7 1024.8 229.8 1025.0 237.0 1025.2 231.2 1025.4 215.1 1025.6 218.3 1025.8 224.3 1026.0 231.7 1026.2 246.1 1026.3 255.6 1026.5 250.0 1026.7 239.9 1026.9 237.4 1027.1 238.3 1027.3 234.1 1027.4 236.0 1027.6 235.9 1027.8 238.8 1028.0 246.5 1028.2 243.9 1028.3 246.1 1028.5 254.9 1028.7 248.1 1028.9 246.2 1029.0 238.7 1029.2 228.9 1029.4 220.8 1029.5 229.8 1029.7 230.4 1029.9 235.0 1030.0 232.2 1030.2 236.9 1030.4 232.9 1030.5 238.5 1030.7 231.3 1030.9 236.0 1031.0 221.7 1031.2 226.2 1031.3 212.4 1031.5 217.7 1031.6 224.7 1031.8 226.5 1032.0 228.6 1032.1 229.9 1032.3 240.6 1032.4 238.8 1032.6 235.6 1032.7 238.8 1032.9 245.6 1033.0 244.3 1033.2 253.7 1033.3 250.2 1033.5 240.4 1033.6 227.7 1033.8 224.4 1033.9 227.5 1034.0 231.2 1034.2 233.7 1034.3 245.1 1034.5 228.3 1034.6 234.3 1034.8 225.6 1034.9 240.8 1035.0 238.9 1035.2 240.6 1035.3 231.2 1035.4 234.7 1035.6 227.9 1035.7 235.4 1035.9 237.4 1036.0 239.2 1036.1 238.6 1036.3 229.7 1036.4 228.6 1036.5 219.9 1036.7 223.4 1036.8 233.8 1036.9 228.5 1037.0 219.0 1037.2 222.4 1037.3 222.3 1037.4 211.9 1037.6 218.3 1037.7 214.4 1037.8 214.1 1037.9 222.2 1038.1 228.5 1038.2 228.7 1038.3 229.5 1038.4 237.4 1038.6 233.9 1038.7 227.6 1038.8 221.5 1038.9 222.3 1039.0 225.8 1039.2 229.0 1039.3 239.0 1039.4 243.7 1039.5 244.1 1039.6 241.2 1039.8 243.6 1039.9 227.1 1040.0 226.5 1040.1 222.8 1040.2 218.4 1040.3 206.8 1040.5 211.3 1040.6 206.6 1040.7 211.6 1040.8 212.0 1040.9 211.1 1041.0 221.6 1041.1 214.9 1041.3 222.0 1041.4 221.1 1041.5 221.9 1041.6 214.2 1041.7 222.9 1041.8 219.3 1041.9 236.2 1042.0 231.8 1042.1 224.7 1042.2 222.2 1042.4 207.0 1042.5 210.8 1042.6 208.5 1042.7 206.1 1042.8 200.3 1042.9 209.3 1043.0 196.4 1043.1 201.9 1043.2 199.8 1043.3 205.1 1043.4 203.6 1043.5 201.8 1043.6 195.9 1043.7 195.6 1043.8 197.2 1043.9 194.6 1044.0 201.5 1044.1 204.9 1044.2 212.2 1044.3 208.7 1044.4 208.5 1044.5 219.6 1044.6 201.1 1044.7 208.2 1044.8 192.5 1044.9 194.4 1045.0 197.1 1045.1 197.8 1045.2 194.3 1045.3 198.9 1045.4 203.8 1045.5 200.3 1045.6 200.8 1045.7 181.5 1045.8 198.5 1045.9 194.0 1046.0 205.1 1046.1 204.5 1046.2 199.3 1046.3 206.7 1046.4 218.0 1046.5 225.6 1046.6 220.9 1046.7 216.2 1046.7 204.4 1046.8 216.2 1046.9 206.8 1047.0 208.2 1047.1 206.9 1047.2 193.9 1047.3 199.3 1047.4 189.6 1047.5 190.5 1047.6 193.9 1047.7 186.0 1047.8 198.3 1047.8 207.1 1047.9 211.5 1048.0 199.0 1048.1 184.2 1048.2 177.7 1048.3 180.5 1048.4 175.8 1048.5 181.6 1048.5 188.2 1048.6 186.3 1048.7 177.6 1048.8 179.8 1048.9 179.2 1049.0 179.0 1049.1 168.6 1049.1 192.0 1049.2 189.4 1049.3 182.4 1049.4 198.4 1049.5 205.3 1049.6 203.2 1049.7 193.5 1049.7 184.2 1049.8 174.9 1049.9 161.2 1050.0 152.2 1050.1 179.7 1050.2 174.8 1050.2 184.1 1050.3 193.3 1050.4 184.4 1050.5 187.7 1050.6 200.2 1050.6 199.0 1050.7 198.1 1050.8 186.4 1050.9 189.3 1051.0 181.5 1051.0 180.3 1051.1 173.8 1051.3 169.3 1051.4 192.6 1051.5 192.4 1051.6 195.4 1051.7 192.7 1051.8 187.6 1051.8 184.9 1051.9 190.8 1052.0 177.4 1052.1 170.0 1052.1 163.5 1052.4 180.8 1052.4 163.2 1052.5 157.3 1052.6 156.7 1052.7 150.0 1052.8 158.7 1052.8 171.5 1053.0 171.3 1053.1 200.7 1053.2 195.1 1053.3 201.7 1053.4 179.9 1053.5 180.4 1053.6 184.4 1053.6 174.3 1053.7 186.4 1053.8 181.9 1053.9 179.4 1054.0 181.9 1054.1 174.1 1054.2 186.5 1054.4 147.6 1054.5 155.5 1054.6 153.4 1054.6 177.2 1054.7 149.7 1054.9 162.6 1054.9 171.4 1055.0 163.0 1055.1 167.2 1055.1 176.3 1055.2 176.9 1055.3 179.5 1055.5 174.0 1055.5 159.3 1055.8 185.2 1055.9 184.4 1056.1 139.1 1056.2 148.3 1056.2 155.7 1056.5 172.7 1056.6 165.2 1056.6 172.2 1056.8 149.1 1056.9 172.9 1056.9 165.8 1057.1 186.5 1057.2 169.8 1057.3 164.5 1057.5 148.0 1057.6 138.4 1057.7 175.1 1057.9 146.0 1058.0 143.5 1058.0 142.0 1058.2 156.6 1058.3 161.1 1058.5 171.2 1058.6 156.8 1058.7 158.3 1058.7 150.7 1058.9 161.2 1059.0 162.2 1059.1 177.4 1059.3 142.3 1059.3 151.3 1059.6 185.6 1059.6 179.1 1059.7 178.9 1059.9 166.8 1060.0 162.9 1060.1 147.4 1060.3 157.2 1060.3 155.5 1060.6 143.8 1060.7 145.5 1060.8 135.2 1061.0 146.9 1061.0 143.3 1061.1 159.0 1061.1 134.2 1061.3 149.6 1061.3 137.0 1061.5 134.4 1061.6 148.6 1061.7 151.8 1061.8 136.6 1062.0 147.7 1062.0 152.5 1062.1 159.5 1062.2 121.7 1062.3 138.0 1062.4 151.9 1062.5 137.0 1062.7 147.4 1062.7 144.1 1062.8 149.8 1062.9 138.7 1063.0 146.1 1063.0 143.5 1063.1 133.7 1063.3 155.2 1063.3 141.3 1063.4 144.2 1063.6 161.6 1063.7 151.3 1063.7 140.4 1063.9 131.2 1064.0 162.5 1064.1 165.3 1064.3 109.7 1064.4 124.2 1064.4 118.9 1064.5 133.6 1064.7 121.4 1064.8 115.3 1064.9 130.0 1065.0 85.5 1065.1 95.3 1065.3 144.6 1065.4 142.4 1065.4 146.4 1065.5 159.0 1065.6 108.3 1065.7 114.1 1065.7 110.9 1065.8 143.9 1066.0 103.7 1066.1 105.6 1066.2 98.6 1066.4 145.5 1066.4 144.9 1066.5 126.0 1066.6 146.2 1066.7 142.8 1066.8 142.5 1067.1 95.2 1067.1 117.1 1067.2 122.4 1067.3 109.4 1067.4 114.8 1067.5 105.7 1067.7 135.1 1067.8 126.3 1067.9 131.4 1068.1 112.9 1068.1 120.5 1068.1 117.6 1068.4 128.2 1068.4 103.8 1068.5 113.2 1068.5 107.5 1068.7 126.3 1068.8 119.8 1068.8 125.0 1069.1 101.6 1069.1 112.4 1069.2 107.6 1069.4 136.9 1069.5 110.9 1069.5 109.4 1069.8 81.7 1069.9 86.3 1070.0 100.3 1070.1 79.6 1070.2 104.5 1070.4 126.3 1070.5 119.5 1070.5 117.7 1070.6 90.0 1070.8 149.9 1070.8 118.4 1070.9 117.7 1071.0 123.0 1071.0 96.6 1071.2 120.9 1071.2 131.7 1071.4 100.1 1071.5 100.6 1071.6 99.0 1071.6 90.6 1071.8 125.9 1071.8 109.1 1071.9 120.4 1071.9 110.2 1072.0 123.3 1072.2 115.2 1072.2 118.8 1072.4 92.3 1072.5 102.1 1072.6 95.5 1072.8 134.8 1072.9 113.5 1072.9 112.6 1072.9 104.9 1073.2 131.9 1073.2 133.5 1073.4 110.5 1073.5 110.5 1073.6 109.6 1073.8 139.4 1073.9 125.3 1073.9 122.0 1074.1 113.6 1074.2 127.5 1074.3 130.0 1074.3 133.0 1074.5 90.0 1074.6 109.9 1074.6 102.3 1074.6 87.7 1074.9 123.9 1074.9 122.0 1075.1 139.9 1075.2 109.5 1075.2 115.1 1075.3 115.7 1075.3 112.2 1075.5 139.3 1075.6 137.0 1075.6 134.3 1075.8 160.9 1075.9 129.3 1075.9 138.9 1076.0 124.1 1076.0 128.5 1076.3 84.5 1076.3 94.7 1076.3 91.2 1076.6 133.0 1076.6 126.3 1076.6 139.6 1076.9 106.5 1076.9 121.4 1077.0 119.9 1077.0 104.5 1077.2 143.8 1077.3 120.8 1077.3 131.6 1077.5 154.1 1077.6 126.9 1077.7 138.7 1077.7 142.5 1077.9 98.6 1078.0 117.6 1078.0 131.4 1078.1 153.2 1078.3 123.6 1078.3 130.3 1078.5 149.7 1078.6 128.2 1078.7 134.8 1078.7 131.9 1079.0 113.3 1079.0 128.7 1079.0 127.4 1079.1 120.5 1079.2 149.6 1079.3 132.4 1079.4 133.1 1079.4 127.1 1079.7 145.5 1079.7 140.3 1079.7 119.9 1079.8 141.2 1080.0 128.9 1080.0 115.5 1080.2 156.8 1080.4 151.0 1080.4 140.4 1080.5 145.8 1080.7 117.8 1080.7 124.8 1080.8 107.9 1081.0 133.2 1081.0 132.1 1081.0 125.3 1081.1 123.3 1081.3 144.9 1081.4 125.3 1081.4 110.6 1081.4 107.6 1081.7 167.6 1081.7 171.0 1081.8 119.0 1082.0 167.6 1082.1 160.4 1082.4 131.7 1082.4 131.4 1082.5 120.0 1082.7 154.9 1082.7 168.7 1083.0 131.4 1083.1 153.7 1083.1 156.4 1083.1 163.5 1083.4 123.0 1083.4 124.9 1083.5 120.7 1083.7 154.2 1083.7 151.9 1083.8 150.1 1083.8 153.6 1084.0 117.3 1084.1 130.2 1084.1 149.0 1084.2 155.2 1084.2 136.3 1084.4 142.7 1084.5 141.1 1084.7 166.7 1084.8 118.9 1084.8 135.4 1085.0 165.1 1085.1 123.2 1085.1 141.7 1085.3 151.3 1085.4 116.0 1085.4 133.1 1085.5 138.3 1085.6 135.4 1085.7 161.4 1085.8 159.6 1085.8 167.5 1085.9 137.3 1086.1 170.0 1086.1 167.5 1086.2 179.7 1086.5 132.6 1086.5 127.3 1086.6 155.5 1086.8 139.7 1086.8 143.0 1087.0 128.4 1087.1 157.2 1087.1 155.6 1087.2 151.3 1087.3 130.7 1087.3 168.7 1087.5 146.8 1087.5 142.4 1087.7 136.4 1087.8 164.7 1087.8 166.4 1088.0 146.1 1088.1 177.5 1088.2 171.1 1088.2 173.1 1088.3 196.1 1088.5 133.2 1088.5 160.0 1088.5 153.1 1088.7 146.9 1088.8 171.7 1088.9 157.8 1088.9 171.2 1088.9 171.8 1089.1 128.5 1089.2 151.9 1089.2 169.5 1089.2 177.4 1089.4 159.0 1089.5 172.4 1089.6 178.2 1089.7 146.1 1089.9 175.1 1089.9 178.3 1089.9 145.5 1090.2 153.8 1090.2 169.6 1090.3 162.2 1090.5 188.2 1090.5 164.7 1090.6 161.2 1090.6 149.2 1090.7 170.9 1090.9 157.9 1090.9 173.1 1091.0 178.8 1091.1 151.4 1091.2 154.5 1091.3 149.6 1091.4 183.7 1091.6 178.5 1091.6 168.0 1091.7 173.3 1091.8 152.1 1091.9 169.0 1091.9 177.4 1092.1 143.8 1092.2 182.4 1092.2 152.6 1092.3 139.3 1092.5 179.9 1092.6 152.9 1092.6 151.0 1092.7 183.0 1092.9 155.1 1092.9 163.5 1093.0 170.8 1093.2 127.2 1093.3 139.8 1093.3 160.3 1093.3 149.9 1093.6 192.9 1093.6 179.6 1093.6 175.9 1093.8 138.3 1093.9 165.5 1094.0 164.3 1094.1 190.0 1094.3 159.9 1094.3 162.7 1094.3 159.8 1094.4 143.5 1094.6 176.5 1094.6 163.1 1094.6 162.4 1094.7 173.1 1094.8 148.2 1095.0 165.0 1095.0 147.1 1095.2 181.6 1095.3 171.5 1095.3 181.0 1095.6 153.9 1095.6 166.9 1095.7 163.7 1095.8 176.6 1095.9 159.4 1096.0 162.9 1096.0 164.9 1096.2 155.2 1096.3 201.2 1096.4 199.8 1096.7 162.1 1096.7 163.0 1096.7 168.3 1096.8 161.4 1097.0 184.8 1097.0 170.8 1097.0 169.5 1097.0 168.5 1097.1 189.7 1097.4 183.3 1097.4 189.4 1097.5 202.4 1097.6 173.7 1097.7 186.3 1097.7 189.6 1097.7 200.2 1097.8 169.3 1098.0 183.1 1098.1 175.5 1098.1 167.3 1098.3 189.0 1098.4 188.9 1098.4 189.1 1098.5 163.7 1098.6 204.5 1098.7 185.4 1098.7 181.3 1098.9 164.1 1099.0 193.6 1099.1 179.7 1099.1 182.6 1099.2 196.8 1099.4 171.7 1099.4 160.0 1099.4 157.1 1099.6 186.0 1099.7 183.6 1099.7 188.9 1099.9 182.5 1100.0 203.0 1100.1 195.1 1100.1 196.1 1100.3 187.0 1100.4 207.6 1100.4 187.1 1100.4 188.9 1100.7 216.8 1100.7 206.5 1100.8 195.4 1100.8 174.4 1100.9 205.4 1101.1 193.8 1101.1 190.5 1101.2 179.5 1101.4 211.3 1101.4 203.2 1101.4 213.6 1101.6 184.3 1101.8 198.4 1101.8 195.4 1101.9 188.2 1102.0 211.6 1102.1 206.2 1102.1 204.4 1102.1 195.5 1102.2 225.9 1102.5 208.7 1102.5 204.8 1102.5 196.2 1102.6 220.4 1102.8 198.7 1102.8 198.9 1102.8 197.0 1103.1 226.0 1103.1 209.6 1103.1 200.3 1103.2 199.4 1103.2 210.5 1103.5 200.1 1103.5 216.3 1103.5 220.5 1103.6 203.5 1103.8 210.6 1103.8 204.6 1104.0 199.1 1104.2 228.2 1104.2 226.7 1104.4 204.5 1104.5 236.5 1104.5 228.2 1104.5 216.7 1104.6 235.1 1104.8 206.9 1104.8 217.4 1104.8 217.8 1105.1 231.4 1105.2 212.5 1105.2 215.2 1105.3 230.9 1105.5 211.8 1105.5 217.4 1105.5 209.9 1105.7 238.5 1105.8 222.7 1105.9 219.7 1105.9 218.9 1106.0 245.4 1106.2 227.0 1106.2 223.1 1106.3 236.3 1106.3 216.7 1106.5 229.0 1106.5 223.4 1106.7 222.0 1106.9 241.4 1106.9 239.6 1107.1 248.3 1107.1 220.2 1107.2 235.5 1107.2 240.5 1107.5 246.4 1107.6 232.2 1107.6 239.3 1107.7 245.0 1107.8 231.7 1107.9 235.8 1107.9 234.6 1107.9 232.8 1108.0 246.0 1108.2 243.1 1108.2 238.7 1108.3 246.4 1108.5 233.8 1108.6 236.1 1108.6 243.5 1108.7 237.7 1108.9 256.1 1108.9 247.1 1108.9 243.6 1109.0 253.9 1109.2 237.5 1109.3 251.1 1109.3 254.9 1109.5 242.2 1109.6 248.3 1109.6 242.5 1109.7 259.8 1109.9 249.6 1109.9 249.2 1110.0 244.4 1110.2 260.6 1110.3 252.3 1110.3 255.9 1110.3 250.1 1110.6 262.9 1110.6 259.2 1110.6 258.3 1110.7 261.8 1110.9 252.8 1111.0 254.1 1111.0 259.8 1111.0 244.9 1111.1 265.1 1111.3 251.2 1111.3 253.8 1111.3 252.4 1111.4 266.9 1111.6 262.2 1111.6 261.8 1111.7 268.0 1111.8 256.8 1112.0 265.2 1112.0 263.9 1112.1 257.4 1112.2 275.3 1112.3 266.6 1112.3 264.2 1112.4 270.3 1112.5 259.6 1112.7 264.4 1112.7 269.0 1112.9 259.6 1113.0 274.5 1113.0 270.5 1113.2 264.9 1113.3 274.2 1113.3 269.3 1113.3 271.9 1113.4 266.1 1113.5 275.8 1113.7 270.8 1113.7 268.4 1113.9 279.3 1114.0 275.9 1114.0 277.2 1114.1 266.7 1114.2 282.1 1114.4 274.7 1114.4 274.3 1114.4 283.6 1114.7 278.1 1114.7 278.9 1114.8 273.0 1115.0 283.7 1115.0 280.6 1115.0 278.4 1115.2 277.4 1115.4 285.6 1115.4 286.8 1115.4 278.8 1115.6 287.5 1115.7 287.0 1115.7 289.4 1115.9 292.0 1116.0 282.2 1116.1 283.6 1116.1 283.5 1116.1 290.8 1116.3 283.5 1116.4 289.2 1116.4 289.4 1116.4 284.9 1116.7 292.6 1116.7 287.8 1116.7 290.1 1116.8 292.1 1117.0 284.9 1117.1 290.5 1117.1 290.2 1117.1 285.7 1117.3 294.1 1117.4 292.4 1117.4 290.8 1117.5 289.8 1117.6 294.8 1117.8 292.8 1117.8 294.0 1117.9 297.0 1118.0 291.5 1118.1 294.5 1118.1 296.1 1118.2 292.7 1118.3 299.2 1118.4 298.3 1118.4 296.9 1118.6 293.9 1118.7 299.2 1118.8 298.6 1118.8 296.9 1118.8 295.9 1119.0 300.5 1119.1 297.1 1119.1 295.3 1119.3 302.0 1119.5 300.7 1119.5 299.9 1119.5 298.8 1119.8 302.9 1119.8 302.2 1119.9 299.9 1120.1 303.9 1120.1 302.6 1120.1 303.2 1120.4 303.9 1120.4 300.8 1120.5 302.4 1120.5 302.3 1120.7 306.6 1120.8 304.4 1120.8 304.5 1120.8 303.2 1120.9 306.3 1121.2 305.4 1121.2 305.1 1121.2 304.2 1121.4 307.0 1121.5 306.3 1121.5 306.3 1121.6 305.0 1121.8 308.0 1121.8 307.9 1121.8 308.3 1121.8 308.4 1122.0 305.9 1122.2 308.0 1122.2 308.4 1122.4 307.1 1122.5 309.6 1122.5 308.1 1122.5 308.6 1122.5 308.1 1122.8 309.9 1122.9 309.2 1122.9 309.3 1122.9 308.4 1123.0 310.4 1123.2 309.5 1123.2 309.7 1123.4 311.3 1123.5 308.9 1123.5 310.7 1123.5 310.9 1123.7 311.0 1123.8 309.7 1123.9 310.5 1123.9 310.6 1123.9 310.1 1124.0 311.8 1124.2 310.9 1124.2 311.1 1124.3 311.8 1124.4 310.7 1124.6 311.4 1124.6 311.1 1124.8 312.2 1124.9 311.1 1124.9 312.0 1124.9 312.1 1125.0 311.1 1125.1 312.4 1125.2 312.1 1125.2 311.7 1125.2 311.5 1125.5 312.8 1125.6 312.5 1125.6 312.3 1125.6 311.7 1125.8 313.0 1125.9 312.6 1125.9 312.8 1126.1 311.9 1126.2 313.3 1126.3 312.9 1126.3 312.6 1126.3 312.4 1126.4 313.5 1126.6 313.2 1126.6 313.1 1126.6 313.5 1126.8 312.7 1126.9 312.9 1126.9 313.2 1127.1 312.9 1127.3 313.7 1127.3 313.7 1127.3 313.6 1127.3 313.1 1127.6 314.0 1127.6 313.6 1127.6 313.7 1127.8 314.3 1127.9 313.3 1128.0 314.1 1128.0 313.9 1128.0 314.2 1128.3 313.6 1128.3 313.9 1128.3 314.0 1128.5 313.8 1128.6 314.5 1128.6 314.0 1128.6 314.1 1128.8 314.5 1128.8 314.0 1129.0 314.5 1129.0 314.4 1129.1 314.0 1129.1 314.7 1129.3 314.3 1129.3 314.4 1129.5 314.7 1129.6 314.1 1129.7 314.5 1129.7 314.6 1129.9 314.3 1130.0 314.8 1130.0 314.6 1130.0 314.5 1130.1 314.4 1130.2 314.8 1130.3 314.6 1130.3 314.6 1130.5 314.9 1130.6 314.4 1130.7 314.7 1130.7 314.7 1130.7 314.5 1130.9 315.0 1131.0 314.7 1131.0 314.8 1131.2 314.6 1131.3 315.1 1131.4 314.8 1131.4 314.8 1131.5 314.6 1131.6 315.0 1131.7 314.9 1131.7 314.9 1131.7 315.1 1131.9 314.8 1132.0 314.9 1132.0 315.0 1132.1 314.8 1132.3 315.2 1132.4 315.0 1132.4 314.9 1132.5 314.9 1132.5 315.2 1132.7 315.1 1132.7 315.0 1132.7 314.9 1133.0 315.2 1133.1 315.0 1133.1 315.0 1133.2 314.9 1133.2 315.2 1133.4 315.0 1133.4 315.0 1133.5 315.0 1133.7 315.3 1133.7 315.1 1133.7 315.1 1133.9 315.0 1133.9 315.3 1134.1 315.1 1134.1 315.0 1134.1 315.0 1134.4 315.3 1134.4 315.3 1134.4 315.3 1134.6 315.4 1134.6 315.1 1134.8 315.2 1134.8 315.2 1135.0 315.1 1135.1 315.4 1135.1 315.4 1135.1 315.4 1135.3 315.2 1135.4 315.3 1135.4 315.3 1135.6 315.2 1135.8 315.5 1135.8 315.4 1135.8 315.5 1135.9 315.5 1136.0 315.2 1136.1 315.4 1136.1 315.4 1136.2 315.3 1136.4 315.5 1136.5 315.4 1136.5 315.4 1136.5 315.4 1136.6 315.6 1136.8 315.4 1136.8 315.4 1136.8 315.3 1136.9 315.6 1137.1 315.4 1137.1 315.4 1137.4 315.6 1137.5 315.4 1137.5 315.5 1137.5 315.6 1137.7 315.3 1137.8 315.5 1137.8 315.5 1137.8 315.4 1138.1 315.6 1138.2 315.5 1138.2 315.6 1138.4 315.6 1138.5 315.4 1138.5 315.4 1138.6 315.6 1138.8 315.6 1138.8 315.6 1138.9 315.5 1139.1 315.7 1139.2 315.6 1139.2 315.6 1139.3 315.7 1139.3 315.4 1139.5 315.6 1139.5 315.6 1139.6 315.5 1139.8 315.6 1139.9 315.6 1139.9 315.6 1139.9 315.5 1140.2 315.7 1140.2 315.6 1140.2 315.6 1140.4 315.7 1140.5 315.5 1140.5 315.5 1140.7 315.7 1140.8 315.5 1140.9 315.6 1140.9 315.6 1141.0 315.5 1141.1 315.7 1141.2 315.6" stroke="#cc0000"/><path d="M880.8 303.7 900.8 315.0 912.5 314.1 920.8 313.3 927.3 312.6 932.5 311.9 937.0 311.1 940.9 310.4 944.3 309.6 947.3 308.4 950.1 307.8 952.6 306.8 954.9 305.7 957.0 305.0 959.0 304.3 960.9 303.6 962.7 303.7 964.3 303.2 965.9 302.5 967.3 301.1 968.8 300.2 970.1 299.3 971.4 299.1 972.6 298.5 973.8 298.7 974.9 298.2 976.0 297.3 977.1 296.8 978.1 297.1 979.1 296.5 980.0 295.7 980.9 295.4 981.8 294.3 982.7 293.1 983.5 292.4 984.3 292.4 985.1 292.7 985.9 291.2 986.6 290.8 987.4 289.6 988.1 288.8 988.8 288.4 989.5 286.3 990.1 286.3 990.8 284.7 991.4 285.8 992.0 286.4 992.7 286.0 993.2 285.7 993.8 285.9 994.4 283.7 995.0 283.8 995.5 283.4 996.1 281.1 996.6 281.6 997.1 281.7 997.6 282.1 998.1 282.9 998.6 282.1 999.1 281.5 999.6 279.2 1000.0 278.7 1000.5 277.8 1001.0 276.3 1001.4 274.1 1001.9 272.6 1002.3 270.6 1002.7 271.1 1003.1 268.3 1003.6 269.5 1004.0 267.5 1004.4 264.5 1004.8 265.0 1005.2 265.0 1005.5 268.4 1005.9 266.5 1006.3 264.7 1006.7 262.4 1007.1 258.9 1007.4 258.6 1007.8 260.6 1008.1 257.4 1008.5 260.7 1008.8 259.3 1009.2 259.9 1009.5 259.2 1009.8 260.5 1010.2 260.8 1010.5 259.7 1010.8 258.7 1011.1 258.7 1011.5 256.9 1011.8 257.6 1012.1 260.7 1012.4 262.1 1012.7 262.0 1013.0 262.9 1013.3 261.8 1013.6 260.9 1013.9 262.8 1014.2 264.2 1014.4 261.8 1014.7 258.6 1015.0 260.3 1015.3 256.9 1015.5 252.7 1015.8 254.0 1016.1 261.5 1016.4 263.7 1016.6 268.5 1016.9 262.6 1017.1 262.9 1017.4 259.7 1017.7 258.2 1017.9 255.9 1018.2 258.9 1018.4 259.6 1018.6 259.6 1018.9 260.6 1019.1 261.2 1019.4 264.4 1019.6 260.8 1019.8 259.0 1020.1 258.0 1020.3 258.4 1020.5 255.4 1020.8 258.2 1021.0 259.6 1021.2 262.2 1021.4 263.1 1021.7 259.4 1021.9 259.4 1022.1 259.5 1022.3 260.1 1022.5 261.1 1022.8 261.0 1023.0 257.2 1023.2 258.2 1023.4 263.2 1023.6 260.9 1023.8 257.2 1024.0 258.9 1024.2 258.4 1024.4 260.2 1024.6 264.6 1024.8 260.1 1025.0 262.8 1025.2 256.7 1025.4 252.0 1025.6 256.6 1025.8 260.0 1026.0 261.8 1026.2 263.2 1026.3 261.3 1026.5 262.1 1026.7 261.3 1026.9 258.7 1027.1 261.5 1027.3 264.6 1027.4 270.2 1027.6 272.3 1027.8 267.9 1028.0 265.7 1028.2 260.5 1028.3 257.9 1028.5 256.8 1028.7 258.1 1028.9 261.3 1029.0 258.5 1029.2 258.8 1029.4 258.1 1029.5 261.3 1029.7 264.4 1029.9 261.3 1030.0 265.7 1030.2 261.6 1030.4 265.8 1030.5 267.0 1030.7 267.3 1030.9 261.1 1031.0 262.7 1031.2 260.2 1031.3 266.8 1031.5 267.3 1031.6 264.2 1031.8 260.3 1032.0 265.2 1032.1 266.7 1032.3 265.4 1032.4 268.4 1032.6 267.2 1032.7 268.9 1032.9 269.6 1033.0 268.3 1033.2 266.5 1033.3 272.8 1033.5 269.5 1033.6 271.0 1033.8 273.3 1033.9 269.1 1034.0 264.3 1034.2 265.2 1034.3 264.1 1034.5 261.9 1034.6 267.3 1034.8 262.8 1034.9 260.6 1035.0 261.8 1035.2 263.4 1035.3 263.7 1035.4 262.4 1035.6 262.5 1035.7 259.6 1035.9 261.7 1036.0 258.8 1036.1 261.1 1036.3 260.6 1036.4 261.9 1036.5 266.0 1036.7 267.1 1036.8 267.6 1036.9 266.9 1037.0 262.3 1037.2 263.2 1037.3 264.5 1037.4 265.9 1037.6 266.1 1037.7 263.0 1037.8 262.0 1037.9 266.0 1038.1 264.0 1038.2 265.4 1038.3 265.4 1038.4 262.9 1038.6 259.4 1038.7 256.4 1038.8 260.7 1038.9 264.9 1039.0 267.9 1039.2 267.9 1039.3 270.9 1039.4 271.0 1039.5 271.6 1039.6 271.6 1039.8 272.3 1039.9 266.5 1040.0 263.8 1040.1 262.8 1040.2 267.6 1040.3 270.2 1040.5 270.8 1040.6 268.4 1040.7 269.5 1040.8 274.4 1040.9 276.8 1041.0 275.3 1041.1 270.0 1041.3 270.2 1041.4 270.3 1041.5 271.3 1041.6 271.5 1041.7 269.9 1041.8 268.2 1041.9 265.6 1042.0 269.8 1042.1 270.4 1042.2 269.5 1042.4 269.1 1042.5 271.6 1042.6 266.8 1042.7 272.1 1042.8 273.8 1042.9 273.8 1043.0 270.6 1043.1 268.0 1043.2 268.4 1043.3 267.4 1043.4 265.7 1043.5 267.6 1043.6 266.6 1043.7 269.8 1043.8 270.6 1043.9 276.0 1044.0 275.1 1044.1 269.1 1044.2 270.2 1044.3 269.2 1044.4 270.4 1044.5 273.2 1044.6 270.0 1044.7 266.4 1044.8 263.5 1044.9 262.4 1045.0 264.8 1045.1 260.1 1045.2 259.3 1045.3 260.4 1045.4 264.5 1045.5 265.7 1045.6 264.6 1045.7 262.9 1045.8 266.4 1045.9 264.7 1046.0 267.1 1046.1 264.5 1046.2 266.7 1046.3 266.2 1046.4 267.7 1046.5 263.3 1046.6 264.0 1046.7 269.5 1046.7 271.3 1046.8 269.7 1046.9 267.9 1047.0 265.4 1047.1 267.1 1047.2 260.3 1047.3 258.2 1047.4 256.1 1047.5 258.7 1047.6 260.6 1047.7 264.7 1047.8 262.9 1047.8 260.4 1047.9 265.5 1048.0 264.3 1048.1 259.4 1048.2 259.4 1048.3 262.6 1048.4 265.7 1048.5 261.5 1048.5 261.0 1048.6 262.7 1048.7 260.8 1048.8 258.6 1048.9 259.2 1049.0 260.2 1049.1 258.7 1049.1 260.8 1049.2 261.3 1049.3 263.9 1049.4 269.0 1049.5 266.1 1049.6 260.7 1049.7 261.9 1049.7 264.9 1049.8 261.3 1049.9 259.8 1050.0 258.8 1050.1 259.0 1050.2 261.8 1050.2 260.5 1050.3 254.3 1050.4 257.8 1050.5 259.1 1050.6 255.2 1050.6 257.0 1050.7 261.3 1050.8 260.1 1050.9 269.4 1051.0 271.2 1051.0 274.9 1051.1 272.1 1051.4 263.1 1051.5 262.4 1051.6 262.5 1051.7 265.4 1051.8 264.6 1051.8 264.8 1051.9 264.1 1052.0 261.9 1052.1 262.0 1052.1 262.1 1052.4 260.5 1052.4 265.3 1052.5 265.1 1052.6 269.4 1052.7 261.2 1052.8 263.4 1052.8 265.0 1052.9 265.2 1053.1 258.7 1053.2 258.3 1053.3 265.4 1053.5 263.9 1053.6 259.7 1053.6 260.4 1053.7 267.1 1053.8 269.6 1053.9 267.4 1054.1 266.9 1054.1 271.6 1054.2 269.5 1054.5 259.9 1054.6 258.7 1054.7 257.1 1054.9 262.9 1054.9 264.9 1055.0 260.8 1055.1 262.5 1055.1 263.3 1055.2 262.9 1055.3 263.7 1055.5 259.6 1055.5 263.4 1055.8 249.1 1055.9 256.4 1056.0 251.2 1056.2 261.7 1056.2 262.8 1056.6 253.6 1056.6 256.2 1056.8 251.4 1056.9 263.4 1056.9 261.9 1057.1 255.8 1057.2 257.3 1057.3 259.7 1057.5 261.7 1057.5 257.1 1057.6 255.8 1057.7 254.0 1057.9 263.2 1058.0 264.4 1058.2 274.0 1058.3 267.5 1058.6 249.4 1058.7 249.2 1058.9 259.9 1059.0 259.4 1059.1 262.3 1059.3 252.5 1059.3 250.7 1059.4 248.2 1059.4 252.5 1059.6 250.1 1059.7 255.0 1059.8 261.1 1059.9 254.7 1059.9 256.2 1060.0 253.7 1060.0 250.3 1060.2 257.8 1060.3 253.7 1060.3 254.0 1060.4 258.0 1060.6 245.6 1060.6 247.0 1060.7 245.5 1060.8 255.6 1061.0 250.2 1061.0 251.9 1061.1 245.6 1061.3 260.1 1061.3 260.4 1061.4 262.2 1061.6 248.3 1061.7 245.1 1061.9 249.5 1062.0 248.2 1062.0 247.9 1062.1 248.1 1062.2 240.4 1062.3 244.3 1062.4 248.0 1062.4 247.3 1062.6 257.4 1062.7 252.3 1062.7 247.4 1062.8 244.1 1062.9 250.2 1063.0 248.9 1063.0 244.3 1063.2 239.2 1063.3 249.8 1063.3 245.0 1063.4 248.3 1063.5 232.1 1063.7 238.7 1063.7 234.3 1063.8 231.3 1063.9 235.7 1064.0 234.0 1064.1 232.1 1064.2 248.4 1064.4 238.0 1064.4 242.6 1064.5 236.4 1064.6 244.5 1064.7 240.9 1064.8 248.1 1064.8 242.5 1064.9 257.7 1065.0 249.0 1065.1 242.7 1065.2 233.1 1065.4 233.5 1065.4 233.4 1065.6 231.6 1065.7 239.3 1065.7 240.6 1065.8 238.9 1066.0 251.7 1066.0 247.1 1066.1 242.3 1066.4 227.8 1066.4 229.7 1066.5 235.6 1066.5 243.2 1066.7 231.2 1066.7 235.5 1066.8 234.3 1066.9 233.3 1067.0 244.2 1067.1 242.5 1067.1 245.0 1067.2 245.3 1067.4 227.6 1067.4 229.1 1067.5 230.6 1067.6 246.4 1067.7 233.1 1067.8 235.5 1067.9 245.0 1068.1 226.0 1068.1 229.4 1068.2 220.1 1068.4 256.3 1068.5 245.0 1068.5 249.0 1068.8 231.5 1068.8 236.8 1069.0 230.2 1069.1 241.8 1069.1 239.2 1069.2 239.6 1069.3 246.6 1069.5 219.1 1069.5 221.9 1069.8 241.0 1069.8 233.3 1069.9 234.8 1070.0 220.4 1070.1 233.7 1070.2 223.1 1070.4 218.1 1070.5 234.9 1070.5 230.8 1070.6 230.2 1070.8 236.3 1070.9 230.3 1071.0 234.0 1071.1 222.2 1071.2 222.8 1071.2 228.5 1071.3 238.3 1071.5 224.0 1071.6 233.1 1071.6 221.5 1071.8 238.2 1071.9 231.0 1071.9 221.5 1072.1 232.8 1072.2 227.8 1072.2 221.4 1072.4 217.8 1072.5 232.9 1072.6 230.0 1072.7 238.0 1072.8 219.6 1072.9 220.4 1072.9 232.1 1073.0 232.1 1073.2 217.4 1073.2 225.5 1073.2 221.0 1073.3 228.6 1073.5 202.3 1073.5 212.3 1073.6 227.8 1073.9 216.2 1073.9 210.0 1074.2 232.0 1074.3 237.6 1074.6 220.1 1074.6 222.4 1074.8 232.4 1074.9 230.6 1074.9 224.0 1075.1 235.1 1075.2 233.0 1075.3 226.2 1075.6 238.9 1075.6 234.1 1075.7 217.9 1075.8 253.6 1075.9 227.6 1076.0 226.4 1076.1 220.2 1076.2 235.1 1076.3 233.9 1076.3 232.6 1076.3 234.6 1076.5 214.2 1076.6 229.4 1076.6 233.8 1076.8 216.2 1076.9 227.8 1077.0 223.1 1077.2 241.9 1077.3 231.0 1077.3 224.8 1077.4 204.0 1077.6 229.3 1077.7 230.2 1077.8 229.9 1077.9 237.2 1078.0 232.7 1078.0 229.1 1078.2 244.6 1078.3 224.4 1078.3 225.0 1078.3 237.6 1078.4 229.8 1078.6 245.6 1078.7 242.1 1078.7 235.3 1078.8 222.8 1078.9 235.4 1079.0 224.2 1079.0 230.4 1079.2 243.1 1079.3 227.7 1079.3 237.3 1079.4 233.2 1079.6 214.9 1079.7 225.7 1079.7 241.0 1079.8 248.1 1079.9 234.3 1080.0 234.5 1080.0 235.1 1080.1 216.9 1080.3 243.1 1080.4 232.2 1080.4 230.9 1080.4 243.6 1080.5 225.5 1080.7 233.7 1080.7 221.3 1080.9 237.3 1081.0 231.7 1081.0 227.7 1081.2 241.0 1081.4 233.0 1081.4 233.2 1081.5 232.9 1081.6 243.7 1081.7 238.2 1081.7 234.1 1081.9 245.9 1082.0 231.3 1082.0 236.9 1082.1 229.9 1082.2 229.5 1082.4 249.2 1082.4 249.0 1082.4 242.2 1082.6 261.1 1082.7 239.3 1082.7 246.1 1082.7 242.4 1082.8 254.2 1083.0 234.3 1083.1 235.6 1083.1 238.8 1083.1 248.0 1083.2 222.1 1083.4 244.4 1083.4 247.9 1083.6 249.4 1083.7 233.3 1083.7 240.9 1083.8 248.0 1083.9 235.4 1084.0 256.8 1084.1 244.9 1084.1 242.7 1084.2 225.8 1084.4 247.3 1084.4 240.1 1084.5 244.3 1084.6 241.1 1084.7 255.7 1084.8 249.5 1084.8 244.2 1084.9 241.0 1085.1 248.1 1085.1 244.4 1085.1 241.8 1085.2 251.6 1085.4 229.2 1085.4 241.8 1085.5 247.5 1085.7 252.1 1085.8 244.2 1085.8 247.9 1085.8 245.8 1086.0 233.3 1086.1 256.0 1086.2 257.1 1086.2 236.9 1086.5 260.9 1086.5 257.3 1086.6 240.9 1086.8 262.1 1086.8 259.4 1087.0 239.5 1087.1 261.8 1087.2 254.3 1087.3 243.5 1087.4 266.5 1087.5 254.7 1087.5 252.7 1087.6 255.4 1087.7 243.0 1087.8 248.2 1087.8 240.6 1088.0 239.3 1088.1 261.9 1088.2 248.4 1088.2 248.9 1088.3 240.7 1088.5 253.8 1088.5 251.5 1088.7 241.0 1088.9 258.8 1088.9 251.8 1089.0 254.8 1089.1 235.5 1089.2 242.8 1089.2 238.4 1089.4 255.2 1089.5 253.4 1089.6 253.0 1089.6 241.5 1089.8 262.4 1089.9 255.5 1089.9 251.9 1090.1 239.8 1090.2 254.3 1090.2 252.1 1090.3 245.1 1090.5 259.8 1090.6 252.8 1090.6 244.4 1090.8 260.4 1090.9 256.9 1090.9 255.2 1091.1 243.4 1091.2 262.5 1091.2 254.4 1091.3 254.3 1091.3 267.3 1091.4 251.4 1091.6 260.0 1091.6 258.6 1091.8 249.6 1091.9 261.5 1091.9 262.7 1092.1 266.1 1092.2 252.2 1092.2 255.5 1092.3 252.4 1092.3 248.3 1092.4 263.9 1092.6 257.3 1092.6 249.9 1092.6 248.0 1092.9 262.7 1092.9 249.1 1092.9 246.5 1093.0 244.6 1093.2 265.3 1093.3 265.3 1093.3 265.3 1093.6 255.5 1093.6 260.0 1093.6 262.0 1093.7 272.2 1093.9 255.7 1093.9 255.8 1094.0 259.2 1094.1 251.1 1094.2 267.2 1094.3 258.8 1094.3 259.0 1094.5 270.6 1094.5 253.9 1094.6 258.6 1094.6 258.1 1094.7 250.7 1095.0 265.2 1095.0 262.3 1095.0 264.0 1095.0 268.3 1095.3 246.6 1095.3 251.5 1095.3 245.4 1095.3 244.8 1095.4 275.2 1095.6 270.6 1095.7 268.9 1095.7 272.0 1095.8 257.5 1096.0 264.4 1096.0 266.7 1096.2 258.3 1096.3 259.4 1096.4 256.5 1096.4 270.0 1096.6 256.1 1096.7 266.5 1096.7 263.5 1096.8 269.8 1096.9 258.8 1097.0 268.0 1097.0 261.1 1097.1 261.0 1097.2 277.2 1097.4 268.1 1097.4 265.3 1097.5 260.5 1097.5 274.8 1097.7 269.6 1097.7 269.9 1097.9 260.4 1098.0 276.6 1098.1 279.3 1098.1 256.1 1098.4 272.6 1098.4 266.8 1098.4 257.3 1098.6 272.5 1098.7 269.0 1098.7 262.1 1098.9 278.3 1099.1 269.4 1099.1 272.5 1099.1 266.7 1099.3 279.4 1099.4 272.9 1099.4 273.8 1099.6 263.2 1099.7 278.5 1099.7 271.7 1099.7 270.3 1099.8 266.0 1100.0 283.6 1100.1 274.3 1100.1 271.6 1100.2 267.8 1100.3 277.2 1100.4 277.1 1100.4 275.4 1100.6 282.7 1100.7 268.2 1100.7 276.8 1100.8 272.4 1100.9 278.0 1101.0 269.7 1101.1 271.1 1101.1 272.2 1101.1 270.6 1101.2 280.4 1101.4 274.7 1101.4 280.7 1101.6 285.0 1101.7 269.0 1101.8 277.3 1101.8 275.5 1102.0 278.7 1102.1 272.5 1102.1 277.6 1102.1 277.3 1102.2 285.8 1102.3 272.4 1102.5 274.4 1102.5 274.4 1102.7 285.1 1102.8 274.3 1102.8 279.1 1102.8 279.2 1102.9 283.6 1102.9 273.5 1103.1 278.1 1103.1 283.5 1103.3 274.1 1103.3 287.9 1103.5 280.0 1103.5 281.4 1103.5 286.2 1103.7 273.7 1103.8 283.3 1103.8 284.1 1104.0 277.3 1104.1 289.3 1104.2 283.2 1104.2 285.5 1104.4 276.4 1104.5 288.0 1104.5 284.0 1104.7 278.2 1104.7 292.1 1104.8 285.1 1104.8 281.6 1105.1 293.1 1105.2 280.8 1105.2 282.2 1105.2 283.8 1105.2 282.1 1105.5 293.5 1105.5 284.9 1105.5 283.5 1105.7 293.9 1105.8 282.5 1105.8 285.6 1105.9 283.8 1106.1 293.3 1106.2 289.4 1106.2 290.6 1106.3 282.1 1106.5 293.6 1106.5 288.6 1106.5 289.5 1106.7 295.2 1106.8 286.6 1106.9 288.8 1106.9 288.7 1107.0 296.8 1107.1 288.2 1107.2 290.0 1107.2 290.5 1107.5 288.6 1107.5 295.6 1107.6 294.1 1107.6 292.9 1107.7 285.3 1107.9 297.5 1107.9 295.3 1107.9 295.5 1108.1 289.9 1108.2 290.4 1108.2 295.0 1108.4 291.7 1108.5 300.8 1108.6 296.9 1108.6 298.1 1108.7 300.2 1108.9 293.3 1108.9 295.2 1108.9 294.1 1109.0 299.7 1109.3 292.9 1109.3 296.7 1109.4 293.9 1109.6 300.6 1109.6 298.1 1109.6 294.7 1109.6 293.7 1109.9 299.8 1109.9 296.4 1109.9 298.1 1110.1 297.6 1110.2 302.3 1110.3 299.3 1110.3 298.6 1110.6 296.9 1110.6 304.0 1110.6 303.2 1110.6 303.3 1110.9 298.1 1111.0 300.4 1111.0 300.3 1111.1 298.7 1111.3 304.8 1111.3 302.3 1111.3 301.5 1111.3 299.1 1111.5 304.4 1111.6 303.4 1111.6 303.9 1111.7 305.0 1111.8 299.3 1112.0 304.9 1112.0 302.6 1112.1 301.7 1112.3 305.5 1112.3 305.1 1112.3 304.0 1112.3 301.3 1112.5 305.7 1112.7 304.6 1112.7 303.5 1112.7 302.0 1112.9 305.8 1113.0 305.7 1113.0 305.1 1113.1 302.5 1113.2 306.8 1113.3 305.8 1113.3 306.0 1113.4 305.3 1113.5 308.4 1113.7 306.0 1113.7 306.2 1113.8 305.0 1113.8 308.7 1114.0 306.7 1114.0 306.6 1114.1 308.3 1114.3 304.3 1114.4 307.1 1114.4 306.9 1114.4 305.6 1114.6 308.7 1114.7 306.9 1114.7 307.1 1114.9 305.8 1115.0 308.8 1115.0 308.3 1115.0 307.7 1115.2 306.8 1115.3 309.1 1115.4 308.0 1115.4 308.4 1115.5 310.2 1115.6 307.2 1115.7 308.4 1115.7 308.1 1115.9 308.1 1116.0 309.8 1116.1 308.6 1116.1 308.6 1116.2 307.6 1116.3 309.8 1116.4 309.2 1116.4 309.5 1116.6 308.4 1116.7 310.4 1116.7 308.7 1116.7 308.5 1116.8 307.6 1117.0 310.8 1117.1 308.7 1117.1 308.5 1117.4 311.3 1117.4 311.0 1117.4 309.9 1117.6 311.3 1117.7 309.8 1117.8 310.7 1117.8 310.6 1117.8 310.2 1118.0 311.9 1118.1 310.6 1118.1 310.8 1118.3 311.9 1118.4 309.9 1118.4 311.3 1118.4 311.2 1118.6 310.6 1118.8 312.3 1118.8 312.5 1119.0 310.7 1119.1 311.5 1119.1 311.4 1119.1 311.1 1119.4 312.7 1119.5 311.9 1119.5 312.3 1119.5 312.6 1119.8 311.3 1119.8 312.0 1119.8 312.4 1119.9 312.9 1120.0 311.4 1120.1 312.7 1120.1 312.3 1120.4 311.8 1120.4 312.8 1120.5 312.1 1120.5 311.8 1120.5 311.5 1120.7 313.2 1120.8 313.1 1120.8 312.6 1120.9 311.9 1121.0 313.0 1121.2 312.5 1121.2 312.7 1121.3 313.4 1121.4 312.1 1121.5 312.1 1121.5 312.1 1121.6 313.5 1121.7 311.8 1121.8 312.9 1121.8 312.8 1122.0 312.4 1122.1 313.8 1122.2 313.0 1122.2 312.6 1122.3 314.1 1122.5 313.0 1122.5 313.0 1122.6 314.0 1122.8 313.0 1122.9 313.6 1122.9 313.6 1122.9 314.0 1123.0 313.0 1123.2 313.3 1123.2 313.4 1123.3 313.2 1123.4 314.2 1123.5 313.8 1123.5 314.0 1123.6 313.2 1123.7 314.2 1123.9 313.9 1123.9 314.0 1123.9 314.1 1124.0 313.3 1124.2 313.4 1124.2 313.5 1124.2 313.3 1124.5 314.4 1124.6 314.2 1124.6 314.1 1124.8 314.5 1124.8 313.4 1124.9 314.4 1124.9 314.3 1124.9 314.7 1125.1 313.6 1125.2 314.4 1125.2 314.5 1125.4 314.8 1125.4 314.0 1125.6 314.3 1125.6 314.4 1125.7 314.8 1125.9 314.1 1125.9 314.4 1125.9 314.5 1126.1 314.8 1126.2 314.2 1126.3 314.7 1126.3 314.7 1126.5 314.3 1126.6 314.9 1126.6 314.6 1126.6 314.6 1126.8 314.9 1126.9 314.5 1126.9 314.6 1126.9 314.6 1127.1 315.0 1127.1 314.4 1127.3 314.9 1127.3 315.0 1127.3 315.1 1127.4 314.5 1127.6 314.7 1127.6 314.6 1127.6 314.6 1127.8 315.2 1128.0 315.0 1128.0 314.8 1128.0 315.2 1128.1 314.6 1128.3 315.0 1128.3 315.0 1128.4 314.7 1128.5 315.3 1128.6 314.9 1128.6 315.0 1128.7 315.2 1128.8 314.9 1129.0 315.1 1129.0 315.2 1129.1 315.3 1129.1 314.8 1129.3 315.1 1129.3 314.9 1129.4 315.4 1129.4 314.9 1129.7 315.1 1129.7 315.0 1129.8 314.9 1129.9 315.3 1130.0 315.2 1130.0 315.2 1130.0 314.9 1130.3 315.4 1130.3 315.3 1130.3 315.2 1130.5 315.4 1130.6 315.1 1130.7 315.2 1130.7 315.4 1130.8 315.1 1131.0 315.5 1131.0 315.3 1131.0 315.2 1131.2 315.2 1131.3 315.4 1131.4 315.2 1131.4 315.1 1131.6 315.5 1131.7 315.3 1131.7 315.3 1131.9 315.1 1132.0 315.6 1132.0 315.4 1132.0 315.4 1132.3 315.2 1132.3 315.6 1132.4 315.4 1132.4 315.4 1132.6 315.7 1132.7 315.3 1132.7 315.5 1132.7 315.4 1132.8 315.3 1133.0 315.7 1133.1 315.5 1133.1 315.4 1133.1 315.3 1133.4 315.7 1133.4 315.6 1133.4 315.6 1133.6 315.4 1133.7 315.6 1133.7 315.4 1133.7 315.5 1133.9 315.4 1133.9 315.7 1134.1 315.5 1134.1 315.5 1134.2 315.4 1134.4 315.7 1134.4 315.6 1134.4 315.6 1134.5 315.4 1134.7 315.7 1134.8 315.6 1134.8 315.5 1134.9 315.4 1135.0 315.7 1135.1 315.6 1135.1 315.5 1135.1 315.5 1135.3 315.7 1135.4 315.7 1135.4 315.6 1135.5 315.7 1135.7 315.5 1135.8 315.6 1135.8 315.6 1135.9 315.7 1136.1 315.7 1136.1 315.7 1136.4 315.6 1136.5 315.8 1136.5 315.7 1136.5 315.7 1136.5 315.7 1136.5 315.6 1136.8 315.7 1136.8 315.7 1136.9 315.8 1136.9 315.6 1137.1 315.7 1137.1 315.6 1137.2 315.6 1137.4 315.8 1137.5 315.7 1137.5 315.8 1137.5 315.6 1137.6 315.8 1137.8 315.7 1137.8 315.7 1138.0 315.8 1138.1 315.6 1138.2 315.8 1138.2 315.8 1138.2 315.7 1138.3 315.8 1138.5 315.8 1138.5 315.8 1138.5 315.9 1138.6 315.7 1138.8 315.8 1138.8 315.7 1139.0 315.7 1139.1 315.9 1139.2 315.8 1139.2 315.8 1139.2 315.7 1139.4 315.9 1139.5 315.7 1139.5 315.7 1139.6 315.9 1139.7 315.7 1139.9 315.8 1139.9 315.8 1140.2 315.7 1140.2 315.9 1140.2 315.8 1140.2 315.8 1140.2 315.7 1140.4 315.9 1140.5 315.8 1140.5 315.8 1140.6 315.7 1140.8 315.9 1140.9 315.8 1140.9 315.8 1140.9 315.9 1141.1 315.7 1141.2 315.8" stroke="#00c800"/><path d="M880.8 315.5 900.8 315.7 912.5 315.8 920.8 315.8 927.3 315.8 932.5 315.8 937.0 315.8 940.9 315.8 944.3 315.8 947.3 315.8 950.1 315.8 952.6 315.8 954.9 315.8 957.0 315.8 959.0 315.8 960.9 315.7 962.7 315.7 964.3 315.7 965.9 315.7 967.3 315.7 968.8 315.7 970.1 315.6 971.4 315.6 972.6 315.6 973.8 315.6 974.9 315.6 976.0 315.6 977.1 315.6 978.1 315.6 979.1 315.6 980.0 315.6 980.9 315.6 981.8 315.6 982.7 315.5 983.5 315.5 984.3 315.5 985.1 315.5 985.9 315.5 986.6 315.4 987.4 315.4 988.1 315.4 988.8 315.4 989.5 315.4 990.1 315.4 990.8 315.4 991.4 315.3 992.0 315.3 992.7 315.4 993.2 315.3 993.8 315.4 994.4 315.4 995.0 315.3 995.5 315.2 996.1 315.2 996.6 315.2 997.1 315.3 997.6 315.3 998.1 315.3 998.6 315.3 999.1 315.3 999.6 315.2 1000.0 315.2 1000.5 315.2 1001.0 315.1 1001.4 315.1 1001.9 315.1 1002.3 315.2 1002.7 315.1 1003.1 315.1 1003.6 315.1 1004.0 315.1 1004.4 315.1 1004.8 315.1 1005.2 315.0 1005.5 315.1 1005.9 315.1 1006.3 315.1 1006.7 315.1 1007.1 315.1 1007.4 315.2 1007.8 315.1 1008.1 315.1 1008.5 315.0 1008.8 315.0 1009.2 314.9 1009.5 314.9 1009.8 315.0 1010.2 315.0 1010.5 315.0 1010.8 315.1 1011.1 315.1 1011.5 315.0 1011.8 315.0 1012.1 314.9 1012.4 314.9 1012.7 315.0 1013.0 315.0 1013.3 315.0 1013.6 315.0 1013.9 315.0 1014.2 315.0 1014.4 315.0 1014.7 315.0 1015.0 314.9 1015.3 314.9 1015.5 314.9 1015.8 314.8 1016.1 314.8 1016.4 314.7 1016.6 314.7 1016.9 314.7 1017.1 314.7 1017.4 314.7 1017.7 314.6 1017.9 314.6 1018.2 314.6 1018.4 314.6 1018.6 314.7 1018.9 314.5 1019.1 314.5 1019.4 314.5 1019.6 314.5 1019.8 314.6 1020.1 314.4 1020.3 314.5 1020.5 314.5 1020.8 314.4 1021.0 314.3 1021.2 314.1 1021.4 314.2 1021.7 314.1 1021.9 314.1 1022.1 314.1 1022.3 314.2 1022.5 314.1 1022.8 314.2 1023.0 314.1 1023.2 314.1 1023.4 314.0 1023.6 313.8 1023.8 313.9 1024.0 314.0 1024.2 313.9 1024.4 313.8 1024.6 313.8 1024.8 313.8 1025.0 313.9 1025.2 313.9 1025.4 313.7 1025.6 313.8 1025.8 313.7 1026.0 313.8 1026.2 313.6 1026.3 313.6 1026.5 313.5 1026.7 313.6 1026.9 313.4 1027.1 313.4 1027.3 313.3 1027.4 313.2 1027.6 313.1 1027.8 313.1 1028.0 313.1 1028.2 313.0 1028.3 313.1 1028.5 313.1 1028.7 313.2 1028.9 313.2 1029.0 313.2 1029.2 313.2 1029.4 313.2 1029.5 313.2 1029.7 313.3 1029.9 313.2 1030.0 313.1 1030.2 313.0 1030.4 312.9 1030.5 313.0 1030.7 312.9 1030.9 313.0 1031.0 312.8 1031.2 312.8 1031.3 312.9 1031.5 312.8 1031.6 312.8 1031.8 313.1 1032.0 313.1 1032.1 313.2 1032.3 313.0 1032.4 312.9 1032.6 312.7 1032.7 312.7 1032.9 312.7 1033.0 312.5 1033.2 312.4 1033.3 312.2 1033.5 312.5 1033.6 312.6 1033.8 312.7 1033.9 312.8 1034.0 312.8 1034.2 312.7 1034.3 312.6 1034.5 312.5 1034.6 312.6 1034.8 312.5 1034.9 312.4 1035.0 312.5 1035.2 312.3 1035.3 312.1 1035.4 312.0 1035.6 312.2 1035.7 312.2 1035.9 312.2 1036.0 312.2 1036.1 311.9 1036.3 311.8 1036.4 311.7 1036.5 311.6 1036.7 311.6 1036.8 311.6 1036.9 311.4 1037.0 311.7 1037.2 311.9 1037.3 311.9 1037.4 312.1 1037.6 312.1 1037.7 312.4 1037.8 312.2 1037.9 312.3 1038.1 312.4 1038.2 311.9 1038.3 312.0 1038.4 311.9 1038.6 311.4 1038.7 311.2 1038.8 311.0 1038.9 311.1 1039.0 311.3 1039.2 311.9 1039.3 312.0 1039.4 311.7 1039.5 311.9 1039.6 311.6 1039.8 311.3 1039.9 311.7 1040.0 311.5 1040.1 311.3 1040.2 311.4 1040.3 311.7 1040.5 311.2 1040.6 311.5 1040.7 311.2 1040.8 311.3 1040.9 311.6 1041.0 311.0 1041.1 311.4 1041.3 310.9 1041.4 311.2 1041.5 311.2 1041.6 310.9 1041.7 311.0 1041.8 311.2 1041.9 310.8 1042.0 311.2 1042.1 311.1 1042.2 311.1 1042.4 311.5 1042.5 311.1 1042.6 311.0 1042.7 311.1 1042.8 311.2 1042.9 311.1 1043.0 310.5 1043.1 310.5 1043.2 310.7 1043.3 310.8 1043.4 310.8 1043.5 310.8 1043.6 310.7 1043.7 310.6 1043.8 310.4 1043.9 310.9 1044.0 311.2 1044.1 311.1 1044.2 311.2 1044.3 311.4 1044.4 311.0 1044.5 311.3 1044.6 310.6 1044.7 310.2 1044.8 310.1 1044.9 310.7 1045.0 310.9 1045.1 310.8 1045.2 310.6 1045.3 310.5 1045.4 310.2 1045.5 310.5 1045.6 310.7 1045.7 310.5 1045.8 310.8 1045.9 311.4 1046.0 311.1 1046.1 310.7 1046.2 310.8 1046.3 310.5 1046.4 310.6 1046.5 310.6 1046.6 310.9 1046.7 310.9 1046.7 310.9 1046.8 310.5 1046.9 310.3 1047.0 310.3 1047.1 309.5 1047.2 310.3 1047.3 310.0 1047.4 309.6 1047.5 309.9 1047.6 310.1 1047.7 309.9 1047.8 310.3 1047.8 310.7 1047.9 310.7 1048.0 310.8 1048.1 310.4 1048.2 310.0 1048.3 310.0 1048.4 310.4 1048.5 310.1 1048.5 309.7 1048.6 310.2 1048.7 309.9 1048.8 309.3 1048.9 309.5 1049.0 309.9 1049.1 309.7 1049.1 309.8 1049.2 309.9 1049.3 309.7 1049.4 309.8 1049.5 309.7 1049.6 309.6 1049.7 309.6 1049.7 309.5 1049.8 309.4 1049.9 309.9 1050.0 310.0 1050.1 310.0 1050.2 309.9 1050.2 310.0 1050.3 310.3 1050.4 309.1 1050.5 309.6 1050.6 309.6 1050.6 309.6 1050.7 310.0 1050.8 310.2 1050.9 309.9 1051.0 309.9 1051.0 309.9 1051.1 309.7 1051.2 309.4 1051.4 309.8 1051.4 309.4 1051.5 309.8 1051.6 309.6 1051.7 309.5 1051.8 309.6 1051.8 310.6 1051.9 310.3 1052.0 310.4 1052.1 310.1 1052.1 310.4 1052.2 310.4 1052.4 309.9 1052.5 310.1 1052.6 309.7 1052.7 309.9 1052.8 309.3 1052.8 309.6 1052.9 309.8 1053.1 308.8 1053.2 308.3 1053.5 308.8 1053.6 308.9 1053.6 309.1 1053.7 309.0 1053.8 309.6 1053.9 309.5 1053.9 309.8 1054.1 309.3 1054.2 309.3 1054.4 308.4 1054.5 308.7 1054.6 309.1 1054.6 308.5 1054.7 309.3 1054.9 308.8 1054.9 308.9 1055.0 309.3 1055.1 309.2 1055.1 309.1 1055.2 309.0 1055.4 309.5 1055.5 309.0 1055.5 309.2 1055.8 308.3 1055.8 308.4 1055.9 308.0 1056.0 307.4 1056.2 308.1 1056.2 308.8 1056.3 308.4 1056.6 309.1 1056.6 308.9 1056.7 309.0 1056.8 308.1 1056.9 308.5 1056.9 307.6 1057.1 307.0 1057.2 307.5 1057.3 307.9 1057.5 309.0 1057.6 308.6 1057.8 307.0 1057.9 307.7 1058.0 308.2 1058.1 309.5 1058.2 308.5 1058.3 307.4 1058.4 307.3 1058.6 308.7 1058.7 308.4 1058.7 307.6 1058.8 308.6 1058.9 308.3 1059.0 308.8 1059.1 307.0 1059.3 307.4 1059.3 307.8 1059.6 308.8 1059.6 308.5 1059.7 308.6 1059.9 308.0 1059.9 308.7 1060.0 308.4 1060.1 309.0 1060.3 307.8 1060.3 307.6 1060.6 309.1 1060.6 307.9 1060.7 307.4 1061.0 309.1 1061.0 308.5 1061.2 307.5 1061.3 307.6 1061.3 308.5 1061.5 307.9 1061.6 308.3 1061.7 308.0 1061.8 308.4 1062.0 307.5 1062.0 306.9 1062.1 306.4 1062.3 307.3 1062.3 307.3 1062.4 307.0 1062.4 306.0 1062.7 307.6 1062.7 307.3 1062.9 306.8 1063.0 307.4 1063.0 307.0 1063.1 307.0 1063.3 307.9 1063.4 306.8 1063.5 306.3 1063.7 308.0 1063.7 307.0 1063.9 307.9 1064.0 307.8 1064.1 307.1 1064.2 308.2 1064.4 306.9 1064.4 306.5 1064.5 306.3 1064.7 307.0 1064.8 306.1 1064.8 305.5 1064.9 306.9 1065.0 306.2 1065.1 306.5 1065.3 307.2 1065.4 306.1 1065.4 307.0 1065.6 306.2 1065.7 306.8 1065.7 307.4 1065.8 309.3 1066.0 306.6 1066.1 305.9 1066.1 305.3 1066.3 306.8 1066.4 306.1 1066.5 305.6 1066.6 305.2 1066.7 306.0 1066.8 306.4 1066.8 306.9 1067.0 305.9 1067.1 306.3 1067.1 306.5 1067.3 307.6 1067.4 307.1 1067.5 306.8 1067.5 306.8 1067.7 306.2 1067.8 305.8 1067.9 304.8 1068.0 307.8 1068.1 306.1 1068.1 305.8 1068.2 305.2 1068.4 306.4 1068.4 305.8 1068.5 305.6 1068.7 306.2 1068.8 304.9 1068.8 305.0 1068.8 304.2 1069.1 306.8 1069.1 306.2 1069.2 306.6 1069.4 305.3 1069.5 305.7 1069.5 306.1 1069.6 305.3 1069.7 306.7 1069.8 306.4 1069.9 305.2 1069.9 304.5 1070.1 306.0 1070.1 305.7 1070.2 306.0 1070.4 307.1 1070.5 306.9 1070.5 307.0 1070.6 307.3 1070.8 303.6 1070.9 303.9 1071.1 307.2 1071.2 306.2 1071.2 306.5 1071.5 304.3 1071.6 304.4 1071.7 305.7 1071.8 303.1 1071.9 303.1 1071.9 303.1 1072.1 306.1 1072.2 305.5 1072.2 306.5 1072.3 307.4 1072.5 304.1 1072.5 305.2 1072.6 305.4 1072.6 305.8 1072.7 304.4 1072.9 305.4 1072.9 304.7 1073.0 304.1 1073.2 306.2 1073.2 305.0 1073.3 305.9 1073.4 303.4 1073.5 303.7 1073.6 304.4 1073.6 304.1 1073.9 305.1 1073.9 305.0 1074.0 303.6 1074.1 305.1 1074.2 304.4 1074.3 304.2 1074.3 305.2 1074.4 302.6 1074.6 304.9 1074.6 304.4 1074.7 301.5 1074.9 303.3 1074.9 303.7 1075.1 304.6 1075.2 301.9 1075.2 302.5 1075.3 302.5 1075.4 305.4 1075.6 304.1 1075.6 303.8 1075.6 305.7 1075.7 303.2 1075.9 304.7 1076.0 302.9 1076.1 304.9 1076.3 303.0 1076.3 303.5 1076.5 307.7 1076.6 305.8 1076.6 305.3 1076.8 301.2 1076.9 303.3 1077.0 302.4 1077.0 301.7 1077.1 303.3 1077.3 302.4 1077.3 302.7 1077.3 303.6 1077.6 300.6 1077.7 301.1 1077.9 304.1 1078.0 303.9 1078.0 304.5 1078.2 304.7 1078.3 301.8 1078.3 302.2 1078.3 302.1 1078.5 303.3 1078.6 300.8 1078.7 302.1 1078.7 302.7 1078.8 304.1 1078.9 302.5 1079.0 303.2 1079.0 303.7 1079.1 304.3 1079.2 300.2 1079.3 302.3 1079.4 302.7 1079.5 303.5 1079.6 301.5 1079.7 303.0 1079.7 304.2 1080.0 300.7 1080.0 299.6 1080.1 299.3 1080.2 302.9 1080.4 302.7 1080.4 302.5 1080.5 300.4 1080.6 303.3 1080.7 301.3 1080.7 301.2 1080.9 300.1 1081.0 303.5 1081.0 304.1 1081.3 300.2 1081.4 300.6 1081.4 300.4 1081.5 300.3 1081.7 302.5 1081.7 300.9 1081.7 299.9 1081.8 298.4 1081.9 302.1 1082.0 298.8 1082.1 299.7 1082.2 298.6 1082.3 303.1 1082.4 302.1 1082.4 301.0 1082.5 301.1 1082.7 299.4 1082.7 300.0 1082.7 300.3 1082.8 300.6 1083.0 297.1 1083.1 299.6 1083.1 300.1 1083.3 303.5 1083.4 300.9 1083.4 300.2 1083.5 299.3 1083.6 302.2 1083.7 299.8 1083.8 298.3 1084.0 302.3 1084.1 299.8 1084.1 299.1 1084.2 299.1 1084.3 300.9 1084.4 299.9 1084.5 300.9 1084.7 298.0 1084.8 298.9 1084.8 298.8 1084.9 300.0 1084.9 297.2 1085.1 298.3 1085.1 299.2 1085.3 295.8 1085.4 298.9 1085.5 297.7 1085.7 297.4 1085.8 299.5 1085.8 299.3 1086.1 299.6 1086.1 297.1 1086.2 298.1 1086.3 296.3 1086.4 299.4 1086.5 296.7 1086.5 295.9 1086.7 299.8 1086.8 298.3 1086.8 297.4 1087.0 301.6 1087.1 295.5 1087.1 296.8 1087.2 296.5 1087.3 296.2 1087.5 300.2 1087.5 299.2 1087.5 300.5 1087.6 294.4 1087.8 297.1 1087.8 295.2 1088.0 299.1 1088.2 297.5 1088.2 298.3 1088.3 300.0 1088.5 294.1 1088.5 294.3 1088.5 295.2 1088.6 294.2 1088.9 299.6 1088.9 300.1 1089.1 293.6 1089.2 296.8 1089.2 297.4 1089.3 295.9 1089.5 298.8 1089.5 298.5 1089.6 297.7 1089.6 299.2 1089.7 294.0 1089.9 298.6 1089.9 297.5 1090.0 298.3 1090.2 293.9 1090.2 294.8 1090.2 295.0 1090.3 299.2 1090.5 294.0 1090.5 294.8 1090.6 295.3 1090.7 292.7 1090.9 297.1 1090.9 297.0 1090.9 294.2 1091.1 292.1 1091.2 298.4 1091.3 296.6 1091.3 297.9 1091.5 292.6 1091.6 292.8 1091.6 292.0 1091.7 298.5 1091.9 297.9 1091.9 298.0 1092.2 288.8 1092.2 293.3 1092.3 295.0 1092.5 294.3 1092.6 297.9 1092.6 296.8 1092.6 298.9 1092.8 293.6 1092.9 296.2 1092.9 295.1 1093.0 292.0 1093.2 296.7 1093.3 294.9 1093.3 293.9 1093.3 293.8 1093.6 297.5 1093.6 298.6 1093.8 292.7 1093.9 294.5 1094.0 293.7 1094.1 296.3 1094.2 292.6 1094.3 292.8 1094.3 296.0 1094.4 298.9 1094.6 297.0 1094.6 297.2 1094.7 298.9 1094.7 293.6 1095.0 295.5 1095.0 293.9 1095.3 298.6 1095.3 295.4 1095.3 296.8 1095.5 298.5 1095.6 292.3 1095.7 292.3 1095.8 298.7 1096.0 297.6 1096.0 295.5 1096.1 292.0 1096.2 299.3 1096.3 295.5 1096.4 295.6 1096.6 299.6 1096.7 295.3 1096.7 296.1 1096.8 301.2 1096.9 294.6 1097.0 295.6 1097.0 296.5 1097.1 299.6 1097.1 295.2 1097.4 297.7 1097.4 297.4 1097.5 300.6 1097.6 295.7 1097.7 299.4 1097.7 298.7 1097.8 297.5 1097.8 300.3 1098.0 299.0 1098.1 297.3 1098.1 296.4 1098.2 300.3 1098.4 298.5 1098.4 299.5 1098.4 297.8 1098.6 300.9 1098.7 299.4 1098.7 296.3 1098.8 295.1 1099.0 301.8 1099.1 300.8 1099.1 300.4 1099.1 297.2 1099.3 302.2 1099.4 299.7 1099.4 299.9 1099.5 296.0 1099.6 301.9 1099.7 298.8 1099.7 298.1 1099.8 301.5 1100.1 297.5 1100.1 298.0 1100.1 297.8 1100.2 297.2 1100.4 302.0 1100.4 301.7 1100.4 301.0 1100.5 303.0 1100.7 299.3 1100.7 300.0 1100.8 300.0 1100.8 299.8 1101.0 302.8 1101.1 300.6 1101.1 300.7 1101.2 301.9 1101.4 298.0 1101.4 299.4 1101.4 301.1 1101.5 303.7 1101.7 300.6 1101.8 301.4 1101.8 301.6 1101.9 303.3 1102.0 299.7 1102.1 302.0 1102.1 301.5 1102.1 300.4 1102.4 303.2 1102.5 302.3 1102.5 303.2 1102.7 300.9 1102.8 305.6 1102.8 304.5 1102.9 302.7 1103.0 307.4 1103.1 304.2 1103.1 303.8 1103.2 304.7 1103.3 300.7 1103.5 302.8 1103.5 302.5 1103.6 302.0 1103.8 304.7 1103.8 304.1 1103.8 304.5 1104.0 303.0 1104.1 305.6 1104.2 305.0 1104.2 304.7 1104.3 302.7 1104.4 306.2 1104.5 304.6 1104.5 303.9 1104.5 303.0 1104.7 307.4 1104.8 306.5 1104.8 306.0 1104.9 302.7 1105.1 306.6 1105.2 305.7 1105.2 306.2 1105.2 307.4 1105.4 303.9 1105.5 306.2 1105.5 305.8 1105.8 305.1 1105.8 307.3 1105.8 306.0 1105.9 305.8 1106.1 304.7 1106.2 307.4 1106.2 307.0 1106.2 306.7 1106.3 305.1 1106.5 308.0 1106.5 307.2 1106.5 306.5 1106.6 308.3 1106.9 306.1 1106.9 305.7 1107.0 305.1 1107.1 308.4 1107.2 306.7 1107.2 306.7 1107.3 309.0 1107.5 306.2 1107.6 307.3 1107.6 307.0 1107.8 310.1 1107.9 307.9 1107.9 308.1 1108.0 307.5 1108.2 309.3 1108.2 309.2 1108.2 308.9 1108.4 307.7 1108.5 309.6 1108.6 308.0 1108.6 307.8 1108.9 309.6 1108.9 307.7 1108.9 308.6 1108.9 309.6 1109.0 308.3 1109.2 310.1 1109.3 309.9 1109.3 309.8 1109.4 308.3 1109.6 309.9 1109.6 310.1 1109.8 310.7 1109.9 308.8 1109.9 309.5 1109.9 309.5 1110.2 310.6 1110.2 309.3 1110.3 310.2 1110.3 310.1 1110.4 311.0 1110.6 309.6 1110.6 310.4 1110.6 310.2 1110.7 309.7 1110.8 311.4 1111.0 310.5 1111.0 311.0 1111.0 309.7 1111.2 311.4 1111.3 310.8 1111.3 310.7 1111.4 310.2 1111.6 312.0 1111.6 311.2 1111.6 311.0 1111.7 310.3 1111.9 312.0 1112.0 311.0 1112.0 310.9 1112.1 310.8 1112.2 311.9 1112.3 311.6 1112.3 311.6 1112.3 311.0 1112.6 312.3 1112.7 311.5 1112.7 311.6 1112.8 311.0 1112.8 312.3 1113.0 311.6 1113.0 312.2 1113.1 312.6 1113.2 311.5 1113.3 312.2 1113.3 312.2 1113.4 311.4 1113.5 312.7 1113.7 312.2 1113.7 312.2 1113.8 313.2 1113.8 312.0 1114.0 312.6 1114.0 312.6 1114.3 312.2 1114.3 313.3 1114.4 313.1 1114.4 313.2 1114.5 312.3 1114.7 312.5 1114.7 312.8 1114.8 312.3 1114.9 313.5 1115.0 313.0 1115.0 313.2 1115.1 313.6 1115.3 312.3 1115.4 313.2 1115.4 313.3 1115.6 312.8 1115.6 313.6 1115.7 313.4 1115.7 313.2 1115.9 313.9 1116.1 312.8 1116.1 312.9 1116.2 313.9 1116.3 312.8 1116.4 313.8 1116.4 313.8 1116.6 314.0 1116.7 313.1 1116.7 313.2 1116.7 313.3 1116.8 313.2 1117.1 313.9 1117.1 313.8 1117.2 314.0 1117.3 313.4 1117.4 313.7 1117.4 313.8 1117.5 314.3 1117.6 313.6 1117.8 314.1 1117.8 314.3 1117.9 313.4 1118.1 314.2 1118.1 314.2 1118.3 314.6 1118.4 313.8 1118.4 313.9 1118.5 313.8 1118.7 314.7 1118.8 314.3 1118.8 314.3 1119.0 314.0 1119.1 314.7 1119.1 314.4 1119.1 314.5 1119.1 314.6 1119.4 314.1 1119.5 314.5 1119.5 314.5 1119.6 314.7 1119.7 314.2 1119.8 314.4 1119.8 314.3 1119.8 314.9 1119.9 314.0 1120.1 314.5 1120.1 314.7 1120.2 314.8 1120.4 314.3 1120.5 314.8 1120.5 314.8 1120.6 314.4 1120.8 314.9 1120.8 314.8 1120.8 314.7 1121.0 314.6 1121.1 315.2 1121.2 314.9 1121.2 314.8 1121.2 314.7 1121.4 315.0 1121.5 314.8 1121.5 314.8 1121.5 314.8 1121.6 315.2 1121.8 315.0 1121.8 315.0 1121.9 314.8 1122.1 315.3 1122.2 315.0 1122.2 315.1 1122.3 315.3 1122.3 315.0 1122.5 315.2 1122.5 315.1 1122.6 315.0 1122.8 315.3 1122.9 315.1 1122.9 315.1 1123.1 315.0 1123.1 315.3 1123.2 315.2 1123.2 315.2 1123.3 315.1 1123.4 315.4 1123.5 315.3 1123.5 315.2 1123.6 315.4 1123.7 315.1 1123.9 315.2 1123.9 315.2 1123.9 315.2 1124.2 315.4 1124.2 315.3 1124.2 315.3 1124.3 315.2 1124.4 315.5 1124.6 315.3 1124.6 315.3 1124.7 315.2 1124.8 315.5 1124.9 315.3 1124.9 315.3 1125.1 315.6 1125.2 315.2 1125.2 315.4 1125.2 315.4 1125.4 315.5 1125.5 315.3 1125.6 315.4 1125.6 315.4 1125.6 315.5 1125.7 315.3 1125.9 315.5 1125.9 315.4 1125.9 315.3 1126.0 315.6 1126.3 315.5 1126.3 315.5 1126.5 315.4 1126.5 315.6 1126.6 315.5 1126.6 315.6 1126.6 315.4 1126.9 315.7 1126.9 315.6 1126.9 315.6 1127.0 315.6 1127.0 315.4 1127.3 315.5 1127.3 315.5 1127.3 315.5 1127.6 315.6 1127.6 315.5 1127.6 315.6 1127.7 315.5 1127.9 315.7 1128.0 315.6 1128.0 315.6 1128.1 315.5 1128.2 315.7 1128.3 315.6 1128.3 315.6 1128.4 315.5 1128.6 315.7 1128.6 315.7 1128.6 315.7 1128.8 315.5 1128.9 315.7 1129.0 315.5 1129.0 315.6 1129.1 315.5 1129.3 315.8 1129.3 315.7 1129.3 315.7 1129.5 315.8 1129.6 315.6 1129.7 315.7 1129.7 315.7 1129.8 315.8 1129.9 315.6 1130.0 315.7 1130.0 315.7 1130.2 315.8 1130.2 315.6 1130.3 315.7 1130.3 315.7 1130.4 315.7 1130.5 315.8 1130.7 315.8 1130.7 315.8 1130.7 315.6 1130.9 315.8 1131.0 315.8 1131.0 315.8 1131.0 315.7 1131.4 315.9 1131.4 315.8 1131.4 315.9 1131.6 315.7 1131.7 315.8 1131.7 315.8 1131.9 315.7 1132.0 315.9 1132.0 315.8 1132.0 315.8 1132.1 315.7 1132.1 315.9 1132.4 315.8 1132.4 315.8 1132.5 315.9 1132.7 315.8 1132.7 315.8 1132.7 315.8 1132.9 315.8 1133.0 315.9 1133.1 315.9 1133.1 315.8 1133.1 315.8 1133.3 315.9 1133.4 315.8 1133.4 315.8 1133.5 315.8 1133.6 315.9 1133.7 315.8 1133.7 315.8 1133.9 315.8 1134.0 315.9 1134.1 315.8 1134.1 315.8 1134.3 315.8 1134.3 315.9 1134.4 315.9 1134.4 315.9 1134.5 315.9 1134.5 315.9 1134.8 315.9 1134.8 315.9 1134.8 315.8 1135.1 316.0 1135.1 315.9 1135.1 315.9 1135.1 315.9 1135.4 316.0 1135.4 315.9 1135.4 315.9 1135.4 315.9 1135.5 316.0 1135.8 315.9 1135.8 315.9 1135.8 315.9 1135.9 316.0 1136.1 315.9 1136.1 315.9 1136.2 315.9 1136.2 316.0 1136.5 315.9 1136.5 316.0 1136.6 315.9 1136.7 316.0 1136.8 315.9 1136.8 316.0 1137.0 315.9 1137.1 316.0 1137.1 315.9 1137.1 315.9 1137.3 315.9 1137.4 316.0 1137.5 315.9 1137.5 315.9 1137.6 316.0 1137.8 316.0 1137.8 316.0 1137.9 316.0 1138.0 315.9 1138.2 316.0 1138.2 316.0 1138.2 316.0 1138.3 315.9 1138.5 316.0 1138.5 316.0 1138.6 316.0 1138.8 316.0 1138.8 316.0 1138.8 316.0 1138.9 315.9 1139.1 316.0 1139.2 316.0 1139.2 316.0 1139.3 316.0 1139.4 316.0 1139.5 316.0 1139.5 316.0 1139.6 315.9 1139.7 316.0 1139.9 316.0 1139.9 316.0 1139.9 316.0 1140.1 316.0 1140.2 316.0 1140.2 316.0 1140.3 316.0 1140.4 316.1 1140.5 316.0 1140.5 316.0 1140.6 316.0 1140.8 316.0 1140.9 316.0 1140.9 316.0 1140.9 316.0 1141.2 316.0 1141.2 316.0" stroke="#ff8000"/><path d="M880.8 315.9 900.8 315.8 912.5 315.8 920.8 315.8 927.3 315.7 932.5 315.7 937.0 315.8 940.9 315.7 944.3 315.7 947.3 315.6 950.1 315.6 952.6 315.6 954.9 315.6 957.0 315.6 959.0 315.7 960.9 315.7 962.7 315.7 964.3 315.7 965.9 315.7 967.3 315.7 968.8 315.6 970.1 315.6 971.4 315.6 972.6 315.6 973.8 315.5 974.9 315.5 976.0 315.5 977.1 315.5 978.1 315.5 979.1 315.6 980.0 315.6 980.9 315.6 981.8 315.6 982.7 315.7 983.5 315.7 984.3 315.6 985.1 315.5 985.9 315.6 986.6 315.5 987.4 315.5 988.1 315.6 988.8 315.6 989.5 315.6 990.1 315.6 990.8 315.5 991.4 315.4 992.0 315.4 992.7 315.3 993.2 315.5 993.8 315.5 994.4 315.4 995.0 315.4 995.5 315.5 996.1 315.4 996.6 315.4 997.1 315.4 997.6 315.4 998.1 315.3 998.6 315.4 999.1 315.5 999.6 315.4 1000.0 315.5 1000.5 315.5 1001.0 315.5 1001.4 315.5 1001.9 315.4 1002.3 315.4 1002.7 315.4 1003.1 315.3 1003.6 315.2 1004.0 315.3 1004.4 315.3 1004.8 315.4 1005.2 315.3 1005.5 315.3 1005.9 315.3 1006.3 315.3 1006.7 315.3 1007.1 315.3 1007.4 315.4 1007.8 315.4 1008.1 315.4 1008.5 315.2 1008.8 315.3 1009.2 315.3 1009.5 315.3 1009.8 315.1 1010.2 315.1 1010.5 315.2 1010.8 315.1 1011.1 315.1 1011.5 315.1 1011.8 315.2 1012.1 315.0 1012.4 315.1 1012.7 315.1 1013.0 315.1 1013.3 315.1 1013.6 315.1 1013.9 315.2 1014.2 315.0 1014.4 314.9 1014.7 314.8 1015.0 314.9 1015.3 314.8 1015.5 314.7 1015.8 314.8 1016.1 314.9 1016.4 314.7 1016.6 314.7 1016.9 315.0 1017.1 315.0 1017.4 314.9 1017.7 314.9 1017.9 314.8 1018.2 314.8 1018.4 315.0 1018.6 315.0 1018.9 315.0 1019.1 315.0 1019.4 314.9 1019.6 314.7 1019.8 314.7 1020.1 314.6 1020.3 314.9 1020.5 315.0 1020.8 315.2 1021.0 315.1 1021.2 315.1 1021.4 315.1 1021.7 315.0 1021.9 314.9 1022.1 314.9 1022.3 314.9 1022.5 314.9 1022.8 314.7 1023.0 314.7 1023.2 314.7 1023.4 314.5 1023.6 314.5 1023.8 314.5 1024.0 314.2 1024.2 314.4 1024.4 314.5 1024.6 314.6 1024.8 314.7 1025.0 314.7 1025.2 314.6 1025.4 314.8 1025.6 314.6 1025.8 314.7 1026.0 314.4 1026.2 314.5 1026.3 314.7 1026.5 314.9 1026.7 314.8 1026.9 314.9 1027.1 315.0 1027.3 315.0 1027.4 314.9 1027.6 314.5 1027.8 314.4 1028.0 314.4 1028.2 314.2 1028.3 314.4 1028.5 314.1 1028.7 314.2 1028.9 314.2 1029.0 314.5 1029.2 314.3 1029.4 314.4 1029.5 314.2 1029.7 314.3 1029.9 314.4 1030.0 314.6 1030.2 314.7 1030.4 314.6 1030.5 314.4 1030.7 314.4 1030.9 314.2 1031.0 314.1 1031.2 314.1 1031.3 314.3 1031.5 314.5 1031.6 314.8 1031.8 314.7 1032.0 314.7 1032.1 314.4 1032.3 314.1 1032.4 314.0 1032.6 314.3 1032.7 314.1 1032.9 314.1 1033.0 314.1 1033.2 314.2 1033.3 314.2 1033.5 314.2 1033.6 314.4 1033.8 314.5 1033.9 314.1 1034.0 314.1 1034.2 314.1 1034.3 314.5 1034.5 314.5 1034.6 314.8 1034.8 314.7 1034.9 314.5 1035.0 314.2 1035.2 314.1 1035.3 313.8 1035.4 313.9 1035.6 313.9 1035.7 313.9 1035.9 314.0 1036.0 313.7 1036.1 313.5 1036.3 313.5 1036.4 313.6 1036.5 313.7 1036.7 313.4 1036.8 313.7 1036.9 313.8 1037.0 313.9 1037.2 314.0 1037.3 314.1 1037.4 313.9 1037.6 313.8 1037.7 313.9 1037.8 314.2 1037.9 314.2 1038.1 313.9 1038.2 314.0 1038.3 313.9 1038.4 313.8 1038.6 313.9 1038.7 314.0 1038.8 313.5 1038.9 313.3 1039.0 313.2 1039.2 313.5 1039.3 313.4 1039.4 313.9 1039.5 314.3 1039.6 314.2 1039.8 314.3 1039.9 314.0 1040.0 313.8 1040.1 313.8 1040.2 313.6 1040.3 313.7 1040.5 313.4 1040.6 313.5 1040.7 313.5 1040.8 313.5 1040.9 314.1 1041.0 313.6 1041.1 313.5 1041.3 313.8 1041.4 313.2 1041.5 313.2 1041.6 313.6 1041.7 313.3 1041.8 313.2 1041.9 313.6 1042.0 313.6 1042.1 313.1 1042.2 313.4 1042.4 313.5 1042.5 313.3 1042.6 313.2 1042.7 313.5 1042.8 313.3 1042.9 313.1 1043.0 313.2 1043.1 313.4 1043.2 313.5 1043.3 313.9 1043.4 313.8 1043.5 313.6 1043.6 313.9 1043.7 313.8 1043.8 314.0 1043.9 313.8 1044.0 313.9 1044.1 313.7 1044.2 313.5 1044.3 313.5 1044.4 313.5 1044.5 313.1 1044.6 313.0 1044.7 313.5 1044.8 313.2 1044.9 313.8 1045.0 313.6 1045.1 313.5 1045.2 313.4 1045.3 313.2 1045.4 312.8 1045.5 313.0 1045.6 312.9 1045.7 313.0 1045.8 313.2 1045.9 312.7 1046.0 312.7 1046.1 312.5 1046.2 312.6 1046.3 312.7 1046.4 312.8 1046.5 313.0 1046.6 313.2 1046.7 313.1 1046.7 313.6 1046.8 313.6 1046.9 313.7 1047.0 313.7 1047.1 313.7 1047.2 313.6 1047.3 313.4 1047.4 313.4 1047.5 313.1 1047.6 313.7 1047.7 313.5 1047.8 313.2 1047.8 312.5 1047.9 313.1 1048.0 313.4 1048.1 313.4 1048.2 313.5 1048.3 313.7 1048.4 313.4 1048.5 313.2 1048.5 313.3 1048.6 313.8 1048.7 313.5 1048.8 313.4 1048.9 312.9 1049.0 312.7 1049.1 312.7 1049.1 312.9 1049.2 312.8 1049.3 313.1 1049.4 313.1 1049.5 312.9 1049.6 312.6 1049.7 312.5 1049.7 312.3 1049.8 312.3 1049.9 312.5 1050.0 312.4 1050.1 312.6 1050.2 312.7 1050.2 312.9 1050.3 313.1 1050.4 312.7 1050.5 313.2 1050.6 313.1 1050.6 312.7 1050.7 312.7 1050.8 312.4 1050.9 312.4 1051.0 312.8 1051.0 312.7 1051.1 313.4 1051.4 312.6 1051.4 312.8 1051.5 312.9 1051.6 313.0 1051.7 312.9 1051.8 313.0 1051.8 313.1 1051.9 312.6 1052.0 312.8 1052.1 313.3 1052.1 312.9 1052.2 313.3 1052.4 312.7 1052.5 312.4 1052.6 311.9 1052.7 312.5 1052.8 311.9 1052.8 312.3 1052.9 312.1 1053.1 312.9 1053.2 312.2 1053.3 312.1 1053.5 313.1 1053.6 313.1 1053.6 312.8 1053.7 312.6 1053.8 312.4 1053.9 313.1 1053.9 312.7 1054.1 313.3 1054.2 312.8 1054.4 313.2 1054.5 312.7 1054.6 312.2 1054.7 311.1 1054.9 312.8 1054.9 312.5 1055.0 311.6 1055.1 311.6 1055.1 311.7 1055.2 311.9 1055.3 312.7 1055.5 312.7 1055.5 312.7 1055.6 312.8 1055.8 312.0 1055.8 312.6 1055.9 312.0 1056.0 312.7 1056.2 311.7 1056.2 311.3 1056.3 311.2 1056.5 313.0 1056.6 312.9 1056.6 313.6 1056.8 312.3 1056.9 312.8 1056.9 313.0 1057.2 311.7 1057.3 312.1 1057.3 312.3 1057.5 311.5 1057.6 312.4 1057.8 311.5 1057.9 312.1 1058.0 312.0 1058.0 312.2 1058.2 311.2 1058.3 311.1 1058.5 313.1 1058.6 312.2 1058.7 312.3 1058.7 312.3 1058.9 311.4 1059.0 311.2 1059.3 312.4 1059.3 312.3 1059.4 312.9 1059.6 312.0 1059.7 312.2 1059.7 312.5 1059.8 312.1 1059.9 312.2 1060.0 312.6 1060.1 313.1 1060.3 312.0 1060.3 312.0 1060.5 311.8 1060.6 312.3 1060.6 311.9 1060.7 312.5 1060.7 312.8 1060.9 311.5 1061.0 311.8 1061.0 312.3 1061.1 312.7 1061.1 312.1 1061.3 312.6 1061.3 312.7 1061.6 312.0 1061.6 312.4 1061.7 312.5 1061.8 312.7 1062.0 310.8 1062.0 309.5 1062.3 312.2 1062.4 311.9 1062.7 312.7 1062.7 312.2 1062.8 312.4 1062.9 312.1 1063.0 312.3 1063.0 311.9 1063.2 312.5 1063.2 311.6 1063.3 311.7 1063.4 311.6 1063.7 313.0 1063.7 312.6 1063.8 311.9 1064.0 312.2 1064.1 312.4 1064.1 312.3 1064.4 313.2 1064.4 313.3 1064.7 311.4 1064.7 311.4 1064.8 311.0 1064.9 311.7 1064.9 310.8 1065.0 311.6 1065.1 311.8 1065.2 312.7 1065.3 310.9 1065.4 311.3 1065.4 311.2 1065.5 311.8 1065.6 310.5 1065.7 310.6 1065.7 310.9 1065.8 310.7 1066.0 311.4 1066.0 311.0 1066.1 311.7 1066.3 313.3 1066.4 312.5 1066.5 312.3 1066.6 312.3 1066.7 311.4 1066.8 312.1 1066.8 311.9 1067.0 313.0 1067.1 312.1 1067.1 312.4 1067.2 312.7 1067.3 311.1 1067.4 311.4 1067.5 311.5 1067.7 312.6 1067.7 312.2 1067.8 312.0 1068.0 309.8 1068.1 310.9 1068.1 311.2 1068.4 313.0 1068.4 312.0 1068.5 312.4 1068.5 311.1 1068.8 311.8 1068.8 312.3 1069.0 313.2 1069.1 312.1 1069.1 312.1 1069.2 312.5 1069.3 312.7 1069.4 311.2 1069.5 311.6 1069.5 312.0 1069.6 311.4 1069.8 312.9 1069.9 312.6 1070.1 310.3 1070.2 310.6 1070.4 309.8 1070.4 311.3 1070.5 310.8 1070.5 311.0 1070.6 311.0 1070.8 312.2 1070.8 312.2 1070.9 312.0 1071.0 311.2 1071.1 312.2 1071.2 311.8 1071.2 311.4 1071.5 312.2 1071.6 311.7 1071.6 312.4 1071.8 310.8 1071.8 311.3 1071.9 311.3 1071.9 312.4 1072.1 310.3 1072.2 310.9 1072.2 310.7 1072.3 310.0 1072.5 311.9 1072.5 311.5 1072.6 310.8 1072.6 311.8 1072.8 309.8 1072.9 311.0 1072.9 311.9 1073.0 312.2 1073.2 311.1 1073.2 310.7 1073.3 310.3 1073.5 312.4 1073.5 311.0 1073.6 310.7 1073.6 310.6 1073.9 311.6 1073.9 311.7 1074.0 310.8 1074.2 311.1 1074.3 311.7 1074.4 310.7 1074.5 312.5 1074.6 312.0 1074.6 311.6 1074.7 310.7 1074.8 312.3 1074.9 311.8 1074.9 311.1 1075.0 311.7 1075.2 310.4 1075.2 310.9 1075.3 311.5 1075.3 311.3 1075.4 312.9 1075.6 311.3 1075.6 311.9 1075.8 310.4 1075.9 312.0 1076.0 312.2 1076.0 313.2 1076.2 310.9 1076.3 311.9 1076.3 311.7 1076.5 310.2 1076.6 312.0 1076.6 311.5 1076.8 312.5 1076.9 311.7 1077.0 311.9 1077.0 311.1 1077.1 312.4 1077.3 311.2 1077.3 311.7 1077.5 310.4 1077.6 311.3 1077.7 312.2 1077.7 313.0 1078.0 312.0 1078.0 312.6 1078.1 313.4 1078.3 310.9 1078.3 310.9 1078.3 310.6 1078.5 309.9 1078.7 312.7 1078.7 311.4 1078.7 312.2 1078.9 310.5 1079.0 311.2 1079.0 311.4 1079.1 311.5 1079.3 309.6 1079.3 311.4 1079.4 311.6 1079.4 312.2 1079.5 311.2 1079.7 311.4 1079.7 311.4 1079.7 311.5 1080.0 310.0 1080.0 309.7 1080.1 309.3 1080.4 311.7 1080.4 312.0 1080.5 312.4 1080.7 310.1 1080.7 309.6 1080.7 309.5 1080.9 311.9 1081.0 311.2 1081.0 311.1 1081.3 311.9 1081.4 310.0 1081.4 310.2 1081.6 312.7 1081.7 311.6 1081.7 311.3 1081.8 310.3 1082.0 312.6 1082.0 312.5 1082.1 312.2 1082.3 313.6 1082.4 310.3 1082.4 310.8 1082.4 310.4 1082.5 312.7 1082.7 312.0 1082.7 312.1 1082.9 311.5 1082.9 312.9 1083.1 312.5 1083.1 311.5 1083.2 310.2 1083.3 313.1 1083.4 311.7 1083.4 310.2 1083.6 311.8 1083.7 310.3 1083.8 311.4 1083.8 313.1 1084.0 310.5 1084.1 310.9 1084.1 310.6 1084.4 313.0 1084.5 312.8 1084.5 313.1 1084.8 310.3 1084.8 310.5 1084.8 310.6 1084.9 312.4 1085.1 311.6 1085.1 311.2 1085.3 311.4 1085.4 309.8 1085.4 310.8 1085.5 311.0 1085.6 311.9 1085.7 310.0 1085.8 311.5 1085.8 311.4 1085.8 310.5 1086.1 312.6 1086.1 312.0 1086.2 311.9 1086.3 313.3 1086.5 311.1 1086.5 311.6 1086.7 311.8 1086.8 310.3 1086.8 310.6 1086.9 310.2 1087.0 312.9 1087.1 312.1 1087.2 311.5 1087.2 312.2 1087.4 310.2 1087.5 310.4 1087.5 309.6 1087.5 309.4 1087.6 312.4 1087.8 310.9 1087.8 310.8 1088.1 310.4 1088.2 312.6 1088.2 312.1 1088.4 312.5 1088.5 310.9 1088.5 311.5 1088.5 310.9 1088.6 312.4 1088.8 310.7 1088.9 311.5 1088.9 311.5 1089.0 309.9 1089.1 312.2 1089.2 311.4 1089.2 311.1 1089.3 310.6 1089.5 312.9 1089.6 312.2 1089.6 312.4 1089.8 310.9 1089.9 311.0 1089.9 310.3 1090.1 308.7 1090.2 312.0 1090.2 311.8 1090.2 312.3 1090.3 312.7 1090.5 310.7 1090.5 311.5 1090.6 311.6 1090.7 310.0 1090.7 312.7 1090.9 310.7 1090.9 310.8 1090.9 310.4 1091.0 312.5 1091.2 310.5 1091.3 310.2 1091.4 311.9 1091.5 309.6 1091.6 309.9 1091.6 309.9 1091.7 313.0 1091.9 311.3 1091.9 311.1 1092.1 312.4 1092.2 310.5 1092.2 311.7 1092.3 311.4 1092.4 309.3 1092.4 312.5 1092.6 311.8 1092.6 311.2 1092.7 312.3 1092.9 309.4 1092.9 310.0 1092.9 310.0 1093.1 309.8 1093.3 313.0 1093.3 312.7 1093.4 310.7 1093.6 311.8 1093.6 312.3 1093.7 312.4 1093.9 310.7 1093.9 311.8 1094.0 311.8 1094.1 310.1 1094.3 313.0 1094.3 312.5 1094.3 312.8 1094.6 309.9 1094.6 312.2 1094.6 312.1 1094.7 313.3 1094.8 310.6 1095.0 311.1 1095.0 311.6 1095.2 310.6 1095.3 312.9 1095.3 311.0 1095.3 310.7 1095.4 309.8 1095.6 312.4 1095.6 311.3 1095.7 310.8 1095.9 310.2 1096.0 311.7 1096.0 311.2 1096.0 310.4 1096.0 309.4 1096.1 312.6 1096.3 311.3 1096.4 311.3 1096.4 312.7 1096.6 310.4 1096.7 310.8 1096.7 311.0 1096.8 310.6 1097.0 311.9 1097.0 311.2 1097.0 310.9 1097.2 311.8 1097.3 310.1 1097.4 311.7 1097.4 312.0 1097.5 313.2 1097.5 310.8 1097.7 312.1 1097.7 311.9 1097.7 310.3 1097.9 312.9 1098.0 311.9 1098.1 312.0 1098.2 309.7 1098.4 311.6 1098.4 309.9 1098.5 312.7 1098.7 312.0 1098.7 311.7 1098.8 310.0 1099.0 312.9 1099.1 312.5 1099.1 313.0 1099.1 310.4 1099.4 311.6 1099.4 311.6 1099.6 309.9 1099.7 312.3 1099.7 311.4 1099.7 311.3 1099.8 310.0 1100.0 312.5 1100.1 311.7 1100.1 311.8 1100.2 312.6 1100.4 309.8 1100.4 310.6 1100.5 312.8 1100.6 310.3 1100.7 311.4 1100.8 310.6 1100.8 309.9 1100.9 312.1 1101.1 311.6 1101.1 311.6 1101.1 312.6 1101.4 310.4 1101.4 311.5 1101.4 311.6 1101.6 312.4 1101.7 310.1 1101.8 310.9 1101.8 310.4 1102.0 313.0 1102.1 310.7 1102.1 311.5 1102.4 312.6 1102.4 311.1 1102.5 311.6 1102.5 311.5 1102.5 310.8 1102.7 313.0 1102.8 311.4 1102.8 310.8 1102.9 312.6 1102.9 310.4 1103.1 310.7 1103.1 311.2 1103.3 310.8 1103.5 312.7 1103.5 312.9 1103.7 310.8 1103.8 311.9 1103.8 312.1 1104.0 310.8 1104.1 312.9 1104.2 311.8 1104.2 311.8 1104.3 313.3 1104.4 310.4 1104.5 311.3 1104.5 311.8 1104.6 313.3 1104.8 310.8 1104.8 312.2 1104.8 312.3 1104.9 313.0 1104.9 310.7 1105.2 311.4 1105.2 311.4 1105.2 311.2 1105.5 313.6 1105.5 312.2 1105.5 312.2 1105.6 311.5 1105.7 313.0 1105.8 312.7 1105.9 312.6 1106.0 313.8 1106.0 311.3 1106.2 311.7 1106.2 311.8 1106.3 313.4 1106.4 311.5 1106.5 311.8 1106.5 312.0 1106.6 311.1 1106.7 313.9 1106.9 312.2 1106.9 312.6 1106.9 313.4 1107.2 311.6 1107.2 312.9 1107.2 312.9 1107.3 313.3 1107.4 311.7 1107.6 312.8 1107.6 313.6 1107.8 312.1 1107.9 312.8 1107.9 312.7 1107.9 311.9 1108.1 313.6 1108.2 313.5 1108.2 313.6 1108.4 312.4 1108.5 314.0 1108.6 312.6 1108.6 312.6 1108.7 312.0 1108.9 313.7 1108.9 313.0 1108.9 312.9 1109.2 311.2 1109.3 313.8 1109.3 313.6 1109.6 312.0 1109.6 312.4 1109.6 313.0 1109.8 313.9 1109.9 312.5 1109.9 312.6 1109.9 312.9 1110.1 314.1 1110.2 312.4 1110.3 313.6 1110.3 313.7 1110.4 312.1 1110.6 312.9 1110.6 312.9 1110.9 312.6 1110.9 314.2 1111.0 313.0 1111.0 313.5 1111.0 313.9 1111.2 312.4 1111.3 313.3 1111.3 313.4 1111.4 312.9 1111.5 314.1 1111.6 313.4 1111.6 313.5 1111.7 312.7 1111.8 314.4 1112.0 314.0 1112.0 313.6 1112.1 313.0 1112.1 314.3 1112.3 313.7 1112.3 313.3 1112.5 314.0 1112.6 312.6 1112.7 313.7 1112.7 313.4 1112.7 314.4 1112.9 313.0 1113.0 314.0 1113.0 313.5 1113.1 314.2 1113.1 313.1 1113.3 314.2 1113.3 314.2 1113.4 312.7 1113.5 314.3 1113.7 314.1 1113.7 313.9 1113.8 312.9 1114.0 314.2 1114.0 313.6 1114.0 314.0 1114.1 314.7 1114.3 313.6 1114.4 313.6 1114.4 313.7 1114.5 313.0 1114.7 314.7 1114.7 314.1 1114.7 314.0 1114.8 314.9 1114.9 313.2 1115.0 313.7 1115.0 313.4 1115.1 313.0 1115.3 314.5 1115.4 314.2 1115.4 314.0 1115.4 314.8 1115.5 313.8 1115.7 314.1 1115.7 314.1 1116.0 314.8 1116.0 313.8 1116.1 314.0 1116.1 313.7 1116.1 314.6 1116.4 314.0 1116.4 313.8 1116.5 313.8 1116.6 314.8 1116.7 314.1 1116.7 314.3 1116.9 313.8 1117.0 314.9 1117.1 314.7 1117.1 315.0 1117.1 315.0 1117.2 313.9 1117.4 314.1 1117.4 314.6 1117.5 313.6 1117.6 315.3 1117.8 314.4 1117.8 314.4 1117.8 314.7 1117.9 313.9 1118.1 314.5 1118.1 314.4 1118.1 313.8 1118.4 315.2 1118.4 314.5 1118.4 314.5 1118.5 315.1 1118.7 314.2 1118.8 315.0 1118.8 314.8 1119.0 314.3 1119.1 315.1 1119.1 314.5 1119.1 314.3 1119.2 315.0 1119.4 314.2 1119.5 314.9 1119.5 314.8 1119.5 314.2 1119.6 315.3 1119.8 314.7 1119.8 314.6 1119.9 315.2 1120.0 314.3 1120.1 314.7 1120.1 314.9 1120.2 314.3 1120.4 315.2 1120.5 314.8 1120.5 314.7 1120.5 314.1 1120.7 315.0 1120.8 314.9 1120.8 314.7 1121.0 314.5 1121.1 315.3 1121.2 314.9 1121.2 314.7 1121.4 314.5 1121.4 315.2 1121.5 314.9 1121.5 315.0 1121.6 314.5 1121.8 315.3 1121.8 315.1 1121.8 314.9 1122.0 315.4 1122.0 314.6 1122.2 315.0 1122.2 315.1 1122.3 315.4 1122.3 314.8 1122.5 314.8 1122.5 314.8 1122.7 314.6 1122.8 315.6 1122.9 315.2 1122.9 315.2 1123.0 314.5 1123.1 315.4 1123.2 314.9 1123.2 314.9 1123.4 314.8 1123.5 315.4 1123.5 315.1 1123.5 315.3 1123.8 315.4 1123.9 314.9 1123.9 314.9 1123.9 315.0 1123.9 315.5 1123.9 314.6 1124.2 315.2 1124.2 315.3 1124.3 315.4 1124.4 314.8 1124.6 315.0 1124.6 314.9 1124.7 314.8 1124.8 315.6 1124.9 315.4 1124.9 315.3 1125.0 315.5 1125.0 314.9 1125.2 315.3 1125.2 315.3 1125.4 315.5 1125.5 314.9 1125.6 315.4 1125.6 315.3 1125.6 315.6 1125.7 315.0 1125.9 315.2 1125.9 315.0 1125.9 315.0 1126.1 315.5 1126.3 315.4 1126.3 315.4 1126.4 314.9 1126.5 315.6 1126.6 315.4 1126.6 315.2 1126.8 315.1 1126.9 315.6 1126.9 315.3 1126.9 315.3 1127.1 315.0 1127.2 315.7 1127.3 315.1 1127.3 315.3 1127.4 315.1 1127.6 315.6 1127.6 315.6 1127.6 315.5 1127.7 315.2 1127.8 315.6 1128.0 315.2 1128.0 315.2 1128.2 315.6 1128.2 315.1 1128.3 315.5 1128.3 315.4 1128.3 315.8 1128.4 315.1 1128.6 315.4 1128.6 315.4 1128.7 315.7 1128.9 315.1 1129.0 315.4 1129.0 315.4 1129.0 315.1 1129.1 315.7 1129.3 315.4 1129.3 315.5 1129.4 315.2 1129.5 315.7 1129.7 315.3 1129.7 315.3 1129.8 315.2 1129.9 315.7 1130.0 315.6 1130.0 315.5 1130.0 315.3 1130.3 315.6 1130.3 315.6 1130.3 315.5 1130.4 315.8 1130.5 315.3 1130.7 315.5 1130.7 315.6 1130.7 315.7 1130.8 315.3 1131.0 315.6 1131.0 315.7 1131.1 315.2 1131.2 315.7 1131.4 315.7 1131.4 315.7 1131.6 315.3 1131.7 315.8 1131.7 315.7 1131.7 315.6 1131.8 315.4 1131.9 315.8 1132.0 315.5 1132.0 315.5 1132.0 315.4 1132.1 315.8 1132.4 315.6 1132.4 315.6 1132.5 315.4 1132.6 315.8 1132.7 315.7 1132.7 315.7 1132.7 315.8 1133.1 315.4 1133.1 315.5 1133.1 315.4 1133.1 315.8 1133.4 315.5 1133.4 315.5 1133.4 315.5 1133.7 315.9 1133.7 315.6 1133.7 315.7 1134.0 315.8 1134.1 315.5 1134.1 315.6 1134.1 315.7 1134.2 315.5 1134.3 315.8 1134.4 315.7 1134.4 315.7 1134.7 315.5 1134.7 315.9 1134.8 315.6 1134.8 315.6 1134.8 315.8 1134.8 315.6 1135.1 315.7 1135.1 315.8 1135.2 315.9 1135.4 315.5 1135.4 315.8 1135.4 315.8 1135.5 315.9 1135.6 315.6 1135.8 315.7 1135.8 315.7 1135.9 315.5 1136.1 315.9 1136.1 315.7 1136.1 315.7 1136.1 315.6 1136.2 315.9 1136.5 315.7 1136.5 315.7 1136.6 315.6 1136.7 315.8 1136.8 315.8 1136.8 315.7 1136.9 315.9 1137.0 315.6 1137.1 315.7 1137.1 315.8 1137.2 315.9 1137.3 315.6 1137.5 315.8 1137.5 315.7 1137.5 315.6 1137.5 315.9 1137.8 315.6 1137.8 315.7 1138.0 315.9 1138.1 315.6 1138.2 315.9 1138.2 315.9 1138.4 315.7 1138.5 315.9 1138.5 315.8 1138.5 315.8 1138.6 315.6 1138.8 316.0 1138.8 315.8 1138.8 315.8 1138.9 316.0 1139.0 315.6 1139.2 315.8 1139.2 315.7 1139.3 315.9 1139.3 315.6 1139.5 315.8 1139.5 315.8 1139.8 315.7 1139.8 315.9 1139.9 315.8 1139.9 315.8 1140.0 316.0 1140.2 315.7 1140.2 315.7 1140.2 315.8 1140.3 315.6 1140.5 316.0 1140.5 315.7 1140.5 315.7 1140.7 315.9 1140.7 315.7 1140.9 315.8 1140.9 315.8 1141.0 315.9 1141.2 315.7 1141.2 315.8" stroke="#9940ff"/><path d="M880.8 302.2 900.8 309.5 912.5 305.0 920.8 299.8 927.3 293.7 932.5 290.3 937.0 286.2 940.9 280.9 944.3 278.7 947.3 276.2 950.1 273.3 952.6 270.6 954.9 265.4 957.0 259.1 959.0 255.1 960.9 254.4 962.7 252.4 964.3 252.0 965.9 248.3 967.3 246.3 968.8 243.3 970.1 248.0 971.4 247.8 972.6 245.0 973.8 247.2 974.9 240.2 976.0 230.5 977.1 232.0 978.1 221.9 979.1 227.3 980.0 224.5 980.9 227.2 981.8 222.0 982.7 219.8 983.5 221.4 984.3 222.2 985.1 222.9 985.9 215.8 986.6 211.7 987.4 206.5 988.1 205.5 988.8 210.1 989.5 212.3 990.1 214.2 990.8 217.1 991.4 213.6 992.0 213.8 992.7 206.9 993.2 201.5 993.8 203.7 994.4 204.7 995.0 207.2 995.5 210.4 996.1 206.2 996.6 207.5 997.1 208.3 997.6 200.2 998.1 200.0 998.6 198.1 999.1 210.0 999.6 217.8 1000.0 218.9 1000.5 222.1 1001.0 219.1 1001.4 215.5 1001.9 218.3 1002.3 214.8 1002.7 218.6 1003.1 227.2 1003.6 238.8 1004.0 241.0 1004.4 237.3 1004.8 233.2 1005.2 233.7 1005.5 237.9 1005.9 240.2 1006.3 242.1 1006.7 241.9 1007.1 239.0 1007.4 235.0 1007.8 240.8 1008.1 238.7 1008.5 237.5 1008.8 233.7 1009.2 239.2 1009.5 240.0 1009.8 246.8 1010.2 248.9 1010.5 247.4 1010.8 247.7 1011.1 251.2 1011.5 252.2 1011.8 255.1 1012.1 256.6 1012.4 253.8 1012.7 251.7 1013.0 252.8 1013.3 248.0 1013.6 252.1 1013.9 251.1 1014.2 252.5 1014.4 255.8 1014.7 259.4 1015.0 261.3 1015.3 259.5 1015.5 261.9 1015.8 261.5 1016.1 259.3 1016.4 258.1 1016.6 258.3 1016.9 257.3 1017.1 259.9 1017.4 256.5 1017.7 255.3 1017.9 254.0 1018.2 258.1 1018.4 260.5 1018.6 255.7 1018.9 254.2 1019.1 256.0 1019.4 253.7 1019.6 251.0 1019.8 253.4 1020.1 257.3 1020.3 258.0 1020.5 255.8 1020.8 252.8 1021.0 250.3 1021.2 246.1 1021.4 245.9 1021.7 241.1 1021.9 243.2 1022.1 245.1 1022.3 250.4 1022.5 249.1 1022.8 247.7 1023.0 247.1 1023.2 249.8 1023.4 253.0 1023.6 254.0 1023.8 250.3 1024.0 246.2 1024.2 241.6 1024.4 239.3 1024.6 242.9 1024.8 244.4 1025.0 246.0 1025.2 244.0 1025.4 239.5 1025.6 242.9 1025.8 238.2 1026.0 245.0 1026.2 239.8 1026.3 239.9 1026.5 238.2 1026.7 235.2 1026.9 236.9 1027.1 235.1 1027.3 233.7 1027.4 232.1 1027.6 235.1 1027.8 236.8 1028.0 233.2 1028.2 233.2 1028.3 235.6 1028.5 235.1 1028.7 239.8 1028.9 240.1 1029.0 245.4 1029.2 235.8 1029.4 238.1 1029.5 232.6 1029.7 229.2 1029.9 234.6 1030.0 233.8 1030.2 230.3 1030.4 232.0 1030.5 230.9 1030.7 243.2 1030.9 237.2 1031.0 234.2 1031.2 229.8 1031.3 232.1 1031.5 224.2 1031.6 227.6 1031.8 225.6 1032.0 223.8 1032.1 219.1 1032.3 222.5 1032.4 214.2 1032.6 211.8 1032.7 212.9 1032.9 210.1 1033.0 214.3 1033.2 220.6 1033.3 224.7 1033.5 230.4 1033.6 228.7 1033.8 221.2 1033.9 219.8 1034.0 227.0 1034.2 216.3 1034.3 225.2 1034.5 220.3 1034.6 222.2 1034.8 224.7 1034.9 227.3 1035.0 221.2 1035.2 221.0 1035.3 225.2 1035.4 224.6 1035.6 224.3 1035.7 224.6 1035.9 222.0 1036.0 219.3 1036.1 223.8 1036.3 225.1 1036.4 222.9 1036.5 228.3 1036.7 223.3 1036.8 228.4 1036.9 229.6 1037.0 225.2 1037.2 230.9 1037.3 229.2 1037.4 227.9 1037.6 222.9 1037.7 232.0 1037.8 225.0 1037.9 225.1 1038.1 222.2 1038.2 214.6 1038.3 215.0 1038.4 218.5 1038.6 219.3 1038.7 213.0 1038.8 214.4 1038.9 213.7 1039.0 207.5 1039.2 205.5 1039.3 205.5 1039.4 203.5 1039.5 202.5 1039.6 205.6 1039.8 210.9 1039.9 211.3 1040.0 210.4 1040.1 208.3 1040.2 217.3 1040.3 217.6 1040.5 215.3 1040.6 212.1 1040.7 202.6 1040.8 199.7 1040.9 205.4 1041.0 211.4 1041.1 212.2 1041.3 209.9 1041.4 204.7 1041.5 205.5 1041.6 207.6 1041.7 206.6 1041.8 210.7 1041.9 212.9 1042.0 214.8 1042.1 221.2 1042.2 208.2 1042.4 211.9 1042.5 210.6 1042.6 208.0 1042.7 209.3 1042.8 222.2 1042.9 221.3 1043.0 217.7 1043.1 210.3 1043.2 212.7 1043.3 215.8 1043.4 217.4 1043.5 213.4 1043.6 217.4 1043.7 207.1 1043.8 201.1 1043.9 199.4 1044.0 192.0 1044.1 183.1 1044.2 194.2 1044.3 198.3 1044.4 202.2 1044.5 200.4 1044.6 199.0 1044.7 200.9 1044.8 193.5 1044.9 188.4 1045.0 181.9 1045.1 180.0 1045.2 179.2 1045.3 181.1 1045.4 189.4 1045.5 181.4 1045.6 197.1 1045.7 197.6 1045.8 199.1 1045.9 209.8 1046.0 213.6 1046.1 210.2 1046.2 211.4 1046.3 215.8 1046.4 207.2 1046.5 200.2 1046.6 197.0 1046.7 188.0 1046.7 183.4 1046.8 191.0 1046.9 199.6 1047.0 194.5 1047.1 189.9 1047.2 184.6 1047.3 194.2 1047.4 185.2 1047.5 184.9 1047.6 186.2 1047.7 196.6 1047.8 202.8 1047.8 196.4 1047.9 198.9 1048.0 199.4 1048.1 186.0 1048.2 190.6 1048.3 186.4 1048.4 184.7 1048.5 193.2 1048.5 204.4 1048.6 194.2 1048.7 184.4 1048.8 190.6 1048.9 183.3 1049.0 184.5 1049.1 185.3 1049.1 187.9 1049.2 183.7 1049.3 193.3 1049.4 188.6 1049.5 188.4 1049.6 182.2 1049.7 187.8 1049.7 180.2 1049.8 188.2 1049.9 184.7 1050.0 184.3 1050.1 170.4 1050.2 173.1 1050.2 170.6 1050.3 176.7 1050.4 173.5 1050.5 174.8 1050.6 176.6 1050.6 187.4 1050.7 182.1 1050.8 187.5 1050.9 182.5 1051.0 188.8 1051.0 178.3 1051.1 173.7 1051.2 165.1 1051.4 194.7 1051.5 196.1 1051.6 197.2 1051.7 196.0 1051.8 193.7 1051.8 192.6 1051.9 195.2 1052.0 183.3 1052.1 178.4 1052.1 171.8 1052.4 158.2 1052.5 165.9 1052.6 174.6 1052.7 165.5 1052.8 171.4 1052.8 172.4 1052.9 170.4 1053.1 187.6 1053.1 175.8 1053.2 179.7 1053.3 157.8 1053.5 174.2 1053.6 174.6 1053.6 183.1 1053.7 171.0 1053.8 161.9 1053.9 182.6 1053.9 179.5 1054.0 184.1 1054.1 181.8 1054.2 183.8 1054.4 170.0 1054.5 178.3 1054.6 180.2 1054.6 193.6 1054.9 152.0 1054.9 140.4 1055.0 137.7 1055.1 142.4 1055.1 148.1 1055.2 156.1 1055.4 170.8 1055.5 163.0 1055.5 157.0 1055.7 146.6 1055.8 161.9 1055.9 166.5 1056.0 158.6 1056.2 172.7 1056.2 177.7 1056.3 173.0 1056.5 180.8 1056.6 180.3 1056.6 183.3 1056.9 160.2 1056.9 158.3 1057.0 151.8 1057.2 152.7 1057.3 151.3 1057.3 153.8 1057.5 148.2 1057.6 156.2 1057.7 170.4 1057.9 163.5 1058.0 164.5 1058.1 143.9 1058.2 155.9 1058.3 153.4 1058.3 164.0 1058.6 144.1 1058.7 152.7 1058.7 157.0 1058.9 144.4 1059.0 148.4 1059.1 145.2 1059.3 160.1 1059.3 160.2 1059.4 152.1 1059.6 175.6 1059.7 163.2 1059.9 145.4 1059.9 156.7 1060.0 158.1 1060.1 139.1 1060.3 174.9 1060.3 155.2 1060.6 131.2 1060.7 147.5 1060.8 165.5 1060.9 145.6 1061.0 146.7 1061.0 142.8 1061.1 142.3 1061.2 162.9 1061.3 159.9 1061.3 158.5 1061.5 134.2 1061.6 139.4 1061.7 145.3 1061.8 128.3 1062.0 136.8 1062.0 158.0 1062.2 123.2 1062.3 155.2 1062.4 157.1 1062.5 161.4 1062.7 136.0 1062.7 151.1 1062.8 137.1 1063.0 143.0 1063.0 143.9 1063.2 149.0 1063.3 124.0 1063.4 147.0 1063.5 158.5 1063.7 137.3 1063.7 135.2 1063.8 130.0 1064.0 157.6 1064.0 155.1 1064.1 130.7 1064.1 136.5 1064.3 119.8 1064.4 126.4 1064.4 128.3 1064.5 122.5 1064.7 150.6 1064.8 154.8 1064.9 128.9 1065.0 139.7 1065.1 144.9 1065.1 155.1 1065.4 121.4 1065.4 140.4 1065.5 134.1 1065.6 149.8 1065.7 142.3 1065.7 146.3 1065.9 150.7 1066.0 121.6 1066.1 117.4 1066.1 105.6 1066.4 134.0 1066.4 116.3 1066.5 130.9 1066.6 158.0 1066.7 129.1 1066.8 137.3 1067.1 104.1 1067.1 114.0 1067.2 108.1 1067.4 143.2 1067.4 139.3 1067.5 133.5 1067.5 139.6 1067.6 116.7 1067.7 130.0 1067.8 132.3 1067.8 139.7 1067.9 106.8 1068.1 127.7 1068.1 115.3 1068.3 108.6 1068.4 131.2 1068.5 115.3 1068.6 109.4 1068.7 116.9 1068.8 116.9 1068.8 108.2 1069.0 107.6 1069.1 127.7 1069.2 136.9 1069.3 108.1 1069.5 133.9 1069.5 124.6 1069.6 118.6 1069.7 152.6 1069.8 143.5 1069.9 140.1 1069.9 141.0 1070.1 88.2 1070.1 115.3 1070.2 123.0 1070.3 133.8 1070.5 95.3 1070.5 97.7 1070.6 104.6 1070.7 95.7 1070.8 101.7 1070.9 95.1 1071.0 131.4 1071.2 114.5 1071.2 107.4 1071.3 103.5 1071.4 146.3 1071.5 132.5 1071.6 130.7 1071.8 92.3 1071.8 116.8 1071.9 126.0 1072.0 115.7 1072.1 139.4 1072.2 132.3 1072.2 129.4 1072.3 124.0 1072.4 149.8 1072.5 139.3 1072.6 137.6 1072.7 82.0 1072.9 118.0 1072.9 130.2 1073.0 117.4 1073.2 149.2 1073.2 132.1 1073.2 119.5 1073.3 104.7 1073.5 131.1 1073.5 121.9 1073.6 116.6 1073.7 85.3 1073.9 128.0 1073.9 126.9 1073.9 131.9 1074.0 132.6 1074.2 112.7 1074.2 113.0 1074.3 118.7 1074.3 89.6 1074.6 126.9 1074.6 146.0 1074.6 159.1 1074.9 131.5 1074.9 114.3 1075.0 126.8 1075.2 106.5 1075.3 107.4 1075.3 93.9 1075.6 123.5 1075.6 129.0 1075.8 121.6 1075.9 135.6 1075.9 132.6 1076.0 132.8 1076.1 134.2 1076.1 105.4 1076.3 117.8 1076.3 120.1 1076.4 111.2 1076.6 142.8 1076.6 126.2 1076.7 109.4 1076.8 144.7 1076.9 119.6 1077.0 126.5 1077.0 123.4 1077.2 147.4 1077.3 125.1 1077.3 115.3 1077.3 113.3 1077.6 141.5 1077.7 125.9 1077.7 134.7 1078.0 105.7 1078.0 99.9 1078.2 161.6 1078.3 131.6 1078.3 133.4 1078.4 128.5 1078.7 155.4 1078.7 167.0 1078.8 128.7 1079.0 161.0 1079.0 174.3 1079.2 136.3 1079.3 143.2 1079.4 132.3 1079.5 130.0 1079.7 181.8 1079.7 156.7 1079.8 168.2 1080.0 128.7 1080.0 136.3 1080.2 146.6 1080.3 112.3 1080.4 115.2 1080.4 134.8 1080.5 120.6 1080.6 166.1 1080.7 151.2 1080.7 142.1 1080.8 132.8 1081.0 162.3 1081.0 157.7 1081.0 164.8 1081.3 126.2 1081.4 147.9 1081.4 150.7 1081.4 122.7 1081.5 162.1 1081.7 134.1 1081.7 130.5 1081.9 117.0 1082.0 155.2 1082.0 147.6 1082.1 152.2 1082.2 163.5 1082.4 118.4 1082.4 136.2 1082.4 137.9 1082.6 129.4 1082.7 149.7 1082.7 149.2 1082.7 155.6 1082.9 116.2 1083.1 149.4 1083.1 143.7 1083.2 115.7 1083.3 160.5 1083.4 143.2 1083.4 131.0 1083.5 130.6 1083.7 167.4 1083.8 150.9 1083.8 125.5 1084.1 157.8 1084.1 153.0 1084.3 172.2 1084.4 140.0 1084.5 130.8 1084.5 128.3 1084.6 172.3 1084.8 142.6 1084.8 152.9 1084.9 174.8 1085.0 126.2 1085.1 167.2 1085.1 177.8 1085.2 142.6 1085.4 143.7 1085.5 151.3 1085.6 160.9 1085.8 124.2 1085.8 123.6 1086.1 164.6 1086.2 157.1 1086.3 149.7 1086.4 168.3 1086.5 163.4 1086.5 158.8 1086.6 139.9 1086.7 165.3 1086.8 157.3 1086.8 156.5 1086.9 160.6 1087.1 125.5 1087.1 144.5 1087.2 144.9 1087.2 142.5 1087.3 183.2 1087.5 155.3 1087.5 147.4 1087.5 134.8 1087.7 162.7 1087.8 145.2 1087.8 143.7 1088.0 160.8 1088.1 133.6 1088.2 154.3 1088.2 168.4 1088.3 154.8 1088.4 182.7 1088.5 162.3 1088.5 159.3 1088.7 172.4 1088.8 134.1 1088.9 148.6 1088.9 143.0 1089.0 137.5 1089.2 166.4 1089.2 161.3 1089.2 177.0 1089.2 177.3 1089.3 151.4 1089.5 157.3 1089.6 145.8 1089.7 142.4 1089.8 177.0 1089.9 162.5 1089.9 157.7 1090.0 170.4 1090.1 143.3 1090.2 157.7 1090.2 159.8 1090.4 169.5 1090.4 147.6 1090.5 160.8 1090.6 161.1 1090.8 172.6 1090.9 137.7 1090.9 141.0 1090.9 132.1 1090.9 128.2 1091.1 173.0 1091.2 156.2 1091.3 151.2 1091.3 175.5 1091.6 148.9 1091.6 152.4 1091.7 177.7 1091.8 140.8 1091.9 166.1 1091.9 156.5 1092.0 149.1 1092.1 189.1 1092.2 149.9 1092.3 148.7 1092.5 185.2 1092.6 166.1 1092.6 170.7 1092.6 182.7 1092.9 137.8 1092.9 162.5 1093.0 151.0 1093.2 198.9 1093.3 165.1 1093.3 169.4 1093.4 195.3 1093.6 152.5 1093.6 173.1 1093.6 172.3 1093.7 176.5 1093.9 135.9 1093.9 139.4 1094.0 154.4 1094.1 176.5 1094.3 161.6 1094.3 163.6 1094.5 181.6 1094.6 177.5 1094.6 164.9 1094.7 143.9 1095.0 185.9 1095.0 191.0 1095.1 164.7 1095.3 172.6 1095.3 176.2 1095.5 177.9 1095.6 152.1 1095.6 173.4 1095.7 183.9 1095.7 161.5 1096.0 182.1 1096.0 181.7 1096.2 157.2 1096.3 201.5 1096.4 193.4 1096.6 165.3 1096.7 189.5 1096.7 188.4 1096.7 198.6 1096.9 157.3 1097.0 159.6 1097.0 164.5 1097.1 150.3 1097.3 182.7 1097.4 173.9 1097.4 172.6 1097.5 154.0 1097.7 193.8 1097.7 178.7 1097.7 177.9 1097.9 193.6 1098.0 177.3 1098.0 180.9 1098.1 181.9 1098.2 158.3 1098.4 191.3 1098.4 196.8 1098.5 200.2 1098.6 172.2 1098.7 183.7 1098.7 177.4 1098.7 164.2 1098.9 205.3 1099.1 179.2 1099.1 181.9 1099.2 173.9 1099.3 200.7 1099.4 183.6 1099.4 174.3 1099.6 206.8 1099.7 169.4 1099.7 196.0 1099.7 191.7 1099.9 171.0 1100.1 196.7 1100.1 190.3 1100.3 175.9 1100.4 208.0 1100.4 207.6 1100.4 205.1 1100.7 175.1 1100.7 188.2 1100.8 200.1 1100.8 209.0 1100.9 184.9 1101.1 193.0 1101.1 196.8 1101.2 212.7 1101.4 182.6 1101.4 185.0 1101.4 181.1 1101.7 212.8 1101.8 199.7 1101.8 199.6 1101.9 186.8 1102.1 224.0 1102.1 213.0 1102.1 209.7 1102.3 215.8 1102.4 193.9 1102.5 197.2 1102.5 204.9 1102.6 194.5 1102.7 215.7 1102.8 206.8 1102.8 206.5 1102.9 190.8 1103.0 224.9 1103.1 213.2 1103.1 219.1 1103.2 221.8 1103.4 194.4 1103.5 215.0 1103.5 210.7 1103.7 230.2 1103.7 204.1 1103.8 229.7 1103.8 224.3 1103.9 230.8 1103.9 197.4 1104.2 218.9 1104.2 225.6 1104.2 231.9 1104.2 205.2 1104.5 212.9 1104.5 214.6 1104.5 201.0 1104.8 231.5 1104.8 218.1 1104.8 212.9 1105.0 205.4 1105.1 233.6 1105.2 213.9 1105.2 221.2 1105.2 236.0 1105.4 211.1 1105.5 218.3 1105.5 220.6 1105.6 237.6 1105.7 218.4 1105.8 230.0 1105.9 227.6 1106.1 236.5 1106.2 217.3 1106.2 216.2 1106.4 245.1 1106.5 227.7 1106.5 235.3 1106.6 240.7 1106.8 217.6 1106.9 230.2 1106.9 236.2 1107.1 228.3 1107.2 245.0 1107.2 238.7 1107.2 233.4 1107.4 241.8 1107.5 219.8 1107.6 236.0 1107.6 241.3 1107.8 227.2 1107.8 246.7 1107.9 236.6 1107.9 242.9 1108.0 228.3 1108.2 248.4 1108.2 248.2 1108.2 242.1 1108.4 229.5 1108.5 250.9 1108.6 241.1 1108.6 241.8 1108.6 253.7 1108.8 227.1 1108.9 241.5 1108.9 237.9 1109.1 235.1 1109.3 255.6 1109.3 259.2 1109.5 240.6 1109.6 246.3 1109.6 242.5 1109.7 238.4 1109.9 258.2 1109.9 245.6 1109.9 236.6 1110.3 259.4 1110.3 257.8 1110.3 256.1 1110.4 244.5 1110.5 260.6 1110.6 251.4 1110.6 254.4 1110.7 261.1 1110.9 248.9 1111.0 251.1 1111.0 247.7 1111.0 243.8 1111.3 266.5 1111.3 259.2 1111.3 251.1 1111.3 251.0 1111.5 270.9 1111.6 255.5 1111.6 255.3 1111.8 253.1 1112.0 266.1 1112.0 264.8 1112.0 269.9 1112.1 251.2 1112.3 261.3 1112.3 264.5 1112.4 257.5 1112.6 271.9 1112.7 263.6 1112.7 268.2 1112.7 260.0 1112.8 270.7 1113.0 263.3 1113.0 263.4 1113.2 275.9 1113.2 257.8 1113.3 267.0 1113.3 268.6 1113.4 267.5 1113.7 276.8 1113.7 273.2 1113.7 272.1 1113.8 265.6 1113.9 275.2 1114.0 270.0 1114.0 271.3 1114.0 269.6 1114.1 280.6 1114.4 273.2 1114.4 275.9 1114.6 264.5 1114.7 286.2 1114.7 281.3 1114.7 281.9 1114.9 272.6 1115.0 284.3 1115.0 281.3 1115.1 287.3 1115.3 274.7 1115.4 283.6 1115.4 283.0 1115.4 278.8 1115.4 286.9 1115.7 280.2 1115.7 281.6 1115.7 288.1 1116.0 280.2 1116.1 281.4 1116.1 282.6 1116.2 288.6 1116.4 284.4 1116.4 286.6 1116.5 281.0 1116.7 291.4 1116.7 287.2 1116.7 291.0 1116.9 282.6 1117.0 294.1 1117.1 287.6 1117.1 286.4 1117.3 292.7 1117.4 283.0 1117.4 292.3 1117.4 295.8 1117.6 296.1 1117.7 288.3 1117.8 291.2 1117.8 289.8 1118.0 297.2 1118.1 293.9 1118.1 294.1 1118.2 291.0 1118.3 298.2 1118.4 296.7 1118.4 298.7 1118.7 298.8 1118.8 292.9 1118.8 294.1 1118.8 293.4 1119.1 300.5 1119.1 298.7 1119.1 299.6 1119.3 301.1 1119.4 296.3 1119.5 298.9 1119.5 299.6 1119.5 298.0 1119.7 302.7 1119.8 299.5 1119.8 299.3 1119.9 298.2 1120.1 303.1 1120.1 301.9 1120.1 302.8 1120.3 303.9 1120.4 300.8 1120.5 301.7 1120.5 303.0 1120.5 305.5 1120.8 301.1 1120.8 304.6 1120.8 305.3 1120.9 302.5 1121.1 306.3 1121.2 305.4 1121.2 305.0 1121.2 303.2 1121.2 307.5 1121.5 306.1 1121.5 305.4 1121.6 303.8 1121.8 308.3 1121.8 306.1 1121.8 305.6 1121.9 305.1 1122.0 308.1 1122.2 307.6 1122.2 308.4 1122.2 308.8 1122.3 306.0 1122.5 307.0 1122.5 308.1 1122.8 307.3 1122.8 309.3 1122.9 308.2 1122.9 308.3 1122.9 306.9 1123.0 309.7 1123.2 307.9 1123.2 307.8 1123.3 310.3 1123.5 310.0 1123.5 310.0 1123.7 309.0 1123.9 310.6 1123.9 310.3 1123.9 309.0 1124.1 311.1 1124.2 310.4 1124.2 310.3 1124.4 309.4 1124.5 311.1 1124.6 310.6 1124.6 310.4 1124.6 310.1 1124.8 311.9 1124.9 311.0 1124.9 311.2 1125.1 310.5 1125.2 311.9 1125.2 311.8 1125.4 310.6 1125.5 312.3 1125.6 311.7 1125.6 311.7 1125.8 312.5 1125.9 311.4 1125.9 311.6 1125.9 311.6 1126.1 312.8 1126.3 312.3 1126.3 312.3 1126.3 311.8 1126.4 313.2 1126.6 312.8 1126.6 313.0 1126.7 313.3 1126.7 312.0 1126.9 312.3 1126.9 312.4 1127.2 313.3 1127.3 312.9 1127.3 313.0 1127.4 312.6 1127.5 313.5 1127.6 313.5 1127.6 313.2 1127.7 312.8 1127.8 313.7 1128.0 313.6 1128.0 313.6 1128.1 314.0 1128.3 313.0 1128.3 313.6 1128.3 313.7 1128.4 313.1 1128.5 314.1 1128.6 313.6 1128.6 313.6 1128.8 313.2 1128.9 314.2 1129.0 313.8 1129.0 313.8 1129.0 313.5 1129.3 314.3 1129.3 314.1 1129.3 314.1 1129.5 313.8 1129.6 314.4 1129.7 314.3 1129.7 314.4 1129.8 313.7 1129.9 314.5 1130.0 314.3 1130.0 314.1 1130.2 313.9 1130.3 314.6 1130.3 314.2 1130.3 314.1 1130.4 313.9 1130.6 314.6 1130.7 314.3 1130.7 314.0 1130.7 313.8 1131.0 314.6 1131.0 314.4 1131.0 314.5 1131.2 314.7 1131.2 314.2 1131.4 314.5 1131.4 314.4 1131.4 314.2 1131.5 314.7 1131.7 314.5 1131.7 314.4 1131.7 314.1 1132.0 314.9 1132.0 314.8 1132.0 314.7 1132.0 314.8 1132.3 314.3 1132.4 314.6 1132.4 314.7 1132.5 314.3 1132.6 315.0 1132.7 314.6 1132.7 314.6 1132.9 315.0 1132.9 314.5 1133.1 314.7 1133.1 314.5 1133.1 315.1 1133.4 314.8 1133.4 314.8 1133.4 314.6 1133.6 315.1 1133.7 314.8 1133.7 315.0 1133.8 314.7 1134.0 315.1 1134.1 314.9 1134.1 314.9 1134.2 315.1 1134.3 314.7 1134.4 315.0 1134.4 315.0 1134.6 315.1 1134.7 314.7 1134.8 315.0 1134.8 315.0 1134.8 314.8 1135.1 315.2 1135.1 315.0 1135.1 315.1 1135.3 315.3 1135.4 314.9 1135.4 315.0 1135.4 315.0 1135.6 314.9 1135.7 315.3 1135.8 315.2 1135.8 315.1 1135.8 314.9 1136.0 315.3 1136.1 315.1 1136.1 315.2 1136.2 315.0 1136.4 315.3 1136.5 315.2 1136.5 315.3 1136.6 315.0 1136.7 315.4 1136.8 315.3 1136.8 315.2 1136.9 315.0 1137.0 315.4 1137.1 315.2 1137.1 315.2 1137.2 315.1 1137.3 315.3 1137.5 315.3 1137.5 315.3 1137.6 315.1 1137.8 315.4 1137.8 315.2 1137.8 315.2 1137.8 315.5 1138.0 315.2 1138.2 315.3 1138.2 315.3 1138.4 315.2 1138.5 315.5 1138.5 315.4 1138.5 315.3 1138.5 315.1 1138.6 315.5 1138.8 315.3 1138.8 315.3 1139.0 315.6 1139.2 315.2 1139.2 315.2 1139.2 315.2 1139.4 315.5 1139.5 315.3 1139.5 315.3 1139.7 315.3 1139.7 315.6 1139.9 315.4 1139.9 315.4 1139.9 315.5 1140.1 315.2 1140.2 315.3 1140.2 315.3 1140.3 315.3 1140.5 315.5 1140.5 315.5 1140.5 315.4 1140.6 315.3 1140.9 315.6 1140.9 315.5 1140.9 315.4 1140.9 315.5 1141.1 315.2 1141.2 315.4" stroke="#000000"/><path d="M880.8 314.9 900.8 314.9 912.5 315.0 920.8 314.5 927.3 314.5 932.5 315.0 937.0 314.7 940.9 315.3 944.3 315.4 947.3 315.6 950.1 315.6 952.6 315.3 954.9 315.1 957.0 315.3 959.0 315.3 960.9 315.5 962.7 315.1 964.3 315.0 965.9 315.0 967.3 315.1 968.8 315.2 970.1 315.1 971.4 315.1 972.6 314.9 973.8 314.9 974.9 315.4 976.0 315.7 977.1 315.5 978.1 315.5 979.1 315.3 980.0 315.1 980.9 314.9 981.8 315.3 982.7 315.2 983.5 314.8 984.3 315.0 985.1 314.8 985.9 314.7 986.6 315.0 987.4 314.5 988.1 314.6 988.8 314.7 989.5 315.2 990.1 315.4 990.8 315.1 991.4 315.0 992.0 314.9 992.7 314.5 993.2 314.2 993.8 314.1 994.4 314.4 995.0 314.5 995.5 314.7 996.1 314.5 996.6 314.3 997.1 314.4 997.6 314.6 998.1 314.7 998.6 314.6 999.1 315.1 999.6 315.2 1000.0 314.8 1000.5 315.1 1001.0 315.2 1001.4 315.0 1001.9 314.8 1002.3 314.5 1002.7 314.8 1003.1 314.2 1003.6 314.2 1004.0 314.4 1004.4 314.5 1004.8 314.5 1005.2 314.2 1005.5 314.8 1005.9 314.9 1006.3 314.9 1006.7 315.0 1007.1 314.7 1007.4 315.2 1007.8 314.6 1008.1 314.9 1008.5 314.3 1008.8 314.5 1009.2 314.1 1009.5 314.2 1009.8 314.5 1010.2 315.1 1010.5 315.0 1010.8 314.6 1011.1 314.8 1011.5 314.5 1011.8 314.4 1012.1 314.6 1012.4 315.0 1012.7 314.5 1013.0 314.0 1013.3 313.5 1013.6 314.0 1013.9 314.1 1014.2 314.9 1014.4 314.5 1014.7 314.8 1015.0 314.5 1015.3 314.9 1015.5 314.9 1015.8 315.2 1016.1 314.5 1016.4 314.5 1016.6 314.5 1016.9 314.5 1017.1 314.7 1017.4 314.5 1017.7 314.6 1017.9 314.4 1018.2 315.2 1018.4 314.6 1018.6 314.6 1018.9 314.8 1019.1 315.0 1019.4 314.8 1019.6 314.6 1019.8 314.6 1020.1 314.4 1020.3 314.8 1020.5 315.1 1020.8 315.3 1021.0 315.1 1021.2 315.3 1021.4 315.1 1021.7 315.3 1021.9 315.2 1022.1 314.6 1022.3 314.4 1022.5 314.8 1022.8 315.3 1023.0 314.9 1023.2 315.1 1023.4 314.9 1023.6 314.6 1023.8 314.6 1024.0 314.9 1024.2 314.3 1024.4 313.8 1024.6 314.1 1024.8 314.1 1025.0 314.5 1025.2 314.6 1025.4 315.0 1025.6 314.8 1025.8 314.8 1026.0 314.6 1026.2 314.2 1026.3 314.0 1026.5 313.9 1026.7 314.6 1026.9 315.2 1027.1 315.6 1027.3 316.0 1027.4 315.9 1027.6 315.2 1027.8 315.1 1028.0 314.6 1028.2 314.5 1028.3 314.7 1028.5 314.7 1028.7 314.7 1028.9 314.7 1029.0 314.6 1029.2 314.5 1029.4 314.8 1029.5 314.9 1029.7 314.4 1029.9 315.0 1030.0 314.5 1030.2 314.7 1030.4 315.0 1030.5 314.0 1030.7 313.8 1030.9 313.5 1031.0 313.6 1031.2 313.8 1031.3 314.5 1031.5 314.5 1031.6 314.4 1031.8 314.2 1032.0 314.2 1032.1 313.7 1032.3 313.7 1032.4 313.8 1032.6 314.2 1032.7 314.1 1032.9 314.9 1033.0 314.3 1033.2 314.4 1033.3 313.4 1033.5 313.4 1033.6 313.9 1033.8 314.7 1033.9 314.9 1034.0 315.4 1034.2 314.9 1034.3 315.0 1034.5 315.2 1034.6 315.1 1034.8 314.4 1034.9 315.2 1035.0 315.1 1035.2 315.1 1035.3 314.8 1035.4 314.8 1035.6 314.7 1035.7 315.1 1035.9 314.8 1036.0 314.6 1036.1 314.4 1036.3 314.8 1036.4 315.6 1036.5 315.3 1036.7 315.7 1036.8 315.3 1036.9 315.0 1037.0 315.0 1037.2 314.2 1037.3 314.8 1037.4 315.4 1037.6 315.7 1037.7 315.8 1037.8 315.0 1037.9 315.4 1038.1 315.4 1038.2 314.6 1038.3 314.2 1038.4 314.0 1038.6 313.7 1038.7 313.7 1038.8 314.0 1038.9 314.3 1039.0 314.6 1039.2 314.9 1039.3 314.3 1039.4 314.2 1039.5 314.6 1039.6 314.6 1039.8 314.2 1039.9 314.8 1040.0 315.0 1040.1 314.1 1040.2 314.6 1040.3 314.3 1040.5 314.8 1040.6 315.0 1040.7 314.9 1040.8 314.3 1040.9 314.3 1041.0 314.0 1041.1 314.3 1041.3 315.0 1041.4 314.6 1041.5 313.9 1041.6 313.4 1041.7 314.0 1041.8 315.0 1041.9 315.1 1042.0 315.0 1042.1 315.6 1042.2 315.2 1042.4 314.9 1042.5 314.6 1042.6 313.4 1042.7 313.5 1042.8 313.8 1042.9 315.2 1043.0 315.8 1043.1 315.0 1043.2 314.7 1043.3 314.6 1043.4 314.4 1043.5 314.9 1043.6 314.6 1043.7 314.7 1043.8 314.9 1043.9 314.6 1044.0 314.6 1044.1 314.0 1044.2 314.5 1044.3 313.6 1044.4 313.7 1044.5 313.4 1044.6 314.3 1044.7 314.1 1044.8 314.6 1044.9 315.8 1045.0 314.6 1045.1 315.5 1045.2 314.7 1045.3 314.4 1045.4 314.1 1045.5 313.8 1045.6 314.1 1045.7 313.7 1045.8 313.4 1045.9 314.2 1046.0 314.8 1046.1 314.8 1046.2 314.5 1046.3 314.3 1046.4 315.1 1046.5 315.0 1046.6 315.5 1046.7 316.0 1046.7 316.0 1046.8 316.0 1046.9 315.4 1047.0 314.3 1047.1 314.4 1047.2 314.1 1047.3 313.1 1047.4 313.4 1047.5 313.1 1047.6 312.8 1047.7 314.0 1047.8 314.7 1047.8 314.9 1047.9 315.3 1048.0 314.7 1048.1 314.4 1048.2 314.2 1048.3 313.7 1048.4 313.9 1048.5 313.5 1048.5 315.0 1048.6 315.9 1048.7 316.2 1048.8 315.5 1048.9 314.9 1049.0 314.7 1049.1 314.9 1049.1 314.8 1049.2 314.9 1049.3 314.9 1049.4 315.3 1049.5 314.6 1049.6 314.2 1049.7 313.7 1049.7 313.5 1049.8 314.2 1049.9 313.4 1050.0 314.0 1050.1 313.8 1050.2 314.2 1050.2 313.9 1050.3 314.0 1050.4 313.4 1050.5 313.6 1050.6 313.7 1050.6 314.2 1050.7 315.1 1050.8 315.0 1050.9 314.6 1051.0 315.7 1051.0 316.3 1051.1 316.0 1051.3 314.5 1051.4 314.8 1051.5 314.0 1051.6 313.9 1051.7 314.2 1051.8 313.9 1051.8 314.3 1051.9 315.2 1052.0 315.0 1052.1 315.0 1052.1 314.7 1052.2 314.0 1052.4 314.9 1052.4 314.9 1052.5 314.7 1052.6 315.5 1052.7 315.7 1052.8 315.5 1052.8 315.2 1053.0 313.2 1053.1 313.9 1053.2 314.3 1053.4 315.4 1053.5 315.2 1053.6 315.3 1053.6 314.6 1053.7 314.3 1053.8 314.8 1053.9 313.8 1054.1 315.5 1054.2 315.3 1054.3 314.9 1054.4 316.0 1054.5 315.9 1054.6 315.7 1054.6 315.7 1054.9 314.4 1054.9 314.6 1055.0 314.4 1055.1 314.5 1055.1 313.7 1055.2 313.2 1055.4 313.3 1055.5 313.0 1055.5 312.6 1055.8 314.2 1055.8 313.8 1055.9 314.2 1056.2 313.8 1056.2 314.3 1056.3 314.0 1056.4 314.8 1056.6 314.4 1056.6 313.5 1056.8 312.8 1056.9 313.4 1056.9 313.3 1057.0 313.1 1057.2 313.9 1057.3 314.8 1057.3 314.6 1057.5 315.3 1057.5 314.6 1057.6 313.7 1057.8 314.1 1057.8 313.4 1057.9 313.7 1058.0 313.8 1058.2 315.0 1058.2 314.8 1058.3 314.5 1058.3 315.6 1058.6 313.6 1058.7 314.4 1058.8 313.8 1058.9 315.3 1059.0 314.7 1059.0 315.8 1059.3 315.4 1059.3 315.9 1059.4 316.1 1059.6 315.5 1059.7 315.3 1059.7 314.5 1059.9 314.6 1060.0 315.1 1060.0 314.9 1060.3 316.1 1060.3 314.5 1060.5 313.9 1060.6 314.6 1060.6 314.5 1060.7 315.6 1060.8 316.4 1061.0 313.8 1061.0 313.4 1061.2 313.9 1061.3 313.8 1061.3 313.8 1061.5 314.5 1061.6 314.2 1061.7 313.6 1061.9 315.6 1062.0 315.3 1062.0 314.9 1062.1 314.1 1062.3 315.1 1062.3 314.6 1062.4 314.5 1062.6 314.2 1062.7 314.7 1062.7 313.7 1062.9 315.4 1063.0 314.6 1063.0 314.4 1063.2 315.1 1063.3 313.8 1063.4 313.9 1063.5 313.3 1063.7 313.4 1063.7 315.1 1064.0 313.9 1064.0 313.9 1064.1 314.6 1064.2 315.0 1064.4 313.9 1064.4 313.7 1064.7 315.8 1064.7 315.2 1064.8 315.4 1065.0 312.6 1065.0 313.9 1065.1 313.7 1065.3 315.0 1065.4 314.5 1065.4 314.8 1065.5 314.0 1065.6 315.5 1065.7 314.6 1065.7 315.2 1065.9 316.1 1066.0 314.2 1066.1 313.9 1066.2 313.6 1066.3 315.3 1066.4 314.8 1066.5 313.8 1066.6 314.1 1066.6 313.3 1066.7 313.9 1066.8 313.3 1066.9 315.2 1067.1 313.8 1067.1 313.7 1067.2 312.7 1067.4 314.5 1067.5 314.7 1067.5 315.5 1067.6 314.5 1067.7 315.2 1067.8 314.9 1068.0 313.5 1068.1 313.8 1068.1 313.8 1068.3 315.7 1068.4 315.6 1068.5 315.4 1068.5 315.8 1068.8 313.5 1068.8 314.2 1069.1 315.0 1069.1 313.8 1069.2 313.4 1069.2 311.9 1069.4 314.2 1069.5 313.8 1069.5 314.9 1069.8 312.8 1069.8 313.1 1069.9 313.5 1070.0 312.5 1070.1 313.9 1070.2 314.3 1070.2 314.3 1070.4 312.0 1070.5 312.7 1070.5 313.5 1070.8 313.2 1070.8 314.7 1070.9 315.8 1071.0 313.6 1071.2 314.8 1071.2 314.9 1071.4 313.8 1071.5 315.2 1071.6 314.7 1071.7 314.7 1071.8 313.4 1071.8 314.1 1071.9 314.0 1071.9 313.2 1072.1 315.7 1072.2 314.4 1072.2 314.6 1072.3 312.0 1072.5 314.7 1072.5 314.1 1072.6 313.5 1072.7 312.4 1072.8 314.7 1072.9 314.6 1072.9 314.6 1073.0 313.9 1073.2 314.8 1073.2 314.3 1073.2 314.6 1073.3 313.2 1073.5 314.7 1073.6 315.4 1073.6 316.5 1073.9 313.9 1073.9 313.8 1074.0 313.1 1074.1 314.8 1074.2 314.3 1074.3 314.2 1074.3 313.4 1074.5 316.7 1074.6 313.9 1074.6 313.6 1074.8 316.0 1074.9 314.8 1074.9 315.2 1075.2 312.9 1075.2 313.8 1075.3 314.2 1075.3 315.4 1075.5 312.0 1075.6 312.1 1075.6 312.0 1075.9 314.7 1075.9 313.9 1076.0 313.5 1076.1 311.8 1076.2 315.2 1076.3 312.7 1076.3 312.0 1076.6 315.1 1076.6 314.1 1076.6 315.5 1076.8 312.6 1076.9 312.8 1077.0 312.3 1077.2 315.2 1077.3 313.1 1077.3 313.6 1077.4 315.4 1077.6 313.5 1077.7 314.6 1077.7 314.7 1077.9 312.4 1078.0 313.9 1078.0 313.3 1078.1 312.3 1078.3 315.0 1078.3 314.3 1078.5 313.5 1078.5 315.3 1078.7 314.4 1078.7 314.6 1078.9 312.3 1079.0 312.3 1079.0 312.6 1079.3 315.0 1079.3 313.6 1079.4 314.6 1079.5 311.9 1079.6 315.3 1079.7 313.5 1079.7 313.1 1079.9 314.9 1080.0 312.2 1080.0 313.0 1080.0 312.8 1080.1 314.9 1080.4 314.3 1080.4 313.6 1080.5 310.3 1080.6 315.4 1080.7 315.0 1080.7 314.6 1080.8 312.8 1080.9 316.9 1081.0 314.4 1081.0 314.3 1081.1 316.3 1081.4 312.5 1081.4 314.0 1081.5 311.2 1081.6 314.6 1081.7 314.3 1081.7 312.5 1081.9 312.0 1082.0 316.3 1082.1 315.0 1082.1 315.4 1082.2 312.6 1082.4 313.6 1082.4 312.8 1082.6 315.9 1082.7 313.2 1082.7 313.4 1082.9 311.0 1083.0 314.2 1083.1 311.5 1083.1 313.4 1083.2 314.8 1083.4 312.3 1083.4 312.7 1083.4 311.7 1083.5 311.3 1083.7 313.8 1083.7 313.1 1083.8 312.5 1083.9 316.4 1084.1 314.5 1084.1 313.9 1084.3 314.1 1084.4 311.5 1084.4 312.3 1084.5 313.7 1084.6 311.0 1084.7 314.5 1084.8 314.2 1084.8 313.4 1084.9 315.1 1085.1 313.0 1085.1 313.1 1085.1 312.6 1085.3 312.5 1085.4 317.1 1085.4 314.3 1085.5 313.3 1085.5 311.2 1085.7 315.1 1085.8 315.0 1085.8 314.5 1085.9 315.8 1086.1 313.4 1086.1 313.7 1086.2 312.9 1086.2 312.6 1086.4 314.8 1086.5 313.3 1086.5 314.7 1086.6 317.5 1086.7 311.3 1086.8 315.3 1086.8 315.4 1086.9 316.2 1087.1 311.8 1087.1 312.9 1087.2 313.6 1087.2 309.8 1087.4 316.2 1087.5 314.2 1087.5 314.1 1087.7 317.0 1087.8 313.5 1087.8 313.8 1087.8 312.2 1087.9 311.8 1088.1 315.1 1088.2 313.7 1088.2 315.4 1088.4 311.2 1088.5 312.3 1088.5 310.1 1088.6 309.7 1088.8 315.9 1088.9 314.3 1088.9 312.6 1088.9 311.5 1089.2 315.4 1089.2 315.2 1089.2 315.0 1089.3 316.6 1089.5 313.0 1089.5 313.0 1089.6 313.1 1089.7 312.3 1089.8 315.2 1089.9 313.6 1089.9 313.6 1089.9 312.6 1090.0 316.3 1090.2 314.1 1090.2 315.3 1090.5 311.9 1090.5 313.1 1090.6 313.3 1090.7 316.9 1090.8 311.8 1090.9 312.3 1090.9 314.1 1091.1 312.0 1091.2 316.3 1091.2 313.2 1091.3 314.1 1091.3 315.8 1091.6 311.8 1091.6 312.0 1091.7 310.3 1091.9 314.8 1091.9 313.2 1091.9 311.2 1092.0 311.2 1092.1 314.8 1092.2 312.1 1092.3 311.8 1092.4 311.0 1092.6 315.9 1092.6 315.4 1092.6 315.4 1092.8 311.1 1092.9 312.4 1092.9 313.7 1093.0 316.2 1093.1 311.6 1093.3 314.1 1093.3 312.8 1093.3 311.5 1093.4 315.1 1093.6 312.1 1093.6 311.6 1093.8 315.4 1093.9 310.9 1093.9 313.1 1094.0 313.5 1094.1 311.8 1094.2 315.6 1094.3 312.6 1094.3 313.4 1094.4 310.4 1094.6 313.7 1094.6 312.4 1094.7 314.0 1094.9 311.1 1095.0 311.6 1095.0 312.1 1095.1 316.4 1095.3 310.4 1095.3 313.7 1095.3 313.5 1095.3 312.8 1095.6 315.2 1095.6 314.3 1095.7 313.4 1095.7 314.0 1096.0 309.8 1096.0 310.9 1096.0 312.6 1096.1 315.8 1096.2 311.8 1096.3 313.0 1096.4 314.3 1096.6 309.6 1096.7 315.6 1096.7 313.8 1096.8 315.0 1096.9 309.7 1097.0 313.5 1097.0 312.5 1097.1 311.7 1097.3 315.0 1097.4 314.3 1097.4 312.8 1097.5 315.5 1097.6 311.4 1097.7 311.9 1097.7 312.8 1097.7 314.7 1098.0 310.5 1098.0 312.1 1098.1 311.9 1098.1 314.4 1098.3 309.9 1098.4 314.1 1098.4 314.2 1098.6 315.8 1098.7 312.3 1098.7 313.2 1098.7 313.5 1098.8 310.6 1098.9 314.6 1099.1 312.1 1099.1 310.1 1099.3 315.7 1099.4 314.8 1099.4 314.8 1099.5 314.9 1099.6 311.8 1099.7 313.6 1099.7 315.0 1100.0 315.9 1100.0 311.7 1100.1 312.2 1100.1 311.9 1100.2 316.3 1100.4 311.2 1100.4 314.5 1100.4 314.2 1100.5 312.1 1100.7 315.3 1100.7 315.1 1100.8 313.1 1100.8 314.8 1100.9 311.5 1101.1 314.3 1101.1 315.3 1101.1 316.4 1101.2 310.1 1101.4 313.8 1101.4 313.3 1101.6 311.7 1101.7 315.8 1101.8 311.9 1101.8 312.8 1101.9 311.4 1102.0 315.3 1102.1 314.7 1102.1 314.0 1102.3 311.2 1102.4 315.0 1102.5 313.5 1102.5 314.8 1102.5 315.2 1102.7 311.6 1102.8 312.6 1102.8 314.5 1103.0 315.4 1103.1 311.6 1103.1 312.6 1103.1 314.1 1103.3 308.8 1103.5 313.0 1103.5 313.2 1103.5 312.0 1103.7 315.5 1103.8 312.4 1103.8 311.2 1103.9 310.9 1104.1 316.1 1104.2 312.9 1104.2 314.0 1104.2 314.9 1104.5 311.2 1104.5 312.5 1104.5 310.8 1104.8 315.6 1104.8 314.6 1104.8 313.2 1105.0 315.1 1105.0 310.7 1105.2 314.0 1105.2 313.4 1105.2 315.6 1105.3 312.0 1105.5 313.7 1105.5 314.1 1105.5 314.4 1105.7 311.1 1105.8 312.6 1105.9 311.9 1106.2 317.3 1106.2 315.5 1106.2 314.1 1106.5 315.4 1106.5 310.7 1106.5 312.8 1106.8 316.1 1106.8 310.7 1106.9 313.4 1106.9 312.1 1107.1 311.3 1107.2 315.5 1107.2 314.2 1107.2 313.7 1107.3 315.4 1107.4 312.1 1107.6 314.3 1107.6 315.0 1107.8 309.6 1107.9 312.9 1107.9 313.9 1108.0 310.4 1108.2 316.7 1108.2 315.0 1108.2 315.2 1108.3 315.8 1108.3 310.9 1108.6 313.9 1108.6 314.4 1108.7 316.1 1108.9 312.9 1108.9 314.4 1108.9 312.7 1109.0 311.4 1109.2 315.7 1109.3 315.0 1109.3 315.4 1109.4 309.7 1109.6 313.9 1109.6 312.9 1109.8 315.0 1109.9 311.0 1109.9 313.1 1109.9 314.0 1110.1 315.5 1110.2 311.0 1110.3 312.5 1110.3 311.2 1110.5 313.9 1110.6 312.2 1110.6 312.7 1110.8 311.2 1110.9 316.7 1111.0 311.2 1111.0 313.1 1111.2 316.3 1111.2 311.8 1111.3 314.7 1111.3 315.2 1111.3 316.0 1111.4 311.1 1111.6 314.5 1111.6 314.5 1111.7 316.0 1111.8 311.5 1112.0 311.5 1112.0 310.8 1112.3 316.1 1112.3 314.7 1112.3 314.7 1112.5 311.3 1112.6 316.1 1112.7 312.6 1112.7 313.8 1112.7 315.9 1113.0 312.2 1113.0 314.4 1113.0 315.4 1113.0 315.7 1113.3 311.1 1113.3 313.5 1113.3 314.1 1113.4 315.6 1113.7 311.1 1113.7 312.6 1113.7 314.1 1113.7 316.0 1113.8 311.1 1114.0 313.1 1114.0 312.8 1114.3 311.8 1114.4 315.8 1114.4 315.3 1114.4 315.3 1114.4 310.9 1114.7 314.0 1114.7 314.3 1114.8 316.2 1115.0 310.6 1115.0 315.2 1115.0 316.2 1115.1 316.4 1115.2 309.9 1115.4 314.7 1115.4 313.5 1115.5 312.2 1115.6 315.4 1115.7 312.3 1115.7 312.5 1115.7 310.7 1116.0 314.9 1116.1 314.8 1116.1 314.7 1116.2 313.0 1116.3 316.0 1116.4 314.3 1116.4 312.8 1116.4 311.4 1116.6 315.7 1116.7 314.4 1116.7 314.5 1116.8 315.4 1116.9 311.8 1117.1 313.3 1117.1 312.6 1117.1 311.6 1117.2 315.8 1117.4 314.2 1117.4 315.3 1117.7 311.7 1117.8 315.4 1117.8 314.5 1117.8 315.7 1118.0 313.0 1118.1 314.7 1118.1 314.5 1118.1 315.9 1118.2 312.0 1118.4 314.0 1118.4 315.3 1118.5 311.9 1118.8 313.5 1118.8 313.3 1118.9 313.2 1119.1 316.6 1119.1 315.8 1119.1 315.8 1119.3 317.3 1119.3 311.9 1119.5 313.5 1119.5 313.4 1119.5 311.8 1119.6 316.5 1119.8 313.2 1119.8 312.5 1119.9 315.6 1120.0 312.3 1120.1 313.9 1120.1 314.9 1120.2 316.8 1120.4 312.4 1120.5 315.7 1120.5 314.3 1120.6 315.5 1120.8 312.2 1120.8 314.7 1120.8 316.1 1120.9 312.4 1121.2 312.6 1121.2 311.7 1121.2 311.4 1121.2 316.0 1121.5 315.1 1121.5 315.4 1121.5 315.8 1121.8 312.6 1121.8 314.2 1121.8 313.9 1121.9 316.0 1122.0 312.4 1122.2 314.6 1122.2 314.0 1122.2 312.7 1122.3 315.5 1122.5 314.6 1122.5 314.6 1122.5 312.6 1122.6 318.1 1122.9 315.7 1122.9 315.7 1122.9 312.2 1123.2 313.7 1123.2 313.5 1123.2 312.1 1123.5 317.2 1123.5 314.8 1123.5 314.7 1123.6 312.3 1123.8 316.0 1123.9 313.9 1123.9 314.0 1123.9 311.9 1124.0 316.8 1124.2 312.5 1124.2 313.3 1124.3 316.6 1124.4 312.6 1124.6 313.7 1124.6 313.6 1124.7 316.0 1124.9 311.4 1124.9 311.5 1124.9 311.2 1125.1 316.2 1125.2 313.9 1125.2 313.5 1125.3 312.3 1125.6 316.3 1125.6 316.5 1125.7 312.2 1125.9 312.4 1125.9 312.2 1126.1 316.6 1126.3 314.3 1126.3 313.7 1126.4 311.9 1126.4 316.1 1126.6 314.7 1126.6 314.7 1126.6 315.6 1126.8 312.1 1126.9 315.1 1126.9 314.3 1127.0 312.3 1127.3 316.5 1127.3 316.3 1127.3 317.8 1127.5 312.6 1127.6 313.7 1127.6 313.9 1127.6 316.2 1127.8 311.3 1128.0 314.3 1128.0 314.8 1128.0 316.5 1128.2 312.7 1128.3 315.9 1128.3 315.3 1128.3 315.5 1128.6 312.3 1128.6 313.1 1128.7 315.5 1128.8 312.7 1129.0 313.5 1129.0 314.0 1129.0 316.0 1129.1 312.7 1129.3 314.3 1129.3 315.1 1129.4 312.5 1129.4 315.7 1129.7 312.6 1129.7 312.9 1129.9 315.8 1129.9 312.4 1130.0 314.0 1130.0 313.8 1130.1 316.5 1130.3 312.3 1130.3 314.1 1130.3 314.4 1130.4 312.9 1130.5 316.4 1130.7 313.3 1130.7 314.0 1130.8 313.0 1130.9 316.3 1131.0 314.6 1131.0 313.0 1131.1 312.6 1131.1 316.0 1131.4 314.4 1131.4 314.0 1131.6 312.8 1131.6 316.1 1131.7 313.6 1131.7 314.1 1131.8 316.2 1131.9 312.8 1132.0 314.1 1132.0 314.5 1132.2 316.1 1132.3 312.2 1132.4 313.4 1132.4 313.3 1132.4 316.1 1132.7 312.8 1132.7 314.6 1132.7 314.8 1132.9 312.5 1132.9 316.2 1133.1 313.8 1133.1 314.1 1133.1 312.8 1133.3 316.6 1133.4 314.4 1133.4 314.5 1133.5 312.9 1133.6 316.7 1133.7 313.7 1133.7 313.4 1133.9 312.8 1134.0 316.0 1134.1 315.0 1134.1 315.2 1134.2 313.1 1134.3 317.2 1134.4 314.4 1134.4 314.8 1134.5 316.0 1134.6 312.3 1134.8 315.1 1134.8 315.1 1134.9 312.3 1134.9 315.5 1135.1 314.1 1135.1 313.7 1135.4 316.6 1135.4 312.8 1135.4 314.6 1135.5 312.4 1135.7 315.9 1135.8 315.0 1135.8 315.7 1135.9 316.1 1136.1 312.6 1136.1 314.3 1136.1 314.7 1136.4 317.3 1136.4 313.0 1136.5 313.3 1136.5 312.3 1136.7 316.1 1136.8 316.0 1136.8 314.9 1136.9 316.0 1137.0 312.9 1137.1 313.9 1137.1 314.1 1137.3 316.0 1137.4 313.0 1137.5 314.4 1137.5 313.3 1137.5 315.7 1137.6 313.2 1137.8 313.8 1137.8 313.4 1138.1 316.6 1138.1 312.7 1138.2 314.7 1138.2 314.8 1138.2 315.6 1138.4 312.5 1138.5 315.4 1138.5 315.0 1138.7 311.9 1138.8 316.3 1138.8 314.6 1138.8 314.3 1139.0 316.1 1139.2 312.3 1139.2 314.3 1139.2 314.5 1139.3 312.7 1139.4 316.4 1139.5 315.0 1139.5 314.5 1139.6 313.3 1139.7 316.4 1139.9 314.8 1139.9 314.5 1140.0 312.7 1140.1 315.3 1140.2 314.4 1140.2 313.7 1140.4 313.1 1140.5 315.6 1140.5 315.1 1140.5 315.0 1140.6 315.9 1140.7 313.1 1140.9 314.8 1140.9 314.5 1141.0 313.2 1141.1 316.5 1141.2 315.6" stroke="#00a0a0"/></g>
<rect x="236.9" y="79.5" width="114.5" height="131.0" fill="#fff" stroke="#505050" stroke-width="1.0"/>
<clipPath id="lgc"><rect x="237.4" y="80" width="27.6" height="100"/><rect x="346" y="80" width="4.9" height="100"/><rect x="237.4" y="200" width="113.5" height="10.0"/></clipPath>
<path d="M91.60 209.22H357.70M91.60 155.73H357.70M91.60 102.24H357.70" clip-path="url(#lgc)" stroke="#5a5a5a" stroke-width="0.9" stroke-dasharray="2.45 2.55" fill="none"/>
<path d="M240.8 93.7H262.8" stroke="#000000" stroke-width="2.4"/>
<path d="M279.5 89.2C277.7 90.2 276.7 92.7 277.0 94.7C277.4 96.6 279.3 97.3 281.3 97.0C284.0 96.5 286.0 93.9 285.9 91.3C285.8 89.7 284.9 88.9 283.7 89.1C281.9 89.5 280.6 92.4 280.1 95.2L278.9 100.4" transform="translate(0 0.00)" fill="none" stroke="#000" stroke-width="1.35" stroke-linecap="round"/>
<path d="M291.9 90.90H304M291.9 94.60H304" stroke="#000" stroke-width="1.1"/>
<text x="308.00" y="97.90" font-size="20" style="">0</text>
<circle cx="321.40" cy="87.50" r="2.05" fill="none" stroke="#000" stroke-width="0.9"/>
<path d="M240.8 109.2H262.8" stroke="#cc0000" stroke-width="2.4"/>
<path d="M279.5 89.2C277.7 90.2 276.7 92.7 277.0 94.7C277.4 96.6 279.3 97.3 281.3 97.0C284.0 96.5 286.0 93.9 285.9 91.3C285.8 89.7 284.9 88.9 283.7 89.1C281.9 89.5 280.6 92.4 280.1 95.2L278.9 100.4" transform="translate(0 17.50)" fill="none" stroke="#000" stroke-width="1.35" stroke-linecap="round"/>
<path d="M291.9 108.40H304M291.9 112.10H304" stroke="#000" stroke-width="1.1"/>
<text x="308.50" y="115.40" font-size="20" style="">30</text>
<circle cx="331.50" cy="105.00" r="2.05" fill="none" stroke="#000" stroke-width="0.9"/>
<path d="M240.8 129.3H262.8" stroke="#00c800" stroke-width="2.4"/>
<path d="M279.5 89.2C277.7 90.2 276.7 92.7 277.0 94.7C277.4 96.6 279.3 97.3 281.3 97.0C284.0 96.5 286.0 93.9 285.9 91.3C285.8 89.7 284.9 88.9 283.7 89.1C281.9 89.5 280.6 92.4 280.1 95.2L278.9 100.4" transform="translate(0 35.00)" fill="none" stroke="#000" stroke-width="1.35" stroke-linecap="round"/>
<path d="M291.9 125.90H304M291.9 129.60H304" stroke="#000" stroke-width="1.1"/>
<text x="308.50" y="132.90" font-size="20" style="">60</text>
<circle cx="331.50" cy="122.50" r="2.05" fill="none" stroke="#000" stroke-width="0.9"/>
<path d="M240.8 147.0H262.8" stroke="#1414ff" stroke-width="2.4"/>
<path d="M279.5 89.2C277.7 90.2 276.7 92.7 277.0 94.7C277.4 96.6 279.3 97.3 281.3 97.0C284.0 96.5 286.0 93.9 285.9 91.3C285.8 89.7 284.9 88.9 283.7 89.1C281.9 89.5 280.6 92.4 280.1 95.2L278.9 100.4" transform="translate(0 52.50)" fill="none" stroke="#000" stroke-width="1.35" stroke-linecap="round"/>
<path d="M291.9 143.40H304M291.9 147.10H304" stroke="#000" stroke-width="1.1"/>
<text x="308.50" y="150.40" font-size="20" style="">90</text>
<circle cx="331.50" cy="140.00" r="2.05" fill="none" stroke="#000" stroke-width="0.9"/>
<path d="M240.8 164.4H262.8" stroke="#ff8000" stroke-width="2.4"/>
<path d="M279.5 89.2C277.7 90.2 276.7 92.7 277.0 94.7C277.4 96.6 279.3 97.3 281.3 97.0C284.0 96.5 286.0 93.9 285.9 91.3C285.8 89.7 284.9 88.9 283.7 89.1C281.9 89.5 280.6 92.4 280.1 95.2L278.9 100.4" transform="translate(0 70.00)" fill="none" stroke="#000" stroke-width="1.35" stroke-linecap="round"/>
<path d="M291.9 160.90H304M291.9 164.60H304" stroke="#000" stroke-width="1.1"/>
<text x="309.50" y="167.90" font-size="20" style="" textLength="28" lengthAdjust="spacingAndGlyphs">120</text>
<circle cx="340.10" cy="157.50" r="2.05" fill="none" stroke="#000" stroke-width="0.9"/>
<path d="M240.8 181.8H262.8" stroke="#9940ff" stroke-width="2.4"/>
<path d="M279.5 89.2C277.7 90.2 276.7 92.7 277.0 94.7C277.4 96.6 279.3 97.3 281.3 97.0C284.0 96.5 286.0 93.9 285.9 91.3C285.8 89.7 284.9 88.9 283.7 89.1C281.9 89.5 280.6 92.4 280.1 95.2L278.9 100.4" transform="translate(0 87.50)" fill="none" stroke="#000" stroke-width="1.35" stroke-linecap="round"/>
<path d="M291.9 178.40H304M291.9 182.10H304" stroke="#000" stroke-width="1.1"/>
<text x="309.50" y="185.40" font-size="20" style="" textLength="28" lengthAdjust="spacingAndGlyphs">150</text>
<circle cx="340.10" cy="175.00" r="2.05" fill="none" stroke="#000" stroke-width="0.9"/>
<path d="M240.8 199.0H262.8" stroke="#00a0a0" stroke-width="2.4"/>
<path d="M279.5 89.2C277.7 90.2 276.7 92.7 277.0 94.7C277.4 96.6 279.3 97.3 281.3 97.0C284.0 96.5 286.0 93.9 285.9 91.3C285.8 89.7 284.9 88.9 283.7 89.1C281.9 89.5 280.6 92.4 280.1 95.2L278.9 100.4" transform="translate(0 105.00)" fill="none" stroke="#000" stroke-width="1.35" stroke-linecap="round"/>
<path d="M291.9 195.90H304M291.9 199.60H304" stroke="#000" stroke-width="1.1"/>
<text x="309.50" y="202.90" font-size="20" style="" textLength="28" lengthAdjust="spacingAndGlyphs">180</text>
<circle cx="340.10" cy="192.50" r="2.05" fill="none" stroke="#000" stroke-width="0.9"/>
<path d="M111.63 316.20v-3.5M123.34 316.20v-3.5M131.65 316.20v-3.5M138.10 316.20v-3.5M143.37 316.20v-3.5M147.82 316.20v-3.5M151.68 316.20v-3.5M155.08 316.20v-3.5M158.12 316.20v-6.5M178.15 316.20v-3.5M189.87 316.20v-3.5M198.18 316.20v-3.5M204.62 316.20v-3.5M209.89 316.20v-3.5M214.35 316.20v-3.5M218.20 316.20v-3.5M221.61 316.20v-3.5M224.65 316.20v-6.5M244.68 316.20v-3.5M256.39 316.20v-3.5M264.70 316.20v-3.5M271.15 316.20v-3.5M276.42 316.20v-3.5M280.87 316.20v-3.5M284.73 316.20v-3.5M288.13 316.20v-3.5M291.18 316.20v-6.5M311.20 316.20v-3.5M322.92 316.20v-3.5M331.23 316.20v-3.5M337.67 316.20v-3.5M342.94 316.20v-3.5M347.40 316.20v-3.5M351.25 316.20v-3.5M354.66 316.20v-3.5M95.40 75.50v3.5M99.25 75.50v3.5M102.66 75.50v3.5M105.70 75.50v6.5M125.73 75.50v3.5M137.44 75.50v3.5M145.75 75.50v3.5M152.20 75.50v3.5M157.47 75.50v3.5M161.92 75.50v3.5M165.78 75.50v3.5M169.18 75.50v3.5M172.22 75.50v6.5M192.25 75.50v3.5M203.97 75.50v3.5M212.28 75.50v3.5M218.72 75.50v3.5M223.99 75.50v3.5M228.45 75.50v3.5M232.30 75.50v3.5M235.71 75.50v3.5M238.75 75.50v6.5M258.78 75.50v3.5M270.49 75.50v3.5M278.80 75.50v3.5M285.25 75.50v3.5M290.52 75.50v3.5M294.97 75.50v3.5M298.83 75.50v3.5M302.23 75.50v3.5M305.27 75.50v6.5M325.30 75.50v3.5M337.02 75.50v3.5M345.33 75.50v3.5M351.77 75.50v3.5M357.04 75.50v3.5M91.60 305.50h3.5M357.70 305.50h-3.5M91.60 294.80h3.5M357.70 294.80h-3.5M91.60 284.11h3.5M357.70 284.11h-3.5M91.60 273.41h3.5M357.70 273.41h-3.5M91.60 262.71h6.5M357.70 262.71h-6.5M91.60 252.01h3.5M357.70 252.01h-3.5M91.60 241.32h3.5M357.70 241.32h-3.5M91.60 230.62h3.5M357.70 230.62h-3.5M91.60 219.92h3.5M357.70 219.92h-3.5M91.60 209.22h6.5M357.70 209.22h-6.5M91.60 198.52h3.5M357.70 198.52h-3.5M91.60 187.83h3.5M357.70 187.83h-3.5M91.60 177.13h3.5M357.70 177.13h-3.5M91.60 166.43h3.5M357.70 166.43h-3.5M91.60 155.73h6.5M357.70 155.73h-6.5M91.60 145.04h3.5M357.70 145.04h-3.5M91.60 134.34h3.5M357.70 134.34h-3.5M91.60 123.64h3.5M357.70 123.64h-3.5M91.60 112.94h3.5M357.70 112.94h-3.5M91.60 102.24h6.5M357.70 102.24h-6.5M91.60 91.55h3.5M357.70 91.55h-3.5M91.60 80.85h3.5M357.70 80.85h-3.5" stroke="#3c3c3c" stroke-width="1.15" fill="none"/>
<path d="M510.56 316.20v-3.5M522.29 316.20v-3.5M530.61 316.20v-3.5M537.07 316.20v-3.5M542.34 316.20v-3.5M546.80 316.20v-3.5M550.67 316.20v-3.5M554.08 316.20v-3.5M557.12 316.20v-6.5M577.18 316.20v-3.5M588.91 316.20v-3.5M597.24 316.20v-3.5M603.69 316.20v-3.5M608.97 316.20v-3.5M613.43 316.20v-3.5M617.29 316.20v-3.5M620.70 316.20v-3.5M623.75 316.20v-6.5M643.81 316.20v-3.5M655.54 316.20v-3.5M663.86 316.20v-3.5M670.32 316.20v-3.5M675.59 316.20v-3.5M680.05 316.20v-3.5M683.92 316.20v-3.5M687.33 316.20v-3.5M690.38 316.20v-6.5M710.43 316.20v-3.5M722.16 316.20v-3.5M730.49 316.20v-3.5M736.94 316.20v-3.5M742.22 316.20v-3.5M746.68 316.20v-3.5M750.54 316.20v-3.5M753.95 316.20v-3.5M494.28 75.50v3.5M498.14 75.50v3.5M501.55 75.50v3.5M504.60 75.50v6.5M524.66 75.50v3.5M536.39 75.50v3.5M544.71 75.50v3.5M551.17 75.50v3.5M556.44 75.50v3.5M560.90 75.50v3.5M564.77 75.50v3.5M568.18 75.50v3.5M571.23 75.50v6.5M591.28 75.50v3.5M603.01 75.50v3.5M611.34 75.50v3.5M617.79 75.50v3.5M623.07 75.50v3.5M627.53 75.50v3.5M631.39 75.50v3.5M634.80 75.50v3.5M637.85 75.50v6.5M657.91 75.50v3.5M669.64 75.50v3.5M677.96 75.50v3.5M684.42 75.50v3.5M689.69 75.50v3.5M694.15 75.50v3.5M698.02 75.50v3.5M701.43 75.50v3.5M704.48 75.50v6.5M724.53 75.50v3.5M736.26 75.50v3.5M744.59 75.50v3.5M751.04 75.50v3.5M756.32 75.50v3.5M490.50 304.38h3.5M757.00 304.38h-3.5M490.50 292.56h3.5M757.00 292.56h-3.5M490.50 280.73h3.5M757.00 280.73h-3.5M490.50 268.91h3.5M757.00 268.91h-3.5M490.50 257.09h6.5M757.00 257.09h-6.5M490.50 245.27h3.5M757.00 245.27h-3.5M490.50 233.44h3.5M757.00 233.44h-3.5M490.50 221.62h3.5M757.00 221.62h-3.5M490.50 209.80h3.5M757.00 209.80h-3.5M490.50 197.98h6.5M757.00 197.98h-6.5M490.50 186.16h3.5M757.00 186.16h-3.5M490.50 174.33h3.5M757.00 174.33h-3.5M490.50 162.51h3.5M757.00 162.51h-3.5M490.50 150.69h3.5M757.00 150.69h-3.5M490.50 138.87h6.5M757.00 138.87h-6.5M490.50 127.04h3.5M757.00 127.04h-3.5M490.50 115.22h3.5M757.00 115.22h-3.5M490.50 103.40h3.5M757.00 103.40h-3.5M490.50 91.58h3.5M757.00 91.58h-3.5M490.50 79.76h6.5M757.00 79.76h-6.5" stroke="#3c3c3c" stroke-width="1.15" fill="none"/>
<path d="M895.03 316.20v-3.5M906.75 316.20v-3.5M915.07 316.20v-3.5M921.52 316.20v-3.5M926.79 316.20v-3.5M931.24 316.20v-3.5M935.10 316.20v-3.5M938.50 316.20v-3.5M941.55 316.20v-6.5M961.58 316.20v-3.5M973.30 316.20v-3.5M981.62 316.20v-3.5M988.07 316.20v-3.5M993.34 316.20v-3.5M997.79 316.20v-3.5M1001.65 316.20v-3.5M1005.05 316.20v-3.5M1008.10 316.20v-6.5M1028.13 316.20v-3.5M1039.85 316.20v-3.5M1048.17 316.20v-3.5M1054.62 316.20v-3.5M1059.89 316.20v-3.5M1064.34 316.20v-3.5M1068.20 316.20v-3.5M1071.60 316.20v-3.5M1074.65 316.20v-6.5M1094.68 316.20v-3.5M1106.40 316.20v-3.5M1114.72 316.20v-3.5M1121.17 316.20v-3.5M1126.44 316.20v-3.5M1130.89 316.20v-3.5M1134.75 316.20v-3.5M1138.15 316.20v-3.5M878.79 75.50v3.5M882.65 75.50v3.5M886.05 75.50v3.5M889.10 75.50v6.5M909.13 75.50v3.5M920.85 75.50v3.5M929.17 75.50v3.5M935.62 75.50v3.5M940.89 75.50v3.5M945.34 75.50v3.5M949.20 75.50v3.5M952.60 75.50v3.5M955.65 75.50v6.5M975.68 75.50v3.5M987.40 75.50v3.5M995.72 75.50v3.5M1002.17 75.50v3.5M1007.44 75.50v3.5M1011.89 75.50v3.5M1015.75 75.50v3.5M1019.15 75.50v3.5M1022.20 75.50v6.5M1042.23 75.50v3.5M1053.95 75.50v3.5M1062.27 75.50v3.5M1068.72 75.50v3.5M1073.99 75.50v3.5M1078.44 75.50v3.5M1082.30 75.50v3.5M1085.70 75.50v3.5M1088.75 75.50v6.5M1108.78 75.50v3.5M1120.50 75.50v3.5M1128.82 75.50v3.5M1135.27 75.50v3.5M1140.54 75.50v3.5M875.00 306.17h3.5M1141.20 306.17h-3.5M875.00 296.14h3.5M1141.20 296.14h-3.5M875.00 286.11h3.5M1141.20 286.11h-3.5M875.00 276.08h3.5M1141.20 276.08h-3.5M875.00 266.05h6.5M1141.20 266.05h-6.5M875.00 256.02h3.5M1141.20 256.02h-3.5M875.00 246.00h3.5M1141.20 246.00h-3.5M875.00 235.97h3.5M1141.20 235.97h-3.5M875.00 225.94h3.5M1141.20 225.94h-3.5M875.00 215.91h6.5M1141.20 215.91h-6.5M875.00 205.88h3.5M1141.20 205.88h-3.5M875.00 195.85h3.5M1141.20 195.85h-3.5M875.00 185.82h3.5M1141.20 185.82h-3.5M875.00 175.79h3.5M1141.20 175.79h-3.5M875.00 165.76h6.5M1141.20 165.76h-6.5M875.00 155.73h3.5M1141.20 155.73h-3.5M875.00 145.70h3.5M1141.20 145.70h-3.5M875.00 135.68h3.5M1141.20 135.68h-3.5M875.00 125.65h3.5M1141.20 125.65h-3.5M875.00 115.62h6.5M1141.20 115.62h-6.5M875.00 105.59h3.5M1141.20 105.59h-3.5M875.00 95.56h3.5M1141.20 95.56h-3.5M875.00 85.53h3.5M1141.20 85.53h-3.5" stroke="#3c3c3c" stroke-width="1.15" fill="none"/>
<rect x="91.60" y="75.50" width="266.10" height="240.70" fill="none" stroke="#3c3c3c" stroke-width="1.2"/>
<rect x="490.50" y="75.50" width="266.50" height="240.70" fill="none" stroke="#3c3c3c" stroke-width="1.2"/>
<rect x="875.00" y="75.50" width="266.20" height="240.70" fill="none" stroke="#3c3c3c" stroke-width="1.2"/>
<text x="82.80" y="325.80" font-size="26" style="" text-anchor="end">0</text>
<text x="82.80" y="272.31" font-size="26" style="" text-anchor="end">0.1</text>
<text x="82.80" y="218.82" font-size="26" style="" text-anchor="end">0.2</text>
<text x="82.80" y="165.33" font-size="26" style="" text-anchor="end">0.3</text>
<text x="82.80" y="111.84" font-size="26" style="" text-anchor="end">0.4</text>
<text x="73.31" y="349.00" font-size="26" style="">10</text><text x="98.61" y="339.30" font-size="18.5" style="">1</text>
<text x="140.19" y="349.00" font-size="26" style="">10</text><text x="165.49" y="339.30" font-size="18.5" style="">2</text>
<text x="207.07" y="349.00" font-size="26" style="">10</text><text x="232.37" y="339.30" font-size="18.5" style="">3</text>
<text x="273.95" y="349.00" font-size="26" style="">10</text><text x="299.25" y="339.30" font-size="18.5" style="">4</text>
<text x="340.83" y="349.00" font-size="26" style="">10</text><text x="366.13" y="339.30" font-size="18.5" style="">5</text>
<text x="83.71" y="65.40" font-size="26" style="">10</text><path d="M109.30 51.2H118.40" stroke="#000" stroke-width="1.05"/><text x="119.10" y="56.10" font-size="18.5" style="">4</text>
<text x="151.41" y="65.40" font-size="26" style="">10</text><path d="M177.00 51.2H186.10" stroke="#000" stroke-width="1.05"/><text x="186.80" y="56.10" font-size="18.5" style="">3</text>
<text x="218.41" y="65.40" font-size="26" style="">10</text><path d="M244.00 51.2H253.10" stroke="#000" stroke-width="1.05"/><text x="253.80" y="56.10" font-size="18.5" style="">2</text>
<text x="285.31" y="65.40" font-size="26" style="">10</text><path d="M310.90 51.2H320.00" stroke="#000" stroke-width="1.05"/><text x="320.70" y="56.10" font-size="18.5" style="">1</text>
<text x="205.71" y="26.60" font-size="29" style="font-style:italic;">St</text><text x="228.71" y="30.70" font-size="20" style="font-style:italic;">δ</text>
<g transform="translate(179.90 388.40)"><path d="M16.5 -19.4C15.5 -20.7 13.2 -20.5 11.9 -18.0C10.2 -14.6 8.5 -5.9 6.7 -0.2C5.7 3.1 4.2 5.8 2.3 5.6C1.7 5.5 1.3 5.2 1.1 4.7" fill="none" stroke="#000" stroke-width="1.4"/><path d="M5.3 -12.0H13.7" stroke="#000" stroke-width="1.1"/><circle cx="16.0" cy="-18.6" r="1.1"/><circle cx="1.6" cy="4.4" r="1.1"/></g><text x="199.90" y="388.40" font-size="29" style="" textLength="55.2" lengthAdjust="spacingAndGlyphs">(Hz)</text>
<text x="481.70" y="325.80" font-size="26" style="" text-anchor="end">0</text>
<text x="481.70" y="266.69" font-size="26" style="" text-anchor="end">0.025</text>
<text x="481.70" y="207.58" font-size="26" style="" text-anchor="end">0.050</text>
<text x="481.70" y="148.47" font-size="26" style="" text-anchor="end">0.075</text>
<text x="481.70" y="89.36" font-size="26" style="" text-anchor="end">0.100</text>
<text x="471.91" y="349.00" font-size="26" style="">10</text><text x="497.21" y="339.30" font-size="18.5" style="">1</text>
<text x="538.79" y="349.00" font-size="26" style="">10</text><text x="564.09" y="339.30" font-size="18.5" style="">2</text>
<text x="605.67" y="349.00" font-size="26" style="">10</text><text x="630.97" y="339.30" font-size="18.5" style="">3</text>
<text x="672.55" y="349.00" font-size="26" style="">10</text><text x="697.85" y="339.30" font-size="18.5" style="">4</text>
<text x="739.43" y="349.00" font-size="26" style="">10</text><text x="764.73" y="339.30" font-size="18.5" style="">5</text>
<text x="484.21" y="65.40" font-size="26" style="">10</text><path d="M509.80 51.2H518.90" stroke="#000" stroke-width="1.05"/><text x="519.60" y="56.10" font-size="18.5" style="">4</text>
<text x="551.41" y="65.40" font-size="26" style="">10</text><path d="M577.00 51.2H586.10" stroke="#000" stroke-width="1.05"/><text x="586.80" y="56.10" font-size="18.5" style="">3</text>
<text x="618.51" y="65.40" font-size="26" style="">10</text><path d="M644.10 51.2H653.20" stroke="#000" stroke-width="1.05"/><text x="653.90" y="56.10" font-size="18.5" style="">2</text>
<text x="685.71" y="65.40" font-size="26" style="">10</text><path d="M711.30 51.2H720.40" stroke="#000" stroke-width="1.05"/><text x="721.10" y="56.10" font-size="18.5" style="">1</text>
<text x="604.81" y="26.60" font-size="29" style="font-style:italic;">St</text><text x="627.81" y="30.70" font-size="20" style="font-style:italic;">δ</text>
<g transform="translate(578.80 388.40)"><path d="M16.5 -19.4C15.5 -20.7 13.2 -20.5 11.9 -18.0C10.2 -14.6 8.5 -5.9 6.7 -0.2C5.7 3.1 4.2 5.8 2.3 5.6C1.7 5.5 1.3 5.2 1.1 4.7" fill="none" stroke="#000" stroke-width="1.4"/><path d="M5.3 -12.0H13.7" stroke="#000" stroke-width="1.1"/><circle cx="16.0" cy="-18.6" r="1.1"/><circle cx="1.6" cy="4.4" r="1.1"/></g><text x="598.80" y="388.40" font-size="29" style="" textLength="55.2" lengthAdjust="spacingAndGlyphs">(Hz)</text>
<text x="866.20" y="325.80" font-size="26" style="" text-anchor="end">0</text>
<text x="866.20" y="275.65" font-size="26" style="" text-anchor="end">0.25</text>
<text x="866.20" y="225.51" font-size="26" style="" text-anchor="end">0.50</text>
<text x="866.20" y="175.36" font-size="26" style="" text-anchor="end">0.75</text>
<text x="866.20" y="125.22" font-size="26" style="" text-anchor="end">1.00</text>
<text x="856.01" y="349.00" font-size="26" style="">10</text><text x="881.31" y="339.30" font-size="18.5" style="">1</text>
<text x="922.89" y="349.00" font-size="26" style="">10</text><text x="948.19" y="339.30" font-size="18.5" style="">2</text>
<text x="989.77" y="349.00" font-size="26" style="">10</text><text x="1015.07" y="339.30" font-size="18.5" style="">3</text>
<text x="1056.65" y="349.00" font-size="26" style="">10</text><text x="1081.95" y="339.30" font-size="18.5" style="">4</text>
<text x="1123.53" y="349.00" font-size="26" style="">10</text><text x="1148.83" y="339.30" font-size="18.5" style="">5</text>
<text x="866.51" y="65.40" font-size="26" style="">10</text><path d="M892.10 51.2H901.20" stroke="#000" stroke-width="1.05"/><text x="901.90" y="56.10" font-size="18.5" style="">4</text>
<text x="933.71" y="65.40" font-size="26" style="">10</text><path d="M959.30 51.2H968.40" stroke="#000" stroke-width="1.05"/><text x="969.10" y="56.10" font-size="18.5" style="">3</text>
<text x="1001.01" y="65.40" font-size="26" style="">10</text><path d="M1026.60 51.2H1035.70" stroke="#000" stroke-width="1.05"/><text x="1036.40" y="56.10" font-size="18.5" style="">2</text>
<text x="1068.21" y="65.40" font-size="26" style="">10</text><path d="M1093.80 51.2H1102.90" stroke="#000" stroke-width="1.05"/><text x="1103.60" y="56.10" font-size="18.5" style="">1</text>
<text x="989.16" y="26.60" font-size="29" style="font-style:italic;">St</text><text x="1012.16" y="30.70" font-size="20" style="font-style:italic;">δ</text>
<g transform="translate(963.30 388.40)"><path d="M16.5 -19.4C15.5 -20.7 13.2 -20.5 11.9 -18.0C10.2 -14.6 8.5 -5.9 6.7 -0.2C5.7 3.1 4.2 5.8 2.3 5.6C1.7 5.5 1.3 5.2 1.1 4.7" fill="none" stroke="#000" stroke-width="1.4"/><path d="M5.3 -12.0H13.7" stroke="#000" stroke-width="1.1"/><circle cx="16.0" cy="-18.6" r="1.1"/><circle cx="1.6" cy="4.4" r="1.1"/></g><text x="983.30" y="388.40" font-size="29" style="" textLength="55.2" lengthAdjust="spacingAndGlyphs">(Hz)</text>
<text x="-0.27" y="24.50" font-size="29" style="">(</text><text x="9.24" y="24.50" font-size="29" style="font-style:italic;">a</text><text x="25.00" y="24.50" font-size="29" style="">)</text>
<text x="387.80" y="24.50" font-size="29" style="">(</text><text x="397.10" y="24.50" font-size="29" style="font-style:italic;">b</text><text x="413.20" y="24.50" font-size="29" style="">)</text>
<text x="787.40" y="24.50" font-size="29" style="">(</text><text x="797.90" y="24.50" font-size="29" style="font-style:italic;">c</text><text x="811.70" y="24.50" font-size="29" style="">)</text>
<g transform="translate(28.30 231.10) rotate(-90)"><path d="M16.5 -19.4C15.5 -20.7 13.2 -20.5 11.9 -18.0C10.2 -14.6 8.5 -5.9 6.7 -0.2C5.7 3.1 4.2 5.8 2.3 5.6C1.7 5.5 1.3 5.2 1.1 4.7" fill="none" stroke="#000" stroke-width="1.4"/><path d="M5.3 -12.0H13.7" stroke="#000" stroke-width="1.1"/><circle cx="16.0" cy="-18.6" r="1.1"/><circle cx="1.6" cy="4.4" r="1.1"/></g><g transform="translate(28.3 231.1) rotate(-90)"><text x="9.20" y="0.00" font-size="29" style="font-style:italic;" textLength="24.3" lengthAdjust="spacingAndGlyphs">G</text><text x="33.85" y="3.60" font-size="20" style="font-style:italic;">xx</text></g>
</svg></body></html>
